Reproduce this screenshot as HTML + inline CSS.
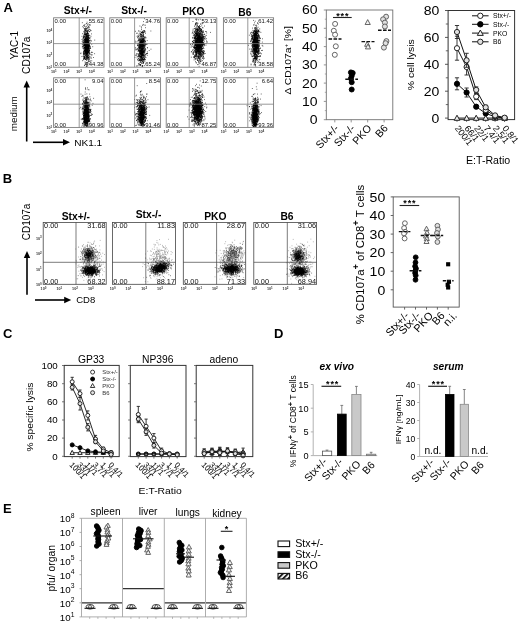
<!DOCTYPE html>
<html lang="en"><head><meta charset="utf-8"><title>Figure</title>
<style>
html,body{margin:0;padding:0;background:#fff;}
svg{display:block;font-family:'Liberation Sans', sans-serif;}
</style></head><body>
<svg width="520" height="623" viewBox="0 0 520 623" fill="#000">
<rect width="520" height="623" fill="#fff"/>
<text font-size="13" x="3.4" y="12.4" font-weight="bold">A</text>
<text font-size="10.3" x="77.8" y="13.8" text-anchor="middle" font-weight="bold">Stx+/-</text>
<text font-size="10.3" x="134.0" y="13.8" text-anchor="middle" font-weight="bold">Stx-/-</text>
<text font-size="10.3" x="193.4" y="15.0" text-anchor="middle" font-weight="bold">PKO</text>
<text font-size="10.3" x="244.8" y="15.7" text-anchor="middle" font-weight="bold">B6</text>
<path d="M85.8 49.6h0.75M85.8 43.0h0.75M84.7 43.8h0.75M88.0 48.9h0.75M87.9 47.5h0.75M86.8 47.0h0.75M83.5 52.3h0.75M87.0 49.5h0.75M83.5 31.5h0.75M84.8 41.8h0.75M86.7 45.1h0.75M87.0 40.4h0.75M86.7 48.7h0.75M85.1 59.2h0.75M87.1 55.1h0.75M85.2 39.6h0.75M85.6 44.6h0.75M87.2 47.5h0.75M85.5 37.8h0.75M85.4 55.3h0.75M84.9 47.5h0.75M86.9 33.6h0.75M86.3 55.9h0.75M83.0 42.9h0.75M86.0 39.0h0.75M87.0 45.0h0.75M83.9 52.1h0.75M87.3 53.1h0.75M88.5 48.4h0.75M86.4 35.1h0.75M87.2 40.6h0.75M85.5 35.4h0.75M84.7 41.3h0.75M88.3 29.2h0.75M83.9 47.4h0.75M88.5 50.1h0.75M83.2 25.4h0.75M86.8 39.6h0.75M84.4 53.3h0.75M88.0 46.8h0.75M86.6 49.0h0.75M88.8 50.5h0.75M87.0 49.9h0.75M83.7 55.8h0.75M87.7 49.7h0.75M83.0 40.4h0.75M87.5 31.0h0.75M85.9 53.7h0.75M84.1 58.4h0.75M87.1 44.3h0.75M86.7 50.7h0.75M86.4 54.7h0.75M85.1 42.2h0.75M87.9 45.7h0.75M84.8 53.1h0.75M88.5 41.9h0.75M84.0 44.4h0.75M86.0 43.1h0.75M88.4 37.3h0.75M88.2 35.4h0.75M84.9 50.6h0.75M88.0 52.4h0.75M86.8 46.6h0.75M86.4 50.1h0.75M85.9 47.7h0.75M87.1 45.5h0.75M87.4 50.0h0.75M89.4 48.1h0.75M85.5 42.5h0.75M86.2 52.9h0.75M85.7 48.6h0.75M89.1 25.0h0.75M84.4 47.5h0.75M86.8 47.4h0.75M85.5 50.7h0.75M86.7 41.3h0.75M90.1 48.3h0.75M85.3 44.7h0.75M85.8 45.0h0.75M81.8 41.6h0.75M87.8 36.2h0.75M86.1 53.1h0.75M87.6 57.4h0.75M83.5 42.7h0.75M85.7 50.5h0.75M87.9 24.0h0.75M87.9 33.9h0.75M87.3 33.6h0.75M86.5 55.1h0.75M86.0 47.0h0.75M87.5 46.6h0.75M86.1 57.8h0.75M87.9 43.1h0.75M90.6 36.3h0.75M87.7 43.4h0.75M86.4 51.1h0.75M86.6 50.6h0.75M83.8 33.4h0.75M87.2 37.8h0.75M84.6 33.7h0.75M88.2 51.5h0.75M88.6 38.0h0.75M86.2 36.4h0.75M87.4 58.2h0.75M84.8 58.0h0.75M87.8 44.1h0.75M83.0 56.8h0.75M86.0 40.7h0.75M86.8 48.8h0.75M88.6 37.3h0.75M88.0 57.4h0.75M88.5 44.1h0.75M85.0 53.6h0.75M86.4 46.5h0.75M88.5 43.4h0.75M82.5 42.4h0.75M83.2 52.1h0.75M86.7 40.6h0.75M86.2 52.2h0.75M86.3 56.1h0.75M86.1 53.8h0.75M88.6 58.4h0.75M85.1 52.5h0.75M83.2 36.8h0.75M83.1 54.1h0.75M84.2 45.4h0.75M85.9 45.3h0.75M85.3 47.4h0.75M89.1 45.9h0.75M87.0 53.5h0.75M85.9 35.4h0.75M85.3 54.1h0.75M83.6 40.7h0.75M87.8 51.8h0.75M86.2 51.9h0.75M86.5 36.1h0.75M83.7 40.4h0.75M87.7 41.0h0.75M84.8 39.3h0.75M83.7 44.6h0.75M84.3 48.4h0.75M82.4 48.1h0.75M85.2 30.0h0.75M87.4 43.3h0.75M82.6 38.5h0.75M86.7 41.8h0.75M87.4 51.5h0.75M87.3 48.1h0.75M88.3 50.8h0.75M86.9 28.8h0.75M87.6 56.0h0.75M85.7 41.7h0.75M89.3 31.4h0.75M87.0 64.9h0.75M84.7 51.0h0.75M89.2 44.5h0.75M87.1 52.7h0.75M84.8 44.8h0.75M86.7 52.1h0.75M86.1 43.9h0.75M84.6 42.6h0.75M87.6 46.3h0.75M84.8 38.8h0.75M90.5 54.6h0.75M87.2 24.8h0.75M87.2 49.3h0.75M88.9 48.9h0.75M86.1 49.7h0.75M83.1 53.8h0.75M86.7 39.9h0.75M88.3 60.0h0.75M84.0 40.2h0.75M86.7 47.0h0.75M85.6 37.7h0.75M89.6 53.8h0.75M84.3 34.7h0.75M88.9 53.4h0.75M89.1 52.0h0.75M84.8 47.6h0.75M82.7 39.5h0.75M86.1 49.7h0.75M85.0 44.5h0.75M86.9 48.5h0.75M87.2 47.2h0.75M85.7 51.8h0.75M86.3 38.9h0.75M85.2 45.5h0.75M86.0 46.8h0.75M86.2 46.9h0.75M86.0 35.4h0.75M86.9 53.9h0.75M86.9 44.0h0.75M86.9 37.8h0.75M83.2 46.0h0.75M84.7 51.4h0.75M84.5 24.5h0.75M84.5 58.1h0.75M85.6 34.5h0.75M85.0 49.7h0.75M87.0 46.9h0.75M88.6 51.2h0.75M86.2 50.3h0.75M88.8 53.3h0.75M87.8 36.8h0.75M86.0 51.3h0.75M85.7 54.1h0.75M87.2 52.8h0.75M85.9 65.9h0.75M88.2 43.8h0.75M86.3 66.3h0.75M85.7 52.5h0.75M87.8 45.6h0.75M84.3 47.0h0.75M86.8 54.5h0.75M87.5 45.7h0.75M87.6 49.8h0.75M86.5 45.9h0.75M85.8 51.0h0.75M84.5 40.5h0.75M86.2 33.8h0.75M85.5 29.4h0.75M85.1 50.0h0.75M87.1 45.1h0.75M85.8 34.2h0.75M89.1 49.6h0.75M87.9 38.4h0.75M85.9 30.9h0.75M87.4 53.0h0.75M83.2 45.1h0.75M87.2 31.4h0.75M83.3 37.0h0.75M85.2 34.3h0.75M86.3 47.5h0.75M87.2 51.1h0.75M88.6 54.8h0.75M84.1 41.5h0.75M84.5 36.9h0.75M86.1 45.5h0.75M87.0 32.8h0.75M84.2 45.3h0.75M85.9 43.0h0.75M86.1 39.4h0.75M87.3 48.3h0.75M86.1 40.1h0.75M85.9 23.7h0.75M84.6 45.8h0.75M83.8 47.1h0.75M86.4 34.5h0.75M85.8 43.0h0.75M86.9 50.4h0.75M86.1 38.7h0.75M86.0 45.0h0.75M87.4 47.9h0.75M85.0 34.7h0.75M85.6 39.6h0.75M84.4 44.6h0.75M85.4 46.3h0.75M87.0 42.2h0.75M89.9 42.9h0.75M88.0 46.5h0.75M88.0 26.5h0.75M85.0 47.5h0.75M87.2 64.2h0.75M86.7 55.7h0.75M87.4 53.1h0.75M87.0 44.3h0.75M87.0 36.9h0.75M88.1 37.4h0.75M86.6 62.5h0.75M85.8 45.7h0.75M88.1 45.7h0.75M84.9 47.6h0.75M87.1 51.2h0.75M85.0 59.5h0.75M88.9 45.6h0.75M86.6 42.1h0.75M88.5 39.9h0.75M87.3 41.7h0.75M85.1 51.2h0.75M88.3 45.4h0.75M85.1 52.0h0.75M86.1 48.0h0.75M88.6 54.6h0.75M85.4 63.8h0.75M86.2 51.8h0.75M85.2 45.1h0.75M83.4 59.8h0.75M88.4 35.8h0.75M83.8 32.5h0.75M88.1 41.8h0.75M86.1 43.0h0.75M86.0 36.8h0.75M86.2 34.0h0.75M86.1 48.0h0.75M86.9 43.6h0.75M84.8 46.8h0.75M85.4 58.0h0.75M87.4 44.6h0.75M85.4 39.9h0.75M84.7 42.7h0.75M86.7 49.6h0.75M87.1 62.3h0.75M85.1 45.6h0.75M90.7 30.6h0.75M85.4 46.9h0.75M86.4 48.8h0.75M85.8 48.4h0.75M86.3 51.7h0.75M83.2 38.4h0.75M86.2 37.2h0.75M84.5 50.5h0.75M85.2 50.6h0.75M87.4 48.0h0.75M87.0 44.7h0.75M83.9 45.3h0.75M86.9 41.3h0.75M86.0 51.5h0.75M84.8 50.6h0.75M89.2 41.1h0.75M86.4 44.3h0.75M88.7 48.0h0.75M87.6 40.0h0.75M86.2 45.4h0.75M83.4 57.0h0.75M87.6 31.5h0.75M87.4 44.5h0.75M86.9 48.4h0.75M83.8 43.8h0.75M88.6 40.9h0.75M84.6 34.6h0.75M84.2 48.2h0.75M88.9 48.9h0.75M86.6 63.4h0.75M85.4 40.1h0.75M87.0 49.9h0.75M84.6 36.1h0.75M86.7 47.5h0.75M84.1 43.9h0.75M85.3 49.2h0.75M86.0 44.8h0.75M85.6 53.9h0.75M88.4 42.6h0.75M87.6 39.4h0.75M86.3 51.5h0.75M88.6 42.4h0.75M86.1 47.1h0.75M83.8 45.6h0.75M85.1 48.5h0.75M84.4 29.7h0.75M86.3 47.6h0.75M85.3 52.6h0.75M85.8 40.7h0.75M87.0 33.0h0.75M85.1 45.3h0.75M87.6 44.2h0.75M86.7 40.3h0.75M86.7 58.8h0.75M85.1 64.4h0.75M85.2 45.6h0.75M86.5 53.7h0.75M84.2 28.7h0.75M87.2 51.9h0.75M86.5 47.5h0.75M87.7 48.5h0.75M88.9 35.6h0.75M87.5 42.5h0.75M87.7 62.7h0.75M86.2 43.5h0.75M85.4 38.8h0.75M85.2 50.6h0.75M86.3 46.0h0.75M85.9 52.8h0.75M87.0 44.4h0.75M87.3 44.3h0.75M84.4 57.1h0.75M86.9 37.8h0.75M87.9 48.3h0.75M83.7 58.4h0.75M86.7 52.6h0.75M86.5 44.3h0.75M83.7 53.3h0.75M86.2 43.2h0.75M86.8 46.1h0.75M87.3 42.5h0.75M86.1 28.4h0.75M85.5 50.9h0.75M88.3 42.6h0.75M86.0 58.2h0.75M85.7 51.4h0.75M88.9 45.8h0.75M88.2 39.8h0.75M86.5 44.9h0.75M86.4 54.5h0.75M90.0 40.2h0.75M85.3 49.5h0.75M84.5 49.5h0.75M87.1 43.3h0.75M87.0 33.1h0.75M87.4 33.1h0.75M85.1 41.1h0.75M85.6 52.4h0.75M86.3 42.3h0.75M87.1 58.2h0.75M86.2 48.4h0.75M88.2 47.6h0.75M84.1 65.4h0.75M89.7 29.6h0.75M86.1 48.8h0.75M87.7 50.9h0.75M85.8 37.1h0.75M86.4 53.8h0.75M84.5 37.3h0.75M86.2 30.0h0.75M85.8 42.0h0.75M86.9 39.9h0.75M84.8 42.3h0.75M86.1 40.2h0.75M86.2 51.5h0.75M88.1 59.1h0.75M84.9 42.1h0.75M82.2 60.7h0.75M85.0 45.2h0.75M87.0 34.6h0.75M86.9 45.3h0.75M83.3 47.8h0.75M88.1 30.6h0.75M87.5 47.2h0.75M87.0 49.0h0.75M88.3 43.7h0.75M87.6 42.2h0.75M87.4 39.0h0.75M86.0 59.3h0.75M86.9 44.2h0.75M84.4 39.2h0.75M86.5 53.0h0.75M86.9 49.7h0.75M86.1 56.3h0.75M85.6 41.1h0.75M87.6 46.0h0.75M85.8 40.9h0.75M85.8 50.5h0.75M86.8 35.8h0.75M86.9 46.9h0.75M84.6 51.7h0.75M85.8 42.8h0.75M87.5 56.1h0.75M85.1 49.0h0.75M84.8 64.0h0.75M85.4 55.1h0.75M85.2 52.0h0.75M89.8 25.2h0.75M85.5 49.5h0.75M86.1 40.2h0.75M89.6 46.1h0.75M83.6 52.3h0.75M83.4 54.7h0.75M85.3 46.7h0.75M88.2 46.4h0.75M84.0 31.9h0.75M88.1 51.4h0.75M84.9 52.4h0.75M87.0 50.7h0.75M82.6 43.1h0.75M87.6 51.4h0.75M87.6 25.8h0.75M86.5 49.4h0.75M90.3 37.9h0.75M85.7 45.8h0.75M87.6 42.0h0.75M88.0 39.2h0.75M86.6 41.3h0.75M86.5 40.0h0.75M83.6 54.2h0.75M86.7 41.0h0.75M86.5 53.4h0.75M84.6 44.6h0.75M87.1 49.7h0.75M85.7 28.6h0.75M88.2 48.1h0.75M86.2 43.3h0.75M86.6 42.1h0.75M84.6 39.6h0.75M85.2 40.6h0.75M84.3 50.6h0.75M84.1 50.8h0.75M84.6 48.3h0.75M88.4 47.1h0.75M85.0 45.9h0.75M86.4 31.6h0.75M85.2 46.8h0.75M85.4 46.1h0.75M87.4 51.6h0.75M87.6 50.2h0.75M85.7 45.4h0.75M85.8 43.0h0.75M85.9 31.7h0.75M85.7 45.3h0.75M84.6 45.3h0.75M87.0 44.2h0.75M89.5 24.6h0.75M85.9 30.9h0.75M82.2 46.5h0.75M87.0 43.1h0.75M87.1 27.6h0.75M87.6 48.5h0.75M86.2 40.8h0.75M87.2 41.6h0.75M86.6 41.4h0.75M82.6 45.2h0.75M86.5 51.5h0.75M84.8 45.2h0.75M87.2 46.7h0.75M88.2 61.4h0.75M84.7 30.1h0.75M87.6 57.7h0.75M87.7 52.0h0.75M85.2 39.8h0.75M87.6 38.2h0.75M83.3 37.5h0.75M90.2 60.9h0.75M85.1 39.7h0.75M86.6 39.5h0.75M88.3 44.9h0.75M84.5 56.0h0.75M85.3 47.3h0.75M86.2 43.0h0.75M86.7 40.0h0.75M83.2 27.8h0.75M84.2 39.4h0.75M86.2 45.9h0.75M87.1 46.5h0.75M84.9 39.8h0.75M82.8 44.1h0.75M87.0 49.7h0.75M86.0 44.1h0.75M87.7 45.6h0.75M87.4 50.2h0.75M86.5 56.0h0.75M85.3 42.6h0.75M84.9 39.1h0.75M88.7 59.6h0.75M86.2 50.0h0.75M88.1 52.0h0.75M88.1 35.4h0.75M85.2 49.1h0.75M88.5 46.3h0.75M84.8 42.7h0.75M85.1 38.6h0.75M88.6 40.5h0.75M86.2 62.8h0.75M88.1 48.2h0.75M85.2 48.8h0.75M88.8 50.5h0.75M88.2 46.3h0.75M87.0 43.9h0.75M86.9 55.9h0.75M83.9 45.0h0.75M86.6 40.9h0.75M85.7 51.8h0.75M89.4 50.5h0.75M86.7 33.1h0.75M89.3 46.1h0.75M86.1 36.6h0.75M86.1 36.7h0.75M86.3 49.2h0.75M86.2 47.7h0.75M84.8 56.9h0.75M85.2 31.0h0.75M85.9 39.4h0.75M84.6 42.7h0.75M86.7 36.0h0.75M86.0 56.9h0.75M87.3 44.3h0.75M86.4 44.5h0.75M86.1 51.4h0.75M86.1 26.3h0.75M86.2 38.4h0.75M87.2 40.6h0.75M86.4 62.9h0.75M84.5 36.5h0.75M83.9 26.3h0.75M83.2 48.4h0.75M85.2 30.6h0.75M83.8 50.4h0.75M85.0 42.6h0.75M86.7 56.4h0.75M89.3 53.8h0.75M86.4 47.0h0.75M89.1 56.9h0.75M85.7 49.2h0.75M86.7 45.9h0.75M85.4 34.9h0.75M85.3 33.1h0.75M88.2 49.8h0.75M84.3 56.7h0.75M87.6 30.2h0.75M89.1 52.0h0.75M89.5 35.7h0.75M87.0 48.9h0.75M86.5 46.9h0.75M87.9 33.5h0.75M84.2 34.3h0.75M85.3 40.7h0.75M86.8 47.6h0.75M86.3 40.1h0.75M85.5 53.1h0.75M87.4 46.3h0.75M85.7 57.9h0.75M85.2 50.7h0.75M88.0 43.4h0.75M87.5 36.6h0.75M87.8 47.1h0.75M83.7 50.9h0.75M84.8 55.8h0.75M85.1 44.2h0.75M86.7 42.8h0.75M86.6 41.1h0.75M87.3 45.5h0.75M86.5 23.5h0.75M88.1 45.8h0.75M83.3 46.3h0.75M86.9 54.1h0.75M84.5 57.9h0.75M85.9 64.7h0.75M86.0 50.9h0.75M85.6 36.6h0.75M88.0 52.8h0.75M88.7 52.4h0.75M85.3 32.2h0.75M85.2 40.1h0.75M84.9 50.2h0.75M86.7 43.3h0.75M86.5 44.3h0.75M86.5 51.5h0.75M87.7 40.0h0.75M83.8 56.9h0.75M86.4 54.3h0.75M83.6 42.9h0.75M86.2 34.0h0.75M85.4 51.3h0.75M87.9 58.3h0.75M84.8 34.3h0.75M87.0 53.0h0.75M86.5 35.1h0.75M87.5 51.8h0.75M87.1 41.6h0.75M86.7 51.8h0.75M85.3 30.8h0.75M86.7 49.3h0.75M86.2 52.6h0.75M85.3 44.8h0.75M85.7 50.1h0.75M88.8 43.5h0.75M89.5 57.7h0.75M87.5 50.2h0.75M89.0 44.1h0.75M86.0 37.0h0.75M87.0 56.3h0.75M87.1 48.9h0.75M85.9 46.9h0.75M83.9 53.9h0.75M85.5 36.7h0.75M85.0 38.9h0.75M87.6 54.0h0.75M84.0 52.9h0.75M87.6 40.9h0.75M83.8 39.5h0.75M85.2 48.2h0.75M85.6 29.3h0.75M86.6 33.2h0.75M87.6 35.8h0.75M85.1 38.7h0.75M85.3 55.9h0.75M87.6 50.3h0.75M86.7 33.1h0.75M85.4 41.1h0.75M84.6 49.6h0.75M85.0 39.8h0.75M84.5 29.0h0.75M87.2 56.1h0.75M86.5 37.7h0.75M81.9 46.9h0.75M88.1 47.9h0.75M87.7 57.3h0.75M88.0 42.0h0.75M87.9 51.7h0.75M83.7 42.3h0.75M83.9 44.6h0.75M87.1 37.0h0.75M82.9 55.9h0.75M86.8 57.3h0.75M84.1 54.0h0.75M89.5 61.6h0.75M85.9 47.7h0.75M86.0 53.5h0.75M87.9 46.2h0.75M84.0 51.4h0.75M85.4 50.5h0.75M86.6 58.5h0.75M88.0 41.9h0.75M86.8 59.6h0.75M85.3 49.0h0.75M88.1 55.6h0.75M87.0 34.9h0.75M84.2 47.5h0.75M86.8 65.9h0.75M84.8 54.6h0.75M87.4 32.1h0.75M84.9 46.8h0.75M85.4 44.3h0.75M87.0 39.0h0.75M86.9 40.4h0.75M85.3 49.8h0.75M85.3 47.8h0.75M88.8 45.7h0.75M86.0 51.4h0.75M85.6 54.2h0.75M84.1 50.4h0.75M85.4 39.1h0.75M89.0 38.7h0.75M89.0 50.8h0.75M88.5 37.7h0.75M88.1 57.2h0.75M86.0 44.5h0.75M90.1 46.9h0.75M85.5 40.5h0.75M86.9 48.1h0.75M86.5 59.3h0.75M85.7 49.3h0.75M88.5 37.5h0.75M87.9 60.2h0.75M84.0 36.7h0.75M84.5 30.7h0.75M86.9 30.7h0.75M87.0 57.1h0.75M83.6 43.0h0.75M83.1 51.7h0.75M85.0 43.4h0.75M86.3 49.9h0.75M85.6 45.6h0.75M85.3 46.4h0.75M84.3 46.0h0.75M83.1 41.6h0.75M89.3 46.1h0.75M84.2 47.6h0.75M84.6 32.3h0.75M85.0 51.4h0.75M86.8 44.7h0.75M84.7 36.9h0.75M88.4 47.5h0.75M84.7 28.6h0.75M84.0 65.3h0.75M84.4 44.9h0.75M86.5 44.2h0.75M85.8 34.5h0.75M84.5 59.0h0.75M85.0 52.3h0.75M83.5 43.3h0.75M86.6 53.8h0.75M84.4 50.3h0.75M86.8 39.6h0.75M87.0 38.3h0.75M84.9 45.3h0.75M81.9 44.6h0.75M84.6 33.8h0.75M85.5 51.6h0.75M85.6 55.6h0.75M84.3 35.0h0.75M88.7 48.7h0.75M87.7 38.9h0.75M87.5 47.6h0.75M87.2 45.7h0.75M88.1 40.3h0.75M84.7 33.7h0.75M88.1 39.6h0.75M84.5 38.0h0.75M85.5 35.3h0.75M85.7 40.5h0.75M85.3 37.8h0.75M86.3 41.8h0.75M86.4 47.5h0.75M86.7 28.0h0.75M85.3 39.1h0.75M87.4 32.9h0.75M85.1 43.1h0.75M85.7 53.4h0.75M85.5 53.2h0.75M83.9 31.0h0.75M88.2 49.0h0.75M87.0 46.5h0.75M87.0 35.8h0.75M87.7 41.2h0.75M87.8 46.2h0.75M83.0 35.2h0.75M88.0 44.4h0.75M85.6 47.4h0.75M85.5 41.1h0.75M86.4 46.7h0.75M88.6 45.9h0.75M89.2 59.9h0.75M91.0 58.1h0.75M86.8 48.4h0.75M86.1 39.3h0.75M86.3 40.3h0.75M90.8 52.6h0.75M85.3 26.9h0.75M86.4 42.6h0.75M83.7 35.1h0.75M80.6 53.0h0.75M86.4 45.4h0.75M90.3 48.4h0.75M86.9 43.1h0.75M84.9 62.7h0.75M89.1 65.0h0.75M85.6 47.3h0.75M84.2 57.2h0.75M82.9 52.9h0.75M89.3 61.8h0.75M84.1 58.4h0.75M84.6 39.1h0.75M83.1 59.1h0.75M90.8 40.8h0.75M84.5 43.4h0.75M93.0 57.5h0.75M85.1 28.2h0.75M84.8 59.5h0.75M91.4 44.2h0.75M84.7 41.6h0.75M81.6 56.5h0.75M83.7 58.2h0.75M82.1 33.7h0.75M87.2 39.0h0.75M88.5 47.1h0.75M83.4 53.5h0.75M88.7 26.9h0.75M91.2 52.2h0.75M88.5 27.5h0.75M84.6 43.3h0.75M89.3 31.7h0.75M84.2 25.7h0.75M85.9 50.6h0.75M82.1 40.8h0.75M87.8 63.6h0.75M88.2 43.8h0.75M83.4 37.2h0.75M84.8 48.5h0.75M86.4 64.5h0.75M87.2 35.7h0.75M90.5 57.0h0.75M86.8 39.4h0.75M81.6 36.3h0.75M88.9 38.6h0.75M83.1 49.1h0.75M87.1 53.4h0.75M88.2 61.8h0.75M84.3 57.3h0.75M83.9 54.3h0.75M87.0 49.6h0.75M89.0 46.8h0.75M89.4 56.2h0.75M86.9 41.0h0.75M84.5 41.5h0.75M86.0 46.7h0.75M94.3 53.7h0.75M88.5 38.0h0.75M84.7 43.6h0.75M87.0 36.1h0.75M90.7 41.1h0.75M89.3 22.5h0.75M86.5 49.9h0.75M87.0 53.3h0.75M87.2 48.7h0.75M81.6 39.5h0.75M80.4 53.6h0.75M87.3 44.9h0.75M84.4 40.9h0.75M91.3 65.2h0.75M86.3 60.5h0.75M82.4 26.7h0.75M85.2 37.8h0.75M85.0 49.0h0.75M94.4 40.1h0.75M86.6 49.9h0.75M86.4 56.8h0.75M91.1 33.9h0.75M86.9 44.2h0.75M87.4 30.9h0.75M81.9 22.7h0.75M87.9 49.0h0.75M86.7 22.2h0.75M85.5 39.1h0.75M82.8 37.4h0.75M88.3 52.7h0.75M86.4 52.4h0.75M84.9 47.7h0.75M86.6 52.8h0.75M86.3 45.5h0.75M86.1 40.2h0.75M92.3 52.4h0.75M90.1 30.7h0.75M88.3 55.8h0.75M91.4 60.8h0.75M88.5 34.6h0.75M84.2 49.8h0.75M87.8 36.3h0.75M85.5 42.8h0.75M86.7 50.5h0.75M85.8 34.0h0.75M89.7 63.8h0.75M86.2 57.8h0.75M87.7 53.9h0.75M87.8 39.0h0.75M88.0 57.6h0.75M91.9 66.1h0.75M91.7 54.8h0.75M85.6 40.7h0.75M84.4 48.2h0.75M86.4 54.0h0.75M92.4 46.7h0.75M88.3 52.0h0.75M87.2 44.8h0.75M86.2 38.3h0.75M87.0 46.7h0.75M87.3 38.0h0.75M86.6 47.5h0.75M88.1 35.8h0.75M87.6 57.3h0.75M88.1 43.1h0.75M85.2 44.5h0.75M88.4 63.3h0.75M86.1 40.3h0.75M87.5 49.1h0.75M84.1 39.3h0.75M86.2 54.1h0.75M83.4 36.3h0.75M87.8 34.1h0.75M86.8 50.7h0.75M86.2 36.3h0.75M86.3 43.5h0.75M87.4 38.2h0.75M89.3 29.4h0.75M86.0 47.1h0.75M89.0 40.6h0.75M87.9 41.0h0.75M88.4 65.2h0.75M85.5 51.7h0.75M84.1 57.2h0.75M89.6 47.4h0.75M83.5 51.2h0.75M89.5 58.4h0.75M88.6 27.8h0.75M84.7 61.9h0.75M83.3 58.9h0.75M91.4 55.0h0.75M89.4 43.5h0.75M83.3 45.9h0.75M86.0 46.5h0.75M88.3 45.5h0.75M87.0 51.5h0.75M86.5 66.4h0.75" stroke="#000" stroke-width="0.75" opacity="1" fill="none"/>
<rect x="53.6" y="17.8" width="50.4" height="49.4" fill="none" stroke="#777" stroke-width="0.85"/>
<line x1="79.2" y1="17.8" x2="79.2" y2="67.2" stroke="#777" stroke-width="0.75"/>
<line x1="53.6" y1="43.6" x2="104.0" y2="43.6" stroke="#777" stroke-width="0.75"/>
<rect x="88.3" y="18.4" width="14.8" height="4.7" fill="#fff" opacity="0.85"/>
<rect x="88.3" y="61.9" width="14.8" height="4.7" fill="#fff" opacity="0.85"/>
<text font-size="5.9" x="54.5" y="22.5" fill="#111">0.00</text>
<text font-size="5.9" x="103.5" y="22.5" text-anchor="end" fill="#111">55.62</text>
<text font-size="5.9" x="54.5" y="66.4" fill="#111">0.00</text>
<text font-size="5.9" x="103.5" y="66.4" text-anchor="end" fill="#111">44.38</text>
<text font-size="3.7" x="51.0" y="73.2" font-weight="bold" fill="#333">10<tspan dy="-1.3" font-size="3.0">1</tspan></text>
<text font-size="3.7" x="63.6" y="73.2" font-weight="bold" fill="#333">10<tspan dy="-1.3" font-size="3.0">2</tspan></text>
<text font-size="3.7" x="76.2" y="73.2" font-weight="bold" fill="#333">10<tspan dy="-1.3" font-size="3.0">3</tspan></text>
<text font-size="3.7" x="88.8" y="73.2" font-weight="bold" fill="#333">10<tspan dy="-1.3" font-size="3.0">4</tspan></text>
<path d="M142.2 49.2h0.75M141.0 43.2h0.75M143.8 49.8h0.75M139.5 43.7h0.75M141.2 44.7h0.75M143.4 38.6h0.75M142.3 49.7h0.75M139.3 48.9h0.75M141.2 52.8h0.75M140.6 51.1h0.75M138.4 39.3h0.75M142.8 57.4h0.75M141.4 43.4h0.75M143.3 30.7h0.75M140.0 54.2h0.75M142.6 39.7h0.75M138.0 60.8h0.75M141.7 40.9h0.75M141.5 56.2h0.75M136.7 57.9h0.75M142.7 30.8h0.75M142.8 33.4h0.75M143.5 51.9h0.75M145.5 43.3h0.75M141.4 57.4h0.75M140.2 42.5h0.75M140.7 47.9h0.75M139.5 52.6h0.75M142.4 49.1h0.75M144.5 45.7h0.75M143.8 43.9h0.75M142.8 32.1h0.75M141.8 47.0h0.75M140.5 43.3h0.75M140.8 42.4h0.75M137.5 43.4h0.75M140.4 44.0h0.75M139.5 47.3h0.75M142.8 46.4h0.75M140.5 60.0h0.75M143.2 56.3h0.75M143.5 45.7h0.75M141.2 58.0h0.75M140.4 47.5h0.75M142.1 51.7h0.75M140.9 56.9h0.75M141.1 54.7h0.75M143.3 54.1h0.75M142.7 38.6h0.75M139.0 43.2h0.75M142.3 61.3h0.75M139.2 51.1h0.75M139.9 42.3h0.75M140.9 54.4h0.75M141.8 58.5h0.75M139.6 56.1h0.75M143.1 49.1h0.75M142.3 43.7h0.75M139.4 45.1h0.75M140.5 62.5h0.75M141.8 51.2h0.75M142.7 41.9h0.75M143.0 51.7h0.75M138.7 53.6h0.75M142.4 52.3h0.75M144.3 45.0h0.75M142.3 54.9h0.75M139.8 58.7h0.75M138.8 37.4h0.75M142.3 39.2h0.75M141.2 34.5h0.75M141.5 38.9h0.75M142.0 35.5h0.75M142.2 46.2h0.75M141.5 47.9h0.75M141.6 37.3h0.75M136.8 48.8h0.75M139.7 44.6h0.75M142.2 31.6h0.75M140.0 43.3h0.75M139.5 51.3h0.75M141.1 41.5h0.75M139.6 55.4h0.75M140.2 53.5h0.75M142.2 32.4h0.75M139.4 48.5h0.75M142.0 55.1h0.75M142.8 57.3h0.75M140.7 46.7h0.75M142.8 44.9h0.75M143.3 35.0h0.75M142.6 47.0h0.75M137.9 56.8h0.75M142.0 48.7h0.75M139.5 44.5h0.75M144.1 41.5h0.75M135.2 41.2h0.75M139.2 47.4h0.75M140.7 40.7h0.75M139.9 57.4h0.75M138.8 65.1h0.75M140.4 39.2h0.75M142.8 53.3h0.75M139.5 54.9h0.75M138.1 40.6h0.75M143.4 46.3h0.75M139.1 52.9h0.75M143.1 48.3h0.75M138.1 45.6h0.75M142.2 55.0h0.75M144.7 46.4h0.75M140.5 48.2h0.75M143.6 40.5h0.75M143.7 25.1h0.75M142.8 42.8h0.75M142.2 54.4h0.75M139.3 47.8h0.75M141.8 53.5h0.75M139.7 40.1h0.75M141.1 46.6h0.75M138.7 56.4h0.75M140.4 60.7h0.75M142.9 48.7h0.75M142.7 39.0h0.75M140.8 43.6h0.75M139.1 48.6h0.75M141.1 60.7h0.75M135.4 42.8h0.75M139.7 44.6h0.75M142.2 51.9h0.75M141.5 44.5h0.75M142.3 51.6h0.75M138.1 46.3h0.75M138.9 38.5h0.75M141.7 49.0h0.75M141.6 41.1h0.75M141.0 40.7h0.75M142.1 54.4h0.75M144.6 59.3h0.75M140.0 44.6h0.75M139.7 51.1h0.75M145.0 54.5h0.75M137.4 37.8h0.75M139.1 52.9h0.75M141.4 51.0h0.75M144.6 41.5h0.75M139.9 65.2h0.75M142.0 41.9h0.75M137.7 35.5h0.75M137.0 49.1h0.75M141.5 56.9h0.75M141.1 42.6h0.75M140.1 64.7h0.75M138.2 50.0h0.75M141.4 53.7h0.75M140.7 52.7h0.75M142.9 47.2h0.75M140.6 46.9h0.75M139.7 46.7h0.75M140.9 50.3h0.75M143.8 59.6h0.75M140.6 53.6h0.75M141.9 55.0h0.75M141.4 50.8h0.75M140.6 41.8h0.75M143.0 59.5h0.75M142.6 52.2h0.75M141.9 44.7h0.75M138.2 54.1h0.75M141.8 43.8h0.75M139.7 59.4h0.75M138.2 63.5h0.75M140.1 48.3h0.75M140.5 49.8h0.75M141.0 42.1h0.75M143.3 41.8h0.75M140.5 53.2h0.75M140.4 44.8h0.75M142.0 45.4h0.75M139.2 47.6h0.75M141.0 63.0h0.75M139.4 56.7h0.75M140.0 45.5h0.75M140.8 50.8h0.75M143.0 63.4h0.75M140.3 59.8h0.75M143.2 55.4h0.75M140.0 56.2h0.75M141.2 51.5h0.75M140.9 54.1h0.75M143.4 58.1h0.75M141.0 57.0h0.75M144.0 40.5h0.75M144.1 37.1h0.75M142.4 53.5h0.75M144.1 50.9h0.75M140.5 41.7h0.75M139.1 55.0h0.75M141.0 42.4h0.75M142.4 42.0h0.75M140.6 44.6h0.75M144.4 60.9h0.75M141.1 35.1h0.75M141.9 49.1h0.75M142.0 53.3h0.75M140.8 56.4h0.75M142.9 50.3h0.75M140.7 44.4h0.75M142.6 39.2h0.75M141.1 42.1h0.75M138.9 53.6h0.75M141.4 48.8h0.75M143.0 35.8h0.75M141.3 51.0h0.75M142.9 39.3h0.75M142.7 50.4h0.75M143.8 58.2h0.75M141.4 44.9h0.75M140.8 40.5h0.75M141.3 32.5h0.75M141.2 52.1h0.75M143.2 45.5h0.75M143.9 43.0h0.75M141.2 32.5h0.75M140.0 41.8h0.75M144.0 52.9h0.75M139.5 52.9h0.75M142.2 46.6h0.75M141.4 46.0h0.75M140.4 33.8h0.75M141.2 59.2h0.75M143.9 46.2h0.75M140.1 46.7h0.75M143.0 51.4h0.75M140.4 51.5h0.75M141.0 52.8h0.75M140.7 36.3h0.75M141.5 54.8h0.75M139.5 47.6h0.75M142.9 45.4h0.75M140.3 65.3h0.75M142.9 57.0h0.75M139.7 62.0h0.75M138.5 44.2h0.75M142.7 59.5h0.75M139.8 43.0h0.75M141.7 32.5h0.75M142.5 53.1h0.75M140.6 52.9h0.75M142.8 51.1h0.75M142.3 61.0h0.75M140.6 49.8h0.75M140.5 57.0h0.75M140.7 52.4h0.75M141.6 49.0h0.75M144.4 47.8h0.75M143.9 55.3h0.75M143.7 47.1h0.75M143.0 54.7h0.75M140.3 50.7h0.75M141.2 48.2h0.75M143.7 42.6h0.75M138.5 34.2h0.75M140.6 43.2h0.75M141.4 53.1h0.75M144.5 51.0h0.75M142.2 42.5h0.75M142.4 59.6h0.75M143.7 32.5h0.75M142.9 61.5h0.75M142.8 36.3h0.75M140.9 53.3h0.75M142.1 41.9h0.75M139.9 56.4h0.75M139.1 60.2h0.75M141.4 51.0h0.75M139.1 43.6h0.75M142.6 36.5h0.75M145.0 37.0h0.75M139.3 48.9h0.75M142.2 54.5h0.75M140.8 46.8h0.75M141.0 43.8h0.75M136.9 56.4h0.75M141.8 49.8h0.75M140.3 50.6h0.75M141.4 47.9h0.75M143.3 34.4h0.75M141.8 39.8h0.75M140.9 60.7h0.75M139.5 47.7h0.75M140.4 56.3h0.75M139.7 34.8h0.75M142.3 45.6h0.75M140.8 57.3h0.75M139.9 45.5h0.75M141.7 51.9h0.75M140.5 56.9h0.75M145.3 45.2h0.75M144.6 31.3h0.75M143.8 45.7h0.75M141.6 45.7h0.75M140.3 38.1h0.75M140.7 59.1h0.75M143.4 45.7h0.75M140.5 42.8h0.75M139.3 63.2h0.75M142.5 49.5h0.75M140.6 40.2h0.75M143.7 54.9h0.75M139.8 56.6h0.75M139.5 53.7h0.75M139.7 45.1h0.75M142.3 52.0h0.75M143.1 41.7h0.75M144.1 59.5h0.75M141.4 52.3h0.75M140.1 47.3h0.75M139.1 49.2h0.75M141.7 59.5h0.75M143.0 55.1h0.75M140.8 46.7h0.75M140.8 50.3h0.75M138.1 54.8h0.75M138.7 44.3h0.75M141.4 44.3h0.75M144.3 47.7h0.75M144.1 58.1h0.75M140.5 51.8h0.75M143.6 45.8h0.75M141.6 43.9h0.75M141.5 45.6h0.75M141.5 56.7h0.75M143.8 49.6h0.75M141.7 55.5h0.75M140.9 39.9h0.75M143.3 40.9h0.75M143.0 40.6h0.75M144.6 40.0h0.75M142.9 60.7h0.75M139.7 60.6h0.75M140.0 34.1h0.75M142.6 54.2h0.75M141.0 27.9h0.75M141.3 46.0h0.75M140.7 46.1h0.75M138.3 43.9h0.75M144.5 61.1h0.75M140.8 42.7h0.75M142.1 57.2h0.75M142.6 39.0h0.75M141.7 49.6h0.75M143.9 58.3h0.75M142.3 58.4h0.75M140.7 61.1h0.75M140.7 51.7h0.75M143.0 41.0h0.75M140.2 34.2h0.75M141.7 48.1h0.75M140.8 52.6h0.75M137.7 48.3h0.75M141.6 46.3h0.75M142.8 62.8h0.75M140.6 40.8h0.75M140.4 49.3h0.75M142.4 41.5h0.75M143.1 40.1h0.75M142.8 52.0h0.75M142.2 66.1h0.75M140.9 47.1h0.75M142.2 55.5h0.75M139.1 50.7h0.75M140.1 53.6h0.75M143.8 48.9h0.75M141.2 50.0h0.75M136.3 54.8h0.75M142.4 49.8h0.75M140.7 42.5h0.75M141.1 58.4h0.75M141.2 59.5h0.75M137.0 44.7h0.75M141.9 48.4h0.75M138.5 43.1h0.75M143.6 38.0h0.75M139.7 39.5h0.75M140.4 53.7h0.75M142.4 31.9h0.75M143.9 43.7h0.75M140.4 62.1h0.75M141.3 38.4h0.75M140.3 42.6h0.75M139.7 45.8h0.75M142.9 51.4h0.75M139.7 49.4h0.75M141.5 54.7h0.75M140.8 52.2h0.75M145.0 49.3h0.75M139.5 51.2h0.75M140.0 45.5h0.75M141.7 51.2h0.75M140.9 55.4h0.75M141.1 37.9h0.75M142.9 45.5h0.75M143.5 43.2h0.75M142.4 51.1h0.75M136.7 36.3h0.75M139.5 60.0h0.75M138.1 56.0h0.75M143.3 52.5h0.75M142.6 44.5h0.75M141.4 50.3h0.75M142.1 54.3h0.75M141.0 42.8h0.75M140.4 51.9h0.75M138.5 38.3h0.75M140.7 44.0h0.75M140.9 26.8h0.75M140.8 46.5h0.75M142.7 32.3h0.75M140.9 52.4h0.75M142.2 58.3h0.75M143.2 39.9h0.75M142.5 45.8h0.75M140.0 61.0h0.75M140.3 41.5h0.75M140.7 41.5h0.75M143.1 51.6h0.75M143.8 51.9h0.75M140.3 57.1h0.75M140.3 44.7h0.75M141.1 48.8h0.75M143.5 43.5h0.75M142.0 48.3h0.75M139.2 39.5h0.75M141.0 51.8h0.75M142.0 52.4h0.75M141.5 44.8h0.75M142.1 40.3h0.75M139.1 45.8h0.75M138.9 44.3h0.75M140.1 44.0h0.75M141.3 41.9h0.75M140.7 34.5h0.75M141.7 41.3h0.75M142.1 25.3h0.75M140.0 50.5h0.75M137.2 45.5h0.75M141.6 49.3h0.75M138.8 50.4h0.75M141.7 40.5h0.75M142.7 48.1h0.75M141.4 44.8h0.75M142.4 49.3h0.75M143.4 52.2h0.75M140.3 46.7h0.75M143.0 45.5h0.75M142.1 52.8h0.75M141.1 29.4h0.75M141.6 50.3h0.75M141.6 42.3h0.75M143.5 47.4h0.75M140.3 42.6h0.75M142.0 39.5h0.75M139.7 64.9h0.75M143.7 57.2h0.75M143.8 53.4h0.75M138.5 58.3h0.75M143.6 52.5h0.75M138.0 58.7h0.75M143.8 44.5h0.75M141.6 54.9h0.75M141.3 57.5h0.75M141.5 54.2h0.75M141.5 36.3h0.75M141.9 59.3h0.75M143.4 62.6h0.75M142.4 43.6h0.75M141.4 32.7h0.75M141.1 56.0h0.75M137.6 50.1h0.75M142.8 59.4h0.75M139.8 43.1h0.75M138.1 40.1h0.75M142.3 65.6h0.75M139.4 59.9h0.75M142.1 44.4h0.75M145.2 27.7h0.75M141.3 50.3h0.75M145.1 63.3h0.75M145.4 49.6h0.75M143.1 59.8h0.75M142.3 51.5h0.75M141.1 45.1h0.75M139.3 64.6h0.75M140.6 31.3h0.75M141.9 48.2h0.75M141.7 63.5h0.75M141.2 46.3h0.75M140.1 48.3h0.75M140.6 50.2h0.75M146.9 51.8h0.75M139.9 64.5h0.75M142.9 55.2h0.75M142.7 55.3h0.75M142.6 60.2h0.75M143.2 59.7h0.75M140.5 48.5h0.75M140.1 56.4h0.75M142.9 44.6h0.75M143.6 39.3h0.75M141.2 53.8h0.75M141.3 51.7h0.75M143.5 51.2h0.75M139.5 54.4h0.75M141.2 49.4h0.75M140.4 37.1h0.75M139.2 45.6h0.75M139.5 26.0h0.75M143.4 38.9h0.75M140.1 52.9h0.75M137.2 59.6h0.75M140.1 54.0h0.75M140.6 51.0h0.75M141.6 48.5h0.75M138.2 36.3h0.75M141.3 60.2h0.75M140.4 52.9h0.75M141.7 52.5h0.75M143.1 36.1h0.75M141.9 47.0h0.75M140.9 41.4h0.75M140.0 40.0h0.75M144.4 48.6h0.75M142.7 40.4h0.75M136.5 33.4h0.75M141.6 60.4h0.75M141.3 40.2h0.75M141.0 40.2h0.75M139.0 46.6h0.75M140.7 41.8h0.75M139.8 40.8h0.75M141.8 60.0h0.75M138.6 50.8h0.75M139.4 47.2h0.75M141.6 53.1h0.75M143.4 43.9h0.75M139.2 46.9h0.75M141.9 42.7h0.75M143.0 62.4h0.75M138.9 51.5h0.75M143.2 32.6h0.75M141.8 46.6h0.75M138.9 59.4h0.75M141.8 44.5h0.75M142.2 53.8h0.75M142.7 53.3h0.75M142.1 38.8h0.75M140.7 49.6h0.75M136.5 66.2h0.75M140.7 39.8h0.75M138.2 50.6h0.75M141.5 43.7h0.75M140.7 41.1h0.75M140.1 47.7h0.75M140.3 54.1h0.75M141.1 49.6h0.75M142.1 59.0h0.75M142.5 50.4h0.75M141.1 41.8h0.75M140.8 54.2h0.75M141.8 45.3h0.75M139.1 35.8h0.75M142.0 57.0h0.75M142.1 37.1h0.75M141.0 50.3h0.75M139.8 51.4h0.75M141.0 41.6h0.75M139.2 55.2h0.75M142.0 41.1h0.75M139.6 55.9h0.75M142.4 46.0h0.75M144.2 46.1h0.75M139.5 57.5h0.75M141.1 51.4h0.75M141.5 40.2h0.75M139.3 46.9h0.75M143.9 40.2h0.75M143.8 50.3h0.75M139.5 50.7h0.75M142.4 41.1h0.75M137.7 51.5h0.75M139.5 52.1h0.75M138.1 47.3h0.75M140.0 36.3h0.75M141.0 49.9h0.75M140.4 38.7h0.75M141.8 34.0h0.75M142.3 52.6h0.75M144.3 55.8h0.75M142.0 50.7h0.75M141.7 33.8h0.75M145.9 53.6h0.75M140.8 35.7h0.75M145.9 53.7h0.75M138.1 55.2h0.75M147.1 47.8h0.75M142.8 43.6h0.75M139.8 59.5h0.75M150.6 49.2h0.75M141.2 56.5h0.75M140.7 55.8h0.75M144.0 37.1h0.75M138.5 47.2h0.75M144.0 51.0h0.75M145.2 33.3h0.75M143.0 41.4h0.75M141.9 51.4h0.75M138.8 45.6h0.75M138.2 50.8h0.75M139.1 42.7h0.75M142.2 41.0h0.75M144.9 41.2h0.75M144.1 51.0h0.75M138.6 45.7h0.75M139.2 44.1h0.75M140.4 64.7h0.75M142.9 34.1h0.75M134.9 55.2h0.75M135.8 55.7h0.75M144.6 52.2h0.75M141.0 45.3h0.75M142.4 44.8h0.75M140.0 44.1h0.75M145.0 41.4h0.75M142.7 35.7h0.75M139.5 33.4h0.75M141.0 55.3h0.75M142.5 42.8h0.75M143.4 44.3h0.75M142.7 50.9h0.75M143.2 21.6h0.75M137.8 56.2h0.75M140.9 42.1h0.75M145.9 53.9h0.75M147.1 53.4h0.75M141.0 55.7h0.75M139.3 43.2h0.75M140.0 45.6h0.75M143.9 42.9h0.75M142.5 42.7h0.75M144.2 18.7h0.75M141.0 49.8h0.75M138.5 58.8h0.75M142.2 61.6h0.75M144.4 54.8h0.75M141.2 36.4h0.75M141.0 43.1h0.75M142.3 43.1h0.75M150.5 31.0h0.75M145.0 43.0h0.75M140.9 57.8h0.75M141.6 35.1h0.75M142.8 45.9h0.75M135.6 50.1h0.75M138.5 40.1h0.75M143.0 51.2h0.75M142.8 41.5h0.75M142.3 46.7h0.75M135.2 31.3h0.75M141.1 45.1h0.75M140.0 58.4h0.75M141.7 66.1h0.75M143.9 65.5h0.75M141.3 52.0h0.75M140.3 46.2h0.75M136.6 41.8h0.75M138.8 41.1h0.75M145.1 50.8h0.75M145.1 57.1h0.75M144.3 58.7h0.75M139.8 56.5h0.75M140.7 42.4h0.75M144.0 39.0h0.75M142.4 51.9h0.75M142.7 44.2h0.75M137.9 48.3h0.75M144.1 56.3h0.75M143.5 59.7h0.75M138.7 47.6h0.75M142.6 58.6h0.75M142.1 53.5h0.75M135.3 47.7h0.75M148.8 50.5h0.75M136.3 49.4h0.75M137.5 40.8h0.75M142.2 66.2h0.75M142.9 55.1h0.75M144.5 50.1h0.75M139.1 47.0h0.75M142.6 45.1h0.75M139.7 44.2h0.75M137.3 37.1h0.75M141.3 44.2h0.75M141.7 62.9h0.75M142.5 47.7h0.75M138.2 36.6h0.75M142.7 38.8h0.75M142.8 36.6h0.75M142.0 47.2h0.75M144.5 43.8h0.75M140.5 50.6h0.75M141.8 65.9h0.75M140.9 42.3h0.75M140.7 53.0h0.75M142.3 55.3h0.75M146.9 47.7h0.75M138.1 49.6h0.75M142.8 24.4h0.75M141.6 32.4h0.75M142.9 62.6h0.75M144.6 32.1h0.75M145.6 57.6h0.75M140.6 53.3h0.75M146.0 44.5h0.75M141.6 42.1h0.75M144.9 25.2h0.75M145.7 37.8h0.75M144.3 30.8h0.75M138.9 41.7h0.75M144.0 30.8h0.75M143.3 41.3h0.75M145.2 44.7h0.75M143.0 46.2h0.75M146.8 44.2h0.75M141.8 55.3h0.75M139.5 50.1h0.75M135.1 49.1h0.75M139.7 32.1h0.75M137.5 60.1h0.75M142.8 32.0h0.75M146.8 40.6h0.75M140.5 50.6h0.75M138.3 30.9h0.75M139.4 60.5h0.75M144.3 31.3h0.75M145.1 48.4h0.75M143.0 48.5h0.75M142.8 37.4h0.75M139.0 40.6h0.75M140.5 54.6h0.75M138.1 64.9h0.75M139.8 41.8h0.75M143.6 52.6h0.75M140.6 36.7h0.75M138.7 31.1h0.75M144.9 59.5h0.75M147.0 53.3h0.75M142.6 56.0h0.75M144.3 45.3h0.75M136.7 33.1h0.75M138.8 56.0h0.75M145.0 44.4h0.75M143.5 47.5h0.75M142.5 42.3h0.75M141.5 48.0h0.75M136.4 53.6h0.75M141.6 58.3h0.75M144.7 56.3h0.75M143.9 37.9h0.75M136.7 65.7h0.75M145.1 37.9h0.75M145.3 55.1h0.75M134.5 57.5h0.75M138.7 60.4h0.75M139.6 40.1h0.75M137.1 45.7h0.75M144.5 40.9h0.75M146.9 55.3h0.75M140.0 35.2h0.75M136.9 53.9h0.75" stroke="#000" stroke-width="0.75" opacity="1" fill="none"/>
<rect x="109.8" y="17.8" width="50.8" height="49.4" fill="none" stroke="#777" stroke-width="0.85"/>
<line x1="134.6" y1="17.8" x2="134.6" y2="67.2" stroke="#777" stroke-width="0.75"/>
<line x1="109.8" y1="43.6" x2="160.6" y2="43.6" stroke="#777" stroke-width="0.75"/>
<rect x="144.9" y="18.4" width="14.8" height="4.7" fill="#fff" opacity="0.85"/>
<rect x="144.9" y="61.9" width="14.8" height="4.7" fill="#fff" opacity="0.85"/>
<text font-size="5.9" x="110.7" y="22.5" fill="#111">0.00</text>
<text font-size="5.9" x="160.1" y="22.5" text-anchor="end" fill="#111">34.76</text>
<text font-size="5.9" x="110.7" y="66.4" fill="#111">0.00</text>
<text font-size="5.9" x="160.1" y="66.4" text-anchor="end" fill="#111">65.24</text>
<text font-size="3.7" x="107.2" y="73.2" font-weight="bold" fill="#333">10<tspan dy="-1.3" font-size="3.0">1</tspan></text>
<text font-size="3.7" x="119.9" y="73.2" font-weight="bold" fill="#333">10<tspan dy="-1.3" font-size="3.0">2</tspan></text>
<text font-size="3.7" x="132.6" y="73.2" font-weight="bold" fill="#333">10<tspan dy="-1.3" font-size="3.0">3</tspan></text>
<text font-size="3.7" x="145.3" y="73.2" font-weight="bold" fill="#333">10<tspan dy="-1.3" font-size="3.0">4</tspan></text>
<path d="M201.3 34.6h0.75M198.2 40.7h0.75M197.6 46.7h0.75M203.2 37.9h0.75M200.2 51.2h0.75M197.5 41.7h0.75M195.0 51.1h0.75M196.9 37.8h0.75M198.4 36.2h0.75M195.7 40.5h0.75M201.8 41.2h0.75M199.5 31.5h0.75M193.5 56.8h0.75M197.2 30.9h0.75M197.9 47.5h0.75M194.0 36.0h0.75M198.8 35.7h0.75M200.1 50.2h0.75M199.3 39.5h0.75M198.1 37.9h0.75M197.9 45.3h0.75M197.5 50.3h0.75M204.5 38.6h0.75M199.0 49.2h0.75M199.8 41.0h0.75M197.0 50.6h0.75M199.7 46.7h0.75M196.3 47.7h0.75M200.1 41.4h0.75M199.8 59.6h0.75M193.7 47.5h0.75M195.4 32.3h0.75M197.6 47.0h0.75M198.3 33.8h0.75M194.7 38.5h0.75M198.2 36.4h0.75M194.6 56.4h0.75M196.2 41.6h0.75M196.9 38.3h0.75M198.3 40.5h0.75M199.7 33.6h0.75M194.6 57.9h0.75M198.0 48.7h0.75M201.1 47.1h0.75M198.3 30.8h0.75M194.3 50.4h0.75M199.8 47.2h0.75M194.2 26.3h0.75M195.6 33.6h0.75M198.6 34.9h0.75M202.0 38.0h0.75M196.8 49.5h0.75M199.0 35.8h0.75M200.2 57.7h0.75M195.2 40.9h0.75M195.6 27.7h0.75M199.7 48.2h0.75M200.6 46.1h0.75M193.3 42.6h0.75M196.6 33.7h0.75M195.5 48.7h0.75M197.5 58.1h0.75M199.3 28.0h0.75M200.4 52.5h0.75M198.3 33.4h0.75M202.5 32.6h0.75M198.0 28.0h0.75M195.2 29.6h0.75M200.8 52.0h0.75M197.2 32.2h0.75M198.1 45.7h0.75M194.5 33.8h0.75M198.0 48.3h0.75M198.4 46.3h0.75M195.2 23.4h0.75M199.0 35.6h0.75M197.9 39.9h0.75M199.4 36.8h0.75M201.7 43.0h0.75M199.5 47.7h0.75M200.7 46.0h0.75M193.9 37.9h0.75M202.7 46.5h0.75M199.6 46.5h0.75M196.6 37.5h0.75M196.6 51.9h0.75M199.1 56.7h0.75M199.4 57.6h0.75M199.3 33.5h0.75M202.5 45.4h0.75M201.1 44.5h0.75M197.4 44.1h0.75M195.5 33.4h0.75M196.0 38.7h0.75M194.9 42.0h0.75M198.9 58.7h0.75M202.7 42.4h0.75M200.4 41.1h0.75M199.2 42.5h0.75M196.9 43.4h0.75M194.6 46.3h0.75M197.5 34.3h0.75M197.3 47.2h0.75M196.5 46.5h0.75M199.6 55.1h0.75M195.5 41.9h0.75M199.5 54.6h0.75M198.8 48.7h0.75M194.6 38.2h0.75M202.3 40.6h0.75M203.5 37.1h0.75M197.5 30.2h0.75M199.8 44.9h0.75M203.2 44.1h0.75M197.6 31.7h0.75M198.0 50.3h0.75M200.0 52.5h0.75M200.3 42.4h0.75M199.7 44.2h0.75M194.9 56.3h0.75M199.1 34.5h0.75M199.2 45.1h0.75M200.7 54.2h0.75M190.7 47.2h0.75M202.0 35.3h0.75M193.6 45.0h0.75M199.0 45.6h0.75M195.5 39.1h0.75M198.7 48.7h0.75M203.6 45.1h0.75M196.7 24.1h0.75M200.9 41.8h0.75M197.9 35.0h0.75M200.0 28.6h0.75M198.5 43.8h0.75M198.9 53.1h0.75M198.0 43.5h0.75M200.3 30.5h0.75M197.5 43.3h0.75M200.6 36.4h0.75M200.2 45.9h0.75M194.5 31.1h0.75M194.6 43.9h0.75M198.7 48.5h0.75M200.2 38.4h0.75M200.9 49.3h0.75M199.4 46.6h0.75M195.0 45.7h0.75M195.6 33.3h0.75M197.3 43.9h0.75M198.1 40.2h0.75M195.7 44.3h0.75M196.4 31.6h0.75M198.4 54.4h0.75M197.2 34.4h0.75M201.6 56.4h0.75M197.5 41.1h0.75M198.7 66.3h0.75M198.5 50.7h0.75M199.3 28.3h0.75M195.5 33.0h0.75M199.3 43.6h0.75M202.7 40.6h0.75M199.0 43.4h0.75M198.5 61.3h0.75M198.9 54.5h0.75M201.4 38.0h0.75M199.9 39.8h0.75M198.5 44.1h0.75M198.3 39.1h0.75M202.1 40.7h0.75M200.0 56.2h0.75M199.8 51.0h0.75M201.7 51.5h0.75M202.5 31.4h0.75M203.1 43.0h0.75M193.8 37.7h0.75M194.7 42.6h0.75M194.5 34.8h0.75M198.9 44.1h0.75M196.2 40.9h0.75M198.0 43.4h0.75M198.2 41.0h0.75M200.4 30.0h0.75M197.0 43.9h0.75M197.2 38.4h0.75M197.1 44.5h0.75M201.3 41.3h0.75M197.5 45.6h0.75M197.6 27.3h0.75M198.9 39.8h0.75M196.8 47.8h0.75M198.3 38.3h0.75M192.8 29.0h0.75M198.2 41.9h0.75M199.3 44.6h0.75M197.0 32.7h0.75M195.5 41.7h0.75M195.3 48.8h0.75M194.9 28.5h0.75M197.7 28.6h0.75M202.3 34.9h0.75M198.1 40.8h0.75M196.2 28.7h0.75M193.5 49.7h0.75M200.8 60.1h0.75M194.5 47.3h0.75M198.2 49.6h0.75M196.9 48.6h0.75M200.4 47.7h0.75M201.8 41.4h0.75M202.1 37.2h0.75M202.4 20.8h0.75M198.2 36.4h0.75M198.2 51.0h0.75M200.0 43.6h0.75M202.5 31.0h0.75M196.2 54.9h0.75M199.0 26.2h0.75M199.1 33.3h0.75M201.9 52.0h0.75M196.8 53.1h0.75M196.1 50.2h0.75M199.6 41.8h0.75M194.6 40.6h0.75M192.5 38.3h0.75M193.6 52.5h0.75M195.8 23.3h0.75M199.7 45.8h0.75M196.9 59.7h0.75M200.1 43.3h0.75M196.6 19.2h0.75M199.4 50.5h0.75M196.7 31.5h0.75M198.1 29.4h0.75M198.2 49.0h0.75M202.0 44.9h0.75M198.7 48.8h0.75M201.7 40.2h0.75M195.1 36.5h0.75M195.1 35.7h0.75M197.9 45.5h0.75M198.6 43.4h0.75M197.3 46.2h0.75M200.4 48.9h0.75M201.9 40.5h0.75M197.6 56.4h0.75M198.7 46.1h0.75M197.4 50.6h0.75M197.2 34.7h0.75M198.0 39.3h0.75M200.3 39.8h0.75M198.5 41.1h0.75M199.1 37.8h0.75M201.0 31.4h0.75M197.2 37.1h0.75M199.8 43.1h0.75M199.4 40.2h0.75M196.4 33.8h0.75M197.4 38.5h0.75M198.9 45.6h0.75M200.6 41.9h0.75M196.3 34.3h0.75M198.4 45.7h0.75M203.1 44.3h0.75M202.6 57.8h0.75M195.6 52.5h0.75M201.0 53.6h0.75M198.2 50.4h0.75M197.0 42.2h0.75M198.2 57.1h0.75M197.7 50.4h0.75M198.4 37.1h0.75M198.8 48.1h0.75M196.4 47.9h0.75M196.4 35.8h0.75M198.8 40.9h0.75M195.7 29.8h0.75M198.3 44.7h0.75M197.1 44.3h0.75M194.4 45.9h0.75M199.2 45.0h0.75M196.7 43.4h0.75M198.5 51.4h0.75M198.9 44.8h0.75M196.4 49.7h0.75M201.1 38.9h0.75M199.8 45.3h0.75M198.1 32.5h0.75M202.6 27.9h0.75M199.0 39.8h0.75M201.1 39.4h0.75M198.3 47.7h0.75M199.3 38.6h0.75M199.9 45.9h0.75M200.7 38.7h0.75M198.1 39.7h0.75M196.1 44.8h0.75M199.2 54.1h0.75M197.4 45.9h0.75M201.1 41.9h0.75M198.4 43.9h0.75M196.5 34.9h0.75M201.0 44.2h0.75M198.0 32.9h0.75M198.5 52.2h0.75M195.3 35.7h0.75M201.0 54.2h0.75M202.1 38.4h0.75M199.7 36.8h0.75M199.5 39.9h0.75M198.7 53.5h0.75M199.0 40.9h0.75M198.3 44.9h0.75M196.9 44.4h0.75M199.7 55.2h0.75M193.1 33.3h0.75M195.1 49.8h0.75M204.3 44.3h0.75M198.5 51.9h0.75M192.1 41.4h0.75M190.5 44.0h0.75M196.9 38.9h0.75M199.0 38.2h0.75M201.0 42.8h0.75M199.1 63.0h0.75M197.1 50.2h0.75M196.1 52.7h0.75M200.6 43.9h0.75M200.7 55.6h0.75M201.6 42.8h0.75M198.1 51.6h0.75M194.6 38.0h0.75M199.4 47.3h0.75M202.8 56.8h0.75M199.0 46.3h0.75M194.9 41.3h0.75M198.8 41.0h0.75M198.3 47.6h0.75M195.8 38.3h0.75M193.8 51.9h0.75M195.6 29.3h0.75M200.1 41.1h0.75M200.6 39.9h0.75M203.5 48.5h0.75M198.6 43.7h0.75M197.7 49.2h0.75M203.1 39.5h0.75M195.5 47.5h0.75M200.8 31.0h0.75M196.5 34.9h0.75M199.6 46.8h0.75M196.4 33.9h0.75M199.9 26.6h0.75M199.8 41.6h0.75M202.9 50.7h0.75M196.8 40.6h0.75M197.5 37.1h0.75M198.4 50.4h0.75M194.5 41.0h0.75M201.9 48.7h0.75M196.2 36.4h0.75M196.1 30.1h0.75M201.0 43.3h0.75M196.5 31.5h0.75M197.3 38.8h0.75M202.4 39.2h0.75M198.5 51.2h0.75M199.8 41.4h0.75M192.8 53.8h0.75M199.7 39.4h0.75M198.0 35.3h0.75M196.0 31.1h0.75M199.4 46.9h0.75M198.6 48.9h0.75M199.5 43.8h0.75M196.0 47.4h0.75M201.1 47.8h0.75M201.3 39.1h0.75M195.8 52.6h0.75M196.8 44.7h0.75M197.7 43.0h0.75M197.5 38.6h0.75M193.8 57.8h0.75M198.7 27.7h0.75M196.0 34.0h0.75M196.4 22.8h0.75M199.6 55.7h0.75M197.6 48.6h0.75M199.7 33.0h0.75M201.2 29.6h0.75M196.8 40.0h0.75M201.3 43.7h0.75M197.9 36.5h0.75M198.4 43.1h0.75M200.0 53.7h0.75M200.0 42.9h0.75M197.8 55.3h0.75M198.7 42.7h0.75M202.6 55.1h0.75M199.6 41.9h0.75M196.6 51.2h0.75M197.1 50.3h0.75M196.3 43.6h0.75M199.2 43.9h0.75M198.8 45.8h0.75M195.5 34.1h0.75M197.8 56.9h0.75M197.9 35.5h0.75M196.6 43.1h0.75M201.1 38.4h0.75M199.6 44.3h0.75M197.3 35.4h0.75M197.8 37.1h0.75M199.5 29.0h0.75M201.0 48.7h0.75M199.6 54.5h0.75M199.7 29.4h0.75M198.3 46.3h0.75M196.5 34.0h0.75M199.3 46.8h0.75M197.2 40.9h0.75M197.0 38.4h0.75M198.1 51.2h0.75M194.3 40.1h0.75M202.1 45.3h0.75M198.6 49.3h0.75M195.8 33.4h0.75M194.2 31.4h0.75M198.8 49.4h0.75M197.2 37.5h0.75M199.2 47.6h0.75M198.8 27.9h0.75M196.9 23.1h0.75M198.8 36.2h0.75M196.6 54.5h0.75M201.4 46.6h0.75M198.9 44.1h0.75M196.8 42.4h0.75M202.9 36.0h0.75M196.6 44.1h0.75M200.4 49.3h0.75M195.8 41.8h0.75M197.6 33.2h0.75M198.4 39.1h0.75M200.4 46.2h0.75M196.3 43.4h0.75M197.3 37.9h0.75M197.0 51.1h0.75M197.2 29.5h0.75M196.3 49.1h0.75M203.4 34.6h0.75M197.3 40.2h0.75M194.8 45.9h0.75M198.1 45.0h0.75M203.6 40.7h0.75M200.1 49.3h0.75M196.7 38.2h0.75M202.0 48.4h0.75M198.5 34.3h0.75M200.3 46.9h0.75M203.5 54.3h0.75M200.2 44.9h0.75M198.4 38.5h0.75M199.0 44.7h0.75M199.8 51.3h0.75M199.0 38.6h0.75M200.2 54.9h0.75M196.2 46.1h0.75M199.5 47.0h0.75M199.4 42.1h0.75M198.0 55.9h0.75M202.4 31.9h0.75M192.0 46.2h0.75M196.6 38.8h0.75M194.3 45.6h0.75M198.1 38.6h0.75M200.4 61.7h0.75M201.8 51.9h0.75M197.2 47.9h0.75M198.1 51.8h0.75M199.6 42.5h0.75M199.5 37.2h0.75M200.1 54.5h0.75M197.3 47.1h0.75M194.2 50.1h0.75M200.3 34.9h0.75M202.4 43.7h0.75M194.0 32.2h0.75M200.3 40.7h0.75M200.9 30.8h0.75M198.0 50.4h0.75M196.6 48.1h0.75M197.3 45.5h0.75M199.0 60.2h0.75M195.2 48.9h0.75M201.4 34.1h0.75M198.4 60.8h0.75M200.8 19.7h0.75M197.6 29.5h0.75M198.9 37.2h0.75M196.8 36.3h0.75M198.9 39.2h0.75M196.0 41.0h0.75M199.2 36.1h0.75M200.9 29.9h0.75M199.2 39.8h0.75M202.0 37.8h0.75M196.6 32.4h0.75M203.0 47.6h0.75M195.6 40.2h0.75M195.9 54.6h0.75M199.2 27.0h0.75M198.7 49.9h0.75M198.2 46.5h0.75M197.9 44.4h0.75M198.7 37.3h0.75M199.0 44.1h0.75M198.1 37.5h0.75M195.7 44.7h0.75M200.2 24.0h0.75M196.9 53.3h0.75M200.4 37.3h0.75M201.5 35.1h0.75M196.3 57.9h0.75M197.1 41.1h0.75M194.2 34.9h0.75M195.3 41.7h0.75M193.7 51.1h0.75M197.3 38.1h0.75M196.7 48.6h0.75M201.9 39.6h0.75M202.1 55.3h0.75M201.5 45.1h0.75M194.6 48.0h0.75M197.2 44.3h0.75M193.6 40.6h0.75M198.8 35.5h0.75M198.9 55.8h0.75M198.8 37.5h0.75M204.0 26.0h0.75M196.0 46.0h0.75M196.8 24.9h0.75M198.8 49.3h0.75M196.3 54.2h0.75M199.4 52.1h0.75M194.5 42.8h0.75M202.1 58.5h0.75M201.4 42.8h0.75M198.6 37.9h0.75M200.9 37.4h0.75M198.5 26.7h0.75M194.5 56.7h0.75M198.3 44.5h0.75M192.9 42.5h0.75M203.2 31.1h0.75M192.4 41.5h0.75M196.9 41.2h0.75M195.1 32.2h0.75M195.2 47.8h0.75M198.1 49.2h0.75M195.6 47.4h0.75M197.1 43.5h0.75M200.5 43.1h0.75M197.3 29.8h0.75M198.4 48.9h0.75M196.7 42.3h0.75M193.9 32.4h0.75M199.2 52.9h0.75M197.4 29.7h0.75M197.3 30.6h0.75M197.5 57.9h0.75M198.9 41.6h0.75M200.7 39.8h0.75M199.0 44.4h0.75M199.3 31.3h0.75M199.9 49.7h0.75M192.6 21.5h0.75M196.0 54.5h0.75M198.3 48.1h0.75M199.6 49.8h0.75M196.6 38.2h0.75M199.1 47.6h0.75M199.6 45.5h0.75M197.0 51.5h0.75M199.4 51.2h0.75M192.0 50.7h0.75M192.2 44.5h0.75M196.6 43.7h0.75M197.0 40.4h0.75M198.7 45.5h0.75M196.2 22.9h0.75M196.3 47.1h0.75M196.1 46.2h0.75M197.3 35.4h0.75M201.1 55.9h0.75M197.9 42.4h0.75M200.6 32.3h0.75M196.0 51.7h0.75M200.4 38.9h0.75M196.3 45.6h0.75M194.7 38.9h0.75M197.6 23.3h0.75M199.7 48.8h0.75M200.8 31.4h0.75M195.0 36.4h0.75M195.0 59.1h0.75M195.8 40.3h0.75M198.7 46.4h0.75M201.8 34.2h0.75M200.4 44.0h0.75M195.3 44.0h0.75M194.7 55.7h0.75M196.4 50.8h0.75M201.4 37.9h0.75M196.0 43.8h0.75M195.6 49.9h0.75M198.6 36.7h0.75M196.5 48.6h0.75M194.6 56.2h0.75M196.3 41.2h0.75M195.9 55.7h0.75M200.2 53.1h0.75M199.8 43.5h0.75M202.4 48.1h0.75M199.3 47.4h0.75M200.0 45.0h0.75M197.8 30.1h0.75M203.3 32.4h0.75M192.8 37.1h0.75M203.0 52.5h0.75M196.7 44.9h0.75M198.1 27.0h0.75M197.4 45.1h0.75M201.1 33.2h0.75M192.6 30.2h0.75M199.0 43.4h0.75M198.6 44.0h0.75M197.3 31.9h0.75M199.3 45.9h0.75M199.6 52.8h0.75M195.1 24.1h0.75M193.7 59.9h0.75M195.9 46.0h0.75M198.2 48.6h0.75M206.2 38.7h0.75M197.8 38.0h0.75M198.8 47.0h0.75M195.8 53.3h0.75M201.1 46.4h0.75M197.9 40.9h0.75M194.1 48.0h0.75M195.8 38.8h0.75M200.7 35.4h0.75M196.9 49.7h0.75M202.8 37.3h0.75M201.0 37.6h0.75M199.2 46.7h0.75M195.4 51.0h0.75M202.7 43.2h0.75M198.9 33.4h0.75M202.7 43.3h0.75M195.0 48.9h0.75M194.5 37.3h0.75M192.9 53.8h0.75M203.7 37.7h0.75M196.6 38.2h0.75M196.8 47.2h0.75M201.8 34.7h0.75M199.3 28.4h0.75M202.0 42.1h0.75M196.4 55.0h0.75M197.9 53.8h0.75M200.9 56.1h0.75M196.2 43.3h0.75M199.1 41.2h0.75M202.0 37.1h0.75M200.7 53.7h0.75M193.3 35.0h0.75M195.9 38.4h0.75M199.2 41.4h0.75M198.4 39.1h0.75M198.0 46.7h0.75M200.1 36.5h0.75M197.9 36.7h0.75M197.8 31.3h0.75M200.6 48.2h0.75M197.9 37.3h0.75M197.1 37.5h0.75M194.3 55.9h0.75M206.4 33.0h0.75M195.3 47.4h0.75M199.7 30.2h0.75M193.4 47.1h0.75M193.2 54.2h0.75M197.0 43.5h0.75M198.2 38.3h0.75M197.8 40.4h0.75M201.3 42.1h0.75M198.1 38.6h0.75M196.6 36.9h0.75M198.2 57.5h0.75M201.0 44.7h0.75M202.4 50.9h0.75M198.7 41.5h0.75M195.5 44.8h0.75M197.4 30.1h0.75M195.0 58.3h0.75M198.7 46.8h0.75M198.7 39.1h0.75M199.4 51.5h0.75M197.4 46.9h0.75M200.8 38.9h0.75M198.6 36.9h0.75M199.7 39.8h0.75M201.1 36.7h0.75M202.4 40.3h0.75M196.1 35.6h0.75M199.9 36.0h0.75M202.7 53.1h0.75M199.5 31.4h0.75M198.1 37.0h0.75M193.7 46.2h0.75M203.7 38.5h0.75M200.2 53.1h0.75M195.8 40.1h0.75M198.9 46.6h0.75M195.3 44.5h0.75M197.9 50.4h0.75M194.2 38.3h0.75M196.9 40.3h0.75M200.0 37.8h0.75M205.0 37.1h0.75M200.3 51.0h0.75M200.6 41.2h0.75M196.1 40.8h0.75M199.9 43.8h0.75M199.7 47.4h0.75M196.0 35.3h0.75M201.8 38.9h0.75M194.2 57.7h0.75M196.1 35.3h0.75M200.6 33.7h0.75M196.0 51.2h0.75M196.2 62.9h0.75M198.4 64.3h0.75M198.5 43.2h0.75M196.6 41.0h0.75M196.9 42.6h0.75M200.1 32.6h0.75M195.9 26.1h0.75M202.0 42.2h0.75M198.2 42.3h0.75M200.7 45.4h0.75M200.3 41.5h0.75M197.9 42.4h0.75M193.5 51.5h0.75M194.3 34.8h0.75M199.9 43.2h0.75M200.2 56.4h0.75M202.9 53.9h0.75M197.6 59.2h0.75M196.0 42.1h0.75M200.7 41.1h0.75M197.9 40.0h0.75M201.6 23.1h0.75M201.4 51.3h0.75M198.0 47.3h0.75M195.8 51.7h0.75M205.9 35.4h0.75M201.7 42.3h0.75M197.4 38.9h0.75M197.7 32.8h0.75M194.8 56.1h0.75M198.2 47.2h0.75M199.0 46.6h0.75M194.4 35.2h0.75M199.8 50.8h0.75M195.3 38.2h0.75M195.5 48.0h0.75M199.1 43.1h0.75M196.6 45.5h0.75M198.3 36.9h0.75M199.0 37.5h0.75M200.6 47.8h0.75M196.5 47.5h0.75M198.4 37.2h0.75M195.9 29.5h0.75M195.4 45.6h0.75M201.2 37.8h0.75M198.6 45.6h0.75M200.2 46.3h0.75M201.3 48.9h0.75M196.3 46.0h0.75M192.3 41.4h0.75M198.3 47.4h0.75M197.4 49.5h0.75M201.5 36.1h0.75M196.8 44.9h0.75M199.4 44.0h0.75M200.3 33.3h0.75M200.1 52.1h0.75M201.0 46.2h0.75M197.6 46.0h0.75M198.0 30.1h0.75M196.7 42.5h0.75M196.9 35.3h0.75M197.6 39.8h0.75M198.4 42.4h0.75M198.6 50.7h0.75M198.5 46.1h0.75M195.1 19.2h0.75M197.2 48.2h0.75M197.4 37.8h0.75M195.1 49.9h0.75M196.9 44.8h0.75M201.0 47.1h0.75M203.8 41.7h0.75M200.6 48.3h0.75M196.6 43.2h0.75M196.8 34.6h0.75M198.9 36.6h0.75M202.4 36.9h0.75M196.8 43.5h0.75M196.9 43.2h0.75M196.7 31.4h0.75M192.2 32.5h0.75M202.0 46.4h0.75M198.6 39.1h0.75M197.8 45.2h0.75M194.7 36.4h0.75M196.0 52.9h0.75M195.6 52.2h0.75M197.0 64.6h0.75M198.0 43.1h0.75M201.6 49.8h0.75M200.5 34.2h0.75M201.0 56.2h0.75M197.9 38.9h0.75M195.5 50.9h0.75M198.9 42.9h0.75M195.1 55.8h0.75M200.4 42.6h0.75M201.9 35.2h0.75M200.4 34.8h0.75M201.7 40.6h0.75M201.3 39.5h0.75M199.2 51.9h0.75M195.9 43.6h0.75M196.1 49.6h0.75M196.7 39.8h0.75M197.7 52.1h0.75M195.6 42.6h0.75M197.4 38.4h0.75M196.2 41.5h0.75M198.7 30.4h0.75M198.8 33.3h0.75M198.2 61.0h0.75M195.8 42.3h0.75M197.6 50.7h0.75M197.0 28.5h0.75M194.2 44.2h0.75M198.8 51.3h0.75M196.9 48.1h0.75M195.5 53.2h0.75M198.0 37.4h0.75M198.6 56.7h0.75M196.1 32.9h0.75M195.7 33.6h0.75M198.1 45.6h0.75M197.8 44.4h0.75M201.2 40.5h0.75M195.1 24.5h0.75M198.8 37.4h0.75M197.6 46.1h0.75M199.4 30.3h0.75M195.8 43.4h0.75M197.8 52.0h0.75M196.9 26.3h0.75M201.1 29.7h0.75M195.8 45.9h0.75M195.6 62.7h0.75M198.8 47.1h0.75M197.1 60.5h0.75M199.5 37.1h0.75M201.3 29.3h0.75M196.7 45.1h0.75M198.5 35.1h0.75M202.2 54.6h0.75M195.9 45.8h0.75M196.6 39.3h0.75M200.7 43.8h0.75M197.9 43.6h0.75M195.3 52.6h0.75M196.3 53.3h0.75M197.1 39.2h0.75M201.9 44.3h0.75M196.6 38.5h0.75M199.7 57.8h0.75M199.7 39.7h0.75M195.4 37.4h0.75M197.9 44.8h0.75M196.6 53.0h0.75M195.8 37.1h0.75M199.4 46.6h0.75M197.2 50.5h0.75M194.7 55.9h0.75M203.7 58.4h0.75M198.5 58.5h0.75M198.3 53.4h0.75M197.7 44.4h0.75M199.5 28.8h0.75M197.7 56.5h0.75M190.9 45.9h0.75M200.5 45.4h0.75M198.7 53.9h0.75M199.0 27.7h0.75M195.8 40.4h0.75M198.6 39.2h0.75M197.9 56.1h0.75M190.9 52.0h0.75M200.5 47.6h0.75M198.2 43.3h0.75M199.1 44.7h0.75M196.4 49.0h0.75M196.1 42.5h0.75M197.3 33.6h0.75M199.7 42.2h0.75M195.3 42.2h0.75M194.8 54.3h0.75M199.5 58.7h0.75M196.8 48.4h0.75M195.8 36.0h0.75M198.0 46.1h0.75M200.5 40.7h0.75M201.0 50.5h0.75M196.0 41.4h0.75M195.9 56.4h0.75M196.8 49.9h0.75M200.5 40.8h0.75M197.0 45.5h0.75M196.3 32.7h0.75M195.8 45.5h0.75M198.7 56.8h0.75M193.6 46.8h0.75M195.3 52.0h0.75M199.9 43.8h0.75M201.9 39.8h0.75M196.9 34.4h0.75M196.6 43.7h0.75M199.9 53.0h0.75M197.5 37.0h0.75M197.4 39.4h0.75M197.0 39.6h0.75M196.0 42.4h0.75M196.9 41.5h0.75M194.8 44.0h0.75M199.6 47.9h0.75M196.8 33.7h0.75M195.0 33.5h0.75M196.6 40.3h0.75M193.8 48.1h0.75M194.4 37.4h0.75M196.4 49.4h0.75M202.8 40.0h0.75M197.5 39.7h0.75M197.7 41.5h0.75M204.3 34.2h0.75M197.9 36.5h0.75M199.1 38.7h0.75M199.6 34.2h0.75M203.4 44.5h0.75M193.8 48.3h0.75M197.0 33.7h0.75M199.3 38.7h0.75M200.0 38.5h0.75M200.4 44.0h0.75M199.1 44.0h0.75M197.3 39.9h0.75M199.3 48.4h0.75M197.2 60.5h0.75M202.4 33.7h0.75M200.9 42.2h0.75M198.8 36.6h0.75M202.3 36.3h0.75M198.0 37.1h0.75M203.0 52.7h0.75M194.9 39.3h0.75M199.1 39.4h0.75M197.3 34.3h0.75M198.8 34.2h0.75M200.3 61.7h0.75M197.4 55.8h0.75M199.1 37.5h0.75M197.3 35.2h0.75M198.5 48.3h0.75M200.5 40.6h0.75M195.3 42.2h0.75M202.3 45.0h0.75M198.0 26.5h0.75M197.1 47.1h0.75M195.9 53.4h0.75M196.8 36.0h0.75M196.8 42.1h0.75M200.7 38.4h0.75M193.8 42.2h0.75M199.5 54.9h0.75M195.4 54.5h0.75M199.9 46.4h0.75M196.3 35.9h0.75M195.8 50.1h0.75M198.7 51.2h0.75M202.7 43.0h0.75M198.1 57.9h0.75M195.0 39.3h0.75M197.3 39.9h0.75M198.6 36.2h0.75M201.1 32.1h0.75M196.2 29.6h0.75M194.8 47.4h0.75M199.7 41.3h0.75M200.3 47.7h0.75M196.8 42.5h0.75M199.1 58.6h0.75M197.1 45.7h0.75M199.5 52.4h0.75M199.2 51.2h0.75M195.6 40.8h0.75M193.4 42.4h0.75M203.9 44.7h0.75M198.4 44.9h0.75M198.6 32.5h0.75M196.5 41.5h0.75M198.6 36.1h0.75M197.9 37.1h0.75M195.0 37.7h0.75M196.2 49.4h0.75M201.5 47.4h0.75M197.7 38.5h0.75M194.3 38.7h0.75M202.0 51.9h0.75M198.8 40.9h0.75M198.2 46.2h0.75M198.2 46.2h0.75M196.3 43.2h0.75M197.3 51.3h0.75M195.2 53.0h0.75M198.0 38.9h0.75M198.3 43.8h0.75M197.6 46.2h0.75M196.8 29.6h0.75M199.9 42.7h0.75M202.3 45.9h0.75M193.3 52.5h0.75M196.5 47.1h0.75M203.7 51.4h0.75M195.5 42.1h0.75M194.3 48.1h0.75M199.6 34.9h0.75M199.3 50.2h0.75M200.2 37.6h0.75M196.5 34.1h0.75M195.0 45.3h0.75M198.3 53.0h0.75M198.9 40.3h0.75M194.7 54.9h0.75M198.6 42.6h0.75M195.7 34.7h0.75M199.8 35.3h0.75M199.6 47.8h0.75M197.3 30.2h0.75M199.2 53.8h0.75M196.2 33.0h0.75M200.9 44.0h0.75M196.7 52.4h0.75M197.5 46.4h0.75M197.2 37.0h0.75M198.7 36.2h0.75M193.8 38.7h0.75M201.2 51.4h0.75M203.5 50.6h0.75M202.2 44.8h0.75M197.1 46.5h0.75M195.9 48.6h0.75M197.1 44.9h0.75M196.1 41.8h0.75M200.6 41.2h0.75M196.5 45.1h0.75M200.4 41.4h0.75M195.3 30.8h0.75M194.9 51.1h0.75M198.0 46.6h0.75M200.8 45.1h0.75M199.4 39.0h0.75M194.3 47.8h0.75M198.0 47.3h0.75M195.6 41.8h0.75M203.1 36.4h0.75M198.4 53.0h0.75M197.6 43.9h0.75M191.0 51.5h0.75M196.9 56.7h0.75M198.2 39.8h0.75M200.0 41.2h0.75M196.7 59.3h0.75M202.0 44.7h0.75M201.4 52.0h0.75M200.6 44.1h0.75M198.8 47.8h0.75M200.5 47.2h0.75M196.6 42.9h0.75M200.1 33.7h0.75M198.5 51.3h0.75M199.1 40.7h0.75M198.4 38.7h0.75M202.0 39.8h0.75M192.6 31.4h0.75M199.6 45.8h0.75M196.8 30.4h0.75M198.0 35.2h0.75M196.2 43.6h0.75M195.8 46.8h0.75M195.9 39.0h0.75M197.7 58.4h0.75M204.1 53.2h0.75M195.9 43.7h0.75M201.7 51.8h0.75M192.8 43.1h0.75M195.9 51.2h0.75M200.7 38.3h0.75M206.1 40.9h0.75M207.1 42.0h0.75M198.2 62.7h0.75M196.6 38.9h0.75M203.7 43.3h0.75M200.2 31.0h0.75M204.8 53.5h0.75M199.8 50.8h0.75M196.7 38.9h0.75M193.0 47.4h0.75M202.9 52.3h0.75M201.7 50.8h0.75M195.3 30.6h0.75M200.8 45.3h0.75M202.0 40.9h0.75M195.4 48.1h0.75M196.5 27.2h0.75M196.4 34.9h0.75M194.6 38.2h0.75M204.6 39.5h0.75M202.5 43.0h0.75M199.9 36.9h0.75M198.2 26.9h0.75M204.8 36.0h0.75M200.6 37.8h0.75M199.5 31.9h0.75M197.2 52.8h0.75M200.6 24.2h0.75M201.5 30.6h0.75M199.5 48.9h0.75M196.2 40.5h0.75M197.6 47.7h0.75M201.7 57.3h0.75M199.7 63.6h0.75M195.2 61.4h0.75M197.6 51.3h0.75M198.1 44.5h0.75M195.3 47.5h0.75M205.6 45.2h0.75M198.4 43.7h0.75M201.0 41.6h0.75M198.5 45.8h0.75M203.1 53.2h0.75M194.8 37.4h0.75M198.6 52.1h0.75M201.9 41.6h0.75M206.0 42.0h0.75M203.5 57.9h0.75M204.1 45.7h0.75M200.5 28.4h0.75M192.2 37.6h0.75M201.0 54.3h0.75M198.1 54.0h0.75M200.5 58.9h0.75M192.9 35.4h0.75M195.1 33.3h0.75M204.3 34.4h0.75M195.6 39.7h0.75M201.6 39.1h0.75M201.1 49.2h0.75M196.2 20.1h0.75M195.3 31.2h0.75M204.3 36.5h0.75M194.7 47.4h0.75M198.7 34.3h0.75M202.4 52.8h0.75M199.5 36.1h0.75M195.4 23.2h0.75M199.9 47.6h0.75M195.3 43.9h0.75M210.1 32.4h0.75M192.5 49.7h0.75M197.0 38.7h0.75M200.7 42.4h0.75M202.0 48.8h0.75M202.6 44.8h0.75M190.9 57.2h0.75M192.5 54.1h0.75M199.4 29.8h0.75M198.7 52.4h0.75M194.9 44.1h0.75M195.9 33.6h0.75M196.3 56.4h0.75M200.9 43.3h0.75M198.2 44.9h0.75M199.5 45.5h0.75M192.4 52.8h0.75M201.0 31.6h0.75M198.0 42.7h0.75M196.4 49.0h0.75M197.5 40.8h0.75M195.1 40.8h0.75M194.8 44.0h0.75M203.2 53.7h0.75M200.0 30.0h0.75M202.1 52.9h0.75M205.8 21.2h0.75M198.6 40.3h0.75M202.3 32.8h0.75M202.0 23.7h0.75M198.6 57.3h0.75M196.3 49.6h0.75M198.9 29.0h0.75M196.3 54.9h0.75M202.7 37.6h0.75M202.5 36.5h0.75M199.4 43.4h0.75M194.1 46.8h0.75M195.6 35.1h0.75M195.5 33.8h0.75M196.1 19.1h0.75M201.7 44.3h0.75M199.4 40.9h0.75M198.7 41.0h0.75M194.6 28.4h0.75M198.8 53.8h0.75M199.3 59.7h0.75M193.7 40.9h0.75M196.3 55.9h0.75M204.5 38.3h0.75M201.1 41.1h0.75M195.0 42.5h0.75M194.8 59.1h0.75M200.6 55.5h0.75M199.8 19.2h0.75M201.3 44.5h0.75M190.1 44.6h0.75M202.1 60.7h0.75M194.9 51.5h0.75M199.7 41.8h0.75M197.5 48.9h0.75M200.5 50.2h0.75M197.1 30.3h0.75M203.2 56.6h0.75M196.5 43.2h0.75M201.4 25.9h0.75M199.5 36.5h0.75M205.7 43.6h0.75M199.3 39.3h0.75M199.1 25.5h0.75M194.0 28.7h0.75M201.7 42.6h0.75M202.6 23.1h0.75M196.4 58.2h0.75M195.7 24.8h0.75M195.9 40.1h0.75M198.5 56.6h0.75M203.2 59.1h0.75M200.6 38.5h0.75M196.7 28.7h0.75M203.0 56.1h0.75M198.8 34.6h0.75M200.9 48.4h0.75M199.0 31.8h0.75M199.3 37.8h0.75M201.1 49.5h0.75M200.1 39.2h0.75M203.9 51.3h0.75M203.0 52.0h0.75M200.8 47.5h0.75M194.7 25.2h0.75M195.2 49.7h0.75M201.7 45.4h0.75M198.8 62.0h0.75M197.1 25.6h0.75M193.0 40.3h0.75M201.0 50.9h0.75M197.7 51.7h0.75M198.3 36.2h0.75M197.2 51.1h0.75M201.9 32.2h0.75M195.0 44.7h0.75M206.0 31.7h0.75M194.1 47.7h0.75M200.3 37.4h0.75M198.4 48.4h0.75M192.3 43.3h0.75M200.6 52.8h0.75M202.6 42.8h0.75M193.4 57.0h0.75M201.2 37.1h0.75M202.2 54.0h0.75M198.0 19.8h0.75M196.8 35.9h0.75M195.5 42.7h0.75M194.7 47.4h0.75M205.2 31.5h0.75M202.2 38.2h0.75M200.4 42.2h0.75M203.0 36.4h0.75M201.1 35.7h0.75M199.3 43.4h0.75M202.3 27.6h0.75M193.7 57.5h0.75M199.9 60.6h0.75M194.9 45.6h0.75M200.6 61.3h0.75M198.3 39.0h0.75M201.0 42.5h0.75M195.9 51.2h0.75M191.8 33.3h0.75M203.3 38.5h0.75M197.4 47.2h0.75M202.5 48.8h0.75M195.1 37.8h0.75M202.2 42.3h0.75M196.3 52.3h0.75M202.5 65.4h0.75M194.7 36.4h0.75M196.1 47.1h0.75" stroke="#000" stroke-width="0.75" opacity="1" fill="none"/>
<rect x="166.2" y="17.8" width="50.6" height="49.4" fill="none" stroke="#777" stroke-width="0.85"/>
<line x1="189.2" y1="17.8" x2="189.2" y2="67.2" stroke="#777" stroke-width="0.75"/>
<line x1="166.2" y1="43.6" x2="216.8" y2="43.6" stroke="#777" stroke-width="0.75"/>
<rect x="201.1" y="18.4" width="14.8" height="4.7" fill="#fff" opacity="0.85"/>
<rect x="201.1" y="61.9" width="14.8" height="4.7" fill="#fff" opacity="0.85"/>
<text font-size="5.9" x="167.1" y="22.5" fill="#111">0.00</text>
<text font-size="5.9" x="216.3" y="22.5" text-anchor="end" fill="#111">53.13</text>
<text font-size="5.9" x="167.1" y="66.4" fill="#111">0.00</text>
<text font-size="5.9" x="216.3" y="66.4" text-anchor="end" fill="#111">46.87</text>
<text font-size="3.7" x="163.6" y="73.2" font-weight="bold" fill="#333">10<tspan dy="-1.3" font-size="3.0">1</tspan></text>
<text font-size="3.7" x="176.2" y="73.2" font-weight="bold" fill="#333">10<tspan dy="-1.3" font-size="3.0">2</tspan></text>
<text font-size="3.7" x="188.9" y="73.2" font-weight="bold" fill="#333">10<tspan dy="-1.3" font-size="3.0">3</tspan></text>
<text font-size="3.7" x="201.6" y="73.2" font-weight="bold" fill="#333">10<tspan dy="-1.3" font-size="3.0">4</tspan></text>
<path d="M254.5 52.6h0.75M250.6 51.4h0.75M254.2 41.9h0.75M256.3 45.6h0.75M253.5 55.5h0.75M256.3 40.2h0.75M255.7 35.5h0.75M253.1 41.7h0.75M255.9 44.8h0.75M253.9 33.4h0.75M252.4 56.3h0.75M255.9 37.9h0.75M257.4 48.1h0.75M254.6 39.3h0.75M257.3 46.5h0.75M258.2 46.8h0.75M254.3 39.4h0.75M254.1 45.9h0.75M255.7 48.7h0.75M256.1 35.9h0.75M254.9 36.8h0.75M256.1 33.9h0.75M254.3 37.4h0.75M254.2 42.0h0.75M258.0 42.0h0.75M252.8 41.7h0.75M256.6 48.2h0.75M255.7 59.3h0.75M257.2 44.7h0.75M257.4 33.7h0.75M255.0 37.4h0.75M255.6 56.4h0.75M254.4 56.2h0.75M253.5 54.9h0.75M252.3 37.5h0.75M257.0 43.3h0.75M255.6 43.9h0.75M255.6 42.6h0.75M253.6 41.8h0.75M255.5 37.1h0.75M256.1 57.5h0.75M252.4 39.8h0.75M254.8 44.1h0.75M255.5 38.4h0.75M255.2 44.0h0.75M255.1 55.8h0.75M255.5 32.7h0.75M252.6 48.5h0.75M254.7 39.3h0.75M252.9 41.6h0.75M255.1 38.7h0.75M254.7 50.8h0.75M256.7 48.2h0.75M255.0 33.6h0.75M256.7 55.5h0.75M257.5 52.9h0.75M255.8 46.9h0.75M255.3 53.6h0.75M254.8 60.5h0.75M256.7 41.5h0.75M255.3 31.7h0.75M254.0 41.7h0.75M259.6 37.8h0.75M256.9 44.6h0.75M254.8 48.8h0.75M251.8 51.3h0.75M258.7 46.3h0.75M255.2 45.2h0.75M256.5 40.2h0.75M255.5 47.9h0.75M254.7 47.0h0.75M255.9 49.5h0.75M253.6 39.9h0.75M254.6 53.2h0.75M255.7 31.3h0.75M253.1 58.9h0.75M255.9 34.1h0.75M253.7 45.1h0.75M257.8 56.4h0.75M254.7 41.7h0.75M258.7 36.5h0.75M258.0 46.6h0.75M255.5 53.9h0.75M256.1 37.6h0.75M252.6 44.1h0.75M256.2 54.5h0.75M250.7 54.3h0.75M256.4 55.7h0.75M256.7 45.6h0.75M256.1 47.1h0.75M254.2 43.1h0.75M255.5 40.5h0.75M252.7 32.9h0.75M256.2 48.0h0.75M255.5 35.0h0.75M256.8 41.0h0.75M251.7 56.0h0.75M252.7 61.3h0.75M256.2 40.6h0.75M251.2 38.6h0.75M257.9 54.5h0.75M255.8 30.8h0.75M254.6 41.8h0.75M256.1 43.0h0.75M255.9 31.5h0.75M254.2 55.1h0.75M252.8 51.1h0.75M259.3 49.0h0.75M252.9 53.6h0.75M252.1 46.6h0.75M254.6 53.5h0.75M257.4 45.5h0.75M258.4 51.6h0.75M254.5 36.4h0.75M259.6 40.9h0.75M256.0 43.1h0.75M254.5 31.6h0.75M255.0 43.1h0.75M257.0 40.0h0.75M252.6 35.7h0.75M255.2 45.9h0.75M256.6 41.1h0.75M256.2 45.1h0.75M258.3 43.6h0.75M255.6 48.4h0.75M257.4 36.9h0.75M254.5 41.9h0.75M251.6 54.0h0.75M257.2 44.2h0.75M261.2 53.8h0.75M258.8 56.1h0.75M256.9 33.1h0.75M258.0 47.2h0.75M253.2 44.4h0.75M256.6 51.6h0.75M255.6 40.0h0.75M256.6 38.1h0.75M255.2 49.9h0.75M252.8 46.9h0.75M251.9 36.9h0.75M253.1 43.3h0.75M256.6 43.6h0.75M256.9 44.7h0.75M254.9 47.8h0.75M254.9 45.0h0.75M257.1 39.6h0.75M257.3 35.5h0.75M254.9 30.6h0.75M254.4 56.3h0.75M255.9 53.8h0.75M252.7 36.2h0.75M256.1 50.4h0.75M256.8 31.1h0.75M256.2 43.4h0.75M255.5 47.7h0.75M254.8 30.9h0.75M253.4 32.8h0.75M253.0 43.0h0.75M257.6 38.5h0.75M254.0 35.1h0.75M252.3 44.5h0.75M254.5 42.1h0.75M253.6 47.8h0.75M253.2 48.2h0.75M254.1 50.1h0.75M253.7 47.4h0.75M256.1 43.4h0.75M258.2 45.4h0.75M253.7 49.3h0.75M253.9 39.8h0.75M255.3 45.4h0.75M258.3 30.5h0.75M254.8 52.7h0.75M255.0 46.5h0.75M258.0 34.5h0.75M255.4 50.1h0.75M254.3 30.5h0.75M253.6 45.5h0.75M255.6 58.2h0.75M257.6 32.0h0.75M257.1 51.1h0.75M258.1 42.8h0.75M254.3 45.1h0.75M258.0 48.8h0.75M258.3 50.1h0.75M254.3 36.2h0.75M258.5 32.3h0.75M254.7 41.5h0.75M253.7 39.6h0.75M255.3 62.4h0.75M255.2 40.0h0.75M255.5 51.3h0.75M253.9 40.9h0.75M252.2 49.4h0.75M256.5 55.6h0.75M253.2 60.8h0.75M256.8 41.9h0.75M254.6 41.6h0.75M253.2 50.0h0.75M254.2 38.4h0.75M256.2 44.9h0.75M254.3 42.2h0.75M254.4 54.4h0.75M257.1 38.4h0.75M255.2 54.6h0.75M254.8 57.8h0.75M256.1 49.2h0.75M251.7 50.6h0.75M255.9 48.5h0.75M256.1 48.1h0.75M254.4 51.0h0.75M255.4 35.9h0.75M253.5 45.3h0.75M255.9 26.9h0.75M251.7 52.1h0.75M255.3 66.1h0.75M252.6 42.1h0.75M254.2 48.3h0.75M257.8 56.5h0.75M253.5 53.6h0.75M253.2 46.4h0.75M255.6 48.8h0.75M253.9 54.4h0.75M255.2 43.9h0.75M254.8 35.7h0.75M256.6 46.6h0.75M256.1 58.5h0.75M253.8 41.8h0.75M255.3 50.6h0.75M255.0 51.2h0.75M256.1 30.4h0.75M254.1 28.2h0.75M254.8 40.8h0.75M256.3 45.3h0.75M255.2 53.8h0.75M256.3 34.4h0.75M254.1 46.5h0.75M258.3 42.5h0.75M255.0 46.1h0.75M256.7 43.3h0.75M255.8 40.7h0.75M254.3 37.8h0.75M256.5 39.7h0.75M256.3 47.2h0.75M257.0 23.2h0.75M253.6 34.5h0.75M255.0 50.3h0.75M259.8 56.0h0.75M257.7 47.0h0.75M254.6 48.2h0.75M251.5 51.2h0.75M255.3 48.8h0.75M253.5 35.5h0.75M254.2 43.7h0.75M255.9 41.2h0.75M255.9 49.3h0.75M253.3 43.2h0.75M252.6 39.7h0.75M256.9 38.4h0.75M258.6 47.9h0.75M256.9 44.8h0.75M256.8 52.5h0.75M255.5 39.9h0.75M254.3 59.0h0.75M255.0 40.4h0.75M254.1 30.9h0.75M254.4 46.5h0.75M254.4 38.1h0.75M256.0 47.6h0.75M254.5 46.4h0.75M253.6 50.7h0.75M253.6 41.4h0.75M255.5 40.7h0.75M253.3 60.3h0.75M258.0 30.4h0.75M255.5 34.1h0.75M255.8 33.9h0.75M256.3 48.1h0.75M258.3 53.4h0.75M254.5 51.4h0.75M254.5 43.1h0.75M254.4 30.3h0.75M256.4 28.2h0.75M254.9 48.1h0.75M255.5 31.7h0.75M254.2 49.3h0.75M257.2 56.4h0.75M252.1 47.6h0.75M254.5 50.0h0.75M252.3 42.9h0.75M256.5 39.0h0.75M254.7 36.4h0.75M257.3 33.7h0.75M253.7 41.4h0.75M254.7 60.5h0.75M255.8 37.5h0.75M256.3 46.7h0.75M255.8 43.5h0.75M256.1 34.9h0.75M253.2 40.7h0.75M253.4 49.5h0.75M258.7 53.6h0.75M256.1 46.6h0.75M254.1 33.9h0.75M256.3 32.5h0.75M255.8 42.9h0.75M256.6 44.4h0.75M255.5 39.5h0.75M252.3 41.3h0.75M256.5 52.1h0.75M257.7 36.2h0.75M253.7 49.5h0.75M254.5 64.0h0.75M255.9 32.2h0.75M254.3 56.2h0.75M252.1 45.2h0.75M252.9 56.5h0.75M254.5 36.0h0.75M252.3 38.4h0.75M250.8 40.3h0.75M259.1 44.8h0.75M254.8 35.0h0.75M255.9 40.3h0.75M253.8 54.8h0.75M256.1 37.1h0.75M257.9 43.6h0.75M256.2 45.2h0.75M257.4 48.8h0.75M254.7 49.6h0.75M254.6 45.0h0.75M258.2 35.7h0.75M253.5 40.9h0.75M254.4 54.1h0.75M252.5 61.9h0.75M258.1 40.5h0.75M255.6 41.2h0.75M256.5 49.2h0.75M256.6 50.0h0.75M258.7 42.7h0.75M256.5 42.5h0.75M255.4 45.7h0.75M255.2 46.7h0.75M253.8 42.8h0.75M254.2 34.9h0.75M254.1 40.1h0.75M255.0 31.8h0.75M254.8 35.2h0.75M253.9 45.5h0.75M257.3 46.2h0.75M254.4 40.6h0.75M257.7 31.3h0.75M257.3 32.3h0.75M254.2 44.4h0.75M254.9 57.0h0.75M256.2 43.6h0.75M257.0 44.3h0.75M253.9 52.8h0.75M257.9 54.0h0.75M253.2 58.9h0.75M254.6 50.0h0.75M257.4 62.6h0.75M252.5 36.0h0.75M257.4 47.9h0.75M254.8 21.2h0.75M256.1 42.5h0.75M250.7 64.9h0.75M250.9 39.6h0.75M255.3 45.8h0.75M256.6 41.9h0.75M253.7 41.2h0.75M251.6 35.3h0.75M258.8 38.6h0.75M255.2 58.8h0.75M257.2 45.0h0.75M256.6 41.9h0.75M253.7 51.8h0.75M255.5 56.5h0.75M254.8 41.1h0.75M255.9 42.5h0.75M254.8 37.0h0.75M255.7 46.5h0.75M258.5 43.8h0.75M252.2 47.6h0.75M259.3 40.6h0.75M253.9 42.7h0.75M250.3 41.4h0.75M255.0 32.2h0.75M256.3 37.2h0.75M252.0 38.4h0.75M256.4 59.0h0.75M257.5 45.5h0.75M254.4 42.0h0.75M257.0 39.9h0.75M256.0 51.6h0.75M253.7 39.4h0.75M256.1 44.1h0.75M255.1 39.9h0.75M255.2 58.5h0.75M257.7 31.4h0.75M255.4 44.7h0.75M255.4 33.2h0.75M255.1 45.2h0.75M254.1 46.5h0.75M251.0 32.2h0.75M255.5 47.1h0.75M255.0 40.4h0.75M255.6 52.5h0.75M256.9 43.4h0.75M254.5 52.3h0.75M256.3 50.9h0.75M254.8 37.3h0.75M255.6 39.1h0.75M257.3 50.7h0.75M251.4 49.2h0.75M257.7 52.1h0.75M254.5 37.3h0.75M257.0 51.9h0.75M255.4 35.0h0.75M252.6 46.1h0.75M253.8 38.7h0.75M256.1 52.2h0.75M251.7 38.8h0.75M257.6 43.7h0.75M254.7 49.0h0.75M253.3 34.4h0.75M255.3 56.2h0.75M257.1 44.0h0.75M257.1 40.8h0.75M253.2 30.9h0.75M255.8 51.1h0.75M256.0 43.7h0.75M254.6 52.5h0.75M255.2 32.7h0.75M257.7 38.9h0.75M256.0 44.0h0.75M257.2 45.9h0.75M257.5 45.7h0.75M254.5 40.0h0.75M256.5 37.5h0.75M256.9 42.1h0.75M253.7 37.2h0.75M255.0 57.9h0.75M256.7 44.2h0.75M253.7 58.9h0.75M254.8 44.0h0.75M254.6 54.5h0.75M255.6 40.4h0.75M255.6 36.2h0.75M253.4 42.7h0.75M250.2 53.2h0.75M258.8 35.3h0.75M255.0 31.6h0.75M255.6 45.7h0.75M256.6 33.5h0.75M254.2 38.9h0.75M254.9 61.9h0.75M254.9 43.7h0.75M254.4 50.2h0.75M259.8 53.1h0.75M258.0 35.6h0.75M257.2 44.2h0.75M257.5 52.3h0.75M256.5 30.9h0.75M255.5 40.1h0.75M256.1 44.3h0.75M257.2 31.4h0.75M254.0 43.4h0.75M255.9 40.8h0.75M255.2 44.4h0.75M257.2 43.1h0.75M255.7 29.7h0.75M250.7 32.5h0.75M255.9 25.9h0.75M256.0 43.2h0.75M255.3 38.3h0.75M254.6 50.5h0.75M255.9 43.8h0.75M254.4 45.7h0.75M257.4 43.8h0.75M254.7 34.7h0.75M255.5 36.8h0.75M252.8 50.8h0.75M254.2 28.0h0.75M254.0 58.5h0.75M255.1 33.6h0.75M253.3 49.6h0.75M256.0 45.7h0.75M255.0 47.8h0.75M258.0 47.8h0.75M255.0 33.0h0.75M256.1 56.3h0.75M256.4 34.1h0.75M255.6 54.2h0.75M254.2 47.9h0.75M257.4 56.9h0.75M252.5 30.3h0.75M256.0 49.5h0.75M254.7 43.8h0.75M254.6 53.4h0.75M251.4 46.0h0.75M253.0 38.7h0.75M252.6 36.8h0.75M255.3 44.2h0.75M258.5 42.3h0.75M255.9 46.8h0.75M255.8 55.5h0.75M255.5 45.2h0.75M255.1 44.0h0.75M255.2 51.8h0.75M255.3 44.5h0.75M255.2 50.0h0.75M254.5 51.4h0.75M254.3 49.5h0.75M258.7 45.8h0.75M255.1 34.7h0.75M256.6 44.1h0.75M256.9 38.8h0.75M256.2 58.2h0.75M256.0 41.4h0.75M253.0 43.9h0.75M256.5 48.7h0.75M253.3 35.9h0.75M253.6 36.0h0.75M254.8 46.1h0.75M258.7 45.5h0.75M257.9 31.0h0.75M258.0 50.3h0.75M256.1 50.5h0.75M256.4 59.1h0.75M256.7 30.3h0.75M252.2 56.7h0.75M255.2 54.4h0.75M254.7 38.8h0.75M254.7 46.5h0.75M255.6 39.1h0.75M256.3 48.9h0.75M253.7 35.2h0.75M251.8 41.6h0.75M255.3 38.5h0.75M254.2 42.9h0.75M255.4 48.5h0.75M256.8 47.5h0.75M257.3 36.4h0.75M256.4 46.9h0.75M253.4 38.7h0.75M256.1 44.6h0.75M253.1 39.6h0.75M258.0 50.7h0.75M255.4 54.7h0.75M253.7 42.6h0.75M257.0 41.3h0.75M253.3 48.6h0.75M258.1 24.0h0.75M255.6 34.1h0.75M254.8 32.8h0.75M259.9 38.6h0.75M255.4 38.4h0.75M253.5 40.4h0.75M255.7 57.9h0.75M255.8 56.4h0.75M253.4 44.6h0.75M254.5 31.6h0.75M261.9 42.1h0.75M255.7 38.0h0.75M254.3 35.8h0.75M257.1 40.8h0.75M255.0 45.4h0.75M253.1 45.8h0.75M255.0 47.5h0.75M254.6 44.3h0.75M256.2 51.6h0.75M254.1 51.7h0.75M253.5 42.5h0.75M255.5 45.1h0.75M250.9 36.3h0.75M255.0 51.3h0.75M254.0 55.9h0.75M252.1 44.6h0.75M256.3 44.1h0.75M255.8 51.4h0.75M253.9 48.7h0.75M257.2 42.2h0.75M251.2 34.6h0.75M253.8 35.6h0.75M256.1 37.6h0.75M259.7 48.5h0.75M253.0 41.7h0.75M258.0 49.4h0.75M253.5 52.2h0.75M254.5 61.5h0.75M254.3 48.7h0.75M256.3 40.5h0.75M255.0 53.2h0.75M256.2 43.5h0.75M256.1 57.8h0.75M257.0 47.8h0.75M255.9 31.6h0.75M255.5 40.2h0.75M256.6 39.2h0.75M256.1 35.7h0.75M256.9 38.2h0.75M255.2 48.6h0.75M254.7 44.1h0.75M257.2 58.0h0.75M252.1 36.9h0.75M256.5 51.4h0.75M254.5 44.7h0.75M255.0 62.0h0.75M254.9 34.6h0.75M252.5 33.9h0.75M257.6 40.9h0.75M258.8 49.0h0.75M256.0 49.1h0.75M256.7 51.3h0.75M253.6 39.6h0.75M254.3 44.8h0.75M254.9 34.3h0.75M254.1 58.1h0.75M259.1 37.2h0.75M256.0 43.7h0.75M253.8 49.6h0.75M255.2 57.2h0.75M256.1 41.5h0.75M250.6 43.2h0.75M256.8 38.4h0.75M256.9 49.4h0.75M252.2 42.5h0.75M255.9 50.0h0.75M255.6 43.9h0.75M254.7 41.7h0.75M255.3 35.6h0.75M256.4 41.4h0.75M256.2 40.0h0.75M256.0 45.0h0.75M256.9 47.7h0.75M257.0 42.7h0.75M255.2 41.9h0.75M253.1 43.0h0.75M257.2 50.1h0.75M253.8 46.4h0.75M256.6 33.3h0.75M255.9 46.6h0.75M256.6 46.0h0.75M252.2 28.1h0.75M258.8 40.9h0.75M257.6 54.0h0.75M255.5 35.0h0.75M257.7 43.7h0.75M256.2 47.8h0.75M257.0 52.0h0.75M252.8 32.9h0.75M255.6 44.1h0.75M256.7 42.9h0.75M255.0 60.0h0.75M257.7 53.1h0.75M257.1 37.8h0.75M255.1 43.5h0.75M253.4 37.1h0.75M255.6 34.4h0.75M256.3 47.7h0.75M254.9 41.3h0.75M256.4 47.8h0.75M256.0 34.4h0.75M252.4 60.1h0.75M254.1 41.1h0.75M252.1 37.7h0.75M254.0 50.3h0.75M250.6 33.0h0.75M254.6 40.1h0.75M253.9 40.5h0.75M252.5 46.1h0.75M257.4 45.2h0.75M254.3 53.9h0.75M256.2 35.9h0.75M254.3 39.2h0.75M255.2 53.5h0.75M254.0 42.8h0.75M255.5 34.6h0.75M254.5 48.8h0.75M257.3 29.3h0.75M256.6 41.7h0.75M257.6 48.9h0.75M258.8 46.4h0.75M254.6 37.5h0.75M252.8 48.4h0.75M256.2 50.4h0.75M255.9 32.2h0.75M254.6 42.1h0.75M255.6 50.0h0.75M257.8 46.2h0.75M251.6 36.0h0.75M251.5 38.0h0.75M253.2 45.9h0.75M254.9 52.8h0.75M257.2 40.4h0.75M257.0 44.1h0.75M256.1 54.6h0.75M253.3 43.5h0.75M258.0 38.0h0.75M255.7 45.0h0.75M254.6 33.7h0.75M254.1 36.3h0.75M257.2 46.0h0.75M256.5 34.7h0.75M256.2 45.1h0.75M257.2 38.3h0.75M256.7 54.8h0.75M258.5 36.7h0.75M253.3 32.5h0.75M257.0 48.7h0.75M255.9 37.2h0.75M257.5 56.6h0.75M255.2 43.1h0.75M257.4 48.0h0.75M257.7 40.8h0.75M255.9 41.4h0.75M254.3 41.7h0.75M254.8 48.0h0.75M254.8 44.6h0.75M253.9 34.4h0.75M257.8 36.3h0.75M258.5 51.4h0.75M251.2 39.0h0.75M254.6 44.2h0.75M255.0 39.3h0.75M257.5 43.0h0.75M257.0 38.6h0.75M254.1 54.5h0.75M254.8 35.4h0.75M255.0 52.2h0.75M255.0 38.4h0.75M256.4 51.7h0.75M254.9 41.5h0.75M254.7 65.2h0.75M255.0 57.7h0.75M255.0 47.2h0.75M251.7 45.4h0.75M255.4 41.5h0.75M254.6 33.3h0.75M252.7 45.3h0.75M254.2 43.3h0.75M255.0 40.0h0.75M254.0 58.5h0.75M253.3 40.0h0.75M254.8 35.0h0.75M253.6 50.8h0.75M257.0 45.0h0.75M261.1 50.5h0.75M257.5 37.6h0.75M257.2 57.2h0.75M254.6 58.1h0.75M253.9 35.1h0.75M255.2 37.7h0.75M256.4 35.4h0.75M255.5 28.7h0.75M255.2 52.2h0.75M254.8 46.4h0.75M257.2 35.4h0.75M253.0 44.6h0.75M255.8 41.9h0.75M253.6 53.5h0.75M253.2 42.0h0.75M255.2 49.7h0.75M254.5 37.6h0.75M258.9 37.4h0.75M256.7 42.8h0.75M254.5 43.7h0.75M254.9 46.4h0.75M250.8 43.8h0.75M255.4 36.4h0.75M254.6 62.3h0.75M258.6 49.0h0.75M255.7 41.6h0.75M257.8 40.5h0.75M253.8 49.4h0.75M253.6 37.8h0.75M257.9 31.5h0.75M255.2 44.9h0.75M255.8 32.6h0.75M254.9 41.4h0.75M258.7 51.9h0.75M254.0 50.8h0.75M256.5 43.1h0.75M254.9 41.9h0.75M252.6 39.1h0.75M257.0 55.3h0.75M258.6 41.1h0.75M256.4 25.2h0.75M254.8 34.1h0.75M256.8 31.1h0.75M253.5 35.4h0.75M256.0 50.5h0.75M253.7 58.1h0.75M255.6 37.5h0.75M255.9 43.9h0.75M256.8 46.7h0.75M259.2 53.1h0.75M254.2 50.2h0.75M256.7 36.2h0.75M254.0 37.7h0.75M250.9 49.0h0.75M254.9 53.6h0.75M254.3 44.6h0.75M256.6 51.6h0.75M255.9 35.9h0.75M259.2 50.8h0.75M257.7 56.6h0.75M257.8 47.2h0.75M256.1 48.9h0.75M252.6 50.4h0.75M253.6 47.3h0.75M253.5 49.6h0.75M254.4 63.4h0.75M255.7 48.0h0.75M253.7 41.8h0.75M255.2 41.8h0.75M254.5 37.2h0.75M256.7 41.0h0.75M253.9 46.9h0.75M253.9 42.6h0.75M254.4 36.8h0.75M254.9 37.6h0.75M253.1 46.8h0.75M254.8 32.6h0.75M254.6 45.5h0.75M256.1 46.9h0.75M255.8 48.7h0.75M254.4 37.8h0.75M256.4 40.8h0.75M255.3 49.1h0.75M257.0 53.5h0.75M254.1 41.1h0.75M256.3 32.8h0.75M253.1 48.7h0.75M254.2 36.8h0.75M256.7 48.1h0.75M256.9 41.4h0.75M254.8 41.4h0.75M255.8 28.2h0.75M254.1 49.5h0.75M253.9 43.5h0.75M255.5 48.1h0.75M254.5 35.2h0.75M259.7 38.4h0.75M258.3 30.3h0.75M255.5 42.5h0.75M258.7 59.9h0.75M257.0 36.1h0.75M253.9 38.2h0.75M254.4 46.0h0.75M253.2 41.4h0.75M259.4 59.4h0.75M250.2 33.8h0.75M254.3 57.9h0.75M254.4 64.4h0.75M256.3 59.4h0.75M253.0 40.7h0.75M258.1 50.1h0.75M250.2 41.1h0.75M255.8 50.7h0.75M253.6 62.6h0.75M255.7 59.5h0.75M256.4 44.9h0.75M254.4 31.5h0.75M257.7 52.1h0.75M257.9 40.0h0.75M252.6 40.0h0.75M254.5 43.9h0.75M258.0 34.3h0.75M254.0 51.4h0.75M256.8 35.0h0.75M252.5 35.6h0.75M255.5 46.7h0.75M255.1 37.5h0.75M254.8 43.2h0.75M257.0 44.9h0.75M253.1 31.5h0.75M259.4 43.1h0.75M254.8 43.8h0.75M258.4 40.7h0.75M255.8 41.5h0.75M256.9 33.2h0.75M255.9 55.0h0.75M258.6 50.6h0.75M256.1 60.8h0.75M257.3 58.9h0.75M252.0 32.3h0.75M257.5 41.2h0.75M254.1 33.9h0.75M259.4 31.3h0.75M255.6 29.2h0.75M262.0 38.8h0.75M252.6 61.4h0.75M253.0 25.0h0.75M256.3 32.5h0.75M251.4 56.0h0.75M253.3 32.7h0.75M255.8 42.0h0.75M258.4 45.0h0.75M259.7 56.1h0.75M260.2 56.0h0.75M255.5 49.8h0.75M255.4 27.5h0.75M252.1 51.9h0.75M248.9 35.2h0.75M251.8 43.3h0.75M252.5 46.7h0.75M254.8 39.0h0.75M253.0 20.4h0.75M255.5 30.3h0.75M254.5 48.0h0.75M258.2 51.5h0.75M259.4 28.9h0.75M257.2 60.7h0.75M256.4 32.2h0.75M256.4 38.5h0.75M253.6 55.4h0.75M254.9 32.1h0.75M253.5 64.9h0.75M253.0 51.2h0.75M255.8 56.5h0.75M254.6 34.0h0.75M253.6 33.1h0.75M262.5 46.1h0.75M254.5 57.4h0.75M257.1 42.1h0.75M257.0 46.9h0.75M258.4 61.6h0.75M254.5 43.7h0.75M254.8 57.0h0.75M256.4 52.4h0.75M257.8 37.3h0.75M255.7 58.8h0.75M257.9 52.7h0.75M254.6 40.2h0.75M253.0 41.2h0.75M255.2 28.8h0.75M258.5 35.9h0.75M256.0 50.4h0.75M253.8 24.8h0.75M258.0 48.4h0.75M254.7 56.1h0.75M257.8 33.9h0.75M255.1 25.3h0.75M254.6 59.0h0.75M253.1 52.8h0.75M251.2 40.9h0.75M257.9 62.3h0.75M256.6 52.1h0.75M250.7 64.1h0.75M262.1 50.4h0.75M255.5 46.8h0.75M255.4 37.5h0.75M255.3 42.7h0.75M257.2 51.3h0.75M258.0 50.3h0.75M252.7 58.8h0.75M248.0 45.3h0.75M256.3 38.4h0.75M260.5 32.4h0.75M252.2 38.7h0.75M256.5 52.5h0.75M255.6 51.1h0.75M253.4 37.6h0.75M255.7 29.7h0.75M255.9 39.8h0.75M257.2 33.3h0.75M253.9 38.0h0.75M254.3 33.4h0.75M254.6 29.7h0.75M256.8 51.2h0.75M255.3 42.0h0.75M252.9 33.8h0.75M254.8 34.4h0.75M252.1 45.8h0.75M255.3 39.7h0.75M253.1 43.5h0.75M253.5 39.5h0.75M255.9 51.7h0.75M257.4 37.6h0.75M258.6 31.7h0.75M254.9 57.9h0.75M261.8 45.4h0.75M254.4 40.1h0.75M252.0 42.5h0.75M254.2 36.0h0.75M258.6 35.8h0.75M259.9 53.0h0.75M257.1 37.8h0.75M254.0 22.8h0.75M256.1 41.2h0.75M256.4 36.9h0.75M256.7 28.1h0.75M249.4 49.1h0.75M258.8 40.3h0.75M254.9 27.7h0.75M252.6 51.6h0.75M253.4 43.6h0.75M254.9 65.2h0.75M257.8 30.0h0.75M254.0 31.8h0.75M251.6 36.8h0.75M258.3 44.5h0.75M257.2 42.6h0.75M254.2 44.9h0.75M255.1 64.5h0.75M260.2 48.0h0.75M257.0 22.9h0.75M253.2 52.7h0.75M258.6 39.8h0.75M254.7 39.2h0.75M257.5 44.3h0.75M259.4 56.6h0.75M254.5 37.5h0.75M254.7 34.7h0.75M254.2 43.3h0.75M257.7 27.2h0.75M251.6 35.8h0.75M254.5 48.9h0.75M253.2 60.1h0.75" stroke="#000" stroke-width="0.75" opacity="1" fill="none"/>
<rect x="223.4" y="17.8" width="50.2" height="49.4" fill="none" stroke="#777" stroke-width="0.85"/>
<line x1="247.8" y1="17.8" x2="247.8" y2="67.2" stroke="#777" stroke-width="0.75"/>
<line x1="223.4" y1="43.6" x2="273.6" y2="43.6" stroke="#777" stroke-width="0.75"/>
<rect x="257.9" y="18.4" width="14.8" height="4.7" fill="#fff" opacity="0.85"/>
<rect x="257.9" y="61.9" width="14.8" height="4.7" fill="#fff" opacity="0.85"/>
<text font-size="5.9" x="224.3" y="22.5" fill="#111">0.00</text>
<text font-size="5.9" x="273.1" y="22.5" text-anchor="end" fill="#111">61.42</text>
<text font-size="5.9" x="224.3" y="66.4" fill="#111">0.00</text>
<text font-size="5.9" x="273.1" y="66.4" text-anchor="end" fill="#111">38.58</text>
<text font-size="3.7" x="220.8" y="73.2" font-weight="bold" fill="#333">10<tspan dy="-1.3" font-size="3.0">1</tspan></text>
<text font-size="3.7" x="233.4" y="73.2" font-weight="bold" fill="#333">10<tspan dy="-1.3" font-size="3.0">2</tspan></text>
<text font-size="3.7" x="245.9" y="73.2" font-weight="bold" fill="#333">10<tspan dy="-1.3" font-size="3.0">3</tspan></text>
<text font-size="3.7" x="258.4" y="73.2" font-weight="bold" fill="#333">10<tspan dy="-1.3" font-size="3.0">4</tspan></text>
<text font-size="3.7" x="46.4" y="68.8" font-weight="bold" fill="#333">10<tspan dy="-1.3" font-size="3.0">1</tspan></text>
<text font-size="3.7" x="46.4" y="56.5" font-weight="bold" fill="#333">10<tspan dy="-1.3" font-size="3.0">2</tspan></text>
<text font-size="3.7" x="46.4" y="44.1" font-weight="bold" fill="#333">10<tspan dy="-1.3" font-size="3.0">3</tspan></text>
<text font-size="3.7" x="46.4" y="31.8" font-weight="bold" fill="#333">10<tspan dy="-1.3" font-size="3.0">4</tspan></text>
<path d="M85.2 113.0h0.75M86.1 122.4h0.75M86.5 114.7h0.75M85.2 115.7h0.75M86.6 112.1h0.75M86.0 102.0h0.75M85.2 122.5h0.75M88.2 114.0h0.75M85.4 121.3h0.75M85.1 123.8h0.75M87.8 107.3h0.75M85.7 106.3h0.75M86.4 111.8h0.75M83.7 107.4h0.75M86.4 104.2h0.75M87.7 117.6h0.75M85.7 124.0h0.75M84.6 119.2h0.75M83.9 112.3h0.75M87.0 110.9h0.75M85.8 118.9h0.75M88.4 123.3h0.75M86.7 112.7h0.75M83.8 126.2h0.75M88.9 99.9h0.75M87.4 114.2h0.75M87.1 116.7h0.75M85.7 114.5h0.75M86.0 122.4h0.75M85.6 110.8h0.75M87.0 118.9h0.75M86.7 116.4h0.75M88.3 122.1h0.75M86.3 113.1h0.75M87.0 101.8h0.75M85.2 109.7h0.75M86.3 111.9h0.75M89.8 119.5h0.75M86.0 112.3h0.75M87.9 120.1h0.75M87.4 122.7h0.75M85.5 110.0h0.75M84.9 115.2h0.75M87.6 107.4h0.75M85.2 105.4h0.75M89.1 119.9h0.75M86.4 106.2h0.75M84.4 110.1h0.75M86.1 105.9h0.75M85.7 122.8h0.75M86.0 115.2h0.75M82.8 112.7h0.75M85.8 109.8h0.75M83.9 114.0h0.75M84.4 110.8h0.75M83.6 113.9h0.75M87.4 108.8h0.75M86.5 104.2h0.75M86.9 118.2h0.75M85.4 120.5h0.75M84.7 114.8h0.75M88.6 114.3h0.75M84.3 122.4h0.75M86.8 112.6h0.75M83.2 101.7h0.75M83.7 124.6h0.75M86.5 108.7h0.75M87.8 124.5h0.75M84.7 117.8h0.75M83.5 117.0h0.75M88.8 104.9h0.75M86.1 110.2h0.75M85.9 115.1h0.75M86.4 120.6h0.75M86.8 121.6h0.75M87.6 122.0h0.75M85.0 117.3h0.75M85.4 108.8h0.75M89.0 116.5h0.75M86.1 100.1h0.75M85.7 119.8h0.75M85.7 110.8h0.75M88.3 112.4h0.75M85.5 113.8h0.75M85.7 121.7h0.75M86.9 114.0h0.75M85.5 113.0h0.75M88.6 112.4h0.75M87.0 103.7h0.75M86.5 119.2h0.75M88.0 116.7h0.75M86.9 116.7h0.75M86.3 108.9h0.75M86.9 113.7h0.75M87.0 119.8h0.75M86.2 111.5h0.75M86.5 106.0h0.75M86.4 108.5h0.75M86.7 115.3h0.75M85.7 106.3h0.75M86.1 109.9h0.75M85.8 119.2h0.75M87.5 105.7h0.75M87.4 123.8h0.75M87.7 116.4h0.75M85.9 126.4h0.75M85.5 104.1h0.75M86.2 116.5h0.75M84.4 106.2h0.75M89.0 115.3h0.75M87.2 110.5h0.75M83.7 113.3h0.75M88.1 109.9h0.75M83.3 113.3h0.75M85.6 114.6h0.75M84.4 112.4h0.75M85.2 120.5h0.75M86.2 120.5h0.75M85.9 99.9h0.75M83.0 118.2h0.75M87.4 120.5h0.75M85.9 102.3h0.75M85.3 117.3h0.75M88.1 112.2h0.75M85.2 109.2h0.75M87.6 120.4h0.75M83.2 122.8h0.75M84.6 104.5h0.75M83.6 109.5h0.75M84.1 109.9h0.75M86.3 117.3h0.75M85.3 103.7h0.75M85.4 109.9h0.75M83.3 115.5h0.75M83.8 102.6h0.75M88.3 120.9h0.75M88.2 115.3h0.75M85.4 113.9h0.75M83.9 119.6h0.75M86.4 112.4h0.75M83.2 113.7h0.75M88.5 124.4h0.75M87.4 112.1h0.75M86.2 118.3h0.75M86.3 121.7h0.75M85.0 98.6h0.75M82.3 108.3h0.75M83.9 119.0h0.75M87.7 114.5h0.75M86.8 115.0h0.75M86.3 111.3h0.75M85.4 122.6h0.75M85.6 114.2h0.75M87.8 121.2h0.75M85.4 116.2h0.75M84.5 115.4h0.75M86.5 114.5h0.75M86.3 117.0h0.75M82.1 108.9h0.75M86.1 111.1h0.75M84.5 112.9h0.75M88.5 112.9h0.75M85.0 111.2h0.75M84.2 117.8h0.75M84.5 120.7h0.75M87.4 118.4h0.75M87.6 113.9h0.75M83.3 114.1h0.75M87.0 103.9h0.75M84.1 122.0h0.75M86.7 123.7h0.75M87.0 115.0h0.75M86.7 120.3h0.75M86.0 113.1h0.75M86.5 112.3h0.75M89.7 109.3h0.75M83.7 105.7h0.75M87.6 111.7h0.75M86.3 113.0h0.75M86.4 104.6h0.75M86.2 110.6h0.75M87.7 118.8h0.75M84.1 107.9h0.75M86.9 122.7h0.75M87.2 113.5h0.75M87.7 98.4h0.75M85.2 107.8h0.75M84.4 118.4h0.75M86.4 116.4h0.75M85.8 118.7h0.75M87.2 110.6h0.75M87.5 108.1h0.75M88.7 105.6h0.75M85.6 107.1h0.75M86.1 123.5h0.75M88.2 117.1h0.75M85.1 120.7h0.75M81.6 109.3h0.75M87.5 114.2h0.75M89.9 109.9h0.75M84.0 113.0h0.75M86.9 126.2h0.75M83.3 115.6h0.75M88.0 109.9h0.75M85.3 106.2h0.75M87.2 120.2h0.75M86.9 116.2h0.75M87.6 113.7h0.75M87.1 120.1h0.75M88.0 118.0h0.75M86.2 119.4h0.75M83.6 102.4h0.75M88.5 115.4h0.75M84.4 110.5h0.75M85.8 115.0h0.75M84.8 121.3h0.75M84.3 125.9h0.75M87.1 102.9h0.75M84.1 114.9h0.75M86.4 111.6h0.75M86.0 115.6h0.75M84.2 114.9h0.75M89.6 110.1h0.75M84.4 119.1h0.75M88.1 121.7h0.75M85.0 114.0h0.75M86.3 113.1h0.75M86.6 122.0h0.75M86.9 114.4h0.75M87.2 115.1h0.75M87.9 120.8h0.75M89.3 102.1h0.75M86.2 112.4h0.75M84.9 115.0h0.75M86.9 118.1h0.75M85.8 105.4h0.75M86.9 118.7h0.75M89.3 120.9h0.75M86.0 106.6h0.75M90.3 109.8h0.75M86.3 119.7h0.75M86.8 123.7h0.75M84.4 109.7h0.75M86.3 106.0h0.75M85.1 124.1h0.75M86.5 113.8h0.75M85.1 114.8h0.75M86.0 107.1h0.75M87.3 105.7h0.75M88.0 112.2h0.75M82.4 103.8h0.75M86.5 108.5h0.75M88.9 124.1h0.75M89.3 120.7h0.75M88.2 110.3h0.75M88.1 111.5h0.75M85.9 105.1h0.75M86.1 117.3h0.75M85.9 106.8h0.75M87.5 120.8h0.75M85.9 119.9h0.75M87.6 107.7h0.75M86.0 101.6h0.75M84.4 117.5h0.75M84.6 117.2h0.75M86.6 100.2h0.75M85.3 125.0h0.75M86.0 115.4h0.75M84.9 103.4h0.75M85.7 108.5h0.75M86.2 101.0h0.75M88.2 126.4h0.75M84.8 116.7h0.75M84.6 120.5h0.75M84.7 113.5h0.75M88.1 118.1h0.75M85.5 103.9h0.75M83.5 122.9h0.75M86.8 114.9h0.75M88.0 115.5h0.75M84.9 113.8h0.75M85.9 114.4h0.75M90.0 118.5h0.75M86.5 112.8h0.75M84.9 107.6h0.75M83.0 111.3h0.75M83.6 101.6h0.75M84.5 100.4h0.75M88.2 123.2h0.75M87.1 96.9h0.75M86.1 107.5h0.75M83.2 112.7h0.75M87.9 117.6h0.75M83.7 109.9h0.75M84.8 122.5h0.75M85.9 107.7h0.75M84.6 100.7h0.75M84.7 120.8h0.75M83.0 115.8h0.75M85.8 120.2h0.75M84.2 120.9h0.75M83.4 114.3h0.75M85.7 115.4h0.75M84.4 120.5h0.75M89.8 125.0h0.75M84.5 110.5h0.75M87.2 115.4h0.75M84.8 123.2h0.75M86.8 121.7h0.75M85.7 123.5h0.75M85.3 106.7h0.75M86.0 104.7h0.75M88.0 119.6h0.75M83.3 115.7h0.75M87.4 112.0h0.75M86.7 110.4h0.75M85.9 113.9h0.75M86.8 107.7h0.75M84.2 116.8h0.75M85.2 118.1h0.75M85.2 105.3h0.75M87.2 116.4h0.75M87.2 112.1h0.75M85.4 123.4h0.75M86.8 114.1h0.75M86.2 118.7h0.75M84.8 116.4h0.75M84.5 101.5h0.75M86.3 115.2h0.75M87.1 118.4h0.75M87.1 120.0h0.75M84.3 123.0h0.75M90.3 110.5h0.75M84.0 119.3h0.75M87.5 121.6h0.75M88.5 104.8h0.75M86.6 117.8h0.75M88.0 108.2h0.75M86.0 111.9h0.75M85.7 113.5h0.75M85.8 102.1h0.75M85.9 115.0h0.75M85.4 89.6h0.75M84.9 109.9h0.75M84.6 125.8h0.75M87.5 113.2h0.75M84.4 117.8h0.75M85.0 124.9h0.75M87.8 113.6h0.75M87.0 108.9h0.75M83.5 120.4h0.75M88.6 112.4h0.75M85.2 101.9h0.75M89.5 106.1h0.75M84.4 113.1h0.75M88.0 114.9h0.75M86.0 114.6h0.75M87.4 114.2h0.75M86.3 114.0h0.75M84.2 123.9h0.75M84.9 105.2h0.75M85.3 114.7h0.75M87.3 104.2h0.75M84.0 115.8h0.75M86.6 106.8h0.75M84.2 115.7h0.75M85.8 103.1h0.75M84.6 124.9h0.75M84.3 121.9h0.75M83.5 124.9h0.75M88.6 110.0h0.75M84.9 118.9h0.75M84.0 118.4h0.75M88.0 116.4h0.75M86.5 113.4h0.75M87.6 108.7h0.75M88.6 114.3h0.75M85.5 103.0h0.75M85.3 116.2h0.75M88.0 103.2h0.75M85.8 109.7h0.75M84.1 114.5h0.75M84.8 120.6h0.75M81.7 119.7h0.75M82.9 100.8h0.75M86.8 112.1h0.75M86.2 107.7h0.75M84.3 109.3h0.75M85.9 108.6h0.75M85.3 108.5h0.75M86.4 106.5h0.75M82.7 96.0h0.75M86.0 115.2h0.75M87.5 109.3h0.75M84.2 104.0h0.75M87.2 110.1h0.75M87.6 113.9h0.75M85.6 101.4h0.75M84.9 120.0h0.75M85.0 119.3h0.75M83.4 121.6h0.75M90.5 122.3h0.75M86.5 105.8h0.75M85.2 109.9h0.75M86.3 100.3h0.75M84.6 120.1h0.75M86.2 119.7h0.75M87.4 106.5h0.75M83.8 117.8h0.75M86.1 115.1h0.75M84.7 121.7h0.75M86.8 122.5h0.75M85.4 119.4h0.75M85.9 107.9h0.75M85.9 102.9h0.75M85.7 115.8h0.75M87.1 107.1h0.75M83.9 109.4h0.75M82.7 109.9h0.75M90.2 115.5h0.75M84.8 109.7h0.75M88.8 106.3h0.75M85.8 113.9h0.75M84.8 109.4h0.75M83.3 108.6h0.75M88.1 124.4h0.75M85.5 119.4h0.75M86.7 115.3h0.75M85.8 123.0h0.75M86.9 112.9h0.75M85.6 121.1h0.75M85.0 109.5h0.75M85.6 111.0h0.75M88.0 117.0h0.75M85.9 110.8h0.75M88.3 117.6h0.75M89.3 120.9h0.75M85.7 110.6h0.75M85.5 115.8h0.75M87.3 117.9h0.75M88.5 103.8h0.75M86.0 104.5h0.75M84.3 110.3h0.75M85.0 107.7h0.75M83.6 122.5h0.75M85.5 121.3h0.75M84.2 98.2h0.75M85.0 120.7h0.75M85.1 117.3h0.75M84.3 124.3h0.75M86.7 121.9h0.75M85.6 123.5h0.75M86.1 111.1h0.75M85.0 114.9h0.75M84.5 106.1h0.75M86.2 119.5h0.75M85.5 120.4h0.75M88.5 105.6h0.75M86.4 107.7h0.75M85.0 115.7h0.75M82.2 118.7h0.75M87.3 118.3h0.75M85.4 122.2h0.75M88.3 117.9h0.75M83.1 113.4h0.75M85.5 103.1h0.75M85.9 119.8h0.75M85.6 113.2h0.75M88.4 110.2h0.75M84.5 114.8h0.75M87.8 118.7h0.75M86.1 111.0h0.75M88.0 120.7h0.75M83.2 116.8h0.75M82.1 125.0h0.75M87.0 110.1h0.75M83.9 112.4h0.75M83.2 118.5h0.75M85.2 102.1h0.75M86.0 122.8h0.75M84.0 112.0h0.75M88.9 115.8h0.75M85.1 115.8h0.75M87.2 107.4h0.75M85.8 103.0h0.75M83.5 103.7h0.75M87.4 116.7h0.75M87.2 123.0h0.75M86.1 116.1h0.75M86.6 117.8h0.75M84.3 112.6h0.75M85.8 114.7h0.75M84.8 113.6h0.75M86.5 115.8h0.75M86.9 120.3h0.75M86.9 121.3h0.75M87.3 124.3h0.75M87.0 110.1h0.75M89.7 122.4h0.75M88.0 119.6h0.75M86.1 106.5h0.75M86.7 112.0h0.75M85.4 99.5h0.75M88.5 106.3h0.75M84.2 117.8h0.75M86.9 108.9h0.75M86.0 116.3h0.75M86.3 118.2h0.75M87.2 111.9h0.75M85.4 107.5h0.75M87.2 118.6h0.75M82.2 123.5h0.75M85.9 116.7h0.75M86.5 112.9h0.75M86.5 105.4h0.75M81.9 123.1h0.75M82.4 108.5h0.75M87.4 111.6h0.75M85.1 104.0h0.75M85.8 113.2h0.75M85.0 103.5h0.75M86.2 117.4h0.75M87.8 118.1h0.75M88.4 122.9h0.75M81.5 126.2h0.75M85.8 107.1h0.75M86.7 121.2h0.75M83.5 105.8h0.75M87.1 110.6h0.75M88.3 116.0h0.75M85.1 105.2h0.75M87.0 102.4h0.75M83.9 105.3h0.75M88.7 126.5h0.75M85.6 111.8h0.75M87.1 123.2h0.75M85.7 122.4h0.75M82.2 114.1h0.75M85.7 105.5h0.75M89.1 109.7h0.75M86.0 105.7h0.75M87.1 115.8h0.75M85.5 111.7h0.75M85.1 109.4h0.75M83.7 123.0h0.75M87.4 104.7h0.75M84.1 117.4h0.75M89.6 113.1h0.75M85.5 112.7h0.75M86.4 113.3h0.75M87.7 121.4h0.75M86.9 125.6h0.75M85.6 110.6h0.75M90.8 100.9h0.75M83.5 97.9h0.75M86.6 107.0h0.75M87.7 99.8h0.75M85.8 111.7h0.75M84.3 122.3h0.75M85.4 117.7h0.75M85.2 115.5h0.75M85.3 115.0h0.75M85.8 109.7h0.75M86.7 113.2h0.75M84.4 107.1h0.75M86.7 123.8h0.75M83.9 111.6h0.75M86.7 121.8h0.75M87.1 106.2h0.75M86.1 120.8h0.75M86.4 112.9h0.75M84.1 115.7h0.75M85.9 114.7h0.75M88.4 122.8h0.75M84.7 116.1h0.75M85.5 115.2h0.75M88.6 120.9h0.75M86.1 109.9h0.75M85.7 117.0h0.75M85.2 122.2h0.75M86.0 106.2h0.75M89.3 94.1h0.75M85.6 113.6h0.75M87.6 122.3h0.75M88.3 125.5h0.75M86.5 115.3h0.75M87.6 114.3h0.75M84.0 111.3h0.75M87.1 118.8h0.75M84.2 122.9h0.75M86.5 103.9h0.75M86.8 121.6h0.75M86.9 112.3h0.75M84.7 122.4h0.75M86.4 114.5h0.75M85.4 107.2h0.75M83.0 112.1h0.75M87.8 119.9h0.75M84.9 125.2h0.75M85.6 107.4h0.75M87.6 124.2h0.75M85.4 105.9h0.75M85.9 97.4h0.75M86.1 125.2h0.75M86.4 109.3h0.75M87.1 111.0h0.75M88.0 112.0h0.75M89.3 112.0h0.75M86.3 107.9h0.75M83.9 116.9h0.75M86.6 107.7h0.75M86.9 111.6h0.75M85.1 114.0h0.75M86.6 119.6h0.75M88.0 117.2h0.75M84.8 109.7h0.75M86.6 106.1h0.75M85.7 111.8h0.75M85.8 115.8h0.75M87.7 126.0h0.75M87.4 121.6h0.75M84.3 121.8h0.75M88.1 105.0h0.75M90.1 110.5h0.75M86.1 108.9h0.75M85.1 122.0h0.75M86.4 111.9h0.75M87.8 107.9h0.75M84.6 110.6h0.75M84.8 119.3h0.75M85.6 107.1h0.75M85.3 100.6h0.75M86.3 115.2h0.75M87.0 112.8h0.75M86.6 107.9h0.75M86.0 115.6h0.75M84.0 118.6h0.75M86.2 114.9h0.75M86.0 109.1h0.75M84.6 118.6h0.75M85.7 109.0h0.75M84.8 121.0h0.75M86.1 121.9h0.75M86.0 106.2h0.75M87.4 116.7h0.75M84.9 112.3h0.75M84.4 120.3h0.75M85.3 117.8h0.75M86.4 112.7h0.75M86.6 112.8h0.75M84.1 111.6h0.75M84.1 119.8h0.75M87.0 110.4h0.75M87.0 116.2h0.75M87.6 108.0h0.75M86.0 107.5h0.75M84.9 124.1h0.75M82.8 108.1h0.75M86.8 119.9h0.75M84.7 100.3h0.75M83.2 117.1h0.75M87.8 120.9h0.75M84.8 124.0h0.75M85.7 118.8h0.75M85.7 125.6h0.75M85.2 99.5h0.75M85.5 115.8h0.75M86.4 109.5h0.75M85.6 106.6h0.75M85.6 115.1h0.75M86.4 126.0h0.75M82.8 118.1h0.75M86.7 106.4h0.75M86.1 114.4h0.75M84.4 119.5h0.75M89.1 119.2h0.75M87.2 122.0h0.75M85.8 121.3h0.75M84.7 115.7h0.75M87.1 123.6h0.75M85.5 112.5h0.75M86.7 113.9h0.75M86.2 120.1h0.75M84.8 120.6h0.75M86.6 112.7h0.75M84.0 110.1h0.75M85.9 121.1h0.75M82.9 119.5h0.75M86.3 106.6h0.75M87.4 117.3h0.75M86.7 107.7h0.75M84.2 120.8h0.75M88.2 117.0h0.75M85.7 111.4h0.75M83.3 121.4h0.75M85.8 123.1h0.75M84.9 121.8h0.75M84.9 118.6h0.75M88.2 109.6h0.75M87.4 114.4h0.75M84.5 115.9h0.75M87.0 109.5h0.75M85.6 110.5h0.75M84.8 113.0h0.75M87.3 111.0h0.75M88.0 111.9h0.75M84.9 121.9h0.75M88.2 110.0h0.75M86.9 106.4h0.75M85.4 111.9h0.75M87.1 105.8h0.75M85.2 109.7h0.75M86.2 106.0h0.75M86.3 104.1h0.75M87.3 105.4h0.75M83.0 126.1h0.75M88.0 108.7h0.75M84.3 117.8h0.75M89.2 118.7h0.75M87.0 106.3h0.75M83.2 117.2h0.75M87.6 115.4h0.75M86.0 124.1h0.75M84.7 122.1h0.75M87.3 110.2h0.75M86.2 115.3h0.75M86.9 107.7h0.75M85.6 115.1h0.75M86.0 114.6h0.75M86.4 113.2h0.75M85.2 121.6h0.75M85.0 112.3h0.75M84.6 106.6h0.75M86.7 114.2h0.75M85.8 117.6h0.75M85.7 119.2h0.75M88.9 116.9h0.75M85.6 125.9h0.75M87.1 103.0h0.75M88.1 116.0h0.75M87.3 106.5h0.75M84.7 110.0h0.75M86.9 106.7h0.75M84.9 121.1h0.75M85.0 115.3h0.75M84.6 102.8h0.75M85.9 113.7h0.75M83.7 121.2h0.75M87.3 120.6h0.75M85.2 106.6h0.75M85.9 115.6h0.75M85.7 110.5h0.75M84.4 109.4h0.75M85.9 111.1h0.75M88.6 112.6h0.75M86.7 111.3h0.75M85.7 107.8h0.75M85.2 104.2h0.75M82.7 123.7h0.75M84.3 117.5h0.75M85.8 110.6h0.75M87.1 110.7h0.75M86.7 112.0h0.75M87.5 121.1h0.75M86.1 122.0h0.75M86.8 125.2h0.75M85.8 103.9h0.75M86.3 116.1h0.75M85.4 113.1h0.75M85.6 105.9h0.75M88.7 109.2h0.75M84.3 103.6h0.75M84.7 114.2h0.75M88.3 118.6h0.75M84.9 106.0h0.75M84.2 113.9h0.75M87.4 111.2h0.75M86.2 99.6h0.75M87.7 113.8h0.75M87.0 121.3h0.75M84.4 114.9h0.75M86.3 109.3h0.75M87.1 113.6h0.75M86.3 125.7h0.75M85.8 121.6h0.75M84.8 115.5h0.75M87.7 99.6h0.75M86.8 112.6h0.75M87.7 115.7h0.75M85.9 105.7h0.75M90.6 109.4h0.75M85.5 109.5h0.75M85.5 116.0h0.75M83.9 121.7h0.75M85.6 118.6h0.75M82.7 110.9h0.75M85.5 111.8h0.75M85.0 116.6h0.75M86.6 107.8h0.75M82.9 119.5h0.75M85.4 120.4h0.75M88.4 108.9h0.75M82.6 106.4h0.75M84.3 122.1h0.75M81.9 118.9h0.75M82.3 104.4h0.75M82.6 103.1h0.75M85.1 113.6h0.75M84.7 116.7h0.75M90.6 111.5h0.75M83.3 108.2h0.75M85.9 106.4h0.75M89.1 121.3h0.75M91.3 115.1h0.75M79.4 108.7h0.75M87.9 102.1h0.75M84.7 118.9h0.75M86.6 99.0h0.75M84.7 79.8h0.75M86.2 98.0h0.75M86.1 98.3h0.75M83.8 104.9h0.75M93.3 98.3h0.75M83.2 104.7h0.75M88.9 117.8h0.75M87.9 106.8h0.75M86.5 102.4h0.75M85.7 102.1h0.75M82.5 100.2h0.75M91.1 113.9h0.75M84.3 108.9h0.75M85.0 121.9h0.75M86.1 103.7h0.75M87.9 113.1h0.75M84.4 102.4h0.75M86.5 93.9h0.75M83.9 119.9h0.75M88.4 120.9h0.75M85.1 104.1h0.75M85.5 105.3h0.75M89.4 107.8h0.75M89.6 103.0h0.75M87.1 125.8h0.75M84.3 103.6h0.75M84.7 94.2h0.75M85.4 103.7h0.75M91.8 105.3h0.75M80.8 119.2h0.75M88.6 109.6h0.75M86.9 117.0h0.75M84.8 110.4h0.75M86.5 126.2h0.75M89.8 111.6h0.75M82.8 118.6h0.75M86.0 121.4h0.75M86.3 111.7h0.75M87.8 102.8h0.75M84.0 119.1h0.75M87.9 118.0h0.75M89.6 96.8h0.75M88.6 89.8h0.75M86.3 113.3h0.75M88.8 120.6h0.75M83.8 107.3h0.75M85.8 103.2h0.75M84.1 103.5h0.75M89.1 123.3h0.75M88.1 126.4h0.75M86.4 99.3h0.75M84.5 112.0h0.75M88.8 121.9h0.75M83.9 119.3h0.75M84.8 115.8h0.75M88.5 124.5h0.75M84.8 112.4h0.75M87.3 105.9h0.75M86.4 115.8h0.75M82.0 103.7h0.75M92.0 114.4h0.75M84.8 92.0h0.75M83.7 115.1h0.75M87.9 114.3h0.75M87.7 104.1h0.75M90.2 99.0h0.75M87.5 107.4h0.75M81.8 118.8h0.75M85.5 116.9h0.75M89.4 111.6h0.75M84.5 107.9h0.75M86.0 124.1h0.75M88.3 125.5h0.75M88.1 102.5h0.75M88.5 119.5h0.75M85.9 114.5h0.75M85.4 97.6h0.75M85.9 117.5h0.75M85.3 88.0h0.75M84.1 120.7h0.75M86.7 121.0h0.75M84.3 105.9h0.75M83.6 102.3h0.75M87.5 111.4h0.75M84.9 112.9h0.75M82.9 106.2h0.75M82.4 95.3h0.75M82.7 99.2h0.75M90.2 123.5h0.75M89.3 104.3h0.75M87.7 98.8h0.75M84.8 112.4h0.75M82.1 111.9h0.75M87.7 89.6h0.75M80.0 107.3h0.75M85.8 111.4h0.75M83.3 115.6h0.75M86.5 102.8h0.75M90.3 112.5h0.75M84.9 107.8h0.75M81.8 107.7h0.75M87.6 112.0h0.75M83.0 101.6h0.75M81.5 96.4h0.75M86.4 112.9h0.75M83.8 107.8h0.75M84.1 116.1h0.75M87.8 104.5h0.75M85.0 97.9h0.75M86.1 118.5h0.75M87.6 124.5h0.75M85.3 101.1h0.75M88.8 119.1h0.75M84.5 120.8h0.75M86.1 109.6h0.75M90.8 115.2h0.75M87.0 106.8h0.75M86.7 120.4h0.75M87.3 102.5h0.75M87.3 108.8h0.75M86.9 108.1h0.75M80.6 94.1h0.75M85.2 88.2h0.75M87.9 105.4h0.75M87.0 87.9h0.75M86.8 119.7h0.75M86.6 97.1h0.75M88.6 104.7h0.75M84.7 111.9h0.75M87.3 97.7h0.75M86.2 110.5h0.75M89.8 122.7h0.75M92.6 103.4h0.75M83.9 113.5h0.75M90.2 100.0h0.75M85.3 102.6h0.75M87.5 114.0h0.75M86.1 116.5h0.75M84.2 106.3h0.75M86.1 110.6h0.75M89.5 110.7h0.75M89.5 112.4h0.75" stroke="#000" stroke-width="0.75" opacity="1" fill="none"/>
<rect x="53.6" y="77.8" width="50.4" height="49.6" fill="none" stroke="#777" stroke-width="0.85"/>
<line x1="79.2" y1="77.8" x2="79.2" y2="127.4" stroke="#777" stroke-width="0.75"/>
<line x1="53.6" y1="104.2" x2="104.0" y2="104.2" stroke="#777" stroke-width="0.75"/>
<rect x="91.6" y="78.4" width="11.5" height="4.7" fill="#fff" opacity="0.85"/>
<rect x="88.3" y="122.1" width="14.8" height="4.7" fill="#fff" opacity="0.85"/>
<text font-size="5.9" x="54.5" y="82.5" fill="#111">0.00</text>
<text font-size="5.9" x="103.5" y="82.5" text-anchor="end" fill="#111">9.04</text>
<text font-size="5.9" x="54.5" y="126.6" fill="#111">0.00</text>
<text font-size="5.9" x="103.5" y="126.6" text-anchor="end" fill="#111">90.96</text>
<text font-size="3.7" x="51.0" y="133.4" font-weight="bold" fill="#333">10<tspan dy="-1.3" font-size="3.0">1</tspan></text>
<text font-size="3.7" x="63.6" y="133.4" font-weight="bold" fill="#333">10<tspan dy="-1.3" font-size="3.0">2</tspan></text>
<text font-size="3.7" x="76.2" y="133.4" font-weight="bold" fill="#333">10<tspan dy="-1.3" font-size="3.0">3</tspan></text>
<text font-size="3.7" x="88.8" y="133.4" font-weight="bold" fill="#333">10<tspan dy="-1.3" font-size="3.0">4</tspan></text>
<path d="M143.7 115.8h0.75M139.9 108.6h0.75M145.0 112.3h0.75M146.2 106.8h0.75M140.0 121.0h0.75M138.7 120.8h0.75M142.3 118.9h0.75M139.3 117.2h0.75M143.3 114.1h0.75M143.5 114.7h0.75M142.2 112.3h0.75M139.0 113.4h0.75M142.5 109.2h0.75M137.9 103.7h0.75M144.0 112.9h0.75M140.1 123.1h0.75M141.2 104.0h0.75M140.8 108.4h0.75M141.2 108.1h0.75M141.7 117.7h0.75M140.5 113.1h0.75M141.3 120.3h0.75M140.2 119.7h0.75M143.9 113.1h0.75M139.8 112.3h0.75M138.3 110.7h0.75M139.3 113.3h0.75M140.9 118.1h0.75M141.8 117.4h0.75M141.5 116.5h0.75M139.5 119.1h0.75M144.0 122.3h0.75M139.1 117.4h0.75M138.5 119.8h0.75M141.2 111.3h0.75M140.2 112.8h0.75M141.6 107.8h0.75M141.7 116.3h0.75M142.6 114.2h0.75M143.5 116.8h0.75M139.0 118.8h0.75M142.6 95.9h0.75M141.3 117.2h0.75M141.6 115.2h0.75M141.3 124.2h0.75M142.3 112.5h0.75M140.0 110.8h0.75M142.2 115.5h0.75M142.1 124.0h0.75M143.7 117.4h0.75M141.7 114.1h0.75M141.1 121.5h0.75M139.2 107.2h0.75M140.7 107.8h0.75M140.2 122.9h0.75M137.4 118.5h0.75M139.1 112.8h0.75M140.5 107.6h0.75M138.8 115.0h0.75M136.0 99.7h0.75M140.8 122.2h0.75M145.0 112.5h0.75M140.1 112.5h0.75M142.5 121.0h0.75M139.8 117.8h0.75M141.5 122.5h0.75M140.8 113.0h0.75M140.0 105.2h0.75M142.1 119.5h0.75M143.7 116.4h0.75M140.7 108.1h0.75M139.4 109.4h0.75M142.2 115.1h0.75M137.3 113.8h0.75M141.0 107.2h0.75M141.5 118.2h0.75M139.6 105.0h0.75M141.0 116.3h0.75M141.1 125.3h0.75M141.9 107.5h0.75M143.0 110.0h0.75M142.9 115.2h0.75M143.9 107.5h0.75M142.9 117.5h0.75M139.9 119.4h0.75M145.8 117.0h0.75M140.1 113.4h0.75M144.0 116.3h0.75M144.4 109.9h0.75M144.0 103.5h0.75M141.3 112.4h0.75M140.7 123.1h0.75M140.5 117.0h0.75M145.1 120.3h0.75M140.8 109.4h0.75M137.8 117.2h0.75M143.3 122.3h0.75M143.0 98.3h0.75M139.9 120.1h0.75M140.8 120.4h0.75M146.4 109.2h0.75M145.7 113.9h0.75M138.8 115.2h0.75M143.3 110.4h0.75M144.6 108.4h0.75M141.2 121.0h0.75M141.2 110.6h0.75M141.6 119.1h0.75M144.9 124.0h0.75M145.1 114.3h0.75M138.5 114.2h0.75M140.8 107.5h0.75M140.6 114.0h0.75M141.7 120.9h0.75M139.9 122.5h0.75M141.7 119.6h0.75M143.9 105.8h0.75M144.6 109.5h0.75M142.3 122.1h0.75M143.3 103.5h0.75M141.9 122.5h0.75M141.4 113.9h0.75M141.7 126.0h0.75M140.6 107.9h0.75M139.5 110.8h0.75M141.1 116.9h0.75M141.4 102.5h0.75M138.6 119.3h0.75M143.0 105.0h0.75M143.4 97.5h0.75M146.0 118.6h0.75M138.5 118.1h0.75M141.5 111.3h0.75M140.9 112.9h0.75M141.4 108.2h0.75M140.5 118.4h0.75M142.6 105.2h0.75M140.7 125.5h0.75M143.0 126.1h0.75M139.0 107.2h0.75M137.5 100.9h0.75M140.9 107.1h0.75M139.5 109.6h0.75M141.2 120.3h0.75M142.7 102.2h0.75M144.4 112.2h0.75M139.7 114.3h0.75M140.8 104.8h0.75M144.6 110.4h0.75M140.5 118.3h0.75M144.8 117.9h0.75M139.9 117.6h0.75M143.7 117.2h0.75M142.8 111.1h0.75M141.5 102.7h0.75M140.2 106.5h0.75M141.6 125.0h0.75M137.3 105.2h0.75M139.8 113.9h0.75M143.8 109.0h0.75M140.1 123.0h0.75M142.3 118.2h0.75M143.2 109.3h0.75M142.0 109.9h0.75M140.2 115.4h0.75M142.4 105.6h0.75M140.1 118.8h0.75M141.9 119.2h0.75M141.0 108.9h0.75M143.1 118.7h0.75M136.2 120.6h0.75M140.1 119.2h0.75M144.6 112.5h0.75M139.7 116.3h0.75M141.8 118.5h0.75M138.9 116.2h0.75M143.3 119.4h0.75M142.8 122.9h0.75M140.0 123.1h0.75M142.0 107.5h0.75M141.0 116.4h0.75M142.2 124.0h0.75M142.0 110.9h0.75M145.8 112.2h0.75M140.0 121.0h0.75M140.8 109.0h0.75M139.6 122.8h0.75M139.6 115.2h0.75M140.7 113.2h0.75M140.0 115.6h0.75M142.8 121.9h0.75M140.9 106.3h0.75M138.8 114.6h0.75M136.9 123.9h0.75M141.7 115.4h0.75M138.9 110.0h0.75M140.2 119.3h0.75M140.8 118.9h0.75M142.6 101.0h0.75M141.2 123.4h0.75M140.6 115.4h0.75M141.4 105.9h0.75M145.8 113.6h0.75M142.8 111.4h0.75M144.3 122.6h0.75M143.9 121.2h0.75M142.9 124.3h0.75M142.4 115.5h0.75M143.1 108.3h0.75M136.8 120.2h0.75M141.9 109.6h0.75M141.1 107.9h0.75M140.0 115.9h0.75M141.8 120.4h0.75M141.4 119.0h0.75M142.9 109.6h0.75M138.4 109.7h0.75M141.1 110.8h0.75M145.8 109.8h0.75M142.5 109.2h0.75M142.9 105.7h0.75M143.4 115.8h0.75M140.8 106.2h0.75M144.8 110.5h0.75M144.3 97.7h0.75M145.0 114.7h0.75M143.5 118.8h0.75M140.9 115.5h0.75M139.4 105.2h0.75M141.8 119.7h0.75M141.9 106.0h0.75M143.2 115.2h0.75M143.0 112.6h0.75M141.1 121.9h0.75M144.2 106.2h0.75M139.5 121.4h0.75M142.3 114.9h0.75M139.7 121.7h0.75M142.0 116.1h0.75M142.3 110.9h0.75M142.4 115.5h0.75M143.0 117.2h0.75M139.2 109.6h0.75M141.1 122.7h0.75M140.4 122.5h0.75M143.7 120.7h0.75M145.9 114.5h0.75M142.2 123.1h0.75M142.4 121.5h0.75M141.4 124.5h0.75M142.3 101.2h0.75M143.7 113.3h0.75M139.9 112.5h0.75M141.1 122.6h0.75M142.2 114.1h0.75M141.6 108.3h0.75M140.4 111.3h0.75M141.2 106.5h0.75M140.8 121.6h0.75M142.5 114.6h0.75M142.3 112.9h0.75M139.3 120.8h0.75M145.9 118.2h0.75M139.3 118.3h0.75M140.9 112.7h0.75M138.4 114.0h0.75M142.4 103.4h0.75M141.2 111.2h0.75M139.7 119.0h0.75M144.7 117.5h0.75M143.6 119.9h0.75M141.5 118.7h0.75M144.1 111.6h0.75M141.3 105.0h0.75M138.1 108.9h0.75M143.3 117.1h0.75M142.1 123.8h0.75M138.2 124.2h0.75M141.8 120.0h0.75M144.2 108.9h0.75M139.9 117.4h0.75M141.5 110.5h0.75M141.4 109.6h0.75M141.9 111.9h0.75M144.8 107.4h0.75M142.7 115.1h0.75M144.6 107.9h0.75M140.3 112.0h0.75M140.9 107.8h0.75M143.9 125.1h0.75M141.3 109.4h0.75M139.0 119.2h0.75M140.6 118.4h0.75M137.0 111.7h0.75M142.8 117.5h0.75M136.1 116.6h0.75M141.8 114.5h0.75M140.9 111.5h0.75M141.9 118.1h0.75M135.6 114.5h0.75M143.4 113.1h0.75M143.9 108.1h0.75M145.2 121.3h0.75M144.3 125.6h0.75M139.3 113.8h0.75M142.5 121.9h0.75M141.7 105.6h0.75M143.9 113.4h0.75M142.4 112.4h0.75M141.4 105.1h0.75M142.9 110.2h0.75M138.2 117.5h0.75M141.5 121.2h0.75M143.2 106.2h0.75M141.3 114.6h0.75M141.8 107.3h0.75M141.7 121.4h0.75M144.0 124.7h0.75M143.0 97.1h0.75M141.1 110.8h0.75M136.1 125.3h0.75M143.3 114.5h0.75M142.3 118.0h0.75M141.2 124.1h0.75M145.1 120.3h0.75M140.5 116.3h0.75M143.5 119.6h0.75M140.3 121.2h0.75M143.0 118.6h0.75M140.8 114.4h0.75M138.0 114.4h0.75M140.8 112.5h0.75M141.1 112.4h0.75M141.8 115.3h0.75M140.4 113.7h0.75M141.4 118.0h0.75M142.4 112.1h0.75M140.0 103.2h0.75M139.2 117.4h0.75M139.8 125.7h0.75M141.3 111.9h0.75M141.3 110.8h0.75M140.4 115.0h0.75M138.8 115.5h0.75M141.4 108.3h0.75M143.6 117.1h0.75M143.7 110.0h0.75M139.2 106.4h0.75M138.6 101.5h0.75M144.6 111.3h0.75M142.0 110.9h0.75M141.3 125.5h0.75M138.3 107.8h0.75M141.9 108.3h0.75M142.9 123.5h0.75M143.3 119.8h0.75M141.3 121.5h0.75M140.1 106.3h0.75M141.1 112.8h0.75M143.9 107.7h0.75M143.8 109.2h0.75M139.2 102.8h0.75M141.5 104.6h0.75M142.0 114.9h0.75M140.8 101.2h0.75M140.6 117.6h0.75M138.2 119.3h0.75M141.6 110.8h0.75M142.0 119.1h0.75M141.6 109.2h0.75M143.1 109.9h0.75M142.3 121.3h0.75M144.1 125.6h0.75M143.6 115.6h0.75M141.2 115.9h0.75M142.9 108.8h0.75M144.5 103.6h0.75M143.5 105.7h0.75M139.5 111.1h0.75M141.1 105.2h0.75M142.8 113.8h0.75M144.2 107.5h0.75M138.1 119.3h0.75M141.2 121.3h0.75M137.1 105.9h0.75M139.3 101.4h0.75M140.7 124.3h0.75M144.6 105.1h0.75M140.4 101.8h0.75M140.0 107.9h0.75M142.4 122.4h0.75M146.1 112.1h0.75M143.2 116.1h0.75M142.9 125.4h0.75M142.2 120.5h0.75M142.6 113.9h0.75M140.3 111.7h0.75M141.6 111.9h0.75M141.0 109.7h0.75M143.2 112.8h0.75M141.4 113.0h0.75M144.1 110.8h0.75M144.3 108.6h0.75M144.5 118.8h0.75M140.7 117.7h0.75M143.8 107.9h0.75M141.2 116.7h0.75M141.2 112.5h0.75M141.6 116.7h0.75M143.1 124.8h0.75M141.4 104.5h0.75M140.8 112.1h0.75M143.6 100.6h0.75M140.4 113.6h0.75M142.9 117.3h0.75M143.2 113.4h0.75M141.2 122.9h0.75M144.9 117.2h0.75M141.9 108.6h0.75M145.6 117.3h0.75M142.8 103.4h0.75M141.3 113.1h0.75M144.5 113.2h0.75M139.4 108.8h0.75M142.9 115.3h0.75M141.7 113.4h0.75M141.8 117.0h0.75M140.7 112.6h0.75M142.0 107.0h0.75M142.4 99.3h0.75M142.8 113.7h0.75M139.4 123.9h0.75M140.2 122.9h0.75M141.5 125.7h0.75M141.2 121.7h0.75M141.0 101.5h0.75M142.3 117.8h0.75M142.4 126.1h0.75M140.2 104.6h0.75M142.1 109.7h0.75M141.4 114.5h0.75M140.1 122.1h0.75M142.1 121.9h0.75M141.1 110.0h0.75M140.6 108.4h0.75M142.5 115.5h0.75M139.6 103.9h0.75M140.0 101.9h0.75M139.9 104.0h0.75M142.9 106.5h0.75M140.5 113.7h0.75M141.7 117.5h0.75M143.1 119.0h0.75M141.0 123.2h0.75M142.3 109.6h0.75M144.4 106.3h0.75M142.5 123.2h0.75M141.8 116.9h0.75M141.8 119.1h0.75M142.0 114.6h0.75M142.9 101.4h0.75M142.1 112.4h0.75M145.3 116.5h0.75M140.4 119.1h0.75M140.9 106.3h0.75M141.1 118.0h0.75M143.9 121.8h0.75M142.0 113.4h0.75M142.0 122.9h0.75M141.4 122.6h0.75M140.1 114.4h0.75M143.1 119.4h0.75M142.0 111.0h0.75M138.2 111.5h0.75M140.0 111.7h0.75M144.6 109.2h0.75M143.2 114.4h0.75M139.5 115.3h0.75M143.0 106.3h0.75M139.4 111.9h0.75M143.0 110.4h0.75M142.4 117.7h0.75M141.6 117.6h0.75M144.0 113.2h0.75M142.2 107.1h0.75M140.3 113.8h0.75M143.1 109.9h0.75M139.0 120.9h0.75M146.1 96.7h0.75M139.6 115.4h0.75M142.5 108.0h0.75M142.2 122.1h0.75M141.1 119.6h0.75M141.8 108.1h0.75M140.5 110.3h0.75M144.1 122.5h0.75M142.1 103.7h0.75M140.7 111.7h0.75M138.0 114.4h0.75M142.1 105.4h0.75M140.8 111.4h0.75M145.1 119.1h0.75M143.0 115.1h0.75M139.2 120.9h0.75M140.3 101.2h0.75M143.0 112.1h0.75M141.6 118.1h0.75M141.2 117.4h0.75M144.0 112.3h0.75M140.9 114.6h0.75M142.8 111.7h0.75M141.8 109.8h0.75M141.5 118.3h0.75M140.1 113.3h0.75M138.9 109.7h0.75M141.8 118.2h0.75M139.7 113.8h0.75M139.9 116.7h0.75M142.1 117.6h0.75M141.2 104.7h0.75M140.6 105.3h0.75M140.3 114.1h0.75M143.6 110.1h0.75M140.2 115.9h0.75M138.7 121.5h0.75M143.4 121.2h0.75M141.4 119.6h0.75M141.0 121.1h0.75M140.4 108.9h0.75M142.3 111.4h0.75M142.9 108.6h0.75M142.1 107.7h0.75M139.6 106.0h0.75M138.6 112.9h0.75M144.6 111.4h0.75M143.3 113.2h0.75M143.6 101.8h0.75M139.8 117.4h0.75M142.8 113.0h0.75M142.2 118.2h0.75M141.0 121.4h0.75M140.0 119.7h0.75M143.3 115.9h0.75M141.0 114.4h0.75M137.5 116.3h0.75M139.0 100.6h0.75M143.0 108.2h0.75M142.3 114.8h0.75M138.4 108.3h0.75M141.1 117.7h0.75M141.7 105.8h0.75M140.6 115.2h0.75M139.3 111.5h0.75M140.6 99.9h0.75M144.8 120.6h0.75M140.7 121.0h0.75M139.7 125.1h0.75M140.9 115.5h0.75M140.5 115.1h0.75M142.2 114.7h0.75M140.1 119.7h0.75M142.6 114.5h0.75M143.5 109.4h0.75M144.0 113.4h0.75M144.4 111.5h0.75M141.1 116.0h0.75M143.6 124.4h0.75M140.8 109.5h0.75M143.0 123.1h0.75M142.9 112.2h0.75M143.9 114.3h0.75M141.9 118.8h0.75M140.6 98.9h0.75M142.0 119.4h0.75M142.4 118.2h0.75M141.9 121.7h0.75M141.8 124.8h0.75M141.7 120.0h0.75M140.6 116.6h0.75M142.4 115.5h0.75M144.4 114.8h0.75M143.7 116.9h0.75M143.6 108.3h0.75M140.9 121.2h0.75M140.1 117.2h0.75M142.6 115.9h0.75M142.4 118.2h0.75M141.2 117.3h0.75M140.7 111.4h0.75M138.7 113.8h0.75M138.5 114.7h0.75M142.0 107.0h0.75M141.7 116.5h0.75M141.0 108.2h0.75M141.4 117.3h0.75M138.0 116.9h0.75M142.4 110.1h0.75M141.8 123.9h0.75M143.6 111.5h0.75M137.3 122.5h0.75M144.4 102.4h0.75M141.2 109.7h0.75M142.0 114.9h0.75M143.7 110.4h0.75M145.1 102.7h0.75M141.4 118.8h0.75M143.2 112.1h0.75M138.1 116.0h0.75M143.0 100.4h0.75M140.7 118.4h0.75M137.2 113.2h0.75M138.7 105.2h0.75M142.3 122.4h0.75M143.7 110.0h0.75M142.5 102.3h0.75M138.9 118.3h0.75M140.9 107.5h0.75M138.2 112.9h0.75M145.7 100.6h0.75M139.7 122.3h0.75M138.1 110.2h0.75M141.7 122.3h0.75M141.5 113.7h0.75M142.4 116.9h0.75M138.8 107.9h0.75M141.2 116.9h0.75M139.3 109.6h0.75M140.2 116.9h0.75M140.8 118.7h0.75M142.3 108.2h0.75M141.1 105.9h0.75M141.8 120.1h0.75M139.8 102.2h0.75M142.6 112.5h0.75M141.5 117.7h0.75M142.3 120.9h0.75M140.8 99.2h0.75M140.7 112.4h0.75M140.8 117.2h0.75M141.1 123.5h0.75M140.4 114.5h0.75M139.8 107.6h0.75M140.9 119.8h0.75M141.6 113.3h0.75M138.9 100.1h0.75M141.2 112.8h0.75M144.9 117.1h0.75M142.4 121.2h0.75M139.9 106.0h0.75M140.9 124.8h0.75M143.4 110.4h0.75M139.3 121.0h0.75M143.6 106.9h0.75M144.6 109.1h0.75M143.0 113.1h0.75M141.0 110.3h0.75M142.9 118.8h0.75M143.1 112.5h0.75M144.8 113.2h0.75M139.5 124.9h0.75M141.8 114.9h0.75M143.2 116.9h0.75M138.1 119.0h0.75M139.8 115.0h0.75M141.3 116.3h0.75M137.1 119.3h0.75M145.9 111.6h0.75M143.3 118.9h0.75M142.2 111.0h0.75M142.8 116.4h0.75M144.3 120.3h0.75M140.3 94.2h0.75M144.4 117.9h0.75M141.9 110.3h0.75M146.3 123.8h0.75M141.8 111.9h0.75M142.7 124.0h0.75M142.6 121.1h0.75M142.1 117.0h0.75M139.2 115.4h0.75M141.7 114.0h0.75M141.2 116.6h0.75M140.5 113.1h0.75M139.9 106.1h0.75M140.6 111.6h0.75M139.6 97.5h0.75M144.7 121.6h0.75M140.9 118.4h0.75M139.5 103.2h0.75M142.2 118.5h0.75M140.3 114.5h0.75M135.8 113.6h0.75M143.6 115.7h0.75M141.9 118.5h0.75M137.7 105.5h0.75M139.2 116.2h0.75M140.4 101.3h0.75M143.3 113.2h0.75M138.5 105.6h0.75M143.6 124.3h0.75M142.4 112.6h0.75M143.3 115.5h0.75M137.1 116.4h0.75M144.2 105.0h0.75M138.2 104.1h0.75M139.2 114.3h0.75M143.6 109.2h0.75M140.1 91.3h0.75M139.8 99.1h0.75M139.3 112.4h0.75M138.3 103.7h0.75M137.5 106.5h0.75M140.2 119.0h0.75M134.9 118.1h0.75M143.1 103.8h0.75M138.9 111.0h0.75M142.8 107.4h0.75M140.6 109.2h0.75M137.7 111.7h0.75M142.9 109.5h0.75M137.5 109.0h0.75M140.7 112.1h0.75M139.8 117.3h0.75M144.5 117.2h0.75M141.8 121.1h0.75M141.0 107.4h0.75M136.5 109.2h0.75M145.0 99.5h0.75M143.6 96.4h0.75M141.2 97.5h0.75M142.0 107.6h0.75M143.6 103.9h0.75M135.6 104.3h0.75M143.0 119.2h0.75M142.0 109.3h0.75M143.3 107.1h0.75M139.6 111.2h0.75M144.6 104.1h0.75M142.7 102.7h0.75M138.8 110.7h0.75M136.9 100.6h0.75M137.3 103.1h0.75M143.0 109.7h0.75M136.8 85.7h0.75M142.5 102.8h0.75M144.4 105.2h0.75M136.9 102.8h0.75M136.2 95.2h0.75M143.3 103.8h0.75M143.3 103.5h0.75M140.3 103.6h0.75M139.3 102.6h0.75M145.8 108.5h0.75M134.9 125.6h0.75M145.1 120.0h0.75M140.7 107.5h0.75M139.6 110.2h0.75M142.6 109.0h0.75M138.5 99.6h0.75M146.4 125.5h0.75M137.1 102.8h0.75M140.9 114.8h0.75M140.7 111.4h0.75M142.2 120.2h0.75M136.9 119.7h0.75M142.5 114.3h0.75M136.3 106.8h0.75M140.2 115.3h0.75M143.2 115.7h0.75M137.0 121.3h0.75M141.3 118.1h0.75M141.0 102.2h0.75M149.4 115.4h0.75M143.5 104.5h0.75M140.4 119.9h0.75M142.5 126.0h0.75M144.9 98.6h0.75M136.2 120.3h0.75M143.0 106.5h0.75M140.1 103.6h0.75M146.8 107.5h0.75M136.7 117.8h0.75M140.8 112.5h0.75M139.8 108.7h0.75M135.1 114.2h0.75M138.9 105.3h0.75M142.1 121.4h0.75M134.2 107.7h0.75M142.8 118.9h0.75M138.2 112.1h0.75M142.3 118.1h0.75M139.1 107.3h0.75M139.4 120.1h0.75M144.5 104.8h0.75M140.6 111.2h0.75M138.2 108.0h0.75M143.8 116.5h0.75M138.9 102.8h0.75M140.7 94.9h0.75M142.0 110.2h0.75M136.8 106.8h0.75M138.9 106.5h0.75M138.3 122.2h0.75M138.0 116.4h0.75M141.7 123.0h0.75M140.9 109.1h0.75M141.3 91.0h0.75M148.7 107.0h0.75M140.0 98.3h0.75M140.6 124.5h0.75M138.6 113.3h0.75M144.3 118.1h0.75M139.8 92.4h0.75M142.3 114.5h0.75M140.0 105.0h0.75M146.6 94.0h0.75M139.4 103.3h0.75M136.1 102.5h0.75M138.5 121.0h0.75M135.5 96.0h0.75M141.9 94.3h0.75M134.6 103.1h0.75M137.2 99.8h0.75M140.5 113.4h0.75M139.0 106.5h0.75M143.3 107.7h0.75M143.4 103.5h0.75M142.6 121.3h0.75M140.0 105.9h0.75M140.5 113.5h0.75M137.2 109.5h0.75M139.2 122.7h0.75M135.5 115.3h0.75M140.0 102.0h0.75M141.5 106.9h0.75M141.2 111.4h0.75M144.9 105.3h0.75M146.4 83.5h0.75M146.9 120.7h0.75M146.0 111.0h0.75M141.9 99.5h0.75M145.3 98.1h0.75M138.5 109.1h0.75M141.8 112.4h0.75M137.3 105.9h0.75M142.6 120.4h0.75M143.5 113.1h0.75M140.2 104.0h0.75M139.4 108.2h0.75M142.7 104.3h0.75M147.6 99.7h0.75M143.6 107.2h0.75M140.6 105.5h0.75M145.9 106.3h0.75M142.8 110.3h0.75M143.4 114.7h0.75M146.3 102.2h0.75M138.4 125.2h0.75M145.1 109.8h0.75M140.1 111.5h0.75M145.2 101.9h0.75M145.7 108.6h0.75M139.9 105.4h0.75M134.4 112.2h0.75M136.8 103.9h0.75M138.2 111.4h0.75M143.3 109.5h0.75M141.6 113.0h0.75M146.2 114.6h0.75M146.0 108.6h0.75M142.2 103.0h0.75M142.9 101.1h0.75M142.5 103.2h0.75M139.9 120.7h0.75M141.5 116.6h0.75M140.3 91.5h0.75M145.7 107.4h0.75M139.0 118.1h0.75M137.4 102.1h0.75M144.7 102.6h0.75M144.6 106.3h0.75M140.4 109.8h0.75M139.4 119.3h0.75M144.5 109.8h0.75M143.0 114.3h0.75M146.4 94.2h0.75M144.3 117.8h0.75M140.0 109.3h0.75M139.9 120.8h0.75M137.4 114.9h0.75M145.1 114.6h0.75M139.5 104.8h0.75M134.3 99.5h0.75M144.5 100.2h0.75M135.8 106.8h0.75M136.3 113.5h0.75M138.3 118.1h0.75M140.7 95.8h0.75M138.6 103.1h0.75M138.4 120.8h0.75" stroke="#000" stroke-width="0.75" opacity="1" fill="none"/>
<rect x="109.8" y="77.8" width="50.8" height="49.6" fill="none" stroke="#777" stroke-width="0.85"/>
<line x1="134.6" y1="77.8" x2="134.6" y2="127.4" stroke="#777" stroke-width="0.75"/>
<line x1="109.8" y1="104.2" x2="160.6" y2="104.2" stroke="#777" stroke-width="0.75"/>
<rect x="148.2" y="78.4" width="11.5" height="4.7" fill="#fff" opacity="0.85"/>
<rect x="144.9" y="122.1" width="14.8" height="4.7" fill="#fff" opacity="0.85"/>
<text font-size="5.9" x="110.7" y="82.5" fill="#111">0.00</text>
<text font-size="5.9" x="160.1" y="82.5" text-anchor="end" fill="#111">8.54</text>
<text font-size="5.9" x="110.7" y="126.6" fill="#111">0.00</text>
<text font-size="5.9" x="160.1" y="126.6" text-anchor="end" fill="#111">91.46</text>
<text font-size="3.7" x="107.2" y="133.4" font-weight="bold" fill="#333">10<tspan dy="-1.3" font-size="3.0">1</tspan></text>
<text font-size="3.7" x="119.9" y="133.4" font-weight="bold" fill="#333">10<tspan dy="-1.3" font-size="3.0">2</tspan></text>
<text font-size="3.7" x="132.6" y="133.4" font-weight="bold" fill="#333">10<tspan dy="-1.3" font-size="3.0">3</tspan></text>
<text font-size="3.7" x="145.3" y="133.4" font-weight="bold" fill="#333">10<tspan dy="-1.3" font-size="3.0">4</tspan></text>
<path d="M194.6 113.0h0.75M195.6 114.5h0.75M193.5 100.3h0.75M198.5 120.0h0.75M193.6 108.5h0.75M195.8 104.4h0.75M199.7 110.9h0.75M193.6 109.2h0.75M200.6 105.9h0.75M195.8 105.2h0.75M197.6 107.0h0.75M199.5 105.1h0.75M193.4 113.6h0.75M188.9 104.4h0.75M197.9 112.2h0.75M195.7 107.7h0.75M195.1 109.4h0.75M196.0 114.3h0.75M197.2 114.3h0.75M201.4 108.8h0.75M196.4 113.1h0.75M202.6 108.3h0.75M201.5 118.4h0.75M190.1 104.1h0.75M194.6 113.2h0.75M200.6 111.0h0.75M197.6 124.9h0.75M198.1 124.8h0.75M194.8 121.5h0.75M195.8 94.6h0.75M195.0 107.5h0.75M197.0 115.6h0.75M198.9 114.1h0.75M195.2 122.4h0.75M200.3 110.9h0.75M195.7 110.3h0.75M196.6 106.0h0.75M197.1 106.2h0.75M198.8 106.3h0.75M198.4 112.7h0.75M197.6 114.1h0.75M195.4 115.5h0.75M197.2 107.8h0.75M201.7 117.9h0.75M196.4 114.3h0.75M198.9 121.1h0.75M199.8 109.5h0.75M196.5 102.9h0.75M197.8 116.3h0.75M196.2 115.0h0.75M197.5 107.6h0.75M194.0 118.0h0.75M203.7 114.2h0.75M194.4 103.8h0.75M197.8 114.9h0.75M201.1 94.6h0.75M202.0 111.7h0.75M197.5 113.2h0.75M196.2 108.7h0.75M199.9 99.1h0.75M196.9 114.3h0.75M192.9 109.5h0.75M201.1 113.1h0.75M199.0 115.3h0.75M197.7 113.0h0.75M195.1 109.2h0.75M202.0 102.5h0.75M196.7 102.2h0.75M195.8 105.5h0.75M194.0 112.2h0.75M194.7 114.1h0.75M201.9 93.6h0.75M196.7 96.7h0.75M196.9 113.1h0.75M197.7 118.6h0.75M197.6 99.2h0.75M201.1 104.3h0.75M196.9 112.8h0.75M194.9 111.2h0.75M201.1 99.4h0.75M192.8 107.6h0.75M196.7 102.1h0.75M191.2 116.7h0.75M198.2 101.8h0.75M198.7 110.2h0.75M197.6 101.7h0.75M196.6 113.8h0.75M192.6 103.6h0.75M199.7 123.9h0.75M198.9 110.1h0.75M194.4 107.9h0.75M196.5 113.5h0.75M200.6 96.0h0.75M194.1 110.6h0.75M199.7 113.3h0.75M190.0 99.6h0.75M200.7 114.5h0.75M203.9 115.9h0.75M198.4 120.8h0.75M196.0 107.0h0.75M194.6 112.2h0.75M198.3 116.8h0.75M201.0 114.8h0.75M200.4 108.9h0.75M194.7 115.5h0.75M199.8 119.5h0.75M196.8 107.4h0.75M196.2 113.0h0.75M197.1 109.3h0.75M197.9 108.6h0.75M198.1 106.6h0.75M193.2 108.5h0.75M202.1 105.2h0.75M199.6 119.6h0.75M195.8 112.3h0.75M191.2 114.4h0.75M201.2 111.8h0.75M192.0 106.7h0.75M195.3 111.3h0.75M197.9 107.8h0.75M196.4 105.1h0.75M198.7 111.9h0.75M198.1 107.2h0.75M198.5 108.6h0.75M198.0 109.5h0.75M195.5 103.2h0.75M192.3 101.4h0.75M192.9 105.1h0.75M196.7 102.7h0.75M198.3 124.6h0.75M189.9 102.7h0.75M200.4 102.7h0.75M196.9 106.3h0.75M199.2 100.8h0.75M198.0 112.0h0.75M198.7 113.4h0.75M197.6 98.6h0.75M196.4 104.2h0.75M198.6 109.0h0.75M197.6 118.0h0.75M196.9 121.9h0.75M199.4 100.5h0.75M195.7 118.8h0.75M195.9 118.6h0.75M195.7 109.7h0.75M199.9 99.9h0.75M197.4 107.5h0.75M197.6 122.1h0.75M198.5 101.4h0.75M199.7 107.5h0.75M197.6 118.4h0.75M196.4 117.0h0.75M197.7 104.4h0.75M196.4 101.4h0.75M200.3 111.6h0.75M199.7 103.0h0.75M199.4 102.5h0.75M197.9 110.4h0.75M195.7 112.6h0.75M197.3 104.7h0.75M195.3 101.7h0.75M200.8 111.5h0.75M196.3 115.2h0.75M195.0 102.7h0.75M198.1 121.2h0.75M198.0 111.6h0.75M201.7 100.1h0.75M205.2 103.1h0.75M197.0 101.4h0.75M194.0 108.9h0.75M203.6 104.1h0.75M195.6 112.3h0.75M194.5 108.8h0.75M199.3 95.8h0.75M196.4 108.5h0.75M195.9 109.7h0.75M192.5 107.5h0.75M195.8 103.5h0.75M200.5 124.1h0.75M199.3 104.6h0.75M200.9 113.9h0.75M195.1 114.6h0.75M195.7 114.4h0.75M199.6 118.3h0.75M194.5 109.6h0.75M197.2 102.2h0.75M198.3 115.2h0.75M193.6 106.8h0.75M194.3 101.9h0.75M194.4 119.8h0.75M195.5 107.8h0.75M199.8 117.5h0.75M200.9 96.4h0.75M199.2 98.6h0.75M195.6 107.7h0.75M195.7 123.8h0.75M196.8 118.5h0.75M196.7 110.1h0.75M198.5 113.5h0.75M198.5 98.7h0.75M198.5 112.7h0.75M198.8 110.1h0.75M198.3 101.7h0.75M200.1 102.3h0.75M200.8 117.4h0.75M197.0 108.5h0.75M199.2 108.4h0.75M194.1 112.4h0.75M194.0 107.4h0.75M201.9 116.0h0.75M196.0 110.0h0.75M195.5 110.4h0.75M193.4 115.1h0.75M197.2 106.3h0.75M196.0 107.3h0.75M195.7 107.1h0.75M200.6 115.1h0.75M198.3 113.0h0.75M194.2 94.1h0.75M201.1 115.4h0.75M197.8 112.4h0.75M197.7 110.6h0.75M196.5 95.3h0.75M198.7 110.8h0.75M199.7 112.6h0.75M196.5 114.6h0.75M197.7 107.5h0.75M196.2 107.6h0.75M196.4 107.5h0.75M196.9 118.1h0.75M192.1 88.5h0.75M196.0 109.4h0.75M195.3 101.2h0.75M195.0 107.0h0.75M197.6 108.2h0.75M194.1 108.0h0.75M201.1 104.5h0.75M197.4 117.4h0.75M195.1 106.6h0.75M204.7 118.9h0.75M195.8 111.6h0.75M197.5 111.5h0.75M198.4 108.5h0.75M191.4 104.0h0.75M197.6 101.2h0.75M196.4 120.7h0.75M197.8 106.0h0.75M197.6 117.6h0.75M192.7 102.0h0.75M195.5 107.5h0.75M197.0 106.6h0.75M197.5 111.1h0.75M194.2 106.3h0.75M194.0 112.5h0.75M197.9 114.9h0.75M194.9 106.9h0.75M191.4 110.6h0.75M193.0 112.9h0.75M200.0 113.5h0.75M198.8 112.0h0.75M198.2 116.9h0.75M200.5 124.2h0.75M196.5 116.2h0.75M199.5 113.4h0.75M197.9 101.9h0.75M200.0 104.5h0.75M195.5 104.7h0.75M198.7 103.9h0.75M198.4 114.3h0.75M197.5 108.2h0.75M198.7 119.4h0.75M196.0 103.4h0.75M195.6 104.5h0.75M196.6 109.4h0.75M191.2 120.4h0.75M195.1 107.6h0.75M192.1 97.1h0.75M194.6 112.1h0.75M199.4 98.2h0.75M197.8 120.8h0.75M196.5 116.7h0.75M198.0 104.2h0.75M199.8 106.4h0.75M198.1 107.8h0.75M196.6 111.5h0.75M200.6 99.1h0.75M194.3 111.2h0.75M199.7 109.2h0.75M196.7 114.1h0.75M201.3 104.4h0.75M193.1 108.6h0.75M199.2 101.6h0.75M200.1 116.9h0.75M199.2 104.8h0.75M193.8 114.9h0.75M197.9 115.2h0.75M193.7 90.4h0.75M200.1 117.3h0.75M196.5 110.5h0.75M198.4 115.6h0.75M196.7 107.0h0.75M194.7 117.5h0.75M197.5 87.4h0.75M198.1 106.6h0.75M193.9 107.0h0.75M193.9 107.4h0.75M195.8 114.0h0.75M194.6 98.2h0.75M195.6 101.2h0.75M199.1 109.1h0.75M192.9 104.6h0.75M197.1 110.2h0.75M192.4 109.6h0.75M198.0 117.2h0.75M200.0 109.7h0.75M193.8 108.0h0.75M198.9 104.3h0.75M200.5 104.0h0.75M194.3 116.1h0.75M196.9 112.7h0.75M196.4 110.7h0.75M195.7 123.3h0.75M198.9 109.6h0.75M198.4 116.1h0.75M195.8 111.7h0.75M197.7 106.7h0.75M195.2 109.1h0.75M196.4 107.7h0.75M192.2 111.0h0.75M198.9 111.0h0.75M201.6 116.3h0.75M196.3 105.9h0.75M198.5 108.0h0.75M193.0 111.3h0.75M196.4 109.0h0.75M198.8 111.8h0.75M202.4 105.5h0.75M196.9 112.6h0.75M196.1 107.0h0.75M201.7 100.7h0.75M198.1 98.6h0.75M198.1 97.5h0.75M194.2 118.2h0.75M201.2 111.4h0.75M190.2 117.4h0.75M197.8 103.0h0.75M196.3 101.6h0.75M197.0 109.9h0.75M197.5 115.8h0.75M195.5 95.6h0.75M194.2 102.0h0.75M196.2 107.5h0.75M197.1 119.7h0.75M197.3 103.2h0.75M196.4 104.6h0.75M196.6 114.4h0.75M194.3 115.2h0.75M201.8 120.8h0.75M201.4 111.1h0.75M193.7 124.0h0.75M197.1 112.1h0.75M196.3 104.1h0.75M198.8 101.1h0.75M193.6 114.2h0.75M196.2 104.8h0.75M198.5 120.1h0.75M196.5 109.6h0.75M198.7 116.8h0.75M199.9 115.1h0.75M195.5 114.1h0.75M197.2 99.0h0.75M200.4 114.4h0.75M200.7 110.1h0.75M199.1 110.0h0.75M197.6 116.6h0.75M197.3 114.6h0.75M197.1 118.8h0.75M198.9 99.3h0.75M201.5 113.5h0.75M195.9 106.3h0.75M202.3 111.1h0.75M198.5 114.5h0.75M195.7 122.3h0.75M202.6 105.3h0.75M200.1 99.5h0.75M196.3 110.9h0.75M197.3 114.3h0.75M198.2 113.0h0.75M196.8 112.5h0.75M195.8 123.7h0.75M197.4 118.8h0.75M197.5 109.5h0.75M196.7 101.8h0.75M202.6 113.3h0.75M197.5 107.4h0.75M200.5 108.3h0.75M196.0 106.9h0.75M201.2 112.6h0.75M196.8 106.2h0.75M200.5 112.4h0.75M196.3 116.5h0.75M199.5 103.8h0.75M200.2 117.8h0.75M196.6 101.6h0.75M200.0 108.2h0.75M196.7 108.6h0.75M196.5 116.1h0.75M194.4 114.1h0.75M200.2 117.6h0.75M199.1 112.3h0.75M196.7 109.7h0.75M195.0 121.7h0.75M196.9 103.8h0.75M199.4 120.6h0.75M197.9 108.4h0.75M194.3 114.8h0.75M196.6 106.1h0.75M198.8 101.9h0.75M199.1 94.3h0.75M195.6 101.0h0.75M196.6 115.8h0.75M193.9 119.6h0.75M195.5 107.3h0.75M199.8 105.6h0.75M200.9 109.2h0.75M197.0 104.1h0.75M200.2 110.1h0.75M196.0 104.2h0.75M195.6 109.9h0.75M195.4 115.8h0.75M197.1 106.4h0.75M198.4 120.0h0.75M191.9 112.9h0.75M200.0 111.4h0.75M199.3 100.3h0.75M195.3 117.2h0.75M197.0 110.9h0.75M198.8 113.0h0.75M198.4 107.2h0.75M196.5 119.2h0.75M196.0 100.9h0.75M196.3 116.5h0.75M201.8 111.5h0.75M195.7 114.6h0.75M198.0 118.4h0.75M198.6 115.5h0.75M198.5 113.3h0.75M194.9 109.4h0.75M201.3 119.4h0.75M199.7 113.1h0.75M197.0 112.8h0.75M196.4 117.7h0.75M196.4 105.5h0.75M193.1 120.8h0.75M195.3 104.8h0.75M198.3 122.4h0.75M198.9 108.3h0.75M198.7 105.0h0.75M196.6 110.7h0.75M197.3 115.7h0.75M198.6 123.0h0.75M199.4 108.6h0.75M197.9 104.9h0.75M195.7 108.3h0.75M199.8 105.9h0.75M193.3 103.8h0.75M194.2 109.3h0.75M196.5 102.8h0.75M195.3 107.8h0.75M198.3 114.6h0.75M200.6 108.8h0.75M198.9 111.0h0.75M194.5 106.3h0.75M202.8 109.5h0.75M201.4 116.0h0.75M201.5 109.3h0.75M199.6 108.5h0.75M194.5 102.8h0.75M198.4 99.9h0.75M198.2 104.8h0.75M198.2 101.4h0.75M199.4 109.0h0.75M193.4 101.0h0.75M197.5 99.7h0.75M198.1 113.7h0.75M195.6 119.8h0.75M200.9 112.6h0.75M198.4 113.6h0.75M196.6 119.2h0.75M195.9 93.9h0.75M197.3 113.4h0.75M199.4 103.2h0.75M200.8 105.1h0.75M198.9 115.3h0.75M197.7 118.0h0.75M196.1 124.1h0.75M198.5 107.7h0.75M203.9 110.5h0.75M193.2 119.9h0.75M201.2 106.7h0.75M194.8 118.0h0.75M197.4 104.2h0.75M196.1 111.0h0.75M199.8 120.9h0.75M195.7 120.7h0.75M193.5 115.2h0.75M197.0 113.4h0.75M196.2 105.8h0.75M198.0 118.0h0.75M191.7 110.9h0.75M196.3 103.4h0.75M193.9 113.9h0.75M198.7 114.8h0.75M192.3 100.4h0.75M195.8 107.7h0.75M201.7 108.0h0.75M197.6 117.1h0.75M201.5 113.0h0.75M198.2 123.3h0.75M196.3 98.6h0.75M195.4 108.4h0.75M200.6 112.6h0.75M200.3 111.2h0.75M197.4 106.7h0.75M194.2 113.9h0.75M198.2 114.3h0.75M196.0 107.7h0.75M198.3 114.5h0.75M202.3 104.7h0.75M199.8 116.4h0.75M196.6 111.4h0.75M197.2 120.6h0.75M203.7 112.7h0.75M196.7 116.8h0.75M198.6 109.3h0.75M199.2 116.3h0.75M196.3 116.2h0.75M191.7 102.0h0.75M196.5 111.6h0.75M193.6 120.3h0.75M196.4 111.5h0.75M197.2 115.5h0.75M195.9 115.4h0.75M195.2 100.7h0.75M198.6 111.6h0.75M199.5 97.7h0.75M197.6 106.3h0.75M196.8 107.9h0.75M196.4 106.1h0.75M199.9 99.1h0.75M193.1 112.8h0.75M202.4 105.5h0.75M195.0 102.8h0.75M194.7 118.8h0.75M199.0 116.5h0.75M198.2 112.1h0.75M195.8 104.1h0.75M196.4 118.9h0.75M195.5 110.8h0.75M201.6 110.0h0.75M198.9 106.8h0.75M202.0 102.3h0.75M198.7 108.9h0.75M197.8 112.9h0.75M200.6 116.3h0.75M200.0 113.0h0.75M194.6 119.4h0.75M201.2 113.7h0.75M199.3 109.0h0.75M193.7 117.1h0.75M195.5 123.2h0.75M199.0 110.4h0.75M195.8 111.2h0.75M194.8 108.0h0.75M201.3 108.5h0.75M201.9 109.9h0.75M198.4 104.4h0.75M196.6 107.5h0.75M193.8 123.4h0.75M198.8 110.0h0.75M194.6 110.7h0.75M194.7 104.1h0.75M196.8 124.9h0.75M192.9 114.2h0.75M195.9 91.2h0.75M193.7 109.6h0.75M197.5 105.5h0.75M201.8 114.1h0.75M195.7 99.6h0.75M197.7 106.0h0.75M199.9 103.6h0.75M200.3 107.4h0.75M197.8 108.7h0.75M198.9 118.2h0.75M195.9 104.5h0.75M202.1 116.9h0.75M202.1 116.9h0.75M197.6 121.4h0.75M195.6 107.7h0.75M196.3 115.1h0.75M195.1 109.3h0.75M195.2 109.0h0.75M200.1 117.9h0.75M195.5 113.6h0.75M196.1 95.7h0.75M194.3 118.8h0.75M197.0 112.3h0.75M200.5 110.7h0.75M195.7 106.4h0.75M194.9 114.2h0.75M196.1 113.9h0.75M193.5 107.6h0.75M202.5 112.9h0.75M197.0 118.4h0.75M198.0 120.8h0.75M194.4 115.6h0.75M194.6 115.1h0.75M203.5 120.7h0.75M195.1 113.3h0.75M198.4 105.7h0.75M197.9 103.4h0.75M199.7 116.6h0.75M196.9 115.1h0.75M203.3 109.4h0.75M192.6 112.8h0.75M196.1 105.3h0.75M199.6 117.2h0.75M198.8 121.4h0.75M195.7 107.7h0.75M198.3 92.4h0.75M190.4 112.8h0.75M196.7 110.9h0.75M194.8 112.0h0.75M199.9 106.3h0.75M198.7 109.5h0.75M196.9 111.3h0.75M201.1 114.0h0.75M199.0 111.5h0.75M191.8 116.8h0.75M197.2 111.2h0.75M196.0 100.2h0.75M201.0 122.8h0.75M201.2 98.2h0.75M198.7 102.6h0.75M196.8 107.1h0.75M195.7 105.4h0.75M196.0 115.7h0.75M201.3 116.7h0.75M197.2 109.5h0.75M196.6 110.4h0.75M195.7 109.3h0.75M199.4 109.0h0.75M195.2 109.7h0.75M197.5 110.0h0.75M196.6 115.2h0.75M197.1 103.8h0.75M198.7 105.7h0.75M199.2 116.0h0.75M198.5 112.6h0.75M193.8 109.2h0.75M197.6 114.8h0.75M194.4 109.5h0.75M193.3 111.7h0.75M197.5 111.3h0.75M201.5 115.4h0.75M196.8 106.6h0.75M196.1 115.8h0.75M199.6 107.1h0.75M197.0 107.6h0.75M199.0 111.8h0.75M195.4 104.6h0.75M200.6 101.1h0.75M192.6 89.9h0.75M202.4 106.9h0.75M199.4 114.3h0.75M199.4 118.1h0.75M196.1 110.4h0.75M199.8 114.2h0.75M195.3 105.5h0.75M193.6 112.3h0.75M195.9 100.1h0.75M195.8 112.7h0.75M197.7 109.0h0.75M197.7 114.9h0.75M194.2 105.1h0.75M199.7 115.4h0.75M193.7 105.7h0.75M200.9 115.6h0.75M196.9 117.3h0.75M200.7 120.0h0.75M193.7 101.8h0.75M195.9 110.2h0.75M196.3 112.1h0.75M201.0 117.9h0.75M199.8 110.5h0.75M201.5 113.6h0.75M197.9 110.4h0.75M192.6 124.9h0.75M197.2 116.5h0.75M203.0 109.2h0.75M194.3 117.3h0.75M197.9 104.2h0.75M199.7 110.6h0.75M194.8 93.6h0.75M194.7 113.1h0.75M194.6 117.0h0.75M202.9 112.7h0.75M197.8 110.0h0.75M199.5 110.7h0.75M199.9 120.0h0.75M199.4 104.1h0.75M199.0 108.8h0.75M198.1 117.0h0.75M195.6 111.9h0.75M201.0 104.9h0.75M196.8 115.4h0.75M196.7 117.4h0.75M194.7 100.5h0.75M198.2 109.6h0.75M198.1 116.9h0.75M199.9 108.2h0.75M196.3 97.6h0.75M194.7 112.2h0.75M197.8 100.6h0.75M199.3 110.3h0.75M200.1 108.2h0.75M199.7 103.1h0.75M192.5 105.1h0.75M199.0 113.3h0.75M192.4 111.5h0.75M199.0 121.7h0.75M199.3 113.9h0.75M193.2 113.0h0.75M192.2 108.6h0.75M196.3 104.1h0.75M194.6 109.6h0.75M198.7 106.2h0.75M198.0 115.3h0.75M197.2 123.2h0.75M196.4 105.7h0.75M192.4 117.7h0.75M199.0 109.3h0.75M198.0 109.7h0.75M199.5 110.4h0.75M197.8 110.0h0.75M195.0 95.8h0.75M198.6 102.2h0.75M198.3 114.8h0.75M202.1 105.6h0.75M197.6 116.8h0.75M195.5 106.6h0.75M198.4 124.2h0.75M200.0 116.9h0.75M194.8 114.9h0.75M200.2 102.1h0.75M197.3 109.2h0.75M198.9 99.0h0.75M199.1 110.5h0.75M196.6 96.5h0.75M191.9 106.9h0.75M198.9 113.3h0.75M199.2 99.3h0.75M197.8 119.5h0.75M193.3 114.8h0.75M195.4 114.2h0.75M197.5 99.7h0.75M194.5 119.0h0.75M197.0 118.7h0.75M198.1 116.4h0.75M196.2 112.0h0.75M196.3 116.5h0.75M195.8 117.9h0.75M201.3 102.5h0.75M196.8 114.1h0.75M201.8 118.1h0.75M197.5 99.1h0.75M199.4 106.6h0.75M197.7 113.2h0.75M193.6 117.6h0.75M199.6 114.3h0.75M198.8 112.9h0.75M193.6 107.2h0.75M199.3 108.3h0.75M197.3 113.0h0.75M197.5 112.2h0.75M198.5 110.5h0.75M194.4 108.7h0.75M199.7 106.0h0.75M198.4 112.5h0.75M195.0 91.8h0.75M197.2 105.4h0.75M195.6 116.7h0.75M195.3 112.8h0.75M197.5 111.8h0.75M202.4 97.5h0.75M199.7 109.6h0.75M196.5 106.1h0.75M197.3 110.8h0.75M194.9 121.3h0.75M195.3 109.6h0.75M194.0 111.5h0.75M198.2 117.7h0.75M199.8 107.2h0.75M201.4 109.8h0.75M201.2 121.8h0.75M196.2 103.4h0.75M198.6 120.0h0.75M198.3 117.7h0.75M198.8 116.4h0.75M200.6 108.6h0.75M193.6 109.7h0.75M195.2 102.6h0.75M196.8 115.2h0.75M192.5 100.5h0.75M199.3 104.7h0.75M196.2 119.4h0.75M200.1 112.9h0.75M198.6 92.6h0.75M198.7 113.0h0.75M193.7 111.7h0.75M198.4 109.7h0.75M199.3 116.3h0.75M197.4 108.9h0.75M194.2 118.0h0.75M195.8 112.6h0.75M201.2 115.6h0.75M194.0 109.9h0.75M195.4 99.7h0.75M195.2 114.4h0.75M198.1 109.1h0.75M197.7 102.8h0.75M195.3 109.4h0.75M199.3 108.4h0.75M196.8 112.7h0.75M201.0 102.2h0.75M198.6 111.7h0.75M197.1 112.1h0.75M192.2 110.7h0.75M196.6 102.4h0.75M199.4 109.7h0.75M196.4 115.5h0.75M194.9 105.8h0.75M199.3 116.3h0.75M202.4 107.5h0.75M193.5 100.7h0.75M194.2 111.2h0.75M196.6 106.1h0.75M194.6 105.9h0.75M196.3 118.3h0.75M198.8 119.5h0.75M199.3 115.5h0.75M200.2 113.5h0.75M201.2 118.0h0.75M201.9 111.9h0.75M196.5 113.9h0.75M196.3 105.9h0.75M198.3 103.1h0.75M196.8 119.8h0.75M197.5 115.9h0.75M198.9 113.0h0.75M197.5 114.5h0.75M194.7 114.3h0.75M194.5 105.5h0.75M195.7 101.7h0.75M192.2 113.0h0.75M198.5 114.9h0.75M202.9 111.7h0.75M199.1 105.6h0.75M199.0 103.0h0.75M202.3 104.2h0.75M196.2 115.4h0.75M191.6 119.3h0.75M194.8 111.8h0.75M199.7 111.5h0.75M199.6 107.2h0.75M198.7 96.2h0.75M201.1 106.1h0.75M195.0 110.6h0.75M201.6 105.9h0.75M197.2 108.1h0.75M194.8 101.9h0.75M198.7 115.2h0.75M195.3 112.0h0.75M198.4 113.0h0.75M196.8 110.8h0.75M197.9 103.5h0.75M196.8 115.7h0.75M195.8 119.2h0.75M196.6 103.3h0.75M196.5 101.6h0.75M198.8 100.0h0.75M197.3 109.0h0.75M196.4 113.3h0.75M198.0 106.8h0.75M199.3 107.5h0.75M199.5 119.3h0.75M198.2 116.6h0.75M193.8 114.2h0.75M193.4 109.4h0.75M199.0 92.8h0.75M195.2 105.4h0.75M194.8 110.7h0.75M198.8 102.9h0.75M195.6 98.3h0.75M195.4 96.7h0.75M193.4 113.6h0.75M199.5 105.1h0.75M198.1 105.4h0.75M199.9 122.0h0.75M190.9 104.8h0.75M195.6 107.4h0.75M201.2 120.9h0.75M197.2 114.7h0.75M193.1 108.5h0.75M196.5 109.5h0.75M198.0 100.2h0.75M194.5 124.6h0.75M192.8 110.9h0.75M199.1 113.7h0.75M197.4 99.9h0.75M196.0 100.2h0.75M202.2 112.9h0.75M199.1 111.8h0.75M196.2 118.3h0.75M199.5 114.7h0.75M198.7 115.4h0.75M196.5 113.3h0.75M197.4 108.9h0.75M198.9 124.6h0.75M192.0 120.0h0.75M196.1 118.4h0.75M194.6 109.3h0.75M199.8 110.0h0.75M198.1 102.5h0.75M194.3 121.5h0.75M197.6 109.9h0.75M193.7 103.7h0.75M194.6 110.2h0.75M196.9 106.5h0.75M195.5 111.2h0.75M200.2 101.3h0.75M193.6 117.9h0.75M193.5 107.8h0.75M197.5 122.5h0.75M192.0 91.4h0.75M197.0 117.6h0.75M197.6 105.2h0.75M197.7 96.9h0.75M199.3 120.3h0.75M196.7 115.9h0.75M194.5 120.2h0.75M195.5 105.2h0.75M195.2 98.8h0.75M198.9 123.7h0.75M193.5 109.2h0.75M198.4 106.8h0.75M193.2 112.7h0.75M199.8 111.2h0.75M194.5 108.5h0.75M192.3 110.1h0.75M200.3 117.8h0.75M197.0 113.4h0.75M195.9 111.4h0.75M195.7 111.6h0.75M195.9 111.8h0.75M199.0 110.4h0.75M193.9 113.8h0.75M196.6 107.2h0.75M198.6 105.0h0.75M199.6 114.2h0.75M195.4 105.9h0.75M196.9 104.5h0.75M199.6 95.6h0.75M197.6 108.2h0.75M194.4 114.7h0.75M196.0 113.5h0.75M196.1 108.6h0.75M198.5 116.8h0.75M199.8 110.4h0.75M201.0 108.3h0.75M193.7 98.2h0.75M193.5 104.8h0.75M192.6 112.7h0.75M197.3 110.3h0.75M197.8 109.8h0.75M196.6 108.4h0.75M197.3 103.1h0.75M200.5 120.7h0.75M197.3 125.6h0.75M194.7 116.5h0.75M193.1 114.5h0.75M195.3 117.2h0.75M197.5 116.8h0.75M198.8 114.0h0.75M196.5 121.0h0.75M198.1 113.7h0.75M200.9 108.8h0.75M201.7 117.7h0.75M197.4 100.9h0.75M200.3 108.5h0.75M197.5 111.3h0.75M199.6 114.7h0.75M192.5 106.2h0.75M198.1 111.7h0.75M199.2 114.3h0.75M201.4 105.7h0.75M200.5 113.0h0.75M198.0 115.0h0.75M196.3 115.2h0.75M196.7 115.3h0.75M195.3 118.3h0.75M193.3 106.2h0.75M197.1 112.1h0.75M195.2 107.9h0.75M197.9 117.5h0.75M200.5 107.4h0.75M197.0 108.4h0.75M193.3 107.6h0.75M200.1 101.6h0.75M204.5 117.0h0.75M201.6 111.7h0.75M191.3 113.4h0.75M201.3 106.7h0.75M200.5 115.5h0.75M199.2 115.5h0.75M198.7 114.8h0.75M200.3 113.3h0.75M198.8 113.4h0.75M197.6 104.8h0.75M192.6 103.8h0.75M194.0 100.7h0.75M199.0 108.3h0.75M199.2 107.4h0.75M198.2 109.2h0.75M197.9 124.3h0.75M201.3 119.0h0.75M198.0 122.3h0.75M199.3 116.4h0.75M194.2 106.5h0.75M197.7 109.1h0.75M195.9 97.3h0.75M195.3 109.8h0.75M198.0 103.4h0.75M196.9 122.5h0.75M197.6 97.5h0.75M196.7 110.5h0.75M200.5 111.8h0.75M200.7 112.7h0.75M200.2 119.5h0.75M201.1 111.8h0.75M194.1 111.8h0.75M198.4 105.9h0.75M199.3 109.5h0.75M199.2 111.8h0.75M194.8 117.5h0.75M202.4 116.7h0.75M197.9 99.1h0.75M198.1 110.3h0.75M195.2 97.8h0.75M198.4 117.0h0.75M199.0 125.7h0.75M192.4 112.9h0.75M197.2 120.0h0.75M197.1 104.1h0.75M197.1 113.4h0.75M195.4 105.3h0.75M197.9 116.4h0.75M196.6 113.8h0.75M195.9 108.3h0.75M197.7 117.0h0.75M201.3 109.7h0.75M198.4 123.6h0.75M199.4 108.1h0.75M198.3 101.1h0.75M191.9 105.5h0.75M195.4 101.6h0.75M199.8 107.5h0.75M197.5 111.0h0.75M196.7 102.7h0.75M202.2 97.3h0.75M197.1 115.2h0.75M196.7 109.9h0.75M198.0 112.1h0.75M196.4 117.7h0.75M198.5 120.6h0.75M197.5 97.3h0.75M193.0 107.1h0.75M198.4 99.7h0.75M195.8 118.9h0.75M198.1 105.8h0.75M197.0 111.3h0.75M196.2 108.5h0.75M195.6 112.0h0.75M201.3 120.2h0.75M194.1 126.0h0.75M196.9 101.2h0.75M193.5 111.5h0.75M197.8 106.3h0.75M195.2 109.1h0.75M197.9 115.0h0.75M199.2 85.0h0.75M195.2 108.9h0.75M198.6 113.8h0.75M192.0 120.7h0.75M193.1 104.7h0.75M195.6 102.3h0.75M194.5 113.9h0.75M200.0 109.7h0.75M192.8 100.9h0.75M197.1 110.2h0.75M195.3 104.1h0.75M206.5 107.1h0.75M196.2 84.3h0.75M194.6 121.3h0.75M200.2 95.8h0.75M200.0 108.1h0.75M194.5 113.7h0.75M195.1 103.8h0.75M197.3 108.5h0.75M195.7 109.2h0.75M197.3 108.3h0.75M198.6 100.8h0.75M192.5 105.9h0.75M201.6 109.6h0.75M198.1 99.9h0.75M193.3 95.3h0.75M194.1 103.2h0.75M191.9 105.5h0.75M191.8 112.5h0.75M197.2 90.6h0.75M195.3 108.7h0.75M198.6 113.6h0.75M196.0 105.2h0.75M196.4 111.5h0.75M194.8 105.1h0.75M197.8 103.4h0.75M193.5 118.8h0.75M199.0 98.3h0.75M204.1 99.6h0.75M194.2 103.2h0.75M199.1 120.1h0.75M202.0 111.6h0.75M197.5 112.6h0.75M194.5 100.2h0.75M199.1 108.4h0.75M198.1 97.4h0.75M198.1 93.6h0.75M200.5 106.7h0.75M195.0 102.3h0.75M194.8 118.9h0.75M187.2 116.8h0.75M197.3 108.9h0.75M193.9 94.7h0.75M198.1 102.5h0.75M199.0 116.1h0.75M196.9 111.4h0.75M197.9 108.7h0.75M195.5 108.7h0.75M198.8 107.3h0.75M195.7 93.4h0.75M193.6 120.7h0.75M200.8 109.2h0.75M198.3 105.2h0.75M199.6 115.2h0.75M196.4 109.4h0.75M200.6 92.3h0.75M194.0 101.4h0.75M193.2 102.6h0.75M194.3 103.0h0.75M198.9 95.9h0.75M197.6 119.1h0.75M197.9 95.5h0.75M195.2 117.1h0.75M196.4 100.9h0.75M200.0 100.1h0.75M193.4 112.1h0.75M197.3 100.7h0.75M198.9 116.6h0.75M201.0 107.5h0.75M198.9 111.1h0.75M192.1 121.6h0.75M195.0 101.5h0.75M194.4 97.9h0.75M201.1 106.6h0.75M195.3 90.0h0.75M197.9 106.1h0.75M193.7 105.7h0.75M190.9 112.4h0.75M193.0 111.1h0.75M197.6 87.4h0.75M193.4 100.7h0.75M200.0 112.0h0.75M199.5 121.7h0.75M196.3 102.0h0.75M190.8 97.3h0.75M199.2 99.0h0.75M194.2 115.2h0.75M188.7 119.2h0.75M201.7 90.4h0.75M198.9 106.5h0.75M200.4 103.5h0.75M196.9 119.3h0.75M195.2 110.4h0.75M199.5 105.6h0.75M200.3 111.3h0.75M200.1 91.2h0.75M193.7 109.2h0.75M201.3 119.5h0.75M197.3 99.8h0.75M193.5 89.0h0.75M195.5 111.8h0.75M197.0 93.2h0.75M196.9 107.0h0.75M194.7 119.8h0.75M198.8 116.5h0.75M197.6 97.8h0.75M201.0 116.6h0.75M195.3 94.6h0.75M200.1 101.5h0.75M193.3 105.8h0.75M199.2 99.8h0.75M197.4 115.6h0.75M199.9 92.5h0.75M199.8 122.7h0.75M200.5 105.8h0.75M198.6 92.3h0.75M195.3 101.9h0.75M204.4 106.6h0.75M193.9 121.9h0.75M201.5 91.7h0.75M196.6 91.3h0.75M200.9 86.0h0.75M203.7 97.0h0.75M193.7 125.8h0.75M199.1 109.8h0.75M200.2 97.6h0.75M200.3 104.1h0.75M199.1 108.7h0.75M202.1 94.9h0.75M192.5 112.5h0.75M205.4 111.5h0.75M196.7 112.7h0.75M193.1 107.4h0.75M191.5 107.7h0.75M199.8 122.0h0.75M195.5 115.0h0.75M201.9 97.1h0.75M196.3 89.8h0.75M194.3 110.6h0.75M190.3 103.9h0.75M199.8 119.6h0.75M188.7 110.1h0.75M195.2 85.7h0.75M193.8 112.0h0.75M197.2 113.0h0.75M196.2 112.6h0.75M193.9 97.7h0.75M196.7 90.7h0.75M201.5 104.3h0.75M193.9 98.8h0.75M193.9 107.7h0.75M196.0 114.4h0.75M193.3 105.9h0.75M192.1 102.4h0.75M201.9 105.5h0.75M200.3 106.0h0.75M193.5 98.6h0.75M193.4 109.7h0.75M203.0 114.3h0.75M193.9 107.6h0.75M194.8 117.2h0.75M192.6 113.6h0.75M193.1 102.4h0.75M197.9 107.9h0.75M197.1 106.0h0.75M194.3 105.6h0.75M197.0 98.1h0.75M199.2 108.2h0.75M194.7 118.4h0.75M195.3 89.3h0.75M201.6 103.2h0.75M202.3 110.5h0.75M194.2 116.8h0.75M198.8 115.0h0.75M197.4 120.8h0.75M200.5 103.5h0.75M192.1 106.2h0.75M197.5 97.6h0.75M196.6 120.3h0.75M195.6 116.8h0.75M194.0 97.7h0.75M200.5 105.0h0.75M198.0 116.0h0.75M202.9 95.3h0.75M199.3 108.7h0.75M197.8 123.0h0.75M196.4 101.2h0.75M199.0 88.1h0.75M198.5 98.4h0.75M198.4 99.8h0.75M199.0 104.3h0.75M194.8 111.5h0.75M199.8 91.9h0.75M192.8 104.2h0.75M195.9 118.7h0.75M202.7 110.9h0.75M201.0 103.6h0.75M192.5 109.3h0.75M191.2 121.5h0.75M198.1 117.2h0.75M195.0 91.8h0.75M196.6 111.0h0.75M196.5 101.9h0.75M197.5 104.8h0.75M202.0 94.6h0.75M189.6 105.7h0.75M198.2 92.5h0.75M197.1 110.6h0.75M198.4 109.3h0.75M194.7 93.3h0.75M200.5 103.4h0.75M192.5 120.8h0.75M199.8 80.9h0.75M206.1 107.9h0.75M191.7 115.3h0.75M198.4 118.0h0.75M197.3 91.3h0.75M196.7 102.6h0.75M198.2 104.9h0.75M199.2 95.4h0.75M195.4 101.8h0.75M198.7 90.9h0.75M191.0 116.0h0.75M197.6 115.6h0.75M197.4 108.9h0.75M198.5 110.8h0.75M193.1 105.3h0.75M203.5 119.6h0.75M194.3 97.9h0.75M196.6 116.3h0.75M200.4 101.2h0.75M189.1 106.1h0.75M191.5 117.5h0.75M202.3 112.7h0.75M199.3 111.7h0.75M203.6 116.5h0.75M202.2 96.0h0.75M195.4 106.5h0.75M189.6 103.9h0.75M197.2 105.9h0.75M205.9 104.7h0.75M196.6 105.4h0.75M196.1 93.6h0.75M201.1 106.8h0.75M198.5 106.9h0.75M194.5 91.9h0.75M196.2 111.4h0.75M196.8 113.3h0.75M194.5 103.9h0.75M197.7 105.6h0.75" stroke="#000" stroke-width="0.75" opacity="1" fill="none"/>
<rect x="166.2" y="77.8" width="50.6" height="49.6" fill="none" stroke="#777" stroke-width="0.85"/>
<line x1="189.2" y1="77.8" x2="189.2" y2="127.4" stroke="#777" stroke-width="0.75"/>
<line x1="166.2" y1="104.2" x2="216.8" y2="104.2" stroke="#777" stroke-width="0.75"/>
<rect x="201.1" y="78.4" width="14.8" height="4.7" fill="#fff" opacity="0.85"/>
<rect x="201.1" y="122.1" width="14.8" height="4.7" fill="#fff" opacity="0.85"/>
<text font-size="5.9" x="167.1" y="82.5" fill="#111">0.00</text>
<text font-size="5.9" x="216.3" y="82.5" text-anchor="end" fill="#111">12.75</text>
<text font-size="5.9" x="167.1" y="126.6" fill="#111">0.00</text>
<text font-size="5.9" x="216.3" y="126.6" text-anchor="end" fill="#111">87.25</text>
<text font-size="3.7" x="163.6" y="133.4" font-weight="bold" fill="#333">10<tspan dy="-1.3" font-size="3.0">1</tspan></text>
<text font-size="3.7" x="176.2" y="133.4" font-weight="bold" fill="#333">10<tspan dy="-1.3" font-size="3.0">2</tspan></text>
<text font-size="3.7" x="188.9" y="133.4" font-weight="bold" fill="#333">10<tspan dy="-1.3" font-size="3.0">3</tspan></text>
<text font-size="3.7" x="201.6" y="133.4" font-weight="bold" fill="#333">10<tspan dy="-1.3" font-size="3.0">4</tspan></text>
<path d="M255.1 124.5h0.75M254.2 116.4h0.75M253.8 118.9h0.75M255.2 110.9h0.75M253.3 108.0h0.75M254.4 116.5h0.75M254.1 114.8h0.75M255.0 116.9h0.75M257.8 117.9h0.75M255.8 112.4h0.75M254.0 120.4h0.75M253.9 111.4h0.75M252.5 117.4h0.75M254.7 118.9h0.75M253.5 107.7h0.75M256.5 115.7h0.75M256.0 108.3h0.75M252.8 99.7h0.75M255.3 121.7h0.75M252.0 108.7h0.75M254.0 110.6h0.75M254.5 110.5h0.75M252.6 115.3h0.75M255.0 110.7h0.75M254.9 107.4h0.75M254.3 113.4h0.75M254.1 115.0h0.75M252.9 107.1h0.75M253.5 120.1h0.75M253.3 109.6h0.75M257.8 113.9h0.75M254.2 110.0h0.75M257.1 118.8h0.75M255.2 125.5h0.75M253.0 104.9h0.75M256.5 118.2h0.75M254.0 120.5h0.75M252.9 117.8h0.75M256.3 121.1h0.75M254.2 113.0h0.75M254.1 119.8h0.75M254.2 114.6h0.75M256.4 114.8h0.75M255.2 114.7h0.75M254.8 101.6h0.75M253.4 117.8h0.75M253.8 111.6h0.75M253.6 109.5h0.75M252.0 118.4h0.75M254.7 110.2h0.75M254.2 121.7h0.75M256.4 117.8h0.75M256.6 121.9h0.75M254.1 120.5h0.75M255.0 120.3h0.75M252.9 117.8h0.75M254.0 113.2h0.75M254.8 115.2h0.75M257.4 115.2h0.75M255.2 122.2h0.75M257.1 109.5h0.75M255.3 107.2h0.75M255.6 124.4h0.75M254.0 113.7h0.75M256.6 118.3h0.75M256.0 112.6h0.75M254.3 113.2h0.75M257.2 106.1h0.75M254.0 125.3h0.75M254.7 108.6h0.75M255.2 114.1h0.75M254.6 118.7h0.75M256.0 106.1h0.75M255.1 125.0h0.75M252.7 114.9h0.75M253.0 119.7h0.75M253.5 113.4h0.75M254.2 118.4h0.75M252.8 106.7h0.75M255.1 124.1h0.75M254.0 118.1h0.75M255.2 116.2h0.75M254.8 112.0h0.75M254.4 123.1h0.75M255.5 123.6h0.75M253.7 116.3h0.75M253.8 107.1h0.75M256.2 113.7h0.75M255.2 106.5h0.75M254.4 114.7h0.75M254.2 121.9h0.75M255.5 116.3h0.75M255.1 112.7h0.75M253.7 113.7h0.75M253.2 114.4h0.75M254.6 122.6h0.75M254.0 116.3h0.75M254.8 111.6h0.75M254.7 104.3h0.75M256.5 111.8h0.75M254.8 104.0h0.75M255.7 107.4h0.75M256.9 108.9h0.75M253.7 119.7h0.75M256.8 102.9h0.75M252.2 125.8h0.75M255.5 105.9h0.75M254.1 119.9h0.75M254.2 125.1h0.75M253.7 116.6h0.75M256.6 124.9h0.75M255.2 119.2h0.75M254.3 115.1h0.75M253.9 118.0h0.75M256.1 109.1h0.75M253.0 115.8h0.75M257.9 116.9h0.75M255.0 115.2h0.75M252.2 111.0h0.75M257.1 102.1h0.75M257.5 107.9h0.75M257.1 114.6h0.75M255.7 112.0h0.75M254.1 116.8h0.75M250.0 119.1h0.75M254.3 108.6h0.75M254.4 119.6h0.75M253.6 117.8h0.75M252.7 116.1h0.75M253.0 120.4h0.75M253.2 119.4h0.75M251.7 116.6h0.75M256.5 110.2h0.75M254.9 110.0h0.75M255.5 120.3h0.75M256.5 124.0h0.75M256.8 110.8h0.75M255.0 118.9h0.75M255.1 107.1h0.75M254.9 98.8h0.75M257.6 114.3h0.75M258.3 108.8h0.75M255.6 120.6h0.75M252.6 113.4h0.75M255.5 119.7h0.75M255.4 98.7h0.75M251.1 117.8h0.75M257.2 105.6h0.75M255.4 121.4h0.75M253.3 105.3h0.75M255.2 112.6h0.75M254.6 114.2h0.75M254.6 117.5h0.75M254.0 115.3h0.75M253.9 109.9h0.75M255.3 110.2h0.75M255.6 115.3h0.75M256.4 119.3h0.75M251.7 115.3h0.75M255.8 116.2h0.75M254.8 122.4h0.75M255.8 106.8h0.75M254.9 121.9h0.75M255.0 107.3h0.75M256.0 119.4h0.75M256.5 116.6h0.75M255.0 121.0h0.75M253.1 126.5h0.75M255.4 116.9h0.75M255.9 120.6h0.75M251.4 121.5h0.75M254.6 110.4h0.75M256.2 121.5h0.75M255.4 111.5h0.75M254.9 109.3h0.75M258.7 111.2h0.75M256.1 126.0h0.75M253.5 112.0h0.75M251.3 113.9h0.75M252.8 116.5h0.75M254.4 115.5h0.75M254.8 112.4h0.75M255.0 115.0h0.75M253.7 113.4h0.75M253.9 107.1h0.75M254.7 103.5h0.75M255.6 115.3h0.75M255.0 122.9h0.75M256.2 112.6h0.75M255.3 123.1h0.75M254.5 117.9h0.75M255.4 108.8h0.75M255.2 113.0h0.75M254.4 118.3h0.75M255.8 109.7h0.75M254.4 114.2h0.75M253.3 117.9h0.75M254.5 110.9h0.75M256.2 114.9h0.75M253.0 114.9h0.75M254.5 117.4h0.75M258.2 119.0h0.75M257.0 114.4h0.75M255.5 118.7h0.75M254.6 117.0h0.75M254.1 119.9h0.75M253.4 126.5h0.75M249.1 106.5h0.75M254.6 117.8h0.75M255.0 105.0h0.75M255.4 109.8h0.75M255.1 112.8h0.75M254.4 105.7h0.75M252.8 111.9h0.75M253.1 117.0h0.75M252.6 116.9h0.75M255.6 110.7h0.75M253.3 113.2h0.75M256.0 124.4h0.75M258.1 116.0h0.75M255.7 116.7h0.75M254.7 108.6h0.75M254.2 122.7h0.75M256.9 111.6h0.75M254.8 118.4h0.75M254.5 103.8h0.75M255.3 109.2h0.75M254.3 111.4h0.75M257.1 102.9h0.75M252.4 112.2h0.75M253.8 120.5h0.75M257.2 110.8h0.75M255.7 114.1h0.75M251.7 123.0h0.75M257.5 110.2h0.75M255.7 112.1h0.75M254.6 112.5h0.75M254.6 115.8h0.75M253.8 117.2h0.75M252.8 120.7h0.75M253.3 103.5h0.75M256.1 113.3h0.75M254.0 121.4h0.75M255.4 106.3h0.75M254.0 111.2h0.75M254.3 126.3h0.75M258.9 126.5h0.75M255.5 119.0h0.75M255.0 101.2h0.75M254.0 115.3h0.75M253.7 114.2h0.75M253.5 108.2h0.75M256.6 102.9h0.75M256.4 108.1h0.75M254.4 102.5h0.75M255.8 109.0h0.75M258.6 109.5h0.75M255.2 119.7h0.75M253.3 110.1h0.75M253.1 119.1h0.75M255.2 122.0h0.75M252.6 109.5h0.75M254.6 112.6h0.75M255.3 122.7h0.75M255.0 110.3h0.75M254.7 110.8h0.75M254.5 115.0h0.75M252.8 117.0h0.75M255.9 119.9h0.75M253.0 116.2h0.75M256.2 112.5h0.75M255.9 112.2h0.75M254.8 111.7h0.75M252.5 110.1h0.75M255.0 113.6h0.75M254.8 111.7h0.75M256.1 114.3h0.75M255.4 112.4h0.75M256.8 114.8h0.75M255.4 105.4h0.75M253.8 117.6h0.75M252.8 106.0h0.75M254.6 105.3h0.75M256.4 118.3h0.75M254.3 123.3h0.75M253.7 107.8h0.75M256.2 115.6h0.75M254.4 122.1h0.75M254.6 119.6h0.75M255.1 122.9h0.75M255.6 112.4h0.75M257.1 113.2h0.75M257.4 107.3h0.75M254.9 101.1h0.75M255.6 124.1h0.75M254.2 118.5h0.75M254.4 124.8h0.75M255.3 117.8h0.75M256.5 105.7h0.75M255.8 116.3h0.75M256.8 115.7h0.75M255.7 115.1h0.75M253.3 112.2h0.75M254.5 106.9h0.75M254.7 112.4h0.75M257.6 113.9h0.75M255.0 116.1h0.75M255.9 105.1h0.75M252.1 125.7h0.75M253.5 109.7h0.75M256.6 117.4h0.75M253.6 120.3h0.75M253.1 126.0h0.75M254.3 117.6h0.75M253.3 114.9h0.75M258.1 102.3h0.75M254.0 117.3h0.75M254.5 118.4h0.75M256.6 108.2h0.75M253.8 124.0h0.75M257.8 98.3h0.75M255.6 121.9h0.75M253.8 109.9h0.75M253.1 114.2h0.75M253.0 120.1h0.75M253.7 118.8h0.75M252.4 121.2h0.75M255.8 121.6h0.75M256.3 115.8h0.75M257.3 113.2h0.75M255.0 126.1h0.75M254.1 115.5h0.75M255.2 116.7h0.75M254.4 122.0h0.75M258.1 113.0h0.75M252.5 112.5h0.75M252.7 107.3h0.75M253.2 122.3h0.75M255.0 120.1h0.75M254.6 122.1h0.75M254.2 123.9h0.75M256.2 116.9h0.75M252.5 108.4h0.75M255.2 108.8h0.75M254.5 114.5h0.75M256.9 111.1h0.75M255.0 112.5h0.75M253.6 118.3h0.75M256.3 106.3h0.75M255.0 118.8h0.75M253.2 112.9h0.75M255.3 114.9h0.75M256.9 109.8h0.75M254.4 118.9h0.75M254.7 113.9h0.75M254.6 118.1h0.75M255.9 108.7h0.75M253.4 108.2h0.75M255.5 103.6h0.75M258.6 112.0h0.75M254.8 118.7h0.75M254.5 113.9h0.75M258.0 102.8h0.75M255.2 110.7h0.75M254.3 115.1h0.75M252.0 119.5h0.75M255.1 119.1h0.75M253.9 120.3h0.75M254.1 120.5h0.75M256.9 119.5h0.75M252.6 116.0h0.75M255.1 107.3h0.75M252.5 124.0h0.75M253.3 118.1h0.75M254.3 114.6h0.75M254.1 115.6h0.75M257.3 109.9h0.75M255.6 118.6h0.75M253.8 108.5h0.75M253.4 119.2h0.75M255.1 122.1h0.75M255.4 116.3h0.75M254.8 117.0h0.75M254.9 119.8h0.75M253.5 122.4h0.75M257.3 114.9h0.75M255.7 108.0h0.75M255.0 106.3h0.75M256.3 115.8h0.75M256.5 122.7h0.75M253.7 120.7h0.75M254.6 119.0h0.75M253.8 119.6h0.75M255.7 124.8h0.75M254.6 115.9h0.75M255.6 114.5h0.75M258.0 101.4h0.75M252.2 112.3h0.75M255.9 115.7h0.75M255.5 105.8h0.75M255.7 119.0h0.75M257.3 120.8h0.75M253.9 110.8h0.75M253.1 112.4h0.75M254.7 123.5h0.75M257.3 116.0h0.75M255.7 114.5h0.75M252.8 118.9h0.75M253.7 105.2h0.75M253.5 125.0h0.75M253.0 124.2h0.75M252.7 115.1h0.75M255.6 113.0h0.75M253.3 115.6h0.75M257.4 119.7h0.75M255.1 119.2h0.75M256.6 124.0h0.75M254.4 109.9h0.75M253.3 115.9h0.75M254.4 115.6h0.75M253.7 124.6h0.75M253.5 110.5h0.75M253.0 108.6h0.75M252.3 110.3h0.75M254.4 120.0h0.75M252.1 118.3h0.75M254.6 115.5h0.75M251.5 118.6h0.75M255.8 122.8h0.75M254.4 123.4h0.75M254.9 109.7h0.75M255.6 121.8h0.75M255.2 115.3h0.75M254.4 119.8h0.75M252.0 117.5h0.75M252.8 112.2h0.75M255.1 123.4h0.75M254.8 109.7h0.75M259.0 117.6h0.75M250.6 114.9h0.75M253.7 111.7h0.75M255.0 107.0h0.75M256.1 116.1h0.75M254.2 116.8h0.75M253.0 116.8h0.75M255.4 123.1h0.75M257.9 111.6h0.75M255.4 110.5h0.75M255.0 122.9h0.75M255.8 113.7h0.75M257.6 121.2h0.75M256.7 116.1h0.75M256.9 114.6h0.75M256.2 115.8h0.75M254.8 105.7h0.75M256.3 119.2h0.75M253.8 116.0h0.75M255.7 119.6h0.75M251.6 125.0h0.75M256.6 116.4h0.75M255.1 117.4h0.75M254.2 125.2h0.75M253.8 112.2h0.75M254.4 105.5h0.75M256.4 108.0h0.75M257.2 121.6h0.75M257.9 111.8h0.75M254.3 112.7h0.75M256.0 109.9h0.75M254.3 100.8h0.75M254.9 116.9h0.75M257.9 110.2h0.75M256.3 119.2h0.75M256.2 108.5h0.75M249.4 112.5h0.75M256.3 116.6h0.75M253.7 112.9h0.75M257.2 104.9h0.75M250.9 117.3h0.75M255.3 125.2h0.75M256.0 115.3h0.75M253.9 103.8h0.75M255.6 111.6h0.75M254.2 117.6h0.75M251.6 115.0h0.75M254.6 122.8h0.75M253.3 105.4h0.75M256.2 113.3h0.75M252.7 122.4h0.75M255.6 104.5h0.75M255.0 106.8h0.75M253.5 124.5h0.75M257.2 120.0h0.75M252.4 120.9h0.75M253.5 112.3h0.75M254.0 122.5h0.75M255.6 119.3h0.75M254.1 112.2h0.75M256.5 111.6h0.75M254.4 119.2h0.75M254.5 121.9h0.75M255.7 119.7h0.75M258.5 112.0h0.75M258.1 107.2h0.75M253.6 99.4h0.75M253.8 110.4h0.75M255.9 123.7h0.75M258.5 112.1h0.75M256.5 114.3h0.75M251.9 88.5h0.75M254.3 102.9h0.75M256.2 109.5h0.75M255.8 111.2h0.75M255.6 109.3h0.75M255.4 106.6h0.75M253.6 116.4h0.75M256.1 107.5h0.75M253.4 104.9h0.75M257.6 117.4h0.75M255.3 112.7h0.75M257.9 119.3h0.75M254.7 123.5h0.75M255.7 113.7h0.75M254.2 115.6h0.75M257.0 106.2h0.75M252.2 120.0h0.75M256.5 125.1h0.75M255.7 105.7h0.75M256.1 116.6h0.75M253.2 105.0h0.75M252.4 116.0h0.75M252.8 117.9h0.75M254.6 119.8h0.75M256.2 109.5h0.75M254.2 120.4h0.75M253.8 122.2h0.75M255.8 121.4h0.75M253.9 120.7h0.75M254.5 117.0h0.75M255.8 111.8h0.75M254.7 99.8h0.75M253.7 119.6h0.75M253.1 101.6h0.75M252.5 113.6h0.75M255.9 119.0h0.75M252.6 118.2h0.75M252.9 122.7h0.75M255.4 111.3h0.75M254.1 115.0h0.75M253.9 123.2h0.75M255.3 111.8h0.75M255.5 106.4h0.75M255.1 113.3h0.75M253.9 115.1h0.75M255.2 105.8h0.75M256.1 111.6h0.75M255.4 126.5h0.75M253.1 126.5h0.75M253.5 122.4h0.75M253.9 123.8h0.75M256.2 117.7h0.75M253.5 122.4h0.75M255.4 108.3h0.75M255.7 114.4h0.75M254.6 109.0h0.75M255.1 121.2h0.75M253.5 120.8h0.75M252.0 116.2h0.75M255.2 109.2h0.75M255.1 106.8h0.75M257.7 118.1h0.75M256.5 109.3h0.75M251.3 114.9h0.75M256.9 114.4h0.75M256.6 118.2h0.75M255.3 122.5h0.75M253.9 112.8h0.75M256.5 118.5h0.75M254.0 108.3h0.75M257.1 94.1h0.75M256.2 114.5h0.75M252.8 118.2h0.75M255.3 98.8h0.75M253.4 120.5h0.75M254.1 115.1h0.75M254.7 125.0h0.75M255.3 114.5h0.75M253.8 122.2h0.75M253.7 118.2h0.75M255.5 120.4h0.75M256.0 117.4h0.75M257.8 120.7h0.75M253.7 109.5h0.75M253.7 124.3h0.75M253.1 125.9h0.75M255.5 111.6h0.75M253.3 114.8h0.75M256.0 115.0h0.75M255.9 116.6h0.75M256.9 112.3h0.75M254.6 108.0h0.75M254.3 108.9h0.75M252.5 114.0h0.75M255.8 100.6h0.75M252.9 106.2h0.75M255.4 119.2h0.75M255.3 114.3h0.75M253.6 116.7h0.75M253.5 114.0h0.75M255.4 113.8h0.75M256.6 101.1h0.75M252.4 122.1h0.75M254.0 112.4h0.75M254.0 115.1h0.75M254.6 117.9h0.75M251.6 114.7h0.75M253.5 116.9h0.75M253.3 115.9h0.75M255.2 115.2h0.75M255.2 119.8h0.75M253.2 115.2h0.75M256.4 121.7h0.75M256.3 110.0h0.75M253.8 122.0h0.75M254.8 117.4h0.75M254.3 121.5h0.75M255.1 108.9h0.75M255.4 113.2h0.75M254.4 119.2h0.75M255.0 111.7h0.75M253.0 112.5h0.75M254.6 107.6h0.75M253.8 115.9h0.75M253.0 113.3h0.75M255.2 116.6h0.75M252.3 115.7h0.75M253.3 122.7h0.75M254.7 126.0h0.75M255.4 107.8h0.75M256.2 112.3h0.75M254.6 116.1h0.75M252.9 123.2h0.75M255.0 108.7h0.75M252.7 118.5h0.75M256.6 118.2h0.75M255.3 112.7h0.75M256.5 119.1h0.75M253.6 111.4h0.75M251.6 123.1h0.75M259.3 114.7h0.75M255.5 120.5h0.75M253.3 110.0h0.75M257.2 121.5h0.75M255.9 114.8h0.75M254.7 116.5h0.75M255.4 111.5h0.75M254.0 109.2h0.75M253.4 124.4h0.75M253.8 110.5h0.75M256.4 114.4h0.75M254.7 120.2h0.75M256.5 117.1h0.75M257.1 111.1h0.75M254.0 120.0h0.75M255.8 104.1h0.75M254.3 120.1h0.75M252.4 116.9h0.75M253.5 105.0h0.75M254.5 115.1h0.75M254.2 111.4h0.75M256.1 108.7h0.75M253.9 106.3h0.75M256.6 105.9h0.75M257.4 109.5h0.75M254.7 126.3h0.75M253.2 124.2h0.75M252.8 112.5h0.75M255.6 117.8h0.75M255.3 117.6h0.75M257.2 105.0h0.75M253.8 121.3h0.75M252.6 111.0h0.75M258.5 124.4h0.75M255.6 116.1h0.75M254.6 109.8h0.75M253.5 109.1h0.75M252.9 116.5h0.75M255.4 109.4h0.75M255.0 106.9h0.75M255.4 113.5h0.75M254.7 116.9h0.75M256.8 117.0h0.75M253.8 116.6h0.75M255.4 119.1h0.75M256.4 110.2h0.75M253.0 119.7h0.75M253.1 118.6h0.75M258.9 123.8h0.75M252.6 110.2h0.75M255.4 113.7h0.75M255.9 117.2h0.75M255.3 119.3h0.75M252.4 123.1h0.75M252.7 109.8h0.75M251.2 115.6h0.75M255.4 113.1h0.75M253.0 101.3h0.75M255.7 108.0h0.75M254.2 117.2h0.75M254.7 118.3h0.75M257.3 120.3h0.75M253.3 115.3h0.75M254.5 110.0h0.75M255.8 113.1h0.75M255.2 119.8h0.75M258.0 111.6h0.75M257.2 117.6h0.75M253.7 116.7h0.75M253.9 112.9h0.75M252.2 113.7h0.75M251.8 122.1h0.75M255.6 113.0h0.75M254.9 116.4h0.75M254.4 117.6h0.75M254.5 118.6h0.75M253.6 116.1h0.75M257.4 110.3h0.75M253.6 121.9h0.75M255.3 116.7h0.75M255.1 113.0h0.75M254.0 119.0h0.75M255.1 119.9h0.75M254.9 124.9h0.75M256.3 110.7h0.75M257.2 112.0h0.75M256.4 110.7h0.75M255.4 116.7h0.75M257.0 101.6h0.75M251.9 122.2h0.75M256.0 112.4h0.75M255.0 104.2h0.75M254.2 111.4h0.75M256.2 117.4h0.75M254.6 123.3h0.75M253.8 120.7h0.75M254.5 118.8h0.75M254.4 125.0h0.75M256.0 110.3h0.75M254.1 124.6h0.75M257.1 107.8h0.75M255.1 119.9h0.75M258.4 120.2h0.75M254.5 121.9h0.75M254.9 110.1h0.75M254.7 114.3h0.75M254.5 116.3h0.75M255.4 110.7h0.75M255.8 105.5h0.75M255.8 119.0h0.75M255.5 106.0h0.75M254.1 117.2h0.75M255.5 120.7h0.75M252.5 116.0h0.75M256.5 108.2h0.75M253.0 112.8h0.75M254.4 114.1h0.75M256.7 117.7h0.75M251.9 121.0h0.75M255.0 121.5h0.75M254.8 125.0h0.75M255.0 112.7h0.75M253.0 122.0h0.75M254.6 104.4h0.75M256.1 124.4h0.75M251.6 119.6h0.75M256.7 111.0h0.75M255.5 120.8h0.75M252.6 125.4h0.75M255.6 121.4h0.75M253.5 121.4h0.75M254.7 113.9h0.75M254.9 118.2h0.75M252.5 115.9h0.75M255.4 105.3h0.75M255.8 115.9h0.75M253.2 108.7h0.75M252.9 121.7h0.75M253.5 117.2h0.75M254.1 121.8h0.75M256.8 122.0h0.75M255.8 123.0h0.75M257.4 110.3h0.75M255.2 111.7h0.75M254.9 114.5h0.75M255.0 120.7h0.75M252.8 98.9h0.75M255.2 122.9h0.75M254.2 125.7h0.75M258.3 116.4h0.75M254.5 119.4h0.75M256.0 106.2h0.75M255.6 102.5h0.75M253.2 117.5h0.75M255.3 108.2h0.75M254.9 124.5h0.75M252.3 119.7h0.75M256.8 107.2h0.75M256.6 119.0h0.75M254.3 116.2h0.75M254.8 116.2h0.75M254.5 111.2h0.75M254.5 125.3h0.75M253.6 107.6h0.75M255.8 117.6h0.75M255.5 109.7h0.75M254.2 122.7h0.75M257.3 117.7h0.75M255.4 98.7h0.75M253.8 124.6h0.75M257.7 110.6h0.75M250.9 119.4h0.75M252.8 113.3h0.75M253.9 113.6h0.75M253.3 120.3h0.75M255.3 107.4h0.75M255.7 117.4h0.75M253.2 116.9h0.75M255.3 111.3h0.75M255.0 113.0h0.75M251.6 106.9h0.75M253.8 112.6h0.75M254.1 116.8h0.75M254.5 104.9h0.75M254.7 114.7h0.75M253.5 121.0h0.75M255.4 114.0h0.75M253.5 118.0h0.75M253.6 110.4h0.75M254.0 122.3h0.75M254.4 115.0h0.75M254.3 120.0h0.75M254.5 121.5h0.75M254.6 121.6h0.75M254.3 111.2h0.75M255.4 114.7h0.75M254.1 125.6h0.75M254.0 110.9h0.75M254.3 125.6h0.75M252.7 123.8h0.75M255.6 113.5h0.75M254.1 104.9h0.75M249.9 102.9h0.75M251.5 96.4h0.75M253.9 117.6h0.75M252.6 108.7h0.75M253.0 109.9h0.75M255.9 123.6h0.75M256.4 115.5h0.75M258.4 118.8h0.75M256.1 117.4h0.75M257.0 102.0h0.75M252.7 112.8h0.75M250.5 109.3h0.75M254.1 115.0h0.75M256.6 124.5h0.75M249.1 114.0h0.75M255.8 125.8h0.75M253.4 115.9h0.75M254.5 102.8h0.75M255.5 121.2h0.75M254.0 112.8h0.75M257.6 110.1h0.75M254.1 114.8h0.75M256.0 115.8h0.75M258.0 116.2h0.75M251.9 96.3h0.75M255.0 107.7h0.75M255.6 117.0h0.75M258.0 99.6h0.75M256.8 113.7h0.75M256.9 122.4h0.75M249.4 120.8h0.75M256.1 104.4h0.75M254.6 122.1h0.75M251.2 120.4h0.75M252.8 106.0h0.75M257.4 109.2h0.75M255.9 86.8h0.75M260.8 94.0h0.75M250.8 116.8h0.75M256.1 104.1h0.75M249.4 117.2h0.75M255.4 103.1h0.75M255.2 106.3h0.75M252.3 118.7h0.75M254.9 112.3h0.75M251.8 105.1h0.75M254.2 106.1h0.75M255.7 112.2h0.75M254.3 110.3h0.75M255.9 121.7h0.75M252.2 121.1h0.75M257.1 119.5h0.75M253.5 113.9h0.75M260.1 99.1h0.75M256.9 109.4h0.75M259.0 113.2h0.75M257.0 105.9h0.75M251.7 106.8h0.75M254.2 99.8h0.75M256.4 100.0h0.75M255.0 109.6h0.75M249.4 113.4h0.75M251.0 112.2h0.75M249.1 106.7h0.75M256.9 114.6h0.75M256.7 110.0h0.75M254.6 118.0h0.75M251.8 101.8h0.75M252.1 114.3h0.75M253.1 118.9h0.75M255.7 111.6h0.75M257.1 109.4h0.75M254.6 114.9h0.75M256.8 104.0h0.75M253.7 104.6h0.75M256.3 115.8h0.75M255.3 99.2h0.75M252.8 97.9h0.75M251.5 104.7h0.75M255.6 116.7h0.75M250.4 118.0h0.75M257.0 97.3h0.75M256.1 114.1h0.75M255.7 104.8h0.75M258.4 112.8h0.75M253.4 94.3h0.75M254.2 98.5h0.75M254.7 121.4h0.75M257.6 119.0h0.75M253.8 100.4h0.75M254.4 113.0h0.75M254.5 108.9h0.75M255.2 97.8h0.75M257.5 100.4h0.75M255.1 103.3h0.75M258.2 106.4h0.75M252.6 108.2h0.75M257.0 99.8h0.75M251.6 106.7h0.75M256.7 83.2h0.75M254.4 120.9h0.75M254.5 93.7h0.75M253.8 117.8h0.75M252.1 108.9h0.75M253.2 115.6h0.75M261.0 112.6h0.75M254.1 107.7h0.75M256.1 119.3h0.75M255.4 115.2h0.75M255.3 100.0h0.75M256.8 120.4h0.75M252.9 94.6h0.75M253.4 113.6h0.75M258.4 114.0h0.75M246.7 105.7h0.75M255.0 114.2h0.75M251.1 108.3h0.75M255.2 118.6h0.75M253.1 107.6h0.75M253.7 116.6h0.75M259.9 113.6h0.75M255.3 102.8h0.75M254.6 125.7h0.75M256.9 106.9h0.75M255.5 102.9h0.75M256.4 110.3h0.75M256.8 124.1h0.75M253.4 119.7h0.75M256.0 106.6h0.75M255.6 124.0h0.75M255.3 121.4h0.75M255.7 124.2h0.75M254.5 108.5h0.75M256.5 89.3h0.75M258.9 106.9h0.75M253.0 115.7h0.75M258.7 104.8h0.75M257.0 106.8h0.75M257.6 116.4h0.75M258.5 110.9h0.75M257.0 99.2h0.75M252.4 116.8h0.75M255.1 120.4h0.75M260.7 105.6h0.75M251.9 101.3h0.75M253.3 123.2h0.75M255.8 108.8h0.75M256.6 110.1h0.75M255.5 111.6h0.75M251.5 119.8h0.75M255.1 105.8h0.75M255.3 104.6h0.75M254.8 108.0h0.75M255.7 102.6h0.75M254.6 107.7h0.75M252.4 111.0h0.75M256.7 118.9h0.75M255.7 110.6h0.75M257.3 108.9h0.75" stroke="#000" stroke-width="0.75" opacity="1" fill="none"/>
<rect x="223.4" y="77.8" width="50.2" height="49.6" fill="none" stroke="#777" stroke-width="0.85"/>
<line x1="247.8" y1="77.8" x2="247.8" y2="127.4" stroke="#777" stroke-width="0.75"/>
<line x1="223.4" y1="104.2" x2="273.6" y2="104.2" stroke="#777" stroke-width="0.75"/>
<rect x="261.2" y="78.4" width="11.5" height="4.7" fill="#fff" opacity="0.85"/>
<rect x="257.9" y="122.1" width="14.8" height="4.7" fill="#fff" opacity="0.85"/>
<text font-size="5.9" x="224.3" y="82.5" fill="#111">0.00</text>
<text font-size="5.9" x="273.1" y="82.5" text-anchor="end" fill="#111">6.64</text>
<text font-size="5.9" x="224.3" y="126.6" fill="#111">0.00</text>
<text font-size="5.9" x="273.1" y="126.6" text-anchor="end" fill="#111">93.36</text>
<text font-size="3.7" x="220.8" y="133.4" font-weight="bold" fill="#333">10<tspan dy="-1.3" font-size="3.0">1</tspan></text>
<text font-size="3.7" x="233.4" y="133.4" font-weight="bold" fill="#333">10<tspan dy="-1.3" font-size="3.0">2</tspan></text>
<text font-size="3.7" x="245.9" y="133.4" font-weight="bold" fill="#333">10<tspan dy="-1.3" font-size="3.0">3</tspan></text>
<text font-size="3.7" x="258.4" y="133.4" font-weight="bold" fill="#333">10<tspan dy="-1.3" font-size="3.0">4</tspan></text>
<text font-size="3.7" x="46.4" y="129.0" font-weight="bold" fill="#333">10<tspan dy="-1.3" font-size="3.0">1</tspan></text>
<text font-size="3.7" x="46.4" y="116.6" font-weight="bold" fill="#333">10<tspan dy="-1.3" font-size="3.0">2</tspan></text>
<text font-size="3.7" x="46.4" y="104.2" font-weight="bold" fill="#333">10<tspan dy="-1.3" font-size="3.0">3</tspan></text>
<text font-size="3.7" x="46.4" y="91.8" font-weight="bold" fill="#333">10<tspan dy="-1.3" font-size="3.0">4</tspan></text>
<text font-size="10" transform="translate(17.8 59.6) rotate(-90)">YAC-1</text>
<text font-size="10.2" transform="translate(30.4 73.9) rotate(-90)">CD107a</text>
<text font-size="9.9" transform="translate(17.4 131.3) rotate(-90)">medium</text>
<line x1="26.7" y1="141.5" x2="26.7" y2="85.6" stroke="#000" stroke-width="1.6"/>
<path d="M26.7 80.6L29.9 87.6H23.5Z" fill="#000"/>
<line x1="33.0" y1="142.3" x2="65.0" y2="142.3" stroke="#000" stroke-width="1.6"/>
<path d="M70.0 142.3L63.0 139.1V145.5Z" fill="#000"/>
<text font-size="9.8" transform="translate(74.2 145.8) scale(1.03 1)">NK1.1</text>
<rect x="326.3" y="10.0" width="66.5" height="109.7" fill="none" stroke="#707070" stroke-width="0.9"/>
<line x1="323.8" y1="119.7" x2="326.3" y2="119.7" stroke="#888" stroke-width="0.9"/>
<text font-size="12.2" transform="translate(317.6 124.1) scale(1.15 1)" text-anchor="end">0</text>
<line x1="323.8" y1="101.4" x2="326.3" y2="101.4" stroke="#888" stroke-width="0.9"/>
<text font-size="12.2" transform="translate(317.6 105.8) scale(1.15 1)" text-anchor="end">10</text>
<line x1="323.8" y1="83.1" x2="326.3" y2="83.1" stroke="#888" stroke-width="0.9"/>
<text font-size="12.2" transform="translate(317.6 87.5) scale(1.15 1)" text-anchor="end">20</text>
<line x1="323.8" y1="64.9" x2="326.3" y2="64.9" stroke="#888" stroke-width="0.9"/>
<text font-size="12.2" transform="translate(317.6 69.3) scale(1.15 1)" text-anchor="end">30</text>
<line x1="323.8" y1="46.6" x2="326.3" y2="46.6" stroke="#888" stroke-width="0.9"/>
<text font-size="12.2" transform="translate(317.6 51.0) scale(1.15 1)" text-anchor="end">40</text>
<line x1="323.8" y1="28.3" x2="326.3" y2="28.3" stroke="#888" stroke-width="0.9"/>
<text font-size="12.2" transform="translate(317.6 32.7) scale(1.15 1)" text-anchor="end">50</text>
<line x1="323.8" y1="10.0" x2="326.3" y2="10.0" stroke="#888" stroke-width="0.9"/>
<text font-size="12.2" transform="translate(317.6 14.4) scale(1.15 1)" text-anchor="end">60</text>
<line x1="324.8" y1="110.6" x2="326.3" y2="110.6" stroke="#888" stroke-width="0.7"/>
<line x1="324.8" y1="92.3" x2="326.3" y2="92.3" stroke="#888" stroke-width="0.7"/>
<line x1="324.8" y1="74.0" x2="326.3" y2="74.0" stroke="#888" stroke-width="0.7"/>
<line x1="324.8" y1="55.7" x2="326.3" y2="55.7" stroke="#888" stroke-width="0.7"/>
<line x1="324.8" y1="37.4" x2="326.3" y2="37.4" stroke="#888" stroke-width="0.7"/>
<line x1="324.8" y1="19.2" x2="326.3" y2="19.2" stroke="#888" stroke-width="0.7"/>
<line x1="334.8" y1="119.7" x2="334.8" y2="122.4" stroke="#888" stroke-width="0.9"/>
<text font-size="10.6" transform="translate(339.3 128.8) rotate(-47)" text-anchor="end">Stx+/-</text>
<line x1="351.2" y1="119.7" x2="351.2" y2="122.4" stroke="#888" stroke-width="0.9"/>
<text font-size="10.6" transform="translate(355.7 128.8) rotate(-47)" text-anchor="end">Stx-/-</text>
<line x1="367.7" y1="119.7" x2="367.7" y2="122.4" stroke="#888" stroke-width="0.9"/>
<text font-size="10.6" transform="translate(372.2 128.8) rotate(-47)" text-anchor="end">PKO</text>
<line x1="384.1" y1="119.7" x2="384.1" y2="122.4" stroke="#888" stroke-width="0.9"/>
<text font-size="10.6" transform="translate(388.6 128.8) rotate(-47)" text-anchor="end">B6</text>
<text font-size="9.9" transform="translate(291.2 94.4) rotate(-90) scale(1.04 1)">Δ CD107a<tspan dy="-3" font-size="6">+</tspan><tspan dy="3"> [%]</tspan></text>
<line x1="333.0" y1="17.5" x2="351.7" y2="17.5" stroke="#222" stroke-width="1.1"/>
<text font-size="9" x="342.8" y="18.6" text-anchor="middle" font-weight="bold" letter-spacing="0.9">***</text>
<circle cx="335.1" cy="23.9" r="2.5" fill="#fff" stroke="#555" stroke-width="0.9"/>
<circle cx="333.8" cy="30.8" r="2.5" fill="#fff" stroke="#555" stroke-width="0.9"/>
<circle cx="335.1" cy="34.7" r="2.5" fill="#fff" stroke="#555" stroke-width="0.9"/>
<circle cx="335.8" cy="46.3" r="2.5" fill="#fff" stroke="#555" stroke-width="0.9"/>
<circle cx="334.8" cy="54.8" r="2.5" fill="#fff" stroke="#555" stroke-width="0.9"/>
<line x1="328.5" y1="39.0" x2="341.5" y2="39.0" stroke="#111" stroke-width="1.4" stroke-dasharray="3.6 1.4"/>
<circle cx="350.9" cy="72.4" r="2.5" fill="#000" stroke="#000" stroke-width="0.9"/>
<circle cx="352.7" cy="73.0" r="2.5" fill="#000" stroke="#000" stroke-width="0.9"/>
<circle cx="351.7" cy="75.8" r="2.5" fill="#000" stroke="#000" stroke-width="0.9"/>
<circle cx="350.9" cy="78.4" r="2.5" fill="#000" stroke="#000" stroke-width="0.9"/>
<circle cx="351.7" cy="82.2" r="2.5" fill="#000" stroke="#000" stroke-width="0.9"/>
<circle cx="351.7" cy="89.5" r="2.5" fill="#000" stroke="#000" stroke-width="0.9"/>
<line x1="345.3" y1="79.3" x2="358.0" y2="79.3" stroke="#111" stroke-width="1.4" stroke-dasharray="3.6 1.4"/>
<path d="M367.7 19.6L370.3 24.5H365.1Z" fill="#f4f4f4" stroke="#555" stroke-width="0.9"/>
<path d="M367.2 41.4L369.8 46.3H364.6Z" fill="#f4f4f4" stroke="#555" stroke-width="0.9"/>
<path d="M368.0 44.0L370.6 48.9H365.4Z" fill="#f4f4f4" stroke="#555" stroke-width="0.9"/>
<line x1="361.5" y1="41.6" x2="374.5" y2="41.6" stroke="#111" stroke-width="1.4" stroke-dasharray="3.6 1.4"/>
<circle cx="386.1" cy="16.7" r="2.5" fill="#e0e0e0" stroke="#555" stroke-width="0.9"/>
<circle cx="383.1" cy="19.3" r="2.5" fill="#e0e0e0" stroke="#555" stroke-width="0.9"/>
<circle cx="384.9" cy="22.6" r="2.5" fill="#e0e0e0" stroke="#555" stroke-width="0.9"/>
<circle cx="384.9" cy="26.5" r="2.5" fill="#e0e0e0" stroke="#555" stroke-width="0.9"/>
<circle cx="386.4" cy="41.1" r="2.5" fill="#e0e0e0" stroke="#555" stroke-width="0.9"/>
<circle cx="385.6" cy="43.2" r="2.5" fill="#e0e0e0" stroke="#555" stroke-width="0.9"/>
<circle cx="383.9" cy="47.6" r="2.5" fill="#e0e0e0" stroke="#555" stroke-width="0.9"/>
<line x1="378.0" y1="30.3" x2="391.0" y2="30.3" stroke="#111" stroke-width="1.4" stroke-dasharray="3.6 1.4"/>
<rect x="448.1" y="10.5" width="66.5" height="109.1" fill="none" stroke="#333" stroke-width="1.0"/>
<line x1="445.0" y1="118.1" x2="448.1" y2="118.1" stroke="#444" stroke-width="0.9"/>
<text font-size="12.2" transform="translate(439.4 122.5) scale(1.15 1)" text-anchor="end">0</text>
<line x1="445.0" y1="91.2" x2="448.1" y2="91.2" stroke="#444" stroke-width="0.9"/>
<text font-size="12.2" transform="translate(439.4 95.6) scale(1.15 1)" text-anchor="end">20</text>
<line x1="445.0" y1="64.3" x2="448.1" y2="64.3" stroke="#444" stroke-width="0.9"/>
<text font-size="12.2" transform="translate(439.4 68.7) scale(1.15 1)" text-anchor="end">40</text>
<line x1="445.0" y1="37.4" x2="448.1" y2="37.4" stroke="#444" stroke-width="0.9"/>
<text font-size="12.2" transform="translate(439.4 41.8) scale(1.15 1)" text-anchor="end">60</text>
<line x1="445.0" y1="10.5" x2="448.1" y2="10.5" stroke="#444" stroke-width="0.9"/>
<text font-size="12.2" transform="translate(439.4 14.9) scale(1.15 1)" text-anchor="end">80</text>
<line x1="445.8" y1="104.6" x2="448.1" y2="104.6" stroke="#444" stroke-width="0.8"/>
<line x1="445.8" y1="77.8" x2="448.1" y2="77.8" stroke="#444" stroke-width="0.8"/>
<line x1="445.8" y1="50.8" x2="448.1" y2="50.8" stroke="#444" stroke-width="0.8"/>
<line x1="445.8" y1="24.0" x2="448.1" y2="24.0" stroke="#444" stroke-width="0.8"/>
<line x1="457.0" y1="119.6" x2="457.0" y2="122.0" stroke="#777" stroke-width="0.9"/>
<text font-size="9" transform="translate(454.5 128.5) rotate(52)">200/1</text>
<line x1="466.6" y1="119.6" x2="466.6" y2="122.0" stroke="#777" stroke-width="0.9"/>
<text font-size="9" transform="translate(464.1 128.5) rotate(52)">66/1</text>
<line x1="476.2" y1="119.6" x2="476.2" y2="122.0" stroke="#777" stroke-width="0.9"/>
<text font-size="9" transform="translate(473.7 128.5) rotate(52)">22/1</text>
<line x1="485.7" y1="119.6" x2="485.7" y2="122.0" stroke="#777" stroke-width="0.9"/>
<text font-size="9" transform="translate(483.2 128.5) rotate(52)">7.4/1</text>
<line x1="495.1" y1="119.6" x2="495.1" y2="122.0" stroke="#777" stroke-width="0.9"/>
<text font-size="9" transform="translate(492.6 128.5) rotate(52)">2.5/1</text>
<line x1="504.6" y1="119.6" x2="504.6" y2="122.0" stroke="#777" stroke-width="0.9"/>
<text font-size="9" transform="translate(502.1 128.5) rotate(52)">0.8/1</text>
<polyline points="457.0,118.1 466.6,118.1 476.2,118.1 485.7,118.1 495.1,118.1 504.6,118.1" fill="none" stroke="#111" stroke-width="1.0"/>
<path d="M457.0 115.2L459.8 120.3H454.2Z" fill="#f4f4f4" stroke="#222" stroke-width="1.0"/>
<path d="M466.6 115.2L469.4 120.3H463.9Z" fill="#f4f4f4" stroke="#222" stroke-width="1.0"/>
<path d="M476.2 115.2L478.9 120.3H473.4Z" fill="#f4f4f4" stroke="#222" stroke-width="1.0"/>
<path d="M485.7 115.2L488.4 120.3H482.9Z" fill="#f4f4f4" stroke="#222" stroke-width="1.0"/>
<path d="M495.1 115.2L497.9 120.3H492.4Z" fill="#f4f4f4" stroke="#222" stroke-width="1.0"/>
<path d="M504.6 115.2L507.4 120.3H501.9Z" fill="#f4f4f4" stroke="#222" stroke-width="1.0"/>
<polyline points="457.0,83.8 466.6,92.5 476.2,106.7 485.7,113.4 495.1,116.8 504.6,118.1" fill="none" stroke="#111" stroke-width="1.0"/>
<line x1="457.0" y1="77.8" x2="457.0" y2="89.8" stroke="#222" stroke-width="0.9"/>
<line x1="454.9" y1="77.8" x2="459.1" y2="77.8" stroke="#222" stroke-width="0.9"/>
<line x1="454.9" y1="89.8" x2="459.1" y2="89.8" stroke="#222" stroke-width="0.9"/>
<line x1="466.6" y1="88.0" x2="466.6" y2="97.0" stroke="#222" stroke-width="0.9"/>
<line x1="464.5" y1="88.0" x2="468.7" y2="88.0" stroke="#222" stroke-width="0.9"/>
<line x1="464.5" y1="97.0" x2="468.7" y2="97.0" stroke="#222" stroke-width="0.9"/>
<line x1="476.2" y1="105.2" x2="476.2" y2="108.2" stroke="#222" stroke-width="0.9"/>
<line x1="474.1" y1="105.2" x2="478.3" y2="105.2" stroke="#222" stroke-width="0.9"/>
<line x1="474.1" y1="108.2" x2="478.3" y2="108.2" stroke="#222" stroke-width="0.9"/>
<line x1="485.7" y1="112.4" x2="485.7" y2="114.4" stroke="#222" stroke-width="0.9"/>
<line x1="483.6" y1="112.4" x2="487.8" y2="112.4" stroke="#222" stroke-width="0.9"/>
<line x1="483.6" y1="114.4" x2="487.8" y2="114.4" stroke="#222" stroke-width="0.9"/>
<circle cx="457.0" cy="83.8" r="2.6" fill="#000" stroke="#000" stroke-width="1.0"/>
<circle cx="466.6" cy="92.5" r="2.6" fill="#000" stroke="#000" stroke-width="1.0"/>
<circle cx="476.2" cy="106.7" r="2.6" fill="#000" stroke="#000" stroke-width="1.0"/>
<circle cx="485.7" cy="113.4" r="2.6" fill="#000" stroke="#000" stroke-width="1.0"/>
<circle cx="495.1" cy="116.8" r="2.6" fill="#000" stroke="#000" stroke-width="1.0"/>
<circle cx="504.6" cy="118.1" r="2.6" fill="#000" stroke="#000" stroke-width="1.0"/>
<polyline points="457.0,48.2 466.6,67.0 476.2,96.6 485.7,110.0 495.1,116.1 504.6,118.1" fill="none" stroke="#111" stroke-width="1.0"/>
<line x1="457.0" y1="36.2" x2="457.0" y2="60.2" stroke="#222" stroke-width="0.9"/>
<line x1="454.9" y1="36.2" x2="459.1" y2="36.2" stroke="#222" stroke-width="0.9"/>
<line x1="454.9" y1="60.2" x2="459.1" y2="60.2" stroke="#222" stroke-width="0.9"/>
<line x1="466.6" y1="59.0" x2="466.6" y2="75.0" stroke="#222" stroke-width="0.9"/>
<line x1="464.5" y1="59.0" x2="468.7" y2="59.0" stroke="#222" stroke-width="0.9"/>
<line x1="464.5" y1="75.0" x2="468.7" y2="75.0" stroke="#222" stroke-width="0.9"/>
<line x1="476.2" y1="93.6" x2="476.2" y2="99.6" stroke="#222" stroke-width="0.9"/>
<line x1="474.1" y1="93.6" x2="478.3" y2="93.6" stroke="#222" stroke-width="0.9"/>
<line x1="474.1" y1="99.6" x2="478.3" y2="99.6" stroke="#222" stroke-width="0.9"/>
<line x1="485.7" y1="108.5" x2="485.7" y2="111.5" stroke="#222" stroke-width="0.9"/>
<line x1="483.6" y1="108.5" x2="487.8" y2="108.5" stroke="#222" stroke-width="0.9"/>
<line x1="483.6" y1="111.5" x2="487.8" y2="111.5" stroke="#222" stroke-width="0.9"/>
<circle cx="457.0" cy="48.2" r="2.6" fill="#fff" stroke="#222" stroke-width="1.0"/>
<circle cx="466.6" cy="67.0" r="2.6" fill="#fff" stroke="#222" stroke-width="1.0"/>
<circle cx="476.2" cy="96.6" r="2.6" fill="#fff" stroke="#222" stroke-width="1.0"/>
<circle cx="485.7" cy="110.0" r="2.6" fill="#fff" stroke="#222" stroke-width="1.0"/>
<circle cx="495.1" cy="116.1" r="2.6" fill="#fff" stroke="#222" stroke-width="1.0"/>
<circle cx="504.6" cy="118.1" r="2.6" fill="#fff" stroke="#222" stroke-width="1.0"/>
<polyline points="457.0,32.0 466.6,60.3 476.2,89.9 485.7,107.3 495.1,115.4 504.6,117.7" fill="none" stroke="#111" stroke-width="1.0"/>
<line x1="457.0" y1="25.5" x2="457.0" y2="38.5" stroke="#222" stroke-width="0.9"/>
<line x1="454.9" y1="25.5" x2="459.1" y2="25.5" stroke="#222" stroke-width="0.9"/>
<line x1="454.9" y1="38.5" x2="459.1" y2="38.5" stroke="#222" stroke-width="0.9"/>
<line x1="466.6" y1="53.3" x2="466.6" y2="67.3" stroke="#222" stroke-width="0.9"/>
<line x1="464.5" y1="53.3" x2="468.7" y2="53.3" stroke="#222" stroke-width="0.9"/>
<line x1="464.5" y1="67.3" x2="468.7" y2="67.3" stroke="#222" stroke-width="0.9"/>
<line x1="476.2" y1="86.9" x2="476.2" y2="92.9" stroke="#222" stroke-width="0.9"/>
<line x1="474.1" y1="86.9" x2="478.3" y2="86.9" stroke="#222" stroke-width="0.9"/>
<line x1="474.1" y1="92.9" x2="478.3" y2="92.9" stroke="#222" stroke-width="0.9"/>
<line x1="485.7" y1="105.3" x2="485.7" y2="109.3" stroke="#222" stroke-width="0.9"/>
<line x1="483.6" y1="105.3" x2="487.8" y2="105.3" stroke="#222" stroke-width="0.9"/>
<line x1="483.6" y1="109.3" x2="487.8" y2="109.3" stroke="#222" stroke-width="0.9"/>
<circle cx="457.0" cy="32.0" r="2.6" fill="#e0e0e0" stroke="#222" stroke-width="1.0"/>
<circle cx="466.6" cy="60.3" r="2.6" fill="#e0e0e0" stroke="#222" stroke-width="1.0"/>
<circle cx="476.2" cy="89.9" r="2.6" fill="#e0e0e0" stroke="#222" stroke-width="1.0"/>
<circle cx="485.7" cy="107.3" r="2.6" fill="#e0e0e0" stroke="#222" stroke-width="1.0"/>
<circle cx="495.1" cy="115.4" r="2.6" fill="#e0e0e0" stroke="#222" stroke-width="1.0"/>
<circle cx="504.6" cy="117.7" r="2.6" fill="#e0e0e0" stroke="#222" stroke-width="1.0"/>
<text font-size="9.8" transform="translate(414.2 90.3) rotate(-90) scale(1.07 1)">% cell lysis</text>
<text font-size="10.6" x="466.0" y="163.5">E:T-Ratio</text>
<line x1="472.0" y1="15.8" x2="488.6" y2="15.8" stroke="#111" stroke-width="1.0"/>
<circle cx="480.3" cy="15.8" r="2.7" fill="#fff" stroke="#222" stroke-width="1.0"/>
<text font-size="6.8" x="493.0" y="18.2">Stx+/-</text>
<line x1="472.0" y1="24.3" x2="488.6" y2="24.3" stroke="#111" stroke-width="1.0"/>
<circle cx="480.3" cy="24.3" r="2.7" fill="#000" stroke="#000" stroke-width="1.0"/>
<text font-size="6.8" x="493.0" y="26.7">Stx-/-</text>
<line x1="472.0" y1="33.1" x2="488.6" y2="33.1" stroke="#111" stroke-width="1.0"/>
<path d="M480.3 30.0L483.3 35.4H477.3Z" fill="#f4f4f4" stroke="#222" stroke-width="1.0"/>
<text font-size="6.8" x="493.0" y="35.5">PKO</text>
<line x1="472.0" y1="41.8" x2="488.6" y2="41.8" stroke="#111" stroke-width="1.0"/>
<circle cx="480.3" cy="41.8" r="2.7" fill="#e0e0e0" stroke="#222" stroke-width="1.0"/>
<text font-size="6.8" x="493.0" y="44.2">B6</text>
<text font-size="13" x="2.7" y="182.8" font-weight="bold">B</text>
<text font-size="10.3" x="75.8" y="219.8" text-anchor="middle" font-weight="bold">Stx+/-</text>
<text font-size="10.3" x="148.5" y="218.2" text-anchor="middle" font-weight="bold">Stx-/-</text>
<text font-size="10.3" x="215.4" y="219.8" text-anchor="middle" font-weight="bold">PKO</text>
<text font-size="10.3" x="287.0" y="219.8" text-anchor="middle" font-weight="bold">B6</text>
<path d="M95.5 264.7h0.75M101.7 268.9h0.75M95.7 266.3h0.75M89.3 253.2h0.75M94.0 262.8h0.75M86.1 265.4h0.75M92.0 256.7h0.75M98.7 258.1h0.75M90.8 270.8h0.75M86.9 259.5h0.75M92.7 259.4h0.75M87.0 252.8h0.75M91.4 258.9h0.75M94.9 270.4h0.75M89.9 268.4h0.75M85.8 275.2h0.75M86.7 261.0h0.75M87.8 258.0h0.75M94.8 262.1h0.75M84.7 268.4h0.75M90.2 266.8h0.75M91.3 258.3h0.75M79.3 259.6h0.75M84.7 272.0h0.75M88.7 274.2h0.75M103.7 271.6h0.75M104.2 254.5h0.75M87.0 253.6h0.75M82.0 251.6h0.75M95.3 255.6h0.75M88.1 266.8h0.75M87.6 274.8h0.75M97.1 268.0h0.75M100.0 266.5h0.75M91.1 271.1h0.75M96.3 251.1h0.75M96.6 270.5h0.75M76.6 278.8h0.75M91.0 273.7h0.75M83.0 263.9h0.75M85.9 255.3h0.75M91.7 250.3h0.75M89.9 267.8h0.75M85.6 253.3h0.75M93.4 269.7h0.75M95.5 257.8h0.75M87.6 273.4h0.75M95.3 264.9h0.75M91.4 260.9h0.75M93.7 267.9h0.75M90.3 264.4h0.75M81.8 261.1h0.75M99.5 264.0h0.75M81.9 258.4h0.75M90.6 274.0h0.75M102.8 261.9h0.75M89.1 263.3h0.75M83.5 273.0h0.75M82.9 268.2h0.75M87.3 253.8h0.75M92.0 275.8h0.75M82.8 264.0h0.75M85.9 271.0h0.75M81.3 251.8h0.75M87.8 251.7h0.75M95.9 250.1h0.75M90.4 258.2h0.75M95.9 257.9h0.75M88.9 276.0h0.75M93.9 272.5h0.75M98.5 266.3h0.75M91.9 248.6h0.75M79.8 258.9h0.75M91.7 271.3h0.75M85.5 259.6h0.75M102.4 253.2h0.75M88.9 261.4h0.75M85.9 274.4h0.75M80.6 259.9h0.75M80.1 256.5h0.75M99.3 245.9h0.75M80.1 262.3h0.75M92.2 256.3h0.75M92.6 260.6h0.75M87.7 263.0h0.75M97.3 252.6h0.75M95.1 264.5h0.75M88.8 256.3h0.75M92.0 268.8h0.75M84.4 268.3h0.75M90.2 269.0h0.75M91.6 260.6h0.75M91.3 267.5h0.75M81.4 262.3h0.75M75.6 263.9h0.75M87.2 262.4h0.75M95.9 269.8h0.75M98.5 269.9h0.75M88.8 255.8h0.75M87.9 265.7h0.75M85.1 263.5h0.75M91.3 257.9h0.75M83.9 262.5h0.75M92.6 254.2h0.75M90.8 263.1h0.75M84.7 265.6h0.75M81.9 269.6h0.75M85.8 270.6h0.75M90.6 262.7h0.75M82.1 268.4h0.75M83.5 280.4h0.75M92.6 263.9h0.75M90.2 267.8h0.75M92.7 265.5h0.75M95.2 261.0h0.75M99.6 249.9h0.75M80.2 267.0h0.75M89.9 249.9h0.75M82.9 256.4h0.75M97.6 267.5h0.75M80.2 251.3h0.75M90.8 252.2h0.75M86.4 257.5h0.75M90.3 267.0h0.75M85.8 258.0h0.75M91.6 275.5h0.75M92.5 259.3h0.75M95.6 261.1h0.75M81.9 267.6h0.75M99.8 253.1h0.75M94.6 252.2h0.75M89.5 261.3h0.75M87.9 261.3h0.75M94.1 258.1h0.75M88.7 259.7h0.75M91.6 257.0h0.75M94.7 264.7h0.75M86.5 251.8h0.75M88.4 270.5h0.75M93.8 262.3h0.75M102.1 274.9h0.75M93.1 273.6h0.75M88.5 259.3h0.75M91.4 246.8h0.75M90.2 258.1h0.75M98.1 266.8h0.75M99.3 258.5h0.75M98.8 263.4h0.75M93.2 265.5h0.75M82.5 269.6h0.75M87.3 267.4h0.75M89.7 254.2h0.75M88.2 264.6h0.75M88.3 276.1h0.75M97.2 263.0h0.75M87.9 274.0h0.75M90.3 271.7h0.75M81.9 245.9h0.75M94.6 269.7h0.75M89.1 260.8h0.75M92.8 266.5h0.75M89.6 262.3h0.75M91.4 271.0h0.75M94.3 241.0h0.75M92.2 259.7h0.75M96.5 268.1h0.75M86.9 261.5h0.75M76.2 261.1h0.75M83.5 263.2h0.75M85.8 272.3h0.75M97.7 259.2h0.75M84.8 272.8h0.75M82.0 259.3h0.75M87.8 264.2h0.75M90.4 254.7h0.75M95.3 265.3h0.75M92.0 275.1h0.75M101.2 264.3h0.75M87.6 259.9h0.75M89.4 253.4h0.75M85.9 258.0h0.75M93.2 268.2h0.75M75.4 249.0h0.75M86.4 253.4h0.75M89.9 247.8h0.75M88.7 263.8h0.75M92.4 258.6h0.75M92.5 268.3h0.75M88.0 253.5h0.75M87.0 264.5h0.75M91.7 248.3h0.75M81.1 248.9h0.75M100.8 265.6h0.75M91.1 252.4h0.75M77.4 278.7h0.75M93.7 241.9h0.75M99.6 265.3h0.75M89.8 264.2h0.75M95.4 245.8h0.75M91.7 251.6h0.75M87.6 260.4h0.75M87.5 256.0h0.75M91.1 258.8h0.75M91.6 268.3h0.75M84.9 260.5h0.75M84.9 268.8h0.75M94.4 270.5h0.75M96.4 263.1h0.75M84.1 255.9h0.75M97.2 263.2h0.75M94.8 257.4h0.75M88.7 277.8h0.75M95.9 249.1h0.75M85.9 263.3h0.75M96.3 270.0h0.75M95.1 272.1h0.75M94.2 269.1h0.75M84.8 252.2h0.75M87.0 272.5h0.75M98.1 253.3h0.75M88.4 262.7h0.75M93.5 264.8h0.75M98.9 264.3h0.75M88.7 260.1h0.75M96.5 260.0h0.75M93.2 258.7h0.75M83.1 244.6h0.75M88.3 255.6h0.75M94.9 259.0h0.75M84.5 268.1h0.75M87.5 279.2h0.75M87.3 262.7h0.75M85.4 274.6h0.75M91.7 260.2h0.75M89.5 245.1h0.75M97.5 262.2h0.75M97.0 255.2h0.75M98.6 256.7h0.75M90.2 278.6h0.75M87.0 262.3h0.75M89.1 263.0h0.75M90.9 260.9h0.75M92.6 258.5h0.75M97.9 267.7h0.75M83.2 257.8h0.75M88.1 269.9h0.75M78.5 271.2h0.75M78.3 257.0h0.75M84.9 259.3h0.75M94.7 269.7h0.75M89.4 260.4h0.75M84.2 271.7h0.75M80.7 256.7h0.75M94.1 277.1h0.75M88.2 265.7h0.75M86.3 263.9h0.75M77.4 267.4h0.75M86.8 265.6h0.75M89.2 254.2h0.75M80.8 254.0h0.75M89.7 268.0h0.75M96.7 270.0h0.75M102.3 270.3h0.75M100.7 268.6h0.75M91.9 248.0h0.75M95.8 261.0h0.75M87.7 251.2h0.75M97.5 262.0h0.75M87.5 255.7h0.75M89.5 265.7h0.75M93.6 263.0h0.75M91.3 262.6h0.75M87.5 271.5h0.75M89.2 257.4h0.75M100.3 254.4h0.75M87.3 263.1h0.75M89.0 261.4h0.75M95.7 270.3h0.75M82.0 277.4h0.75M83.0 253.7h0.75M94.1 253.9h0.75M82.9 268.9h0.75M93.0 265.2h0.75M98.4 270.6h0.75M87.3 258.3h0.75M92.5 258.7h0.75M91.6 269.3h0.75M91.6 250.6h0.75M99.8 261.6h0.75M92.1 248.7h0.75M89.8 251.6h0.75M99.5 258.2h0.75M81.8 261.1h0.75M84.5 262.6h0.75M84.4 248.1h0.75M88.9 259.7h0.75M85.2 267.7h0.75M95.0 261.3h0.75M89.5 265.1h0.75M95.5 263.6h0.75M83.3 267.3h0.75M104.2 267.3h0.75M91.9 257.5h0.75M80.9 266.3h0.75M93.4 265.8h0.75M90.9 272.6h0.75M89.4 246.8h0.75M89.2 263.5h0.75M94.6 266.7h0.75M94.2 265.9h0.75M91.8 252.6h0.75M88.1 270.4h0.75M99.8 240.4h0.75M89.1 258.6h0.75M95.1 246.1h0.75M86.6 263.6h0.75M85.2 248.0h0.75M101.1 260.1h0.75M90.4 267.1h0.75M101.3 256.3h0.75M89.1 259.3h0.75M95.7 269.7h0.75M99.4 258.5h0.75M82.8 256.9h0.75M78.6 264.9h0.75M77.7 265.6h0.75M83.7 265.6h0.75M98.8 261.1h0.75M89.2 262.4h0.75M86.2 264.9h0.75M88.5 263.4h0.75M85.1 266.4h0.75M92.0 255.1h0.75M89.5 250.7h0.75M81.5 253.0h0.75M92.4 258.9h0.75M89.7 264.3h0.75M88.3 260.6h0.75M86.6 279.7h0.75M85.1 267.0h0.75M88.5 276.8h0.75M83.1 261.3h0.75M92.3 258.1h0.75M102.7 264.2h0.75M92.4 248.4h0.75M92.4 252.3h0.75M93.3 265.1h0.75M89.2 257.5h0.75M85.1 256.9h0.75M99.2 255.5h0.75M88.1 265.4h0.75M81.8 258.7h0.75M96.7 264.1h0.75M93.3 267.9h0.75M89.7 242.8h0.75M94.5 266.7h0.75M75.7 260.3h0.75M98.4 252.6h0.75M95.6 273.9h0.75M89.2 259.8h0.75" stroke="#888" stroke-width="0.75" opacity="1" fill="none"/>
<path d="M90.9 247.9h0.75M84.7 252.1h0.75M92.4 254.0h0.75M90.2 250.5h0.75M83.7 266.8h0.75M94.1 262.4h0.75M88.7 252.3h0.75M89.5 254.1h0.75M87.1 244.8h0.75M89.4 245.9h0.75M87.0 248.7h0.75M95.3 249.7h0.75M87.4 256.6h0.75M87.6 256.1h0.75M91.8 252.4h0.75M90.4 254.5h0.75M84.3 256.3h0.75M85.1 259.4h0.75M88.7 255.8h0.75M92.0 251.6h0.75M86.1 261.0h0.75M91.1 256.9h0.75M82.1 255.1h0.75M85.6 252.5h0.75M83.3 248.2h0.75M87.3 256.6h0.75M87.0 254.3h0.75M89.0 260.7h0.75M86.8 255.6h0.75M97.9 254.9h0.75M91.5 250.1h0.75M85.2 253.2h0.75M99.0 252.4h0.75M93.4 252.9h0.75M84.5 247.2h0.75M89.3 259.4h0.75M86.1 253.3h0.75M85.0 252.0h0.75M92.2 252.7h0.75M85.2 257.6h0.75M89.6 254.8h0.75M95.7 256.3h0.75M92.6 249.8h0.75M88.5 260.3h0.75M91.3 258.8h0.75M83.8 253.8h0.75M94.4 261.1h0.75M78.3 247.1h0.75M93.4 258.3h0.75M93.3 243.3h0.75M89.1 258.3h0.75M92.9 250.9h0.75M92.4 258.3h0.75M87.0 261.6h0.75M93.1 258.7h0.75M87.2 256.2h0.75M88.7 262.0h0.75M97.1 251.4h0.75M95.6 256.8h0.75M86.4 252.0h0.75M94.0 256.3h0.75M86.5 254.2h0.75M87.4 254.4h0.75M95.0 252.1h0.75M87.7 242.3h0.75M90.5 258.9h0.75M95.9 252.4h0.75M87.8 253.3h0.75M84.5 255.0h0.75M86.1 254.0h0.75M89.3 258.1h0.75M89.0 265.0h0.75M89.9 257.2h0.75M90.6 254.6h0.75M92.1 255.6h0.75M84.1 252.8h0.75M93.9 248.2h0.75M94.9 255.5h0.75M89.7 260.2h0.75M89.6 253.0h0.75M81.2 252.4h0.75M84.7 257.9h0.75M89.1 251.0h0.75M92.9 258.7h0.75M96.5 256.1h0.75M84.5 255.4h0.75M91.4 258.7h0.75M84.2 256.9h0.75M91.1 256.6h0.75M83.1 253.0h0.75M88.4 254.0h0.75M92.0 253.3h0.75M82.4 246.1h0.75M90.5 251.6h0.75M88.7 259.6h0.75M87.0 254.8h0.75M83.8 249.9h0.75M90.8 259.8h0.75M86.5 254.1h0.75M89.9 253.1h0.75M89.1 253.3h0.75M90.9 252.8h0.75M87.1 249.2h0.75M86.1 248.7h0.75M88.3 259.1h0.75M84.3 251.3h0.75M86.1 256.8h0.75M87.7 253.6h0.75M85.5 253.8h0.75M87.6 251.5h0.75M93.7 256.9h0.75M88.2 256.2h0.75M96.8 257.5h0.75M86.9 254.8h0.75M92.8 256.8h0.75M87.8 255.3h0.75M84.9 253.5h0.75M87.4 253.9h0.75M93.5 255.0h0.75M92.9 254.9h0.75M83.6 259.9h0.75M86.9 254.4h0.75M92.7 260.7h0.75M89.4 260.1h0.75M87.1 257.5h0.75M85.6 258.9h0.75M86.8 257.6h0.75M84.6 260.8h0.75M94.5 253.8h0.75M89.0 250.9h0.75M88.1 248.9h0.75M91.3 254.6h0.75M92.9 254.9h0.75M88.0 251.4h0.75M91.0 254.3h0.75M84.6 248.7h0.75M92.1 254.4h0.75M88.6 252.6h0.75M87.0 254.8h0.75M89.5 249.9h0.75M97.4 258.6h0.75M82.1 255.1h0.75M92.7 252.2h0.75M84.0 257.1h0.75M86.6 254.8h0.75M94.6 254.9h0.75M93.5 251.6h0.75M82.4 253.2h0.75M87.5 257.6h0.75M90.4 246.7h0.75M84.9 253.0h0.75M86.3 252.2h0.75M87.7 255.5h0.75M83.6 251.0h0.75M85.6 259.8h0.75M88.2 248.7h0.75M90.5 258.7h0.75M83.2 249.8h0.75M90.4 255.0h0.75M90.9 261.4h0.75M91.1 258.9h0.75M87.1 260.6h0.75M86.4 256.2h0.75M81.8 253.2h0.75M91.5 251.0h0.75M87.2 245.9h0.75M87.6 249.4h0.75M89.0 252.9h0.75M86.4 253.5h0.75M87.4 254.8h0.75M87.9 259.5h0.75M92.5 244.5h0.75M93.5 253.9h0.75M90.0 251.1h0.75M90.9 257.2h0.75M86.8 250.2h0.75M90.6 256.6h0.75M85.7 246.0h0.75M84.9 256.4h0.75M93.2 250.8h0.75M86.8 250.4h0.75M90.0 251.6h0.75M94.7 257.2h0.75M88.1 253.1h0.75M92.3 253.2h0.75M87.5 255.2h0.75M92.5 260.6h0.75M87.6 249.8h0.75M85.7 254.1h0.75M91.0 244.1h0.75M91.1 256.4h0.75M89.5 248.7h0.75M89.2 252.7h0.75M85.6 257.2h0.75M93.2 255.5h0.75M90.8 258.8h0.75M89.0 253.1h0.75M94.0 252.2h0.75M87.8 256.1h0.75M87.4 250.9h0.75M92.6 254.7h0.75M86.5 252.4h0.75M90.9 258.1h0.75M89.6 259.5h0.75M88.8 261.2h0.75M92.0 250.1h0.75M88.6 256.1h0.75M88.8 250.8h0.75M90.5 254.5h0.75M83.8 249.6h0.75M87.6 258.5h0.75M88.8 255.5h0.75M92.1 253.9h0.75M88.9 254.5h0.75M92.0 252.1h0.75M90.2 251.8h0.75M89.2 259.2h0.75M86.2 256.7h0.75M89.2 255.7h0.75M90.7 255.1h0.75M90.6 262.1h0.75M86.6 250.4h0.75M91.5 256.3h0.75M95.7 252.2h0.75M91.4 252.5h0.75M87.3 252.3h0.75M86.2 250.9h0.75M87.8 254.1h0.75M89.1 258.0h0.75M85.9 254.4h0.75M86.0 258.1h0.75M85.8 253.3h0.75M86.3 259.1h0.75M84.9 250.1h0.75M87.6 253.3h0.75M85.8 259.3h0.75M87.1 246.3h0.75M88.3 249.4h0.75M86.7 252.8h0.75M85.9 253.1h0.75M87.6 257.3h0.75M97.4 252.0h0.75M87.4 259.3h0.75M94.6 257.9h0.75M88.1 262.6h0.75M89.2 259.6h0.75M87.1 249.8h0.75M93.4 251.2h0.75M85.4 255.3h0.75M85.8 257.5h0.75M89.2 253.9h0.75M87.1 260.6h0.75M93.5 259.3h0.75M84.6 261.4h0.75M89.3 261.7h0.75M90.7 252.0h0.75M83.4 252.1h0.75M92.9 252.9h0.75M94.4 249.6h0.75M91.1 254.3h0.75M84.3 256.3h0.75M87.6 253.6h0.75M82.0 250.7h0.75M86.7 254.2h0.75M86.2 263.0h0.75M87.6 255.6h0.75M87.8 259.9h0.75M90.8 258.8h0.75M83.8 255.4h0.75M88.4 257.3h0.75M86.7 255.3h0.75M85.6 253.3h0.75M90.1 252.7h0.75M86.1 254.2h0.75M90.0 256.4h0.75M85.0 253.0h0.75M85.0 250.7h0.75M96.8 259.7h0.75M91.2 253.6h0.75M91.7 261.0h0.75M93.0 257.7h0.75M85.6 264.4h0.75M91.4 258.3h0.75M90.1 256.3h0.75M87.5 247.9h0.75M94.8 265.3h0.75M90.5 257.5h0.75M88.8 257.9h0.75M88.4 254.4h0.75M91.0 247.9h0.75M93.5 253.2h0.75M90.7 257.2h0.75M94.2 261.6h0.75M84.5 250.9h0.75M89.4 248.2h0.75M90.9 254.3h0.75M86.2 258.2h0.75M85.7 251.8h0.75M88.8 258.3h0.75M88.2 253.4h0.75M89.5 253.3h0.75M82.6 258.5h0.75M90.4 259.2h0.75M89.2 256.7h0.75M83.2 249.3h0.75M82.4 259.5h0.75M86.5 260.2h0.75M90.2 253.0h0.75M88.5 251.6h0.75M87.3 256.2h0.75M91.0 252.8h0.75M83.5 259.4h0.75M85.1 257.7h0.75M83.7 251.1h0.75M82.1 257.4h0.75M90.2 267.3h0.75M95.0 255.3h0.75M81.9 253.9h0.75M89.6 256.3h0.75M89.3 250.7h0.75M87.7 262.4h0.75M86.9 253.2h0.75M84.7 252.3h0.75M92.7 256.3h0.75M87.0 253.3h0.75M91.4 252.5h0.75M86.0 253.5h0.75M80.1 259.4h0.75M86.0 257.8h0.75M88.7 258.9h0.75M98.4 272.2h0.75M91.8 268.4h0.75M92.8 266.6h0.75M86.6 274.3h0.75M91.5 267.3h0.75M87.2 270.1h0.75M91.7 271.1h0.75M94.1 262.4h0.75M93.6 265.4h0.75M88.1 270.9h0.75M95.2 268.8h0.75M83.9 268.3h0.75M91.4 277.1h0.75M84.4 269.1h0.75M86.9 273.6h0.75M92.9 270.1h0.75M91.6 274.9h0.75M88.9 267.4h0.75M90.3 267.2h0.75M91.3 272.9h0.75M88.5 273.1h0.75M95.9 275.6h0.75M88.5 272.1h0.75M94.0 272.8h0.75M94.7 271.9h0.75M93.5 273.1h0.75M92.5 272.1h0.75M91.6 270.4h0.75M81.7 270.4h0.75M90.4 269.0h0.75M88.1 274.0h0.75M89.0 264.4h0.75M87.8 270.2h0.75M96.0 271.4h0.75M92.7 269.1h0.75M87.6 266.2h0.75M93.2 270.6h0.75M86.9 270.7h0.75M95.5 273.1h0.75M94.0 273.7h0.75M91.4 270.6h0.75M90.2 271.9h0.75M82.3 271.3h0.75M90.4 268.2h0.75M87.6 273.7h0.75M88.4 270.3h0.75M97.2 267.9h0.75M90.1 269.4h0.75M87.8 270.1h0.75M92.8 269.8h0.75M94.7 272.6h0.75M85.2 270.7h0.75M89.4 267.0h0.75M81.9 273.3h0.75M91.6 273.9h0.75M97.6 272.7h0.75M92.0 274.1h0.75M89.6 269.5h0.75M94.8 272.3h0.75M87.8 269.4h0.75M84.3 276.3h0.75M88.5 269.2h0.75M87.5 269.2h0.75M90.8 270.7h0.75M93.9 263.8h0.75M90.9 275.1h0.75M90.5 269.0h0.75M99.5 269.2h0.75M93.5 271.2h0.75M89.6 267.8h0.75M91.0 271.1h0.75M98.7 266.4h0.75M83.0 272.1h0.75M83.3 262.8h0.75M88.7 273.7h0.75M81.7 266.5h0.75M97.2 268.2h0.75M86.1 270.1h0.75M97.7 270.0h0.75M93.9 270.1h0.75M85.2 271.3h0.75M81.8 273.3h0.75M82.7 270.9h0.75M80.2 270.3h0.75M92.1 268.5h0.75M99.3 270.5h0.75M92.3 266.6h0.75M87.9 271.2h0.75M93.7 272.2h0.75M83.7 266.5h0.75M85.0 273.6h0.75M82.0 267.2h0.75M90.8 270.4h0.75M89.9 268.3h0.75M91.8 270.2h0.75M89.3 271.1h0.75M89.1 270.0h0.75M95.4 272.5h0.75M90.6 270.9h0.75M96.5 266.9h0.75M81.2 270.6h0.75M82.2 267.6h0.75M91.2 271.1h0.75M88.6 268.5h0.75M83.4 268.6h0.75M86.4 270.4h0.75M94.5 269.7h0.75M84.9 271.7h0.75M95.8 271.4h0.75M88.1 269.5h0.75M88.7 267.7h0.75M94.4 269.7h0.75M99.1 273.8h0.75M87.9 277.5h0.75M88.0 268.4h0.75M81.9 270.5h0.75M92.0 269.5h0.75M89.6 271.8h0.75M86.5 270.4h0.75M88.9 274.6h0.75M93.3 270.3h0.75M85.4 270.1h0.75M86.5 269.6h0.75M91.8 272.7h0.75M94.8 269.0h0.75M91.0 270.4h0.75M94.1 276.5h0.75M94.9 273.0h0.75M91.3 271.9h0.75M81.0 271.4h0.75M89.5 270.4h0.75M93.5 279.0h0.75M91.4 267.3h0.75M88.4 272.8h0.75M93.4 271.1h0.75M92.7 268.4h0.75M97.1 265.0h0.75M88.6 268.5h0.75M88.1 271.1h0.75M90.7 273.2h0.75M99.0 271.9h0.75M85.9 270.6h0.75M86.6 268.4h0.75M88.3 273.1h0.75M86.5 271.4h0.75M86.7 272.9h0.75M95.5 266.7h0.75M93.6 268.2h0.75M91.7 270.3h0.75M94.1 267.2h0.75M99.0 271.5h0.75M87.2 274.0h0.75M96.5 272.0h0.75M87.9 268.4h0.75M86.1 274.9h0.75M90.5 270.5h0.75M88.5 273.9h0.75M88.6 272.9h0.75M82.0 268.5h0.75M91.7 268.0h0.75M99.0 265.0h0.75M92.0 272.0h0.75M92.3 270.4h0.75M89.7 280.1h0.75M91.4 268.9h0.75M77.8 275.6h0.75M90.1 275.4h0.75M90.1 273.5h0.75M96.5 269.1h0.75M79.6 273.8h0.75M99.1 266.5h0.75M87.9 270.4h0.75M89.0 272.2h0.75M89.7 272.2h0.75M86.5 266.3h0.75M98.6 271.3h0.75M92.0 267.5h0.75M92.3 270.5h0.75M92.4 270.9h0.75M95.0 274.4h0.75M88.6 269.6h0.75M93.6 266.7h0.75M86.9 269.6h0.75M80.6 275.8h0.75M89.0 270.0h0.75M84.8 272.1h0.75M88.1 267.4h0.75M91.8 274.7h0.75M83.4 270.5h0.75M100.2 270.1h0.75M86.9 274.9h0.75M91.3 273.1h0.75M97.8 272.3h0.75M91.7 275.8h0.75M83.3 267.5h0.75M89.2 268.9h0.75M89.4 265.5h0.75M82.8 272.5h0.75M89.3 271.7h0.75M88.4 270.5h0.75M83.2 275.4h0.75M95.0 267.0h0.75M88.1 271.6h0.75M88.3 270.5h0.75M91.2 265.6h0.75M93.6 271.9h0.75M85.7 270.1h0.75M89.8 269.9h0.75M90.4 266.5h0.75M90.5 271.7h0.75M92.0 271.8h0.75M87.6 271.0h0.75M94.6 270.8h0.75M91.2 270.8h0.75M92.6 267.1h0.75M89.9 272.9h0.75M86.1 272.1h0.75M88.1 269.5h0.75M85.1 268.1h0.75M95.6 266.7h0.75M90.9 266.9h0.75M99.5 272.5h0.75M86.6 267.5h0.75M88.9 271.5h0.75M97.8 274.5h0.75M85.7 271.2h0.75M94.5 268.7h0.75M88.0 273.1h0.75M83.9 270.7h0.75M89.9 269.8h0.75M90.3 266.2h0.75M94.0 269.4h0.75M99.2 276.0h0.75M88.1 275.9h0.75M96.7 268.4h0.75M89.0 273.9h0.75M86.9 269.7h0.75M78.7 266.8h0.75M84.8 268.7h0.75M86.9 271.3h0.75M91.4 269.6h0.75M83.9 271.3h0.75M93.0 270.5h0.75M96.5 269.4h0.75M94.1 271.3h0.75M96.3 275.0h0.75M84.9 265.7h0.75M94.9 271.5h0.75M91.8 269.4h0.75M86.8 273.9h0.75M92.4 269.1h0.75M90.4 271.4h0.75M84.2 268.9h0.75M92.5 271.0h0.75M83.9 271.4h0.75M99.3 272.3h0.75M84.2 269.4h0.75M87.4 268.5h0.75M86.4 269.0h0.75M89.8 267.2h0.75" stroke="#3a3a3a" stroke-width="0.75" opacity="1" fill="none"/>
<path d="M87.6 261.0h0.75M89.9 253.9h0.75M89.4 249.0h0.75M86.3 249.1h0.75M88.1 260.2h0.75M89.5 250.7h0.75M85.4 255.5h0.75M90.1 254.0h0.75M91.9 255.1h0.75M93.1 256.7h0.75M93.2 247.5h0.75M90.4 256.5h0.75M92.0 256.1h0.75M89.6 255.3h0.75M89.2 256.0h0.75M92.2 250.3h0.75M87.8 250.7h0.75M87.4 255.2h0.75M89.1 255.5h0.75M90.3 255.6h0.75M88.0 254.2h0.75M86.4 253.3h0.75M88.5 255.5h0.75M85.3 257.4h0.75M88.6 250.4h0.75M88.4 256.0h0.75M88.9 253.4h0.75M86.8 255.1h0.75M89.1 255.3h0.75M87.9 257.7h0.75M84.8 254.5h0.75M85.2 249.4h0.75M89.1 256.7h0.75M88.1 255.7h0.75M88.3 257.5h0.75M87.4 255.9h0.75M89.4 250.4h0.75M91.2 253.0h0.75M86.2 252.8h0.75M90.5 253.4h0.75M90.4 252.0h0.75M89.2 250.0h0.75M88.1 257.9h0.75M87.5 255.0h0.75M84.8 258.8h0.75M88.2 255.7h0.75M87.8 251.8h0.75M87.9 253.6h0.75M86.4 254.1h0.75M86.6 253.2h0.75M82.5 251.9h0.75M89.3 255.1h0.75M88.1 255.6h0.75M92.4 255.4h0.75M88.9 254.3h0.75M89.4 256.2h0.75M83.9 260.0h0.75M90.7 255.7h0.75M87.3 254.2h0.75M87.0 258.0h0.75M87.2 250.3h0.75M88.2 252.3h0.75M89.1 254.9h0.75M86.8 250.5h0.75M87.9 251.1h0.75M88.2 254.9h0.75M87.8 254.9h0.75M87.8 258.8h0.75M84.8 251.7h0.75M91.1 251.3h0.75M90.0 253.9h0.75M88.6 250.8h0.75M87.7 254.1h0.75M84.0 254.5h0.75M87.7 248.7h0.75M88.9 253.6h0.75M85.4 257.4h0.75M88.3 251.5h0.75M86.7 255.2h0.75M87.4 256.3h0.75M85.9 255.1h0.75M89.6 255.8h0.75M86.8 252.0h0.75M86.1 254.7h0.75M84.1 261.7h0.75M88.0 257.6h0.75M87.9 257.9h0.75M88.0 257.1h0.75M90.7 255.2h0.75M85.9 255.5h0.75M88.9 253.7h0.75M88.1 256.2h0.75M84.1 255.9h0.75M92.0 252.7h0.75M91.2 253.3h0.75M87.9 253.6h0.75M88.5 252.5h0.75M87.3 253.9h0.75M86.6 254.3h0.75M90.7 252.3h0.75M89.0 252.5h0.75M86.1 254.4h0.75M88.0 257.0h0.75M90.0 254.7h0.75M87.2 257.9h0.75M85.8 252.5h0.75M90.1 255.5h0.75M89.9 253.9h0.75M90.1 257.4h0.75M84.5 255.8h0.75M90.6 251.8h0.75M86.5 255.4h0.75M89.9 254.4h0.75M85.1 255.0h0.75M88.3 253.5h0.75M90.7 249.0h0.75M88.8 252.9h0.75M89.8 253.6h0.75M92.2 254.9h0.75M87.4 250.3h0.75M88.9 270.6h0.75M94.2 271.3h0.75M90.2 269.0h0.75M90.3 268.9h0.75M85.6 271.5h0.75M88.4 268.2h0.75M93.0 272.9h0.75M91.0 267.6h0.75M87.2 268.8h0.75M90.4 277.0h0.75M92.3 270.4h0.75M87.2 268.1h0.75M87.6 271.0h0.75M89.0 271.6h0.75M91.2 268.5h0.75M92.1 270.7h0.75M94.3 270.4h0.75M88.6 270.4h0.75M93.2 271.6h0.75M93.1 272.6h0.75M90.6 275.0h0.75M89.4 270.2h0.75M92.9 268.5h0.75M90.6 272.5h0.75M87.1 267.1h0.75M85.6 272.7h0.75M96.9 269.0h0.75M85.9 268.3h0.75M94.2 272.1h0.75M91.7 269.3h0.75M91.6 269.3h0.75M91.4 269.2h0.75M86.1 269.8h0.75M90.9 271.2h0.75M88.1 272.3h0.75M85.1 267.0h0.75M91.5 270.3h0.75M89.6 269.8h0.75M91.3 271.1h0.75M93.7 268.9h0.75M86.1 270.4h0.75M89.0 270.1h0.75M83.5 271.3h0.75M94.6 271.3h0.75M93.3 271.7h0.75M90.5 271.4h0.75M92.9 271.5h0.75M91.7 270.5h0.75M87.6 271.3h0.75M88.6 271.7h0.75M83.3 273.9h0.75M93.6 273.5h0.75M90.9 268.7h0.75M88.6 268.5h0.75M91.0 270.7h0.75M90.3 267.2h0.75M85.5 266.5h0.75M93.9 271.6h0.75M90.0 270.0h0.75M84.6 269.9h0.75M88.6 269.1h0.75M92.7 266.9h0.75M90.3 272.1h0.75M92.2 267.8h0.75M81.7 273.2h0.75M94.0 270.3h0.75M89.1 271.3h0.75M93.0 270.9h0.75M88.8 271.0h0.75M91.0 274.5h0.75M89.9 268.9h0.75M95.5 273.4h0.75M94.2 268.9h0.75M88.1 268.1h0.75M89.5 273.1h0.75M92.6 270.7h0.75M90.6 271.5h0.75M89.5 268.7h0.75M87.9 273.7h0.75M87.1 268.5h0.75M91.6 270.0h0.75M88.9 270.9h0.75M89.5 267.6h0.75M92.7 271.0h0.75M95.0 272.2h0.75M88.2 269.8h0.75M87.8 266.5h0.75M92.1 269.4h0.75M92.8 271.0h0.75M89.6 273.7h0.75M87.2 273.9h0.75M88.8 274.7h0.75M93.4 269.7h0.75M95.2 271.4h0.75M91.0 269.9h0.75M89.8 269.9h0.75M89.0 272.1h0.75M92.4 273.0h0.75M93.5 270.5h0.75M92.2 270.2h0.75M91.7 271.8h0.75M91.1 269.2h0.75M86.5 273.8h0.75M87.7 269.5h0.75M91.1 269.9h0.75M91.3 273.2h0.75M85.4 270.8h0.75M91.8 268.0h0.75M92.2 273.4h0.75M90.1 271.5h0.75M89.1 272.5h0.75M88.5 270.7h0.75M88.0 269.3h0.75M93.4 270.6h0.75M92.7 267.7h0.75M86.5 269.0h0.75M95.6 272.8h0.75M96.6 269.8h0.75M91.8 271.3h0.75M89.3 271.8h0.75M89.9 271.6h0.75M84.8 268.7h0.75M87.1 273.8h0.75M92.6 268.9h0.75M91.5 269.6h0.75M86.7 268.9h0.75M98.8 270.8h0.75M89.8 273.0h0.75M90.9 268.6h0.75M96.4 274.8h0.75M92.4 269.1h0.75M89.9 270.9h0.75M86.8 275.6h0.75M90.1 269.6h0.75M89.2 270.1h0.75M82.6 270.9h0.75M93.5 271.1h0.75M91.3 270.5h0.75M84.9 271.8h0.75M92.1 268.7h0.75M86.7 269.6h0.75M86.1 266.0h0.75M88.8 269.6h0.75M90.4 272.9h0.75M87.4 267.8h0.75M89.7 271.9h0.75M94.3 272.4h0.75M90.4 270.8h0.75M84.9 272.0h0.75M92.3 270.5h0.75M89.1 271.4h0.75M91.3 271.6h0.75M91.3 267.8h0.75M88.4 267.6h0.75M92.4 275.5h0.75M87.7 270.4h0.75M90.8 269.3h0.75M95.0 271.0h0.75M96.4 274.9h0.75M91.5 269.3h0.75M93.9 270.2h0.75M87.6 270.3h0.75M93.4 269.2h0.75M89.4 272.3h0.75M89.2 272.3h0.75M93.6 269.7h0.75M86.5 268.5h0.75M93.8 271.7h0.75M90.3 269.9h0.75M93.2 269.8h0.75M98.1 271.3h0.75M85.3 272.6h0.75M90.8 270.6h0.75M89.5 272.9h0.75M88.6 273.6h0.75M87.8 272.3h0.75M85.6 272.4h0.75M87.1 270.2h0.75M92.2 269.2h0.75M91.6 270.7h0.75M93.9 272.3h0.75M90.7 270.3h0.75M87.4 273.3h0.75M89.3 268.3h0.75M87.6 267.2h0.75M87.4 269.8h0.75M90.7 272.4h0.75M92.4 267.3h0.75M88.6 271.8h0.75M91.0 270.6h0.75M87.7 272.0h0.75M89.7 270.2h0.75M89.6 270.2h0.75M90.9 272.7h0.75M90.2 269.5h0.75M89.6 270.4h0.75M91.4 272.1h0.75M94.8 272.3h0.75M85.0 269.1h0.75M86.3 271.2h0.75M96.9 271.5h0.75M88.3 273.2h0.75M91.8 269.1h0.75M87.1 273.4h0.75M92.2 266.8h0.75M87.8 271.7h0.75M86.0 270.6h0.75M87.4 267.5h0.75M88.4 269.6h0.75M90.8 267.5h0.75M90.7 270.0h0.75M85.2 272.9h0.75M88.6 271.4h0.75M94.6 271.4h0.75M92.7 271.0h0.75M88.2 271.0h0.75M85.3 271.5h0.75M92.4 271.4h0.75M87.9 268.4h0.75M87.7 270.1h0.75M85.7 274.2h0.75M87.5 270.9h0.75M88.5 270.9h0.75M83.6 268.7h0.75M89.8 270.6h0.75M91.1 269.6h0.75M92.4 271.0h0.75M89.8 270.7h0.75M93.1 270.6h0.75M94.5 270.9h0.75M90.6 270.6h0.75M90.8 271.5h0.75M88.1 272.1h0.75M97.5 271.6h0.75M90.3 269.2h0.75M87.7 269.1h0.75M90.7 269.4h0.75M94.7 269.9h0.75M87.3 269.0h0.75M89.6 270.4h0.75M92.7 269.3h0.75M90.9 272.4h0.75M89.1 267.4h0.75M90.6 272.5h0.75M91.1 270.7h0.75M84.2 273.6h0.75M89.4 268.4h0.75M88.9 270.9h0.75M90.0 269.0h0.75M97.0 272.9h0.75M92.9 271.8h0.75M88.7 268.5h0.75M86.1 272.6h0.75M90.1 273.7h0.75M83.2 273.1h0.75M91.3 269.6h0.75M92.5 269.4h0.75M89.1 271.6h0.75M90.4 271.2h0.75M90.5 272.5h0.75M87.4 266.9h0.75M87.2 266.2h0.75M95.7 269.4h0.75M89.8 271.3h0.75M87.6 269.7h0.75M90.7 270.7h0.75M92.3 270.2h0.75M87.9 267.9h0.75M84.9 271.1h0.75M90.8 269.9h0.75M93.5 265.6h0.75M91.8 268.4h0.75M88.9 270.2h0.75M87.7 270.1h0.75M90.7 275.1h0.75M89.9 272.0h0.75M92.3 268.9h0.75M91.3 269.9h0.75M92.6 269.6h0.75M93.1 269.0h0.75M88.5 272.2h0.75M92.9 272.2h0.75M95.8 272.5h0.75M89.9 272.4h0.75M87.4 272.1h0.75M91.1 270.4h0.75M87.7 272.6h0.75M83.9 270.3h0.75M85.7 270.0h0.75M88.6 269.1h0.75M88.1 271.2h0.75M95.8 273.9h0.75M89.3 269.9h0.75M91.7 269.1h0.75M85.5 272.4h0.75M88.7 273.5h0.75M90.9 267.9h0.75M90.8 271.5h0.75M90.1 268.1h0.75M85.4 274.1h0.75M81.5 268.9h0.75M92.3 274.0h0.75M91.8 270.6h0.75M91.0 272.7h0.75M88.3 273.0h0.75M90.6 271.0h0.75M91.2 271.2h0.75M87.1 273.5h0.75M88.4 270.1h0.75M82.9 267.6h0.75M91.6 270.5h0.75M89.6 269.9h0.75M91.7 269.4h0.75M85.5 267.6h0.75M87.5 271.2h0.75M94.2 271.7h0.75M87.9 268.2h0.75M92.4 271.6h0.75M89.7 271.8h0.75M91.7 271.6h0.75M93.9 267.8h0.75M88.0 269.6h0.75M86.9 274.3h0.75M91.0 271.4h0.75M92.3 270.2h0.75M92.4 270.3h0.75M92.1 271.7h0.75M93.8 267.8h0.75M87.2 269.2h0.75M87.4 271.3h0.75M92.8 270.0h0.75M93.1 272.3h0.75M88.1 271.9h0.75M94.2 269.7h0.75M83.4 271.7h0.75M90.8 271.8h0.75M91.4 270.5h0.75M89.9 269.1h0.75M95.7 273.5h0.75M89.5 269.1h0.75M91.2 273.6h0.75M90.0 269.1h0.75M92.7 271.1h0.75M87.5 270.2h0.75M90.4 268.6h0.75M90.8 273.0h0.75M93.1 273.0h0.75M92.2 270.5h0.75M91.8 272.9h0.75M90.1 271.6h0.75M88.1 270.7h0.75M88.5 268.7h0.75M91.1 274.8h0.75M84.9 269.8h0.75M90.5 269.3h0.75M90.4 272.2h0.75M85.1 270.5h0.75M91.7 271.7h0.75M95.4 271.0h0.75M93.6 269.6h0.75M87.3 269.7h0.75M88.7 272.3h0.75M92.2 270.7h0.75M87.3 270.9h0.75M88.7 270.0h0.75M84.8 273.6h0.75M91.7 276.2h0.75M97.9 270.8h0.75M96.5 269.9h0.75M98.2 270.6h0.75M84.5 270.7h0.75M92.3 273.9h0.75M92.9 274.0h0.75M90.5 267.8h0.75M90.4 269.0h0.75M92.5 266.7h0.75M87.1 268.5h0.75M90.3 272.6h0.75M89.1 268.2h0.75M88.5 270.4h0.75M93.4 270.9h0.75M94.1 265.4h0.75M95.3 274.8h0.75M88.4 275.8h0.75M85.4 272.4h0.75M86.1 269.5h0.75M91.5 271.1h0.75M90.9 270.3h0.75M84.5 267.6h0.75M87.4 268.8h0.75M88.6 267.5h0.75M89.6 271.6h0.75M88.5 273.2h0.75M90.6 272.4h0.75M87.3 271.1h0.75M85.7 267.1h0.75M84.8 269.9h0.75M90.7 274.7h0.75M90.9 270.0h0.75M93.1 270.9h0.75M90.0 270.9h0.75M92.9 273.7h0.75M85.7 270.9h0.75M88.6 270.7h0.75M97.0 270.3h0.75M82.6 272.3h0.75M88.6 268.9h0.75M96.6 274.5h0.75M93.0 271.2h0.75M87.8 273.4h0.75M89.2 271.1h0.75M89.4 271.0h0.75M84.0 268.4h0.75M86.1 266.6h0.75M86.5 269.7h0.75M89.4 270.5h0.75M88.7 272.7h0.75M83.8 269.7h0.75M89.3 269.0h0.75M94.1 270.5h0.75M93.3 271.7h0.75M89.2 272.5h0.75M85.6 268.4h0.75M88.8 266.1h0.75M88.7 270.3h0.75M84.7 268.7h0.75M86.1 275.2h0.75M93.7 271.8h0.75M90.6 273.2h0.75M90.3 273.0h0.75M92.6 274.7h0.75M93.2 269.6h0.75M91.8 272.8h0.75M92.0 274.8h0.75M90.8 269.9h0.75M92.6 272.9h0.75M89.9 271.7h0.75M90.4 271.2h0.75M91.1 269.9h0.75M92.2 271.4h0.75M95.2 271.2h0.75M90.3 268.4h0.75M96.8 270.2h0.75M88.5 270.2h0.75M90.0 270.5h0.75M95.1 269.8h0.75M89.3 269.8h0.75M91.8 267.6h0.75M93.0 270.0h0.75M85.7 273.5h0.75M86.0 272.0h0.75M90.0 269.4h0.75M85.0 269.3h0.75M92.3 270.5h0.75M88.3 272.5h0.75M90.1 270.8h0.75M87.4 268.1h0.75M88.6 271.2h0.75M88.7 271.2h0.75M89.2 270.2h0.75M89.8 271.3h0.75M83.3 270.6h0.75M89.4 269.8h0.75M92.9 272.8h0.75M93.4 272.0h0.75M91.3 270.9h0.75M92.2 269.4h0.75M89.6 271.3h0.75M89.5 268.3h0.75M89.7 269.9h0.75M88.0 271.8h0.75M93.2 270.8h0.75M86.5 270.3h0.75M89.4 268.7h0.75M88.1 270.9h0.75M88.2 271.5h0.75M86.0 271.9h0.75M87.9 270.9h0.75M90.0 269.7h0.75M93.1 267.3h0.75M90.6 271.8h0.75M89.2 270.5h0.75M86.5 270.5h0.75M90.5 269.5h0.75M90.0 269.9h0.75M86.9 270.5h0.75M87.6 272.3h0.75M87.6 273.2h0.75M89.9 270.6h0.75M87.7 271.4h0.75M86.9 267.7h0.75M91.2 266.7h0.75M93.4 269.6h0.75M94.7 271.1h0.75M94.9 267.9h0.75M88.6 271.1h0.75M88.3 270.7h0.75M89.5 271.9h0.75M94.2 266.6h0.75M91.8 268.5h0.75M94.9 267.8h0.75M87.4 271.6h0.75M89.4 271.9h0.75M91.1 269.2h0.75M85.0 272.8h0.75M89.3 270.4h0.75M89.0 270.1h0.75M87.7 270.7h0.75M90.7 268.3h0.75M85.2 271.6h0.75M92.6 269.6h0.75M89.4 269.7h0.75M91.2 270.5h0.75M88.3 269.2h0.75M91.3 271.3h0.75M88.6 271.3h0.75M80.6 269.8h0.75M90.5 266.8h0.75M88.2 271.0h0.75M93.8 271.3h0.75M86.2 272.3h0.75M89.1 272.1h0.75M85.7 267.5h0.75M85.1 271.7h0.75M93.5 271.1h0.75M90.5 270.4h0.75M90.5 268.7h0.75M93.7 272.1h0.75M92.9 270.4h0.75M92.5 272.4h0.75M97.6 272.6h0.75M87.7 269.1h0.75M92.6 271.5h0.75M91.6 270.7h0.75M87.5 270.9h0.75M85.5 271.1h0.75M96.9 272.0h0.75M87.3 269.0h0.75M97.3 271.8h0.75M88.4 271.7h0.75M89.0 268.6h0.75M90.4 271.5h0.75M93.9 268.3h0.75M94.4 270.2h0.75M83.9 272.4h0.75M93.0 271.6h0.75M92.5 268.9h0.75M91.5 267.6h0.75M88.0 275.3h0.75M95.0 271.3h0.75M91.5 270.8h0.75M91.9 271.0h0.75M87.1 269.9h0.75M84.1 269.0h0.75M89.5 271.3h0.75M96.8 267.6h0.75M96.4 269.8h0.75M88.7 270.5h0.75M96.7 268.6h0.75M88.8 271.6h0.75M92.9 271.3h0.75M90.3 272.4h0.75M87.0 273.5h0.75M88.5 271.3h0.75M87.1 269.5h0.75M93.0 271.7h0.75M89.4 272.1h0.75M99.8 266.1h0.75M83.7 271.0h0.75M84.7 272.5h0.75M87.4 270.6h0.75M87.4 274.4h0.75M94.7 267.5h0.75M92.0 270.0h0.75M94.5 271.2h0.75M87.7 269.8h0.75M90.1 273.8h0.75M90.3 269.6h0.75M88.8 272.2h0.75M89.0 273.9h0.75M92.7 270.9h0.75M90.3 270.0h0.75M82.7 272.8h0.75M94.6 270.2h0.75M90.8 268.1h0.75M89.4 271.0h0.75M89.7 270.7h0.75M93.0 271.9h0.75M92.4 269.5h0.75M88.4 270.6h0.75M85.1 267.9h0.75M91.0 270.6h0.75M90.2 272.8h0.75M83.4 271.4h0.75M89.3 268.2h0.75M92.0 273.2h0.75M85.4 270.7h0.75M93.0 270.7h0.75M88.6 272.4h0.75M84.7 270.5h0.75M88.0 270.5h0.75M86.1 271.0h0.75M93.8 271.5h0.75M86.0 269.7h0.75M87.7 267.9h0.75M92.2 271.6h0.75M89.4 273.4h0.75M92.2 269.5h0.75M90.1 270.4h0.75M90.0 273.1h0.75M93.9 268.8h0.75M96.0 267.7h0.75M89.2 275.1h0.75M92.1 272.8h0.75M90.4 271.6h0.75M88.0 273.4h0.75M89.4 269.7h0.75M85.4 274.7h0.75M85.4 268.7h0.75M91.5 270.7h0.75" stroke="#000" stroke-width="0.75" opacity="1" fill="none"/>
<rect x="43.2" y="222.5" width="63.0" height="61.8" fill="none" stroke="#444" stroke-width="0.8"/>
<line x1="76.0" y1="222.5" x2="76.0" y2="284.3" stroke="#444" stroke-width="0.7000000000000001"/>
<line x1="43.2" y1="262.3" x2="106.2" y2="262.3" stroke="#444" stroke-width="0.7000000000000001"/>
<rect x="86.9" y="223.1" width="18.4" height="5.2" fill="#fff" opacity="0.85"/>
<rect x="86.9" y="278.5" width="18.4" height="5.2" fill="#fff" opacity="0.85"/>
<text font-size="6.5" transform="translate(44.1 227.6) scale(1.13 1)" fill="#111">0.00</text>
<text font-size="6.5" transform="translate(105.7 227.6) scale(1.13 1)" text-anchor="end" fill="#111">31.68</text>
<text font-size="6.5" transform="translate(44.1 283.5) scale(1.13 1)" fill="#111">0.00</text>
<text font-size="6.5" transform="translate(105.7 283.5) scale(1.13 1)" text-anchor="end" fill="#111">68.32</text>
<text font-size="3.7" x="40.6" y="290.3" font-weight="bold" fill="#333">10<tspan dy="-1.3" font-size="3.0">0</tspan></text>
<text font-size="3.7" x="56.4" y="290.3" font-weight="bold" fill="#333">10<tspan dy="-1.3" font-size="3.0">1</tspan></text>
<text font-size="3.7" x="72.1" y="290.3" font-weight="bold" fill="#333">10<tspan dy="-1.3" font-size="3.0">2</tspan></text>
<text font-size="3.7" x="87.9" y="290.3" font-weight="bold" fill="#333">10<tspan dy="-1.3" font-size="3.0">3</tspan></text>
<path d="M151.1 273.1h0.75M158.4 261.0h0.75M154.0 260.3h0.75M160.2 264.0h0.75M155.3 257.8h0.75M162.1 272.0h0.75M156.1 265.9h0.75M162.6 262.8h0.75M153.4 262.8h0.75M159.0 252.1h0.75M158.8 260.9h0.75M154.6 275.3h0.75M160.2 253.9h0.75M165.1 256.9h0.75M153.0 253.2h0.75M164.4 250.0h0.75M160.3 264.2h0.75M155.4 267.9h0.75M164.2 258.9h0.75M158.5 266.4h0.75M158.9 271.4h0.75M162.7 260.6h0.75M159.8 257.6h0.75M162.2 254.3h0.75M158.3 251.2h0.75M171.7 259.6h0.75M158.8 264.7h0.75M149.4 275.3h0.75M149.5 268.7h0.75M156.4 267.7h0.75M162.1 262.1h0.75M164.1 257.0h0.75M159.9 258.2h0.75M154.8 253.6h0.75M160.6 274.1h0.75M153.9 258.5h0.75M154.7 265.3h0.75M147.5 265.6h0.75M154.5 254.3h0.75M159.9 262.3h0.75M160.1 270.3h0.75M150.8 272.2h0.75M161.5 279.6h0.75M166.1 263.0h0.75M147.8 266.2h0.75M167.0 265.2h0.75M158.1 251.4h0.75M158.8 249.3h0.75M154.2 259.1h0.75M160.8 255.4h0.75M158.2 261.0h0.75M160.0 265.5h0.75M161.2 258.0h0.75M159.4 255.8h0.75M151.8 258.4h0.75M158.4 244.9h0.75M162.8 262.7h0.75M149.9 255.3h0.75M153.6 244.3h0.75M148.9 267.2h0.75M147.5 281.8h0.75M166.3 271.3h0.75M161.3 269.6h0.75M165.9 251.2h0.75M167.3 252.2h0.75M156.6 240.6h0.75M156.7 247.8h0.75M171.1 260.4h0.75M163.5 255.7h0.75M163.7 263.9h0.75M156.4 266.0h0.75M156.2 251.4h0.75M147.3 251.2h0.75M161.8 275.8h0.75M155.9 256.9h0.75M165.8 257.7h0.75M160.4 260.6h0.75M145.0 254.0h0.75M160.3 261.3h0.75M157.0 250.7h0.75M159.3 258.5h0.75M153.0 260.8h0.75M159.9 277.9h0.75M164.7 251.9h0.75M162.9 247.1h0.75M145.4 258.5h0.75M169.3 263.9h0.75M154.6 265.4h0.75M146.9 262.8h0.75M153.1 252.5h0.75M156.3 255.2h0.75M160.3 250.3h0.75M160.7 264.0h0.75M163.1 264.9h0.75M162.4 268.4h0.75M165.6 267.6h0.75M165.1 248.4h0.75M157.1 273.3h0.75M155.1 268.0h0.75M164.5 270.2h0.75M155.1 264.0h0.75M157.8 266.5h0.75M147.8 263.5h0.75M165.1 259.0h0.75M164.2 270.9h0.75M159.4 257.4h0.75M155.4 252.2h0.75M156.1 260.2h0.75M163.9 253.9h0.75M154.6 261.7h0.75M157.3 271.7h0.75M158.7 272.5h0.75M159.0 239.6h0.75M157.5 252.3h0.75M158.6 253.5h0.75M163.7 257.2h0.75M156.5 278.6h0.75M156.7 257.7h0.75M156.6 267.6h0.75M159.9 260.9h0.75M165.1 254.2h0.75M162.7 266.6h0.75M160.3 256.5h0.75M157.8 270.3h0.75M143.3 277.7h0.75M153.3 270.2h0.75M161.5 263.6h0.75M161.5 256.2h0.75M167.7 258.8h0.75M163.2 258.0h0.75M156.7 270.4h0.75M153.1 262.3h0.75M153.9 249.4h0.75M164.1 259.6h0.75M148.2 263.5h0.75M171.7 265.8h0.75M157.3 264.3h0.75M157.0 263.4h0.75M157.9 262.8h0.75M156.0 268.8h0.75M151.9 249.0h0.75M149.1 258.2h0.75M159.2 265.5h0.75M163.0 247.2h0.75M149.8 268.7h0.75M168.6 263.2h0.75M157.8 269.7h0.75M167.8 266.5h0.75M159.7 258.2h0.75M155.5 258.4h0.75M151.8 265.9h0.75M164.4 257.0h0.75M162.9 265.3h0.75M157.9 260.8h0.75M167.0 252.5h0.75M154.7 258.8h0.75M154.3 266.9h0.75M162.0 257.8h0.75M162.2 245.4h0.75M159.2 280.2h0.75M164.0 251.1h0.75M163.5 254.3h0.75M162.0 265.7h0.75M150.6 278.4h0.75M150.8 259.7h0.75M162.5 264.9h0.75M159.8 258.1h0.75M163.1 262.8h0.75M156.8 270.8h0.75M167.4 253.7h0.75M156.4 253.2h0.75M151.9 264.5h0.75M164.0 247.8h0.75M157.3 264.2h0.75M155.3 269.2h0.75M162.0 259.7h0.75M165.2 262.1h0.75M164.8 264.3h0.75M157.2 273.9h0.75M154.8 265.3h0.75M156.8 254.9h0.75M151.4 272.8h0.75M166.2 267.9h0.75M147.6 269.7h0.75M159.3 265.9h0.75M160.2 265.6h0.75M161.3 269.3h0.75M159.5 256.5h0.75M146.3 267.2h0.75M146.8 259.9h0.75M158.5 260.2h0.75M154.4 276.7h0.75M150.7 273.3h0.75M157.0 260.6h0.75M159.0 264.9h0.75M148.9 268.1h0.75M157.7 261.2h0.75M158.8 260.1h0.75M164.8 252.2h0.75M154.4 266.5h0.75M157.5 269.0h0.75M142.7 263.8h0.75M159.1 275.5h0.75M164.3 251.9h0.75M164.6 252.6h0.75M160.4 257.6h0.75M150.9 270.0h0.75M161.8 257.6h0.75M153.9 256.2h0.75M157.8 270.4h0.75M156.1 261.4h0.75M156.4 251.8h0.75M156.5 256.6h0.75M165.3 260.6h0.75M165.8 258.4h0.75M159.5 272.2h0.75M161.2 261.0h0.75M161.3 263.1h0.75M165.0 254.3h0.75M156.0 254.7h0.75M165.4 264.4h0.75M156.9 266.2h0.75M169.3 264.4h0.75M158.2 253.6h0.75M161.8 281.3h0.75M165.2 256.8h0.75M150.0 271.5h0.75M153.9 259.3h0.75M170.7 254.3h0.75M157.3 282.9h0.75M168.1 239.3h0.75M163.0 257.8h0.75M159.6 255.9h0.75M160.3 265.9h0.75M156.9 268.1h0.75M162.8 250.5h0.75M168.7 259.5h0.75M163.5 271.3h0.75M158.5 280.7h0.75M153.7 254.0h0.75M156.7 276.6h0.75M167.6 265.2h0.75M153.3 259.6h0.75M157.5 262.3h0.75M152.3 263.3h0.75M156.0 265.5h0.75M153.3 258.3h0.75M159.4 266.3h0.75M159.1 262.4h0.75M157.8 256.4h0.75M156.2 254.8h0.75M161.6 263.4h0.75M157.7 254.4h0.75M156.4 260.4h0.75M164.3 256.7h0.75M159.8 255.4h0.75M162.2 257.8h0.75M153.9 247.0h0.75M156.7 258.7h0.75M165.0 249.0h0.75M155.2 252.1h0.75M162.9 261.9h0.75M156.5 266.5h0.75M159.4 256.9h0.75M158.3 265.9h0.75M163.7 273.6h0.75M160.1 261.1h0.75M159.1 254.3h0.75M157.6 265.8h0.75M156.4 259.3h0.75M151.5 267.9h0.75M164.4 259.3h0.75M159.5 262.3h0.75M158.8 259.2h0.75M164.0 277.4h0.75M164.2 261.8h0.75M156.5 251.8h0.75M164.2 257.8h0.75M161.7 256.0h0.75M144.9 281.6h0.75M151.8 267.8h0.75M165.0 246.0h0.75M159.5 259.9h0.75M150.0 277.4h0.75M155.8 266.0h0.75M158.7 276.0h0.75M153.5 259.4h0.75M160.1 266.3h0.75M158.5 270.1h0.75M164.9 262.5h0.75M151.0 255.7h0.75M149.6 259.8h0.75M163.5 272.5h0.75M159.7 267.7h0.75M156.4 259.4h0.75M162.6 246.7h0.75M157.5 254.4h0.75M160.0 265.3h0.75M159.7 271.6h0.75M159.1 270.9h0.75M159.9 244.4h0.75M158.4 254.0h0.75M156.5 242.6h0.75M157.2 258.7h0.75M152.4 261.0h0.75M163.0 260.3h0.75M162.3 252.9h0.75M168.0 251.0h0.75M151.8 264.6h0.75M161.8 270.4h0.75M162.6 267.5h0.75M150.1 265.0h0.75M155.2 244.8h0.75M166.7 249.2h0.75M162.1 266.7h0.75M156.8 253.6h0.75M165.8 258.9h0.75M159.4 261.8h0.75M160.4 265.4h0.75M159.5 268.6h0.75M158.3 250.4h0.75M154.2 266.7h0.75M153.6 264.2h0.75M162.7 254.6h0.75M158.4 251.1h0.75M151.7 266.9h0.75M159.7 251.9h0.75M156.2 256.2h0.75M156.7 256.5h0.75M155.8 279.6h0.75M155.8 251.3h0.75M156.3 271.4h0.75M157.4 266.6h0.75M156.7 258.3h0.75M166.5 260.8h0.75M155.4 267.5h0.75M150.9 251.4h0.75M156.9 258.1h0.75M159.0 251.0h0.75M160.9 258.7h0.75M157.1 264.0h0.75M156.6 269.8h0.75M153.7 264.8h0.75M157.6 243.1h0.75M153.1 258.6h0.75M160.9 250.0h0.75M155.3 258.0h0.75M150.6 259.0h0.75M163.7 266.9h0.75M152.8 256.5h0.75M154.5 245.1h0.75M170.7 251.5h0.75M160.1 256.5h0.75M156.8 249.3h0.75M152.6 261.3h0.75M154.6 267.4h0.75M155.4 264.9h0.75M161.2 250.6h0.75M165.0 257.4h0.75M171.8 252.6h0.75M164.0 265.0h0.75M150.1 250.9h0.75M150.4 269.8h0.75M158.4 268.4h0.75M152.4 268.7h0.75M158.2 265.7h0.75M161.8 260.8h0.75M165.9 247.7h0.75M156.3 269.7h0.75M152.7 268.4h0.75M158.6 263.2h0.75M145.3 257.8h0.75M162.1 250.4h0.75M162.7 265.3h0.75M142.3 266.6h0.75M152.2 254.3h0.75M149.6 265.9h0.75M165.2 278.9h0.75M166.3 254.9h0.75M149.4 272.0h0.75" stroke="#888" stroke-width="0.75" opacity="1" fill="none"/>
<path d="M165.2 267.9h0.75M156.9 269.0h0.75M164.5 265.0h0.75M156.1 272.8h0.75M164.0 268.9h0.75M156.8 268.2h0.75M161.7 268.7h0.75M164.2 263.4h0.75M164.3 263.6h0.75M154.5 267.8h0.75M156.8 272.0h0.75M166.0 273.0h0.75M156.0 269.4h0.75M166.6 260.8h0.75M163.9 272.8h0.75M164.8 264.3h0.75M159.1 268.6h0.75M156.0 265.7h0.75M165.7 263.7h0.75M165.2 263.2h0.75M155.4 261.9h0.75M146.3 277.3h0.75M156.2 267.7h0.75M164.1 262.3h0.75M159.6 271.5h0.75M163.9 271.5h0.75M158.9 263.4h0.75M159.7 269.6h0.75M154.1 268.4h0.75M159.5 274.9h0.75M156.1 266.4h0.75M158.6 266.3h0.75M159.9 266.3h0.75M153.1 267.5h0.75M149.4 276.0h0.75M166.9 265.7h0.75M160.7 269.9h0.75M161.3 264.8h0.75M155.0 271.8h0.75M158.2 269.7h0.75M157.5 271.3h0.75M158.8 269.0h0.75M162.7 260.9h0.75M164.5 270.9h0.75M157.1 263.6h0.75M161.7 264.7h0.75M154.4 274.3h0.75M159.0 264.8h0.75M152.8 271.0h0.75M161.4 268.8h0.75M153.6 267.4h0.75M159.5 266.8h0.75M160.0 266.8h0.75M159.4 268.6h0.75M163.0 271.2h0.75M159.4 261.7h0.75M167.2 261.3h0.75M160.9 271.4h0.75M162.9 271.3h0.75M159.7 274.9h0.75M162.4 262.1h0.75M163.5 266.0h0.75M165.3 264.3h0.75M164.1 262.8h0.75M158.2 268.0h0.75M165.7 263.9h0.75M161.4 271.0h0.75M150.1 275.4h0.75M159.1 268.8h0.75M169.9 265.1h0.75M163.5 271.0h0.75M167.4 269.8h0.75M156.4 270.0h0.75M152.0 266.1h0.75M158.0 267.4h0.75M156.7 266.4h0.75M168.6 261.5h0.75M162.4 263.3h0.75M161.3 264.9h0.75M150.7 264.0h0.75M165.8 270.3h0.75M158.1 267.8h0.75M161.4 262.6h0.75M163.0 276.5h0.75M157.3 263.4h0.75M156.6 268.8h0.75M158.0 273.9h0.75M162.9 265.3h0.75M160.9 266.2h0.75M155.5 273.9h0.75M158.7 266.4h0.75M167.1 265.1h0.75M164.9 258.3h0.75M163.3 263.5h0.75M157.6 271.4h0.75M168.9 258.3h0.75M166.7 265.2h0.75M157.1 271.9h0.75M158.9 266.4h0.75M158.4 267.6h0.75M156.9 272.1h0.75M168.4 262.8h0.75M156.1 268.5h0.75M155.6 269.4h0.75M160.4 267.8h0.75M155.7 270.0h0.75M152.9 268.5h0.75M158.8 268.3h0.75M164.0 266.2h0.75M154.3 270.7h0.75M158.9 270.6h0.75M168.3 270.5h0.75M159.5 264.9h0.75M160.8 267.1h0.75M155.7 264.2h0.75M165.7 263.3h0.75M165.0 269.9h0.75M154.7 270.6h0.75M159.2 263.5h0.75M156.3 269.3h0.75M164.6 264.4h0.75M158.5 271.6h0.75M157.5 266.4h0.75M151.6 271.4h0.75M155.9 265.9h0.75M157.2 266.2h0.75M163.6 262.9h0.75M164.1 267.9h0.75M157.6 275.6h0.75M154.6 265.8h0.75M144.5 264.6h0.75M155.8 268.7h0.75M163.7 266.6h0.75M155.5 266.0h0.75M168.1 264.3h0.75M168.7 265.3h0.75M157.6 267.3h0.75M162.2 269.8h0.75M157.6 270.1h0.75M152.8 264.5h0.75M151.2 268.7h0.75M156.1 271.1h0.75M157.7 267.1h0.75M158.0 263.7h0.75M153.0 275.8h0.75M162.6 262.6h0.75M153.1 270.8h0.75M148.0 263.7h0.75M157.1 266.8h0.75M163.6 263.5h0.75M152.8 271.1h0.75M154.5 269.8h0.75M149.6 269.4h0.75M169.1 260.9h0.75M159.2 267.7h0.75M160.2 267.3h0.75M163.4 264.8h0.75M154.6 269.9h0.75M160.7 261.9h0.75M163.4 265.7h0.75M164.6 266.6h0.75M153.0 268.5h0.75M163.1 270.3h0.75M158.6 270.2h0.75M166.5 267.1h0.75M167.1 268.1h0.75M154.6 265.3h0.75M155.2 274.5h0.75M165.7 263.5h0.75M159.4 274.6h0.75M155.3 269.1h0.75M157.7 271.2h0.75M149.7 271.6h0.75M160.5 271.4h0.75M161.8 268.6h0.75M154.6 270.2h0.75M156.9 274.4h0.75M161.3 267.7h0.75M160.4 268.0h0.75M157.5 270.6h0.75M159.5 265.2h0.75M164.2 269.2h0.75M165.5 265.2h0.75M164.5 271.5h0.75M163.0 268.4h0.75M159.4 263.1h0.75M154.3 269.2h0.75M165.1 268.3h0.75M156.8 269.4h0.75M159.0 265.9h0.75M159.4 270.8h0.75M153.7 268.3h0.75M159.4 264.9h0.75M154.8 270.7h0.75M170.8 265.3h0.75M156.9 273.8h0.75M160.4 261.8h0.75M156.7 262.6h0.75M158.0 273.1h0.75M170.2 275.7h0.75M164.8 265.6h0.75M156.3 267.7h0.75M154.0 266.6h0.75M161.5 268.0h0.75M160.6 267.3h0.75M151.9 271.8h0.75M159.7 270.6h0.75M160.5 264.7h0.75M164.6 269.2h0.75M158.3 270.7h0.75M162.0 265.9h0.75M160.8 265.3h0.75M166.6 264.8h0.75M164.6 272.4h0.75M160.0 270.1h0.75M167.3 260.1h0.75M170.8 267.1h0.75M153.3 270.2h0.75M170.8 265.5h0.75M166.8 269.5h0.75M156.3 270.1h0.75M168.7 263.2h0.75M160.2 266.2h0.75M156.9 268.2h0.75M148.6 269.0h0.75M150.8 267.4h0.75M156.7 272.1h0.75M154.0 272.3h0.75M157.5 266.2h0.75M150.9 270.9h0.75M159.2 270.7h0.75M156.4 262.4h0.75M162.5 271.6h0.75M159.8 268.4h0.75M162.2 268.2h0.75M173.1 264.2h0.75M162.3 270.2h0.75M162.4 262.0h0.75M161.7 266.5h0.75M154.5 272.4h0.75M156.2 270.3h0.75M156.0 270.9h0.75M166.6 263.6h0.75M155.6 272.1h0.75M155.0 272.6h0.75M161.7 264.7h0.75M156.8 273.0h0.75M164.1 267.4h0.75M160.8 271.2h0.75M156.5 270.0h0.75M162.1 271.7h0.75M157.8 268.0h0.75M161.1 267.1h0.75M158.4 270.2h0.75M157.1 267.9h0.75M161.0 268.1h0.75M157.8 268.3h0.75M153.4 267.4h0.75M156.0 265.6h0.75M167.5 272.7h0.75M158.4 268.1h0.75M159.0 267.2h0.75M156.7 271.7h0.75M162.4 263.3h0.75M160.8 265.2h0.75M162.9 264.9h0.75M161.2 265.4h0.75M158.7 269.5h0.75M163.2 262.8h0.75M156.8 266.3h0.75M150.9 271.2h0.75M158.5 267.5h0.75M155.4 274.8h0.75M155.1 261.1h0.75M157.8 269.5h0.75M154.1 269.1h0.75M147.7 270.4h0.75M159.9 265.1h0.75M153.9 266.3h0.75M156.9 272.1h0.75M160.2 266.0h0.75M157.1 271.2h0.75M156.1 266.2h0.75M163.6 267.0h0.75M166.4 265.6h0.75M158.0 269.8h0.75M160.6 268.0h0.75M154.7 267.3h0.75M155.7 267.6h0.75M166.3 263.5h0.75M162.0 268.8h0.75M151.6 273.4h0.75M160.8 268.9h0.75M160.6 270.9h0.75M161.6 265.5h0.75M156.4 266.2h0.75M155.6 266.5h0.75M160.8 270.8h0.75M158.6 271.6h0.75M165.4 268.7h0.75M151.1 262.2h0.75M165.2 268.2h0.75M152.3 267.7h0.75M160.8 267.7h0.75M152.9 269.7h0.75M152.0 269.3h0.75M162.8 268.1h0.75M156.6 270.8h0.75M169.6 264.6h0.75M160.3 263.4h0.75M163.7 262.0h0.75M158.5 271.2h0.75M162.7 257.0h0.75M155.4 261.6h0.75M158.1 263.9h0.75M171.2 268.8h0.75M154.5 268.4h0.75M159.9 271.0h0.75M166.8 268.3h0.75M153.0 259.9h0.75M151.6 266.5h0.75M163.6 262.8h0.75M166.3 268.8h0.75M160.0 270.6h0.75M155.9 272.3h0.75M160.1 266.1h0.75M155.5 262.6h0.75M157.9 270.2h0.75M157.5 267.2h0.75M168.5 274.7h0.75" stroke="#3a3a3a" stroke-width="0.75" opacity="1" fill="none"/>
<path d="M155.9 270.4h0.75M160.4 269.1h0.75M159.3 268.4h0.75M157.4 270.9h0.75M159.0 270.9h0.75M162.8 265.9h0.75M155.5 271.3h0.75M161.0 267.1h0.75M163.3 263.2h0.75M161.6 267.0h0.75M162.2 266.4h0.75M157.8 270.0h0.75M160.9 265.0h0.75M161.4 269.2h0.75M153.7 267.8h0.75M155.5 267.3h0.75M157.1 272.7h0.75M155.9 267.2h0.75M158.6 271.1h0.75M158.1 270.5h0.75M163.2 266.5h0.75M161.0 269.9h0.75M160.4 271.3h0.75M160.9 271.1h0.75M156.0 269.6h0.75M151.0 267.6h0.75M157.5 267.9h0.75M158.7 269.5h0.75M154.3 266.1h0.75M162.2 268.2h0.75M162.9 269.1h0.75M160.7 266.9h0.75M161.3 265.9h0.75M154.8 268.8h0.75M167.5 264.2h0.75M164.3 266.6h0.75M165.7 265.7h0.75M155.3 268.0h0.75M158.8 269.5h0.75M156.9 269.3h0.75M168.0 266.1h0.75M161.9 272.9h0.75M156.8 268.9h0.75M158.3 269.1h0.75M156.7 268.4h0.75M162.1 267.6h0.75M152.6 272.3h0.75M160.9 271.8h0.75M156.5 269.7h0.75M156.3 270.7h0.75M157.5 271.4h0.75M159.9 263.7h0.75M155.4 270.6h0.75M162.2 269.6h0.75M161.3 266.8h0.75M160.0 268.2h0.75M159.6 270.3h0.75M156.2 268.5h0.75M164.2 266.8h0.75M161.5 266.6h0.75M159.7 270.8h0.75M165.2 266.8h0.75M157.2 271.8h0.75M152.7 269.6h0.75M162.1 272.3h0.75M163.3 267.0h0.75M159.3 268.2h0.75M156.1 268.3h0.75M160.6 264.5h0.75M156.6 263.0h0.75M162.9 267.6h0.75M153.6 266.7h0.75M157.0 272.2h0.75M161.2 265.5h0.75M157.7 265.4h0.75M156.1 265.6h0.75M165.9 268.0h0.75M164.1 268.0h0.75M156.8 270.9h0.75M161.2 266.3h0.75M153.6 269.7h0.75M155.1 268.8h0.75M152.2 266.4h0.75M162.9 268.4h0.75M160.0 267.6h0.75M160.2 266.1h0.75M162.3 270.7h0.75M157.3 265.6h0.75M159.5 264.7h0.75M166.6 266.2h0.75M161.0 268.2h0.75M157.7 267.2h0.75M155.6 273.2h0.75M159.8 270.3h0.75M164.9 266.2h0.75M157.6 267.9h0.75M160.8 265.9h0.75M162.9 266.8h0.75M156.7 270.3h0.75M164.6 265.1h0.75M158.8 268.0h0.75M161.4 269.3h0.75M159.0 266.4h0.75M157.3 270.6h0.75M166.2 266.9h0.75M156.5 274.1h0.75M163.6 265.7h0.75M154.9 267.5h0.75M170.2 268.0h0.75M155.9 267.5h0.75M158.1 265.9h0.75M161.6 265.4h0.75M158.6 269.6h0.75M158.6 270.4h0.75M157.6 271.1h0.75M157.1 267.6h0.75M154.2 270.2h0.75M162.0 267.6h0.75M164.7 268.2h0.75M160.7 264.5h0.75M158.8 269.1h0.75M155.2 272.3h0.75M160.7 271.0h0.75M155.0 273.0h0.75M164.5 267.2h0.75M158.2 271.9h0.75M155.9 268.7h0.75M163.6 267.0h0.75M156.5 266.6h0.75M157.7 271.3h0.75M169.4 263.6h0.75M155.1 270.6h0.75M158.9 267.5h0.75M158.9 271.1h0.75M162.3 265.9h0.75M161.3 265.2h0.75M163.6 263.0h0.75M157.9 270.5h0.75M165.7 267.7h0.75M152.3 269.6h0.75M162.9 268.7h0.75M160.9 266.7h0.75M152.5 269.0h0.75M160.1 266.7h0.75M156.4 269.8h0.75M158.3 268.9h0.75M163.4 265.7h0.75M163.1 264.9h0.75M162.7 268.2h0.75M161.3 269.2h0.75M160.3 264.4h0.75M165.6 267.1h0.75M160.2 268.1h0.75M160.9 267.4h0.75M154.6 267.0h0.75M166.0 267.8h0.75M155.6 272.5h0.75M160.5 265.6h0.75M156.7 267.6h0.75M163.7 268.7h0.75M158.6 267.9h0.75M156.9 269.1h0.75M155.7 271.0h0.75M159.1 270.2h0.75M165.2 267.4h0.75M162.7 261.0h0.75M156.1 269.6h0.75M156.3 271.2h0.75M158.3 268.1h0.75M151.8 271.6h0.75M157.7 271.4h0.75M161.4 267.6h0.75M162.7 266.8h0.75M156.5 268.9h0.75M158.7 270.7h0.75M157.0 266.6h0.75M164.4 268.8h0.75M158.2 268.8h0.75M153.6 273.2h0.75M157.5 264.2h0.75M159.0 269.4h0.75M161.9 268.1h0.75M160.4 267.6h0.75M159.2 267.8h0.75M168.6 266.0h0.75M160.0 263.8h0.75M159.4 269.4h0.75M162.1 264.3h0.75M159.3 271.6h0.75M158.8 268.0h0.75M161.7 267.4h0.75M157.6 267.3h0.75M153.2 270.2h0.75M161.6 268.9h0.75M156.8 269.8h0.75M155.7 265.8h0.75M161.8 264.9h0.75M154.4 268.8h0.75M158.3 271.7h0.75M163.3 271.6h0.75M160.2 264.6h0.75M154.8 270.0h0.75M154.5 270.4h0.75M163.3 268.5h0.75M153.3 272.1h0.75M165.8 268.7h0.75M168.2 264.3h0.75M159.1 270.1h0.75M163.2 270.4h0.75M159.0 266.9h0.75M158.8 266.9h0.75M159.9 267.4h0.75M162.4 266.0h0.75M162.9 265.7h0.75M164.0 269.6h0.75M159.4 267.8h0.75M160.8 268.8h0.75M155.8 270.6h0.75M152.8 267.5h0.75M155.2 269.7h0.75M156.5 264.0h0.75M163.5 266.0h0.75M158.3 269.2h0.75M160.8 269.1h0.75M154.8 270.1h0.75M163.1 268.9h0.75M164.9 263.8h0.75M164.0 264.0h0.75M155.4 269.7h0.75M168.1 268.5h0.75M159.1 268.5h0.75M163.6 264.6h0.75M158.3 267.3h0.75M163.9 268.2h0.75M160.7 270.5h0.75M158.6 266.5h0.75M162.9 263.5h0.75M160.6 267.9h0.75M153.7 270.1h0.75M156.4 271.9h0.75M162.4 269.4h0.75M163.2 267.3h0.75M163.6 268.4h0.75M161.6 269.9h0.75M166.8 262.8h0.75M157.9 265.5h0.75M155.0 270.8h0.75M156.0 268.7h0.75M157.5 270.8h0.75M165.5 266.9h0.75M157.1 267.6h0.75M158.9 265.0h0.75M155.1 269.7h0.75M160.5 268.3h0.75M160.8 266.3h0.75M159.2 266.2h0.75M160.4 263.8h0.75M161.5 268.2h0.75M158.1 268.9h0.75M163.3 267.4h0.75M166.6 268.9h0.75M160.0 267.7h0.75M155.3 267.0h0.75M160.3 268.3h0.75M160.9 271.4h0.75M161.1 268.6h0.75M158.8 266.1h0.75M157.9 268.4h0.75M162.2 269.0h0.75M155.9 268.9h0.75M162.4 264.5h0.75M158.7 265.4h0.75M157.1 271.2h0.75M160.9 272.4h0.75M155.9 271.1h0.75M159.0 265.0h0.75M160.3 268.5h0.75M158.6 271.0h0.75M158.5 270.0h0.75M159.6 267.1h0.75M161.0 270.1h0.75M164.8 269.3h0.75M153.5 267.0h0.75M158.7 270.9h0.75M152.8 270.2h0.75M155.3 270.9h0.75M163.4 266.7h0.75M164.5 268.5h0.75M159.1 271.4h0.75M167.3 266.0h0.75M160.6 268.7h0.75M162.6 266.6h0.75M158.8 270.9h0.75M159.2 271.1h0.75M160.6 271.5h0.75M165.0 264.4h0.75M162.2 267.1h0.75M157.5 270.6h0.75M163.5 268.3h0.75M163.6 270.6h0.75M161.0 269.2h0.75M161.4 270.9h0.75M156.5 268.9h0.75M155.3 268.2h0.75M161.0 267.1h0.75M157.0 268.4h0.75M163.8 271.5h0.75M160.1 266.6h0.75M160.4 266.7h0.75M160.9 269.3h0.75M166.7 264.9h0.75M159.2 266.6h0.75M163.6 265.2h0.75M164.4 270.8h0.75M153.5 272.1h0.75M168.0 266.3h0.75M159.5 272.5h0.75M158.9 268.2h0.75M156.4 270.4h0.75M164.5 265.4h0.75M162.7 268.5h0.75M165.4 266.6h0.75M157.0 269.4h0.75M161.4 267.2h0.75M156.3 270.4h0.75M154.0 267.3h0.75M159.3 265.5h0.75M161.5 264.4h0.75M159.0 269.3h0.75M164.6 265.2h0.75M160.7 270.5h0.75M156.8 269.8h0.75M163.8 269.5h0.75M159.5 269.0h0.75M157.1 270.0h0.75M161.3 266.7h0.75M168.4 267.4h0.75M156.7 269.1h0.75M161.5 265.6h0.75M156.5 270.6h0.75M159.5 268.2h0.75M163.5 266.7h0.75M154.3 267.3h0.75M159.2 268.0h0.75M158.3 266.7h0.75M153.4 269.3h0.75M161.2 268.4h0.75M162.0 273.8h0.75M155.5 268.0h0.75M160.3 263.0h0.75M162.2 267.4h0.75M171.2 265.1h0.75M159.3 268.3h0.75M158.9 267.0h0.75M163.7 267.9h0.75M160.9 267.4h0.75M152.8 269.0h0.75M151.6 269.0h0.75M161.0 267.3h0.75M160.0 271.5h0.75M161.7 269.8h0.75M158.5 267.8h0.75M154.6 272.6h0.75M163.8 267.0h0.75M161.4 268.3h0.75M164.6 268.0h0.75M159.3 266.1h0.75M150.8 265.6h0.75M158.8 271.0h0.75M157.1 268.4h0.75M161.9 271.0h0.75M151.2 270.1h0.75M157.9 270.4h0.75M158.3 264.9h0.75M151.1 266.9h0.75M158.2 266.4h0.75M154.7 273.7h0.75M154.2 269.0h0.75M164.0 267.1h0.75M152.3 270.1h0.75M159.6 271.1h0.75M156.7 265.7h0.75M158.2 266.2h0.75M160.4 269.4h0.75M159.4 268.2h0.75M155.2 266.4h0.75M160.7 270.9h0.75M162.6 272.6h0.75M156.0 264.6h0.75M159.4 268.8h0.75M156.5 265.0h0.75M164.6 263.0h0.75M161.5 269.5h0.75M164.4 266.9h0.75M163.0 266.8h0.75M162.3 270.3h0.75M159.5 264.6h0.75M161.2 261.5h0.75M164.7 265.6h0.75M157.6 270.8h0.75M162.8 268.4h0.75M157.5 270.3h0.75M160.1 267.3h0.75M156.7 270.0h0.75M156.9 271.7h0.75M153.1 267.8h0.75M160.3 264.4h0.75M166.4 263.5h0.75M157.4 267.9h0.75M160.3 271.0h0.75M158.0 267.5h0.75M164.3 267.0h0.75M162.5 267.6h0.75M157.7 267.4h0.75M156.0 267.5h0.75M160.2 267.9h0.75M162.5 267.7h0.75M161.1 266.0h0.75M153.6 271.9h0.75M166.2 265.9h0.75M162.8 265.5h0.75M156.3 269.9h0.75M162.7 268.6h0.75M163.7 267.4h0.75M159.1 268.5h0.75M156.4 268.3h0.75M153.5 267.3h0.75M162.5 266.3h0.75M151.3 267.9h0.75M162.5 267.3h0.75M159.3 269.5h0.75M163.8 266.5h0.75M160.5 272.2h0.75M161.8 266.5h0.75M156.6 268.0h0.75M163.8 262.8h0.75M161.9 266.7h0.75M161.9 268.0h0.75M153.8 268.6h0.75M152.3 269.7h0.75M156.8 270.8h0.75M152.9 270.5h0.75M156.0 268.1h0.75M153.4 273.7h0.75M158.8 268.6h0.75M168.0 262.4h0.75M159.2 266.3h0.75M158.6 267.6h0.75M161.5 269.3h0.75M159.8 270.6h0.75M158.4 265.8h0.75M153.4 271.6h0.75M158.3 269.5h0.75M162.2 265.6h0.75M164.3 268.5h0.75M165.6 268.2h0.75M155.4 270.5h0.75M160.1 265.0h0.75M162.8 266.8h0.75M161.1 271.3h0.75M164.4 266.1h0.75M162.3 269.7h0.75M160.2 270.3h0.75M161.7 266.7h0.75M164.8 266.4h0.75M157.9 267.8h0.75M153.0 272.1h0.75M155.2 265.5h0.75M160.8 263.3h0.75M158.6 270.0h0.75M160.9 268.7h0.75M158.5 266.5h0.75M160.7 269.6h0.75M159.4 270.3h0.75M150.7 268.5h0.75M150.0 269.8h0.75M160.2 265.4h0.75M157.6 268.5h0.75M156.6 268.5h0.75M163.1 267.3h0.75" stroke="#000" stroke-width="0.75" opacity="1" fill="none"/>
<rect x="112.4" y="222.5" width="63.1" height="61.8" fill="none" stroke="#444" stroke-width="0.8"/>
<line x1="145.8" y1="222.5" x2="145.8" y2="284.3" stroke="#444" stroke-width="0.7000000000000001"/>
<line x1="112.4" y1="262.3" x2="175.5" y2="262.3" stroke="#444" stroke-width="0.7000000000000001"/>
<rect x="156.2" y="223.1" width="18.4" height="5.2" fill="#fff" opacity="0.85"/>
<rect x="156.2" y="278.5" width="18.4" height="5.2" fill="#fff" opacity="0.85"/>
<text font-size="6.5" transform="translate(113.3 227.6) scale(1.13 1)" fill="#111">0.00</text>
<text font-size="6.5" transform="translate(175.0 227.6) scale(1.13 1)" text-anchor="end" fill="#111">11.83</text>
<text font-size="6.5" transform="translate(113.3 283.5) scale(1.13 1)" fill="#111">0.00</text>
<text font-size="6.5" transform="translate(175.0 283.5) scale(1.13 1)" text-anchor="end" fill="#111">88.17</text>
<text font-size="3.7" x="109.8" y="290.3" font-weight="bold" fill="#333">10<tspan dy="-1.3" font-size="3.0">0</tspan></text>
<text font-size="3.7" x="125.6" y="290.3" font-weight="bold" fill="#333">10<tspan dy="-1.3" font-size="3.0">1</tspan></text>
<text font-size="3.7" x="141.3" y="290.3" font-weight="bold" fill="#333">10<tspan dy="-1.3" font-size="3.0">2</tspan></text>
<text font-size="3.7" x="157.1" y="290.3" font-weight="bold" fill="#333">10<tspan dy="-1.3" font-size="3.0">3</tspan></text>
<path d="M233.1 264.6h0.75M232.4 260.2h0.75M232.6 262.3h0.75M230.2 259.9h0.75M229.0 280.4h0.75M231.4 270.1h0.75M225.5 274.7h0.75M238.3 260.5h0.75M243.5 250.8h0.75M216.9 271.0h0.75M231.7 255.8h0.75M224.7 267.3h0.75M236.9 268.8h0.75M231.2 257.8h0.75M222.5 255.6h0.75M240.2 248.1h0.75M230.7 257.4h0.75M226.9 251.9h0.75M228.8 265.7h0.75M229.6 264.2h0.75M226.9 253.9h0.75M236.6 258.8h0.75M229.7 265.9h0.75M237.7 254.9h0.75M231.8 259.2h0.75M240.2 247.9h0.75M226.6 261.8h0.75M215.5 252.9h0.75M234.5 269.3h0.75M242.1 255.9h0.75M234.9 260.6h0.75M226.4 264.4h0.75M231.0 271.7h0.75M229.7 250.0h0.75M233.0 255.8h0.75M232.2 264.1h0.75M219.8 250.3h0.75M233.6 267.2h0.75M227.5 261.7h0.75M234.5 255.5h0.75M230.8 257.1h0.75M238.0 259.2h0.75M225.0 264.7h0.75M226.6 259.8h0.75M223.2 261.4h0.75M236.5 265.4h0.75M235.2 253.1h0.75M231.2 260.8h0.75M229.7 259.1h0.75M221.6 278.9h0.75M226.5 263.5h0.75M232.5 251.8h0.75M227.3 265.1h0.75M231.1 265.4h0.75M224.8 262.1h0.75M225.2 262.8h0.75M227.1 258.0h0.75M235.1 269.1h0.75M230.9 263.2h0.75M225.1 258.7h0.75M228.5 265.1h0.75M242.5 243.1h0.75M238.8 270.4h0.75M235.2 257.4h0.75M236.2 248.0h0.75M222.6 264.7h0.75M227.4 268.0h0.75M225.5 247.6h0.75M230.3 266.1h0.75M221.7 264.2h0.75M232.0 264.3h0.75M236.6 261.9h0.75M226.9 251.6h0.75M235.4 257.8h0.75M237.3 269.4h0.75M227.4 257.6h0.75M239.6 260.6h0.75M224.1 261.5h0.75M228.8 271.8h0.75M223.1 257.9h0.75M236.6 266.6h0.75M232.8 256.6h0.75M225.3 241.7h0.75M235.8 262.2h0.75M231.8 250.5h0.75M219.8 260.8h0.75M228.5 271.6h0.75M226.4 269.1h0.75M237.7 265.9h0.75M230.4 257.2h0.75M228.5 250.7h0.75M226.9 255.9h0.75M238.8 270.6h0.75M233.2 247.9h0.75M230.2 257.1h0.75M239.2 251.0h0.75M234.0 259.9h0.75M236.8 255.0h0.75M242.0 261.0h0.75M230.3 259.6h0.75M228.3 270.7h0.75M236.6 257.7h0.75M237.5 272.5h0.75M238.6 262.9h0.75M225.1 255.3h0.75M236.5 259.0h0.75M229.6 271.8h0.75M236.1 271.7h0.75M229.5 253.6h0.75M230.7 268.5h0.75M224.4 262.6h0.75M235.4 261.9h0.75M234.4 240.2h0.75M234.8 268.2h0.75M225.5 265.3h0.75M231.3 260.9h0.75M223.3 256.9h0.75M227.0 262.7h0.75M234.0 256.4h0.75M231.6 258.1h0.75M232.9 253.6h0.75M230.2 257.0h0.75M236.5 253.4h0.75M223.9 259.6h0.75M238.5 262.4h0.75M228.7 261.0h0.75M226.2 255.7h0.75M233.4 255.0h0.75M225.8 259.7h0.75M231.7 265.4h0.75M228.2 263.6h0.75M234.1 274.5h0.75M232.3 242.8h0.75M233.4 252.0h0.75M233.8 261.6h0.75M224.5 243.7h0.75M234.7 253.5h0.75M238.2 247.7h0.75M222.9 251.1h0.75M233.0 272.6h0.75M232.6 250.8h0.75M235.1 248.2h0.75M231.7 273.2h0.75M230.9 249.3h0.75M231.3 263.9h0.75M221.3 267.5h0.75M231.8 242.2h0.75M234.7 251.4h0.75M228.3 271.2h0.75M235.5 255.3h0.75M236.1 276.3h0.75M241.4 254.0h0.75M243.2 255.8h0.75M224.1 255.0h0.75M218.8 259.3h0.75M230.5 275.7h0.75M229.4 253.5h0.75M234.0 260.8h0.75M238.9 250.1h0.75M236.2 251.2h0.75M228.3 269.6h0.75M227.7 265.9h0.75M228.4 269.5h0.75M233.5 264.3h0.75M242.2 248.6h0.75M236.3 261.4h0.75M224.6 262.3h0.75M233.6 251.1h0.75M228.2 272.2h0.75M229.2 250.3h0.75M228.3 265.2h0.75M229.4 264.8h0.75M236.0 277.9h0.75M237.5 276.0h0.75M232.9 254.8h0.75M233.5 258.7h0.75M214.6 276.8h0.75M226.9 277.3h0.75M222.4 259.8h0.75M242.5 252.1h0.75M232.1 273.3h0.75M224.9 270.7h0.75M233.0 254.3h0.75M231.7 265.7h0.75M243.4 277.5h0.75M233.5 256.4h0.75M233.8 262.7h0.75M224.5 251.9h0.75M226.4 261.6h0.75M230.9 267.2h0.75M229.7 260.8h0.75M239.2 248.7h0.75M219.8 275.6h0.75M238.0 252.6h0.75M239.6 261.5h0.75M227.0 275.8h0.75M221.2 257.3h0.75M232.2 267.1h0.75M232.1 268.7h0.75M224.5 260.8h0.75M240.6 256.1h0.75M227.8 257.1h0.75M231.4 259.0h0.75M216.3 250.3h0.75M241.4 269.2h0.75M230.8 268.7h0.75M226.8 267.4h0.75M238.0 255.5h0.75M229.8 263.9h0.75M238.6 255.2h0.75M236.1 259.5h0.75M227.5 271.3h0.75M241.0 248.4h0.75M232.7 257.9h0.75M223.8 263.9h0.75M231.1 256.1h0.75M222.8 269.6h0.75M238.6 259.6h0.75M217.8 270.0h0.75M242.3 257.6h0.75M220.8 253.5h0.75M230.8 257.8h0.75M229.4 261.3h0.75M236.0 272.6h0.75M234.4 258.4h0.75M228.0 248.9h0.75M240.8 255.7h0.75M230.6 249.8h0.75M234.1 259.6h0.75M226.3 266.2h0.75M230.2 266.2h0.75M227.0 259.7h0.75M241.4 256.3h0.75M232.6 253.2h0.75M223.2 260.7h0.75M230.7 251.3h0.75M228.0 264.8h0.75M232.8 274.6h0.75M226.5 252.6h0.75M234.2 257.2h0.75M235.4 253.8h0.75M219.5 279.2h0.75M228.4 266.8h0.75M241.7 254.5h0.75M222.3 265.5h0.75M235.8 264.1h0.75M220.4 261.4h0.75M239.9 246.5h0.75M227.4 251.8h0.75M238.7 267.2h0.75M235.0 253.1h0.75M234.7 264.0h0.75M241.8 247.9h0.75M230.6 266.2h0.75M230.4 252.9h0.75M228.9 279.3h0.75M237.0 268.9h0.75M234.4 259.3h0.75M229.3 259.6h0.75M229.6 259.3h0.75M223.4 259.5h0.75M232.2 252.6h0.75M240.8 271.7h0.75M225.6 252.8h0.75M216.6 265.0h0.75M226.9 260.7h0.75M221.3 265.8h0.75M224.7 264.4h0.75M229.4 267.7h0.75M227.5 267.8h0.75M228.5 251.4h0.75M237.6 259.7h0.75M241.8 258.3h0.75M230.4 277.4h0.75M225.9 252.5h0.75M233.6 249.7h0.75M230.6 246.8h0.75M240.4 264.0h0.75M234.3 254.9h0.75M222.1 274.9h0.75M235.8 257.2h0.75M224.0 263.1h0.75M227.7 259.3h0.75M222.1 274.5h0.75M232.5 277.2h0.75M234.1 259.6h0.75M235.8 256.4h0.75M236.8 266.2h0.75M240.2 258.6h0.75M230.3 272.2h0.75M230.5 256.3h0.75M238.3 255.8h0.75M237.3 269.1h0.75M226.2 262.2h0.75M232.4 259.7h0.75M229.6 272.6h0.75M232.3 262.3h0.75M231.8 256.3h0.75M233.8 268.1h0.75M224.8 266.9h0.75M241.3 265.2h0.75M240.7 259.5h0.75M228.1 257.8h0.75M230.7 280.1h0.75M230.8 254.6h0.75M240.1 267.7h0.75M234.4 264.0h0.75M228.7 251.5h0.75M230.6 257.7h0.75M229.5 254.1h0.75M230.3 264.7h0.75M232.1 272.4h0.75M230.6 274.2h0.75M231.2 261.8h0.75M233.0 261.1h0.75M225.9 248.5h0.75M220.9 259.0h0.75M227.9 260.3h0.75M232.2 268.8h0.75M220.4 257.7h0.75M234.8 253.0h0.75M234.0 254.0h0.75M222.9 256.9h0.75M228.4 249.0h0.75M230.1 255.3h0.75M238.0 248.4h0.75M234.2 254.5h0.75M226.9 266.9h0.75M235.8 251.3h0.75M222.9 250.7h0.75M226.1 269.8h0.75M225.9 263.0h0.75M222.9 262.6h0.75M238.9 264.5h0.75M228.9 266.1h0.75M225.5 248.5h0.75M226.7 247.7h0.75M234.5 267.8h0.75M231.8 264.1h0.75M229.7 257.5h0.75M235.4 251.4h0.75M219.5 270.0h0.75M226.1 277.9h0.75M229.2 249.7h0.75M234.5 251.1h0.75M224.6 272.1h0.75M236.4 271.6h0.75M242.9 269.8h0.75M236.6 257.2h0.75M226.4 273.2h0.75M238.7 256.3h0.75M224.1 266.2h0.75M241.4 268.7h0.75M225.2 251.9h0.75M233.1 256.8h0.75M228.8 274.1h0.75M235.1 269.5h0.75M226.0 261.9h0.75M239.0 264.3h0.75M239.9 267.6h0.75M233.9 257.0h0.75M226.5 253.2h0.75M227.0 258.1h0.75M231.8 280.8h0.75M231.9 257.0h0.75M233.0 268.4h0.75M228.4 263.5h0.75M239.5 251.0h0.75M229.1 269.3h0.75M233.8 265.8h0.75M231.6 278.3h0.75M229.1 260.8h0.75M236.0 255.4h0.75M242.0 261.4h0.75M231.3 246.2h0.75M241.9 270.1h0.75M236.0 270.1h0.75M241.7 257.4h0.75M224.3 270.6h0.75M222.2 261.9h0.75M218.5 255.8h0.75M231.7 252.7h0.75M231.7 248.4h0.75M231.1 273.8h0.75M227.9 259.8h0.75M224.0 259.0h0.75M219.6 262.4h0.75M227.2 245.3h0.75M238.0 273.7h0.75M232.0 260.1h0.75M219.6 271.6h0.75M228.6 280.8h0.75M242.6 263.8h0.75M240.4 257.5h0.75M223.4 262.8h0.75M227.1 266.7h0.75M230.6 252.8h0.75M229.8 259.8h0.75M229.8 275.1h0.75M220.8 259.8h0.75M235.5 274.8h0.75M222.7 265.4h0.75M230.4 259.5h0.75M221.1 262.6h0.75M235.4 267.3h0.75M227.3 261.0h0.75M232.5 254.5h0.75M223.3 265.1h0.75M237.5 272.2h0.75M235.3 260.0h0.75M233.0 248.6h0.75M228.5 244.8h0.75M227.9 247.9h0.75M235.8 279.0h0.75M229.9 253.6h0.75M232.8 254.6h0.75M235.6 248.2h0.75M239.9 272.0h0.75M230.4 252.2h0.75M233.6 251.4h0.75" stroke="#888" stroke-width="0.75" opacity="1" fill="none"/>
<path d="M236.2 253.1h0.75M225.9 250.2h0.75M231.3 261.6h0.75M239.8 247.1h0.75M224.0 256.1h0.75M236.4 249.1h0.75M233.0 258.2h0.75M224.4 265.4h0.75M239.3 252.2h0.75M233.9 256.3h0.75M229.0 258.7h0.75M232.9 250.2h0.75M232.0 252.8h0.75M230.2 258.2h0.75M236.2 257.4h0.75M230.3 257.9h0.75M231.2 262.6h0.75M227.3 260.6h0.75M229.9 246.5h0.75M236.0 246.5h0.75M228.3 255.0h0.75M234.5 252.8h0.75M234.4 254.8h0.75M224.6 262.5h0.75M239.3 249.1h0.75M235.8 251.6h0.75M228.5 253.9h0.75M223.1 253.8h0.75M235.7 257.9h0.75M234.7 254.5h0.75M229.4 259.7h0.75M241.5 252.9h0.75M240.8 252.0h0.75M231.3 258.7h0.75M233.1 252.7h0.75M229.9 255.5h0.75M232.3 246.3h0.75M234.8 261.6h0.75M234.2 255.7h0.75M235.0 257.5h0.75M236.2 251.3h0.75M227.1 257.9h0.75M234.5 250.8h0.75M231.2 256.7h0.75M240.0 248.8h0.75M228.1 255.4h0.75M228.7 252.9h0.75M228.0 261.1h0.75M234.6 254.2h0.75M240.1 267.0h0.75M235.4 257.3h0.75M228.0 258.3h0.75M229.6 247.8h0.75M234.4 250.7h0.75M239.4 250.7h0.75M231.3 250.4h0.75M231.8 253.9h0.75M235.6 249.5h0.75M229.1 250.1h0.75M229.3 253.1h0.75M231.8 251.1h0.75M236.8 249.3h0.75M233.7 253.0h0.75M234.3 253.9h0.75M230.5 254.6h0.75M230.1 254.1h0.75M238.0 256.4h0.75M238.9 248.1h0.75M238.2 254.4h0.75M235.6 251.8h0.75M240.8 247.3h0.75M233.7 247.3h0.75M231.2 256.3h0.75M233.7 255.0h0.75M238.7 247.2h0.75M224.4 261.5h0.75M225.5 254.8h0.75M243.5 254.1h0.75M231.9 258.7h0.75M228.6 258.8h0.75M230.7 251.4h0.75M228.0 252.7h0.75M233.7 262.3h0.75M237.0 257.1h0.75M231.9 262.4h0.75M232.1 261.1h0.75M226.8 258.8h0.75M227.6 254.1h0.75M231.7 245.7h0.75M234.4 253.9h0.75M224.5 256.1h0.75M232.0 246.7h0.75M229.5 259.9h0.75M230.6 253.8h0.75M232.0 253.2h0.75M227.4 255.0h0.75M223.3 257.7h0.75M231.1 248.2h0.75M225.4 257.3h0.75M230.4 251.7h0.75M229.9 255.9h0.75M237.4 250.5h0.75M223.6 252.7h0.75M228.1 257.5h0.75M237.7 254.1h0.75M228.6 259.8h0.75M230.5 249.1h0.75M231.6 264.0h0.75M232.4 250.8h0.75M236.0 249.3h0.75M237.9 255.7h0.75M226.4 254.0h0.75M230.8 250.8h0.75M234.2 252.4h0.75M240.5 252.9h0.75M236.9 257.3h0.75M234.6 257.3h0.75M229.3 259.8h0.75M237.1 257.7h0.75M230.0 252.3h0.75M238.0 252.0h0.75M244.5 252.8h0.75M227.2 258.8h0.75M233.7 244.8h0.75M229.8 244.6h0.75M228.7 253.7h0.75M228.8 261.0h0.75M231.3 247.8h0.75M236.1 254.5h0.75M225.9 260.5h0.75M226.3 251.8h0.75M239.4 249.6h0.75M232.8 250.1h0.75M231.1 244.9h0.75M231.1 250.8h0.75M236.9 250.6h0.75M228.6 253.0h0.75M223.6 258.7h0.75M224.2 250.8h0.75M233.7 252.2h0.75M242.0 244.5h0.75M234.1 261.9h0.75M229.6 248.8h0.75M237.3 261.3h0.75M228.9 259.1h0.75M235.7 253.6h0.75M236.4 251.6h0.75M235.6 251.9h0.75M231.8 249.2h0.75M232.3 253.6h0.75M228.3 251.9h0.75M230.8 261.2h0.75M234.8 256.5h0.75M238.7 255.4h0.75M240.4 258.2h0.75M236.0 252.5h0.75M233.2 253.4h0.75M229.1 247.9h0.75M234.5 247.1h0.75M235.8 261.2h0.75M233.1 249.5h0.75M229.6 257.8h0.75M232.2 252.1h0.75M233.8 248.2h0.75M227.8 257.4h0.75M229.2 258.0h0.75M230.3 255.1h0.75M231.8 260.2h0.75M231.3 254.8h0.75M227.3 256.3h0.75M231.8 255.7h0.75M223.1 259.9h0.75M232.9 255.4h0.75M234.4 258.2h0.75M228.1 253.0h0.75M233.7 246.7h0.75M242.9 241.4h0.75M235.1 251.0h0.75M235.6 260.1h0.75M241.4 248.0h0.75M232.9 250.4h0.75M226.2 256.6h0.75M229.7 249.1h0.75M231.0 251.7h0.75M227.3 256.6h0.75M235.1 255.0h0.75M229.4 250.8h0.75M221.9 260.6h0.75M237.1 248.5h0.75M226.2 250.4h0.75M239.1 251.1h0.75M230.6 255.0h0.75M232.6 252.5h0.75M231.8 257.3h0.75M237.0 247.5h0.75M232.0 253.9h0.75M233.4 264.9h0.75M235.8 256.5h0.75M232.1 256.7h0.75M238.2 257.9h0.75M228.8 256.0h0.75M234.2 248.5h0.75M231.0 252.4h0.75M236.7 252.9h0.75M241.9 253.6h0.75M230.6 255.9h0.75M233.0 250.2h0.75M234.3 247.1h0.75M233.5 251.6h0.75M233.1 250.7h0.75M240.6 248.4h0.75M236.3 253.2h0.75M238.0 249.2h0.75M226.7 259.1h0.75M237.4 255.5h0.75M214.8 267.5h0.75M239.4 252.1h0.75M228.4 257.7h0.75M224.6 255.1h0.75M235.4 259.5h0.75M230.7 253.6h0.75M226.3 255.4h0.75M229.4 255.1h0.75M229.1 257.2h0.75M232.1 251.0h0.75M235.3 255.6h0.75M231.4 253.6h0.75M236.4 255.2h0.75M231.8 263.3h0.75M230.3 248.8h0.75M229.6 255.9h0.75M224.5 265.3h0.75M236.8 248.3h0.75M234.3 247.6h0.75M232.4 253.0h0.75M239.8 243.3h0.75M230.3 246.1h0.75M230.3 253.3h0.75M232.6 258.8h0.75M228.4 252.8h0.75M239.4 252.1h0.75M228.1 255.5h0.75M227.5 251.6h0.75M230.1 247.9h0.75M240.9 249.6h0.75M233.6 252.5h0.75M232.1 250.5h0.75M234.5 251.4h0.75M228.6 259.5h0.75M239.6 253.9h0.75M235.0 251.8h0.75M233.1 257.1h0.75M232.7 260.1h0.75M239.2 253.0h0.75M233.6 249.9h0.75M230.5 251.7h0.75M231.0 250.4h0.75M234.3 255.0h0.75M231.9 261.7h0.75M233.7 253.4h0.75M229.8 261.2h0.75M232.1 266.3h0.75M236.2 267.6h0.75M220.2 265.4h0.75M229.1 271.9h0.75M219.5 268.6h0.75M237.8 270.0h0.75M225.5 268.4h0.75M233.2 271.9h0.75M228.6 267.8h0.75M230.1 264.8h0.75M227.7 271.1h0.75M228.6 266.9h0.75M227.0 266.1h0.75M235.0 269.3h0.75M233.4 269.0h0.75M231.4 270.7h0.75M227.1 267.6h0.75M224.8 273.0h0.75M235.2 268.5h0.75M233.4 270.7h0.75M235.1 270.3h0.75M231.1 268.2h0.75M236.6 270.6h0.75M233.2 272.1h0.75M226.8 268.9h0.75M225.0 272.6h0.75M234.8 268.4h0.75M228.7 268.3h0.75M216.8 272.1h0.75M234.6 270.2h0.75M226.7 267.5h0.75M228.4 268.5h0.75M227.4 265.8h0.75M241.3 265.8h0.75M232.3 269.8h0.75M238.1 272.2h0.75M229.2 270.7h0.75M235.9 269.4h0.75M219.9 263.2h0.75M227.0 274.5h0.75M236.6 267.7h0.75M231.6 269.3h0.75M231.1 271.0h0.75M226.8 267.3h0.75M229.8 264.3h0.75M224.2 266.2h0.75M224.1 271.7h0.75M236.7 269.7h0.75M225.1 270.0h0.75M231.6 263.9h0.75M237.2 269.6h0.75M234.8 261.3h0.75M225.8 275.8h0.75M226.0 274.3h0.75M233.4 266.5h0.75M226.7 265.8h0.75M228.4 260.9h0.75M238.8 276.4h0.75M232.1 268.6h0.75M227.6 268.2h0.75M228.0 272.4h0.75M226.6 268.3h0.75M239.1 272.8h0.75M227.3 262.8h0.75M241.2 265.1h0.75M229.1 268.7h0.75M235.3 266.6h0.75M228.9 267.2h0.75M224.5 272.2h0.75M228.4 269.2h0.75M227.0 271.6h0.75M241.7 265.6h0.75M231.3 268.4h0.75M239.2 266.3h0.75M237.3 269.1h0.75M236.0 266.5h0.75M226.7 267.8h0.75M235.9 267.8h0.75M235.3 273.4h0.75M222.3 265.5h0.75M227.6 266.5h0.75M233.9 264.6h0.75M226.1 268.4h0.75M230.7 268.9h0.75M230.8 263.3h0.75M227.9 270.3h0.75M232.6 269.8h0.75M224.7 266.6h0.75M221.1 268.2h0.75M225.5 271.0h0.75M229.1 272.4h0.75M242.7 268.7h0.75M233.2 264.3h0.75M228.0 260.6h0.75M227.1 276.5h0.75M234.4 272.6h0.75M229.6 267.6h0.75M231.7 266.9h0.75M233.6 270.5h0.75M223.4 262.0h0.75M229.6 267.9h0.75M222.8 271.3h0.75M238.4 269.8h0.75M223.0 269.6h0.75M225.5 272.1h0.75M232.7 269.6h0.75M235.7 270.3h0.75M231.6 271.3h0.75M235.1 259.4h0.75M236.8 266.5h0.75M225.2 274.7h0.75M230.0 271.1h0.75M234.1 270.3h0.75M236.8 269.3h0.75M238.0 268.1h0.75M225.9 273.6h0.75M231.2 271.0h0.75M222.8 260.5h0.75M231.6 269.4h0.75M239.3 263.8h0.75M226.1 269.7h0.75M237.6 269.0h0.75M233.8 271.1h0.75M242.8 272.7h0.75M229.3 263.3h0.75M221.3 268.1h0.75M225.8 269.2h0.75M230.0 260.9h0.75M236.3 270.3h0.75M226.1 264.4h0.75M238.9 268.9h0.75M229.5 265.3h0.75M227.1 274.0h0.75M226.8 268.7h0.75M228.6 268.1h0.75M224.1 273.1h0.75M231.3 271.1h0.75M225.3 268.2h0.75M242.0 267.7h0.75M228.4 264.0h0.75M227.2 270.6h0.75M228.3 266.5h0.75M237.0 273.5h0.75M230.3 277.6h0.75M228.7 267.3h0.75M222.0 265.8h0.75M226.7 276.9h0.75M224.5 268.6h0.75M231.7 270.1h0.75M218.3 268.6h0.75M224.2 268.5h0.75M219.9 267.7h0.75M229.2 264.7h0.75M231.6 269.7h0.75M235.3 264.3h0.75M223.4 269.0h0.75M231.1 266.5h0.75M221.6 269.0h0.75M236.9 265.0h0.75M233.8 264.1h0.75M234.5 263.7h0.75M236.6 267.9h0.75M237.0 266.7h0.75M223.1 265.7h0.75M225.2 269.7h0.75M227.2 270.6h0.75M230.1 266.9h0.75M227.8 267.7h0.75M233.5 272.7h0.75M228.0 268.8h0.75M236.5 272.8h0.75M225.9 264.8h0.75M227.6 272.8h0.75M228.3 271.8h0.75M229.9 270.6h0.75M233.2 268.0h0.75M227.2 269.0h0.75M244.0 264.4h0.75M235.2 267.4h0.75M223.3 268.6h0.75M235.7 264.1h0.75M224.6 271.4h0.75M223.1 272.9h0.75M237.1 265.9h0.75M231.7 272.4h0.75M235.9 261.5h0.75M222.6 269.3h0.75M237.1 273.4h0.75M233.0 268.0h0.75M226.0 271.2h0.75M230.9 275.1h0.75M241.6 270.6h0.75M226.4 268.6h0.75M237.0 269.1h0.75M233.9 266.4h0.75M218.0 271.8h0.75M241.1 266.6h0.75M232.1 262.3h0.75M239.0 276.1h0.75M238.7 264.7h0.75M231.6 269.1h0.75M232.9 266.5h0.75M233.5 269.0h0.75M224.4 265.6h0.75M240.3 268.9h0.75M233.5 275.3h0.75M227.3 272.9h0.75M237.3 265.8h0.75M230.0 269.8h0.75M222.2 263.4h0.75M227.5 273.2h0.75M229.6 274.0h0.75M221.4 268.1h0.75M232.9 272.3h0.75M235.3 271.9h0.75M234.9 268.9h0.75M239.7 270.8h0.75M227.4 271.8h0.75M234.4 269.1h0.75M234.3 267.5h0.75M228.8 263.4h0.75M228.7 273.4h0.75M216.6 268.2h0.75M234.4 270.6h0.75M222.2 269.0h0.75M232.3 272.1h0.75M231.5 266.4h0.75M234.2 268.8h0.75M224.7 269.1h0.75M232.5 268.3h0.75M228.5 268.7h0.75M231.4 271.0h0.75M224.8 267.3h0.75M234.4 267.0h0.75M225.8 264.7h0.75M223.0 265.9h0.75M230.5 270.8h0.75M231.8 269.1h0.75M234.3 268.2h0.75M223.7 269.4h0.75M231.8 275.5h0.75M231.0 275.7h0.75M230.1 264.2h0.75M229.4 267.9h0.75M230.4 267.5h0.75M244.0 268.9h0.75M230.0 268.6h0.75M230.7 272.2h0.75M230.9 271.8h0.75M225.6 269.7h0.75M230.4 269.3h0.75M224.2 266.9h0.75M222.2 270.6h0.75M238.0 268.1h0.75M223.1 267.9h0.75M237.0 262.9h0.75M229.0 269.1h0.75M228.3 269.7h0.75M233.3 269.7h0.75M235.9 271.8h0.75M222.1 265.6h0.75M229.6 269.0h0.75M232.0 264.8h0.75M223.9 274.9h0.75M231.7 269.7h0.75M240.6 261.8h0.75M232.2 267.8h0.75M230.3 273.3h0.75M230.3 263.9h0.75M224.4 264.7h0.75M237.3 266.2h0.75M224.5 268.4h0.75M223.2 270.6h0.75M231.5 269.3h0.75M237.2 266.9h0.75M235.9 262.8h0.75M236.1 274.3h0.75M226.3 271.5h0.75M225.3 269.3h0.75M233.8 266.7h0.75M224.8 268.7h0.75M230.5 269.9h0.75M231.3 262.9h0.75M237.0 269.8h0.75M222.6 268.6h0.75M236.7 275.2h0.75M230.1 266.9h0.75M237.8 268.0h0.75M230.7 263.4h0.75M225.1 270.3h0.75M241.3 269.3h0.75M230.0 267.5h0.75M224.4 265.1h0.75M235.1 274.5h0.75M229.1 265.9h0.75M222.1 267.7h0.75M236.7 262.8h0.75M229.2 272.8h0.75M239.7 265.8h0.75" stroke="#3a3a3a" stroke-width="0.75" opacity="1" fill="none"/>
<path d="M231.7 267.6h0.75M233.9 266.8h0.75M230.8 273.6h0.75M232.1 266.5h0.75M226.6 271.9h0.75M223.7 273.2h0.75M236.1 267.6h0.75M232.0 267.9h0.75M227.3 270.2h0.75M228.3 270.5h0.75M232.2 267.5h0.75M231.3 269.1h0.75M230.3 268.5h0.75M235.7 267.1h0.75M231.6 271.3h0.75M232.5 268.0h0.75M226.6 268.7h0.75M223.4 268.5h0.75M230.9 272.0h0.75M233.4 271.2h0.75M232.8 269.4h0.75M224.8 268.1h0.75M230.1 268.9h0.75M226.2 265.8h0.75M231.7 268.3h0.75M231.0 268.5h0.75M230.1 266.5h0.75M234.3 269.7h0.75M230.9 272.9h0.75M228.2 271.0h0.75M230.7 269.1h0.75M234.3 268.8h0.75M230.9 266.3h0.75M232.1 269.8h0.75M229.3 266.4h0.75M234.7 269.1h0.75M235.5 268.6h0.75M240.9 265.7h0.75M233.8 269.2h0.75M231.9 268.5h0.75M233.1 270.8h0.75M231.3 266.7h0.75M234.7 271.0h0.75M226.5 269.8h0.75M236.8 270.1h0.75M229.0 269.8h0.75M232.3 266.5h0.75M229.9 268.4h0.75M229.7 272.1h0.75M224.1 267.1h0.75M228.2 272.0h0.75M230.6 268.5h0.75M230.1 272.6h0.75M238.5 269.1h0.75M227.2 268.6h0.75M224.3 271.5h0.75M230.2 271.6h0.75M228.7 267.5h0.75M222.7 270.1h0.75M235.1 263.9h0.75M226.9 269.1h0.75M235.0 273.0h0.75M237.3 269.3h0.75M225.4 267.5h0.75M233.0 268.9h0.75M227.9 269.0h0.75M231.6 274.0h0.75M229.7 270.4h0.75M232.1 270.6h0.75M228.3 272.5h0.75M236.2 269.9h0.75M226.8 266.9h0.75M230.2 268.8h0.75M227.6 268.9h0.75M225.0 269.0h0.75M225.8 270.0h0.75M221.5 267.9h0.75M229.3 265.9h0.75M229.3 268.7h0.75M236.0 270.2h0.75M229.4 270.9h0.75M230.7 270.8h0.75M229.3 269.7h0.75M229.7 271.2h0.75M237.7 272.2h0.75M236.4 268.3h0.75M237.1 268.0h0.75M230.9 267.0h0.75M234.6 265.2h0.75M230.6 270.6h0.75M226.6 270.4h0.75M226.8 268.5h0.75M232.3 272.1h0.75M239.0 266.3h0.75M224.5 267.7h0.75M231.8 268.7h0.75M225.9 267.4h0.75M231.8 269.1h0.75M238.7 265.9h0.75M228.8 276.9h0.75M226.2 271.7h0.75M228.9 269.4h0.75M235.7 267.5h0.75M230.0 269.1h0.75M231.1 272.8h0.75M236.5 267.2h0.75M235.9 265.3h0.75M228.3 267.6h0.75M228.5 269.5h0.75M232.0 266.9h0.75M232.4 267.4h0.75M233.0 269.5h0.75M226.6 267.2h0.75M234.7 268.6h0.75M232.0 268.2h0.75M236.9 269.6h0.75M228.2 269.6h0.75M226.7 268.3h0.75M229.6 266.8h0.75M227.6 271.6h0.75M227.5 268.7h0.75M226.2 272.1h0.75M227.3 270.9h0.75M233.4 270.0h0.75M229.0 264.2h0.75M227.5 268.7h0.75M225.3 266.7h0.75M232.2 268.9h0.75M234.9 269.7h0.75M235.9 269.3h0.75M230.4 269.4h0.75M234.3 270.9h0.75M233.4 267.8h0.75M226.9 271.5h0.75M235.0 266.5h0.75M231.1 266.8h0.75M231.3 273.7h0.75M229.6 268.1h0.75M230.7 268.0h0.75M232.4 265.4h0.75M233.8 267.1h0.75M231.1 274.5h0.75M235.7 269.1h0.75M230.4 270.1h0.75M234.5 276.3h0.75M238.6 271.8h0.75M227.8 272.4h0.75M230.3 269.4h0.75M229.6 268.3h0.75M233.2 269.3h0.75M233.8 267.7h0.75M227.6 268.3h0.75M229.9 269.9h0.75M238.0 268.9h0.75M230.0 274.7h0.75M238.0 270.6h0.75M234.8 264.8h0.75M229.6 269.0h0.75M231.0 264.6h0.75M232.1 273.0h0.75M236.3 269.3h0.75M233.0 268.9h0.75M222.7 270.7h0.75M234.6 265.6h0.75M240.0 270.2h0.75M233.0 272.1h0.75M227.3 269.0h0.75M225.3 271.5h0.75M232.8 274.0h0.75M233.9 267.9h0.75M223.1 268.7h0.75M229.7 269.0h0.75M229.0 268.4h0.75M231.5 267.6h0.75M227.8 268.7h0.75M225.1 264.2h0.75M230.8 266.8h0.75M225.2 269.0h0.75M231.0 271.8h0.75M228.8 269.1h0.75M230.2 267.6h0.75M225.8 264.9h0.75M223.8 267.0h0.75M227.4 268.0h0.75M223.7 270.0h0.75M232.3 266.1h0.75M228.1 268.1h0.75M233.3 271.5h0.75M233.2 270.4h0.75M235.8 270.2h0.75M231.8 270.1h0.75M234.7 269.1h0.75M234.9 267.5h0.75M226.7 269.2h0.75M233.1 273.5h0.75M230.2 266.7h0.75M224.0 267.3h0.75M229.6 268.1h0.75M232.2 269.0h0.75M228.6 274.7h0.75M228.7 268.5h0.75M226.1 267.8h0.75M232.0 265.0h0.75M229.7 267.3h0.75M231.2 270.3h0.75M230.5 271.1h0.75M228.8 269.9h0.75M227.3 265.5h0.75M226.9 268.6h0.75M232.9 273.0h0.75M232.5 270.3h0.75M227.6 273.0h0.75M228.4 268.8h0.75M238.4 270.6h0.75M239.4 267.1h0.75M232.5 266.1h0.75M232.4 267.5h0.75M236.1 269.9h0.75M224.3 268.5h0.75M227.9 269.4h0.75M234.9 266.0h0.75M230.0 270.5h0.75M227.4 268.2h0.75M228.3 271.5h0.75M233.9 266.2h0.75M235.1 272.4h0.75M229.7 269.8h0.75M233.2 270.4h0.75M239.5 268.7h0.75M229.8 269.5h0.75M230.6 264.9h0.75M234.3 269.4h0.75M227.7 267.2h0.75M224.8 269.7h0.75M232.1 269.3h0.75M234.7 268.2h0.75M226.5 269.4h0.75M237.0 271.7h0.75M230.9 273.2h0.75M227.3 267.9h0.75M229.5 273.7h0.75M219.6 270.3h0.75M231.2 266.9h0.75M232.6 264.4h0.75M231.9 266.7h0.75M228.1 269.8h0.75M230.5 267.8h0.75M231.0 267.3h0.75M236.0 269.4h0.75M232.1 272.1h0.75M238.2 265.1h0.75M231.5 266.2h0.75M233.4 267.5h0.75M228.3 268.5h0.75M235.4 266.5h0.75M232.4 268.3h0.75M229.7 269.3h0.75M237.8 267.6h0.75M231.8 269.8h0.75M225.0 268.7h0.75M233.1 269.7h0.75M231.3 266.7h0.75M229.6 270.4h0.75M228.2 271.3h0.75M232.5 272.5h0.75M224.8 269.3h0.75M224.9 266.8h0.75M238.6 270.2h0.75M232.4 266.5h0.75M231.1 270.1h0.75M236.1 264.1h0.75M230.6 266.3h0.75M239.4 272.1h0.75M231.1 268.2h0.75M236.6 272.4h0.75M229.4 271.2h0.75M232.2 269.4h0.75M225.3 274.0h0.75M230.6 266.6h0.75M225.7 272.7h0.75M232.1 271.1h0.75M231.4 265.8h0.75M230.2 267.2h0.75M226.8 269.6h0.75M228.2 269.9h0.75M231.5 267.8h0.75M227.5 268.6h0.75M235.0 271.2h0.75M235.6 266.8h0.75M227.5 269.7h0.75M230.8 270.5h0.75M232.6 265.6h0.75M231.9 272.3h0.75M230.6 268.9h0.75M231.2 265.4h0.75M233.7 269.8h0.75M234.3 267.5h0.75M228.2 266.7h0.75M230.4 268.9h0.75M233.2 266.7h0.75M228.1 266.5h0.75M229.0 271.0h0.75M234.4 268.8h0.75M235.3 269.7h0.75M229.2 270.6h0.75M226.1 267.6h0.75M231.8 269.0h0.75M228.4 268.4h0.75M226.8 267.4h0.75M241.5 269.7h0.75M234.7 271.5h0.75M225.0 271.0h0.75M228.1 265.9h0.75M228.8 269.3h0.75M235.1 271.2h0.75M231.5 271.7h0.75M223.2 269.2h0.75M233.3 274.4h0.75M224.8 263.6h0.75M230.2 268.4h0.75M233.0 268.3h0.75M227.3 268.2h0.75M232.0 274.5h0.75M219.8 266.9h0.75M230.2 267.9h0.75M225.1 268.2h0.75M228.7 269.4h0.75M233.1 267.9h0.75M233.3 267.1h0.75M228.7 269.8h0.75M229.4 270.6h0.75M234.1 267.4h0.75M239.2 270.0h0.75M228.6 266.4h0.75M230.3 269.1h0.75M233.4 269.5h0.75M233.4 265.4h0.75M228.7 268.9h0.75M234.0 268.5h0.75M231.9 266.6h0.75M235.4 268.8h0.75M225.8 268.6h0.75M230.0 269.3h0.75M238.5 265.8h0.75M236.1 265.8h0.75M230.6 266.4h0.75M230.7 271.5h0.75M237.6 270.6h0.75M230.4 270.9h0.75M225.1 268.9h0.75M228.2 264.3h0.75M229.8 266.1h0.75M235.5 266.6h0.75M235.5 268.1h0.75M235.1 270.1h0.75M236.2 266.6h0.75M225.9 269.6h0.75M240.2 271.2h0.75M231.2 271.4h0.75M230.9 269.4h0.75M235.8 269.4h0.75M230.5 269.2h0.75M235.5 271.6h0.75M236.9 269.7h0.75M227.2 271.2h0.75M229.8 267.2h0.75M230.6 267.3h0.75M226.0 269.4h0.75M227.4 271.2h0.75M232.3 266.0h0.75M232.7 269.8h0.75M226.5 271.0h0.75M229.4 268.4h0.75M233.8 263.8h0.75M228.9 270.7h0.75M232.5 272.1h0.75M233.2 269.0h0.75M235.5 268.3h0.75M234.1 262.9h0.75M225.3 271.7h0.75M235.2 269.9h0.75M235.0 264.8h0.75M232.7 265.8h0.75M228.9 267.2h0.75M235.2 266.9h0.75M234.7 270.4h0.75M232.4 269.8h0.75M235.7 269.2h0.75M233.8 269.9h0.75M224.6 273.7h0.75M233.1 268.7h0.75M233.5 266.7h0.75M230.4 266.3h0.75M230.5 271.5h0.75M225.9 266.9h0.75M233.1 267.3h0.75M241.2 266.3h0.75M235.5 268.8h0.75M232.8 271.3h0.75M238.7 271.6h0.75M233.7 268.5h0.75M234.2 270.7h0.75M230.8 267.0h0.75M227.5 265.9h0.75M232.5 271.4h0.75M233.2 268.3h0.75M226.8 270.3h0.75M242.0 271.9h0.75M230.8 272.3h0.75M231.1 269.0h0.75M231.5 265.9h0.75M237.3 267.6h0.75M231.6 269.5h0.75M233.4 267.0h0.75M228.4 268.5h0.75M227.4 267.2h0.75M234.0 268.1h0.75M233.5 268.2h0.75M232.5 267.4h0.75M237.0 267.2h0.75M232.9 273.0h0.75M237.1 267.0h0.75M228.4 269.7h0.75M232.2 271.8h0.75M229.4 270.4h0.75M230.4 267.7h0.75M236.8 272.0h0.75M233.5 269.6h0.75M229.7 273.2h0.75M227.6 271.9h0.75M228.7 270.6h0.75M231.7 268.1h0.75M230.3 269.6h0.75M229.4 267.5h0.75M236.5 266.9h0.75M231.5 266.4h0.75M226.3 268.1h0.75M239.6 268.9h0.75M234.0 270.8h0.75M227.1 267.1h0.75M230.8 271.3h0.75M231.8 266.2h0.75M230.8 265.3h0.75M232.2 265.8h0.75M227.5 264.9h0.75M228.0 267.8h0.75M234.4 267.8h0.75M230.1 267.8h0.75M231.4 268.0h0.75M226.4 268.6h0.75M233.4 265.0h0.75M223.5 271.2h0.75M230.5 267.0h0.75M225.1 268.7h0.75M235.2 267.3h0.75M231.7 274.1h0.75M233.8 268.5h0.75M226.5 272.0h0.75M234.9 268.0h0.75M234.2 270.1h0.75M237.4 270.7h0.75M231.5 270.7h0.75M230.3 266.6h0.75M229.8 268.0h0.75M235.8 268.9h0.75M233.2 267.0h0.75M234.0 267.5h0.75M225.2 270.8h0.75M232.0 272.2h0.75M237.7 268.5h0.75M225.9 264.3h0.75M231.2 265.9h0.75M236.3 269.8h0.75M226.5 264.8h0.75M237.0 271.1h0.75M235.1 272.2h0.75M233.1 267.2h0.75M231.9 269.0h0.75M228.7 268.8h0.75M220.1 266.9h0.75" stroke="#000" stroke-width="0.75" opacity="1" fill="none"/>
<rect x="183.3" y="222.5" width="62.4" height="61.8" fill="none" stroke="#444" stroke-width="0.8"/>
<line x1="216.6" y1="222.5" x2="216.6" y2="284.3" stroke="#444" stroke-width="0.7000000000000001"/>
<line x1="183.3" y1="262.3" x2="245.7" y2="262.3" stroke="#444" stroke-width="0.7000000000000001"/>
<rect x="226.4" y="223.1" width="18.4" height="5.2" fill="#fff" opacity="0.85"/>
<rect x="226.4" y="278.5" width="18.4" height="5.2" fill="#fff" opacity="0.85"/>
<text font-size="6.5" transform="translate(184.2 227.6) scale(1.13 1)" fill="#111">0.00</text>
<text font-size="6.5" transform="translate(245.2 227.6) scale(1.13 1)" text-anchor="end" fill="#111">28.67</text>
<text font-size="6.5" transform="translate(184.2 283.5) scale(1.13 1)" fill="#111">0.00</text>
<text font-size="6.5" transform="translate(245.2 283.5) scale(1.13 1)" text-anchor="end" fill="#111">71.33</text>
<text font-size="3.7" x="180.7" y="290.3" font-weight="bold" fill="#333">10<tspan dy="-1.3" font-size="3.0">0</tspan></text>
<text font-size="3.7" x="196.3" y="290.3" font-weight="bold" fill="#333">10<tspan dy="-1.3" font-size="3.0">1</tspan></text>
<text font-size="3.7" x="211.9" y="290.3" font-weight="bold" fill="#333">10<tspan dy="-1.3" font-size="3.0">2</tspan></text>
<text font-size="3.7" x="227.5" y="290.3" font-weight="bold" fill="#333">10<tspan dy="-1.3" font-size="3.0">3</tspan></text>
<path d="M299.5 267.1h0.75M301.7 253.0h0.75M299.1 254.2h0.75M306.2 253.6h0.75M297.3 271.8h0.75M302.3 276.7h0.75M300.0 268.4h0.75M295.0 261.2h0.75M307.7 266.0h0.75M299.0 253.8h0.75M304.5 279.1h0.75M301.4 275.5h0.75M302.0 255.4h0.75M303.2 257.4h0.75M300.7 273.3h0.75M300.1 263.4h0.75M292.2 257.2h0.75M299.3 249.6h0.75M303.7 268.8h0.75M300.4 256.1h0.75M293.1 254.6h0.75M300.0 259.0h0.75M290.7 262.1h0.75M294.1 251.2h0.75M297.6 261.4h0.75M301.9 248.6h0.75M299.1 267.2h0.75M302.2 255.5h0.75M294.5 261.0h0.75M298.6 266.4h0.75M289.5 257.5h0.75M298.9 264.4h0.75M303.4 246.0h0.75M297.6 257.0h0.75M296.8 254.1h0.75M298.0 267.4h0.75M300.1 263.5h0.75M296.1 279.3h0.75M290.9 266.1h0.75M300.8 268.7h0.75M296.2 266.2h0.75M293.8 260.2h0.75M305.6 262.0h0.75M307.5 267.8h0.75M294.5 263.7h0.75M294.2 263.4h0.75M305.7 251.8h0.75M303.8 244.9h0.75M293.9 267.1h0.75M296.9 276.6h0.75M294.2 250.6h0.75M300.5 248.1h0.75M295.4 256.6h0.75M292.0 260.0h0.75M298.1 258.8h0.75M301.3 254.1h0.75M298.3 246.5h0.75M291.8 265.2h0.75M293.4 267.0h0.75M307.9 265.3h0.75M296.8 258.2h0.75M306.3 250.8h0.75M293.8 274.1h0.75M303.2 266.4h0.75M297.5 256.5h0.75M296.2 256.3h0.75M295.5 263.4h0.75M290.5 279.0h0.75M290.9 255.9h0.75M299.3 261.3h0.75M297.8 258.1h0.75M302.8 255.2h0.75M302.0 257.8h0.75M305.3 270.7h0.75M304.4 280.8h0.75M298.6 258.2h0.75M299.4 251.0h0.75M300.4 258.8h0.75M307.3 242.1h0.75M301.5 257.3h0.75M300.0 281.3h0.75M290.8 262.2h0.75M293.0 263.8h0.75M289.0 263.6h0.75M302.3 255.8h0.75M304.2 269.2h0.75M297.9 275.0h0.75M299.1 263.7h0.75M300.9 260.8h0.75M289.4 266.4h0.75M299.4 251.8h0.75M314.3 257.1h0.75M300.5 274.9h0.75M310.5 261.8h0.75M302.0 264.2h0.75M294.7 263.8h0.75M293.8 270.6h0.75M308.7 254.8h0.75M300.4 256.7h0.75M308.0 258.0h0.75M297.9 265.9h0.75M306.1 258.3h0.75M298.5 251.4h0.75M297.5 277.9h0.75M304.8 250.6h0.75M302.7 250.7h0.75M309.4 261.9h0.75M297.7 271.7h0.75M297.1 260.3h0.75M301.9 270.7h0.75M303.1 272.5h0.75M288.3 250.7h0.75M291.4 258.0h0.75M299.8 252.6h0.75M302.8 245.5h0.75M297.8 255.8h0.75M296.3 264.9h0.75M300.7 281.5h0.75M302.5 256.8h0.75M299.1 262.8h0.75M299.6 252.9h0.75M294.8 274.0h0.75M292.0 253.9h0.75M306.1 259.1h0.75M292.6 267.6h0.75M305.3 252.4h0.75M294.0 254.0h0.75M306.9 247.2h0.75M291.9 263.3h0.75M294.5 264.4h0.75M301.6 252.6h0.75M305.6 257.2h0.75M307.5 268.7h0.75M309.7 257.3h0.75M306.0 262.6h0.75M304.8 248.7h0.75M308.8 270.0h0.75M292.5 265.4h0.75M304.6 252.9h0.75M305.9 249.2h0.75M294.9 260.2h0.75M296.3 244.2h0.75M299.4 266.6h0.75M299.6 264.2h0.75M300.1 258.1h0.75M299.5 270.7h0.75M306.2 266.8h0.75M302.4 278.8h0.75M295.8 257.5h0.75M303.4 260.5h0.75M302.6 258.5h0.75M304.1 269.9h0.75M303.3 256.7h0.75M304.4 266.4h0.75M302.3 257.9h0.75M306.6 255.5h0.75M303.1 267.9h0.75M302.3 272.4h0.75M305.7 264.3h0.75M312.4 263.8h0.75M304.0 252.6h0.75M298.6 267.5h0.75M296.1 256.5h0.75M302.3 257.8h0.75M295.3 267.7h0.75M298.9 252.0h0.75M306.8 265.9h0.75M295.8 265.3h0.75M304.9 261.5h0.75M292.8 239.4h0.75M300.4 261.1h0.75M299.9 262.9h0.75M295.8 258.4h0.75M306.2 251.1h0.75M295.6 254.0h0.75M303.4 277.0h0.75M296.1 266.7h0.75M293.0 250.6h0.75M308.0 254.8h0.75M308.5 252.0h0.75M298.4 260.2h0.75M303.1 254.3h0.75M293.7 254.0h0.75M308.8 245.7h0.75M291.7 259.3h0.75M292.9 260.3h0.75M300.3 262.6h0.75M302.4 251.2h0.75M302.5 261.0h0.75M299.5 254.2h0.75M295.5 256.4h0.75M309.5 268.5h0.75M296.5 250.5h0.75M296.8 265.0h0.75M301.7 274.9h0.75M299.4 273.4h0.75M297.4 261.4h0.75M306.1 255.4h0.75M313.3 258.6h0.75M309.0 255.5h0.75M298.5 256.7h0.75M300.6 268.8h0.75M306.5 268.5h0.75M300.7 253.3h0.75M292.4 269.8h0.75M295.8 259.5h0.75M304.6 253.4h0.75M295.4 258.1h0.75M291.2 260.0h0.75M303.2 264.7h0.75M304.9 264.4h0.75M296.9 259.9h0.75M296.1 255.6h0.75M296.7 274.7h0.75M301.9 263.0h0.75M288.7 262.4h0.75M294.5 261.1h0.75M291.3 283.4h0.75M297.7 259.7h0.75M291.6 245.8h0.75M302.6 267.7h0.75M300.6 262.9h0.75M290.1 262.0h0.75M292.2 266.3h0.75M299.3 256.6h0.75M302.2 244.3h0.75M298.3 276.0h0.75M295.4 263.0h0.75M300.5 252.1h0.75M303.3 272.4h0.75M300.1 252.8h0.75M295.0 264.5h0.75M307.5 269.1h0.75M303.0 272.1h0.75M303.9 280.2h0.75M301.2 268.5h0.75M304.0 264.7h0.75M289.4 268.9h0.75M310.1 267.0h0.75M294.5 275.3h0.75M290.7 270.9h0.75M289.7 274.2h0.75M304.5 267.2h0.75M304.7 256.0h0.75M293.0 275.6h0.75M297.1 268.0h0.75M294.9 278.7h0.75M297.8 278.0h0.75M304.7 255.0h0.75M295.3 258.3h0.75M290.3 254.7h0.75M295.9 268.6h0.75M300.9 262.5h0.75M304.2 260.9h0.75M299.8 262.2h0.75M291.6 269.1h0.75M306.2 275.0h0.75M296.9 280.3h0.75M300.3 270.8h0.75M298.3 263.9h0.75M301.4 270.7h0.75M297.4 266.2h0.75M302.9 271.2h0.75M302.9 249.9h0.75M308.9 255.3h0.75M303.7 255.6h0.75M297.7 258.0h0.75M288.8 257.5h0.75M297.7 277.2h0.75M298.4 258.0h0.75M302.6 268.2h0.75M299.2 267.1h0.75M290.8 255.7h0.75M310.5 252.7h0.75M291.0 248.7h0.75M295.3 277.8h0.75M309.6 275.7h0.75M314.6 276.3h0.75M304.4 246.0h0.75M306.9 258.4h0.75M300.6 251.7h0.75M299.8 248.1h0.75M309.1 275.2h0.75M299.3 249.3h0.75M300.2 258.0h0.75M297.4 269.1h0.75M303.6 263.0h0.75M306.4 269.0h0.75M302.0 264.8h0.75M299.9 243.4h0.75M291.4 266.7h0.75M301.9 268.1h0.75M298.6 250.7h0.75M305.8 258.1h0.75M299.2 255.3h0.75M299.1 256.0h0.75M294.5 264.6h0.75M297.1 263.3h0.75M300.0 261.3h0.75M297.6 254.9h0.75M301.7 270.2h0.75M297.8 275.2h0.75M300.4 272.0h0.75M292.2 262.5h0.75M297.2 248.3h0.75M291.2 268.0h0.75M310.5 239.1h0.75M297.7 274.6h0.75M302.4 257.4h0.75M285.9 262.8h0.75M307.6 273.9h0.75M291.1 265.0h0.75M301.7 251.8h0.75M291.2 255.4h0.75M304.3 252.6h0.75M298.3 260.3h0.75M304.1 279.8h0.75M301.2 270.7h0.75M312.9 241.8h0.75M308.7 264.6h0.75M308.5 272.5h0.75M303.8 259.7h0.75M297.4 261.5h0.75M297.5 268.6h0.75M302.1 272.4h0.75M300.9 262.1h0.75M305.4 267.4h0.75M291.6 272.7h0.75M298.1 254.2h0.75M296.8 254.6h0.75M298.6 254.0h0.75M293.2 257.7h0.75M303.9 262.5h0.75M299.8 265.8h0.75M301.3 259.1h0.75M303.1 268.0h0.75M287.3 256.8h0.75M299.2 274.5h0.75M301.4 243.9h0.75M300.7 264.5h0.75M299.7 262.9h0.75M304.1 269.5h0.75M290.3 252.5h0.75M300.6 248.2h0.75M309.9 256.1h0.75M299.9 271.1h0.75M295.6 254.0h0.75M302.0 253.6h0.75M303.4 265.7h0.75M303.0 261.9h0.75M295.8 253.4h0.75M289.6 247.3h0.75M296.5 269.0h0.75M304.5 248.4h0.75M300.6 258.9h0.75M300.6 256.7h0.75M297.9 275.5h0.75M296.0 254.1h0.75M305.7 267.1h0.75M300.3 279.9h0.75M303.4 258.9h0.75M303.9 259.4h0.75M297.2 270.5h0.75M292.3 266.2h0.75M296.9 256.6h0.75M299.7 252.8h0.75M302.7 254.1h0.75M297.9 260.1h0.75M299.6 276.9h0.75M292.3 260.5h0.75M299.6 270.9h0.75M302.8 255.5h0.75M301.5 272.2h0.75M302.3 260.2h0.75M299.7 251.9h0.75M293.2 254.4h0.75M308.1 256.3h0.75M305.4 256.4h0.75M306.5 254.4h0.75M292.0 264.5h0.75" stroke="#888" stroke-width="0.75" opacity="1" fill="none"/>
<path d="M298.8 254.9h0.75M302.4 258.5h0.75M294.1 255.7h0.75M296.0 261.1h0.75M301.7 255.3h0.75M298.6 251.6h0.75M294.1 256.6h0.75M299.5 252.5h0.75M303.5 257.5h0.75M303.6 249.1h0.75M296.7 257.5h0.75M300.2 257.0h0.75M295.3 254.4h0.75M293.4 258.2h0.75M294.9 256.3h0.75M301.2 262.2h0.75M301.9 256.4h0.75M290.7 255.0h0.75M294.5 259.6h0.75M292.1 255.0h0.75M290.0 254.2h0.75M296.4 254.9h0.75M299.3 254.9h0.75M301.0 256.7h0.75M295.4 251.0h0.75M301.9 258.5h0.75M296.5 249.7h0.75M295.5 253.7h0.75M299.5 256.4h0.75M300.5 259.0h0.75M295.5 251.7h0.75M296.6 252.3h0.75M299.7 260.5h0.75M299.5 252.2h0.75M302.0 263.0h0.75M301.7 259.3h0.75M295.2 258.2h0.75M299.8 253.9h0.75M300.9 247.4h0.75M303.0 245.5h0.75M298.3 254.0h0.75M297.4 257.2h0.75M297.2 260.0h0.75M292.0 260.3h0.75M303.0 253.8h0.75M291.4 254.5h0.75M298.9 256.1h0.75M301.1 252.4h0.75M301.1 250.9h0.75M294.9 254.5h0.75M297.7 246.0h0.75M295.6 255.1h0.75M295.7 257.5h0.75M299.5 252.5h0.75M294.8 254.4h0.75M304.6 259.6h0.75M295.3 250.0h0.75M294.5 264.5h0.75M294.7 256.4h0.75M302.8 257.5h0.75M295.2 250.9h0.75M300.5 258.8h0.75M297.2 255.9h0.75M302.0 256.5h0.75M301.9 259.4h0.75M299.0 262.7h0.75M296.6 259.0h0.75M294.7 260.7h0.75M292.5 250.9h0.75M295.2 263.6h0.75M299.2 263.2h0.75M300.4 250.1h0.75M298.1 257.3h0.75M296.3 259.5h0.75M300.4 255.1h0.75M296.5 251.7h0.75M306.3 261.7h0.75M298.2 257.5h0.75M298.6 256.5h0.75M297.6 255.2h0.75M297.8 252.9h0.75M296.1 263.0h0.75M301.6 261.0h0.75M304.1 254.6h0.75M297.5 258.0h0.75M298.7 254.3h0.75M294.9 259.6h0.75M299.9 250.8h0.75M295.1 255.7h0.75M296.5 249.4h0.75M299.4 251.6h0.75M298.3 251.6h0.75M300.5 260.1h0.75M299.8 256.3h0.75M301.1 255.5h0.75M306.0 252.2h0.75M294.6 262.8h0.75M303.4 252.4h0.75M297.0 259.9h0.75M295.7 249.9h0.75M301.1 253.4h0.75M297.8 254.2h0.75M299.7 252.9h0.75M297.9 254.9h0.75M294.9 258.2h0.75M294.0 256.0h0.75M304.4 255.0h0.75M297.2 256.6h0.75M299.7 262.6h0.75M297.1 250.8h0.75M297.8 252.9h0.75M294.3 256.3h0.75M296.1 259.5h0.75M301.1 259.2h0.75M295.5 251.6h0.75M299.4 248.0h0.75M295.7 252.2h0.75M296.0 258.3h0.75M299.1 254.9h0.75M300.0 258.7h0.75M299.9 261.0h0.75M302.9 254.3h0.75M294.2 254.2h0.75M295.1 258.7h0.75M297.3 252.1h0.75M298.6 258.1h0.75M302.2 256.5h0.75M297.1 253.3h0.75M294.7 253.5h0.75M299.2 257.2h0.75M298.9 246.7h0.75M296.8 260.7h0.75M294.3 257.6h0.75M296.2 260.0h0.75M299.4 258.1h0.75M300.0 259.8h0.75M294.8 252.1h0.75M296.2 260.9h0.75M291.1 259.5h0.75M296.9 257.3h0.75M295.4 257.0h0.75M300.5 249.8h0.75M301.6 254.2h0.75M298.4 249.8h0.75M299.2 256.5h0.75M304.3 249.8h0.75M297.1 256.6h0.75M299.6 262.8h0.75M294.4 260.4h0.75M297.2 252.4h0.75M299.8 256.9h0.75M297.8 258.6h0.75M293.0 255.9h0.75M295.4 255.3h0.75M298.6 255.1h0.75M299.1 251.6h0.75M298.0 255.3h0.75M306.1 257.5h0.75M294.2 256.3h0.75M304.5 258.0h0.75M293.4 263.0h0.75M300.5 257.9h0.75M302.5 248.7h0.75M298.9 254.6h0.75M299.0 248.0h0.75M301.7 251.0h0.75M299.7 259.9h0.75M298.5 256.3h0.75M293.9 253.0h0.75M298.9 254.5h0.75M300.1 251.7h0.75M297.9 252.3h0.75M292.7 256.2h0.75M297.5 256.5h0.75M296.4 261.3h0.75M307.3 261.3h0.75M293.9 255.1h0.75M302.7 259.2h0.75M294.9 253.9h0.75M298.2 253.5h0.75M298.7 263.8h0.75M301.6 264.3h0.75M302.3 244.6h0.75M299.7 250.5h0.75M299.5 262.6h0.75M299.5 246.1h0.75M298.0 254.2h0.75M300.9 250.3h0.75M297.0 255.1h0.75M298.2 257.0h0.75M301.6 256.3h0.75M303.1 256.7h0.75M305.5 259.1h0.75M298.5 251.5h0.75M296.8 253.7h0.75M302.3 254.5h0.75M297.8 257.4h0.75M297.8 258.6h0.75M296.1 252.7h0.75M297.1 259.6h0.75M294.7 247.3h0.75M298.2 253.4h0.75M299.2 254.7h0.75M303.1 256.9h0.75M296.4 254.6h0.75M303.3 253.1h0.75M299.1 262.3h0.75M300.4 259.5h0.75M294.6 256.4h0.75M302.7 258.5h0.75M292.0 260.4h0.75M300.7 256.3h0.75M300.4 251.8h0.75M303.0 261.1h0.75M300.6 259.5h0.75M294.0 255.0h0.75M298.0 258.5h0.75M293.8 256.1h0.75M302.0 252.1h0.75M303.4 257.8h0.75M296.3 252.2h0.75M303.2 253.7h0.75M295.5 255.2h0.75M301.6 260.6h0.75M296.9 247.7h0.75M302.8 256.0h0.75M297.0 256.0h0.75M292.6 261.9h0.75M299.5 263.9h0.75M293.4 252.1h0.75M292.9 260.9h0.75M295.9 256.4h0.75M295.4 250.9h0.75M295.7 256.8h0.75M296.4 253.8h0.75M298.3 253.4h0.75M297.8 251.1h0.75M292.9 250.3h0.75M294.4 258.6h0.75M292.9 250.4h0.75M306.4 253.9h0.75M301.6 251.9h0.75M296.7 254.6h0.75M296.4 257.5h0.75M298.3 260.0h0.75M297.0 256.7h0.75M295.1 260.2h0.75M293.7 250.0h0.75M295.5 253.0h0.75M292.5 248.5h0.75M294.6 256.1h0.75M303.1 252.7h0.75M294.8 255.9h0.75M300.7 260.9h0.75M300.4 252.9h0.75M300.6 246.6h0.75M298.9 262.2h0.75M300.8 264.8h0.75M296.4 256.1h0.75M297.5 258.9h0.75M301.7 255.4h0.75M300.1 257.2h0.75M298.6 250.2h0.75M298.7 259.1h0.75M296.1 249.2h0.75M301.2 262.1h0.75M297.2 259.8h0.75M293.5 260.7h0.75M297.0 260.3h0.75M294.1 256.8h0.75M295.8 248.1h0.75M292.7 257.8h0.75M296.1 258.7h0.75M299.3 258.7h0.75M296.8 253.1h0.75M297.2 257.3h0.75M295.3 257.8h0.75M298.0 255.7h0.75M302.4 259.4h0.75M292.0 251.1h0.75M305.1 261.8h0.75M298.7 252.0h0.75M295.1 256.8h0.75M302.0 253.6h0.75M300.1 257.7h0.75M295.7 259.3h0.75M291.7 254.8h0.75M296.2 262.3h0.75M296.4 250.4h0.75M295.7 248.1h0.75M299.4 250.4h0.75M299.4 256.3h0.75M298.7 256.1h0.75M299.4 259.2h0.75M294.3 257.7h0.75M293.1 254.4h0.75M294.1 260.6h0.75M299.2 253.8h0.75M297.0 251.5h0.75M300.1 252.1h0.75M299.9 260.7h0.75M291.3 262.7h0.75M300.9 260.9h0.75M295.0 249.0h0.75M296.8 254.3h0.75M298.3 250.8h0.75M305.9 258.2h0.75M299.4 256.5h0.75M291.6 258.6h0.75M295.9 248.9h0.75M294.7 254.4h0.75M302.5 261.9h0.75M294.8 259.2h0.75M298.0 258.6h0.75M298.0 253.3h0.75M293.5 257.6h0.75M295.1 252.4h0.75M300.3 264.3h0.75M303.4 253.3h0.75M304.0 248.5h0.75M300.2 256.6h0.75M297.1 256.9h0.75M294.0 252.0h0.75M292.6 251.0h0.75M293.9 253.0h0.75M298.2 248.7h0.75M298.9 255.3h0.75M296.2 254.1h0.75M300.4 248.9h0.75M298.1 254.4h0.75M299.2 257.6h0.75M304.5 254.8h0.75M300.7 250.2h0.75M293.3 252.0h0.75M291.0 258.2h0.75M296.9 251.8h0.75M298.1 261.0h0.75M295.4 256.0h0.75M302.4 262.2h0.75M300.7 254.4h0.75M298.1 273.1h0.75M301.1 268.5h0.75M293.3 275.6h0.75M295.1 267.6h0.75M295.1 269.6h0.75M302.2 270.6h0.75M291.6 275.6h0.75M307.1 271.1h0.75M290.9 272.2h0.75M301.5 270.6h0.75M304.4 275.8h0.75M298.4 270.6h0.75M300.5 271.6h0.75M298.5 275.5h0.75M304.8 274.5h0.75M292.8 272.6h0.75M297.6 266.2h0.75M306.9 266.8h0.75M293.3 264.7h0.75M293.5 272.0h0.75M306.8 273.8h0.75M301.0 273.6h0.75M297.5 270.8h0.75M298.7 268.5h0.75M306.2 266.7h0.75M300.4 271.4h0.75M291.4 267.3h0.75M301.4 268.6h0.75M300.1 269.8h0.75M299.4 269.6h0.75M298.3 273.5h0.75M291.4 268.2h0.75M301.5 272.2h0.75M303.0 271.7h0.75M287.5 274.0h0.75M295.7 270.7h0.75M292.7 273.1h0.75M300.2 267.7h0.75M302.2 273.9h0.75M302.7 265.5h0.75M303.1 272.7h0.75M311.3 273.1h0.75M308.6 271.7h0.75M290.3 265.6h0.75M305.5 272.7h0.75M300.4 275.0h0.75M299.0 271.4h0.75M301.0 271.2h0.75M296.9 270.9h0.75M301.8 274.7h0.75M299.5 272.2h0.75M302.3 268.5h0.75M294.4 271.3h0.75M297.7 268.2h0.75M296.6 266.2h0.75M305.1 272.4h0.75M305.6 264.5h0.75M299.2 271.8h0.75M295.7 273.5h0.75M299.3 272.2h0.75M299.2 270.2h0.75M297.1 271.1h0.75M306.2 270.7h0.75M295.6 269.2h0.75M303.8 275.1h0.75M302.6 272.2h0.75M303.2 268.0h0.75M297.2 272.4h0.75M301.3 276.6h0.75M296.9 273.5h0.75M307.5 268.4h0.75M298.8 272.9h0.75M301.5 272.0h0.75M307.2 274.5h0.75M294.6 269.0h0.75M294.9 270.4h0.75M303.2 271.6h0.75M304.2 272.8h0.75M296.5 265.4h0.75M296.8 267.6h0.75M292.8 270.0h0.75M309.2 269.6h0.75M303.3 272.9h0.75M299.7 268.5h0.75M309.0 271.0h0.75M309.6 271.8h0.75M299.0 271.0h0.75M297.1 269.1h0.75M302.5 268.8h0.75M303.0 267.9h0.75M290.5 270.2h0.75M305.0 268.9h0.75M309.3 274.5h0.75M298.8 274.5h0.75M298.1 270.9h0.75M301.7 270.8h0.75M305.7 267.8h0.75M294.2 266.5h0.75M297.9 270.3h0.75M293.8 272.7h0.75M292.3 268.2h0.75M307.2 269.2h0.75M300.6 263.0h0.75M299.6 271.2h0.75M298.6 272.9h0.75M298.2 271.1h0.75M295.7 270.5h0.75M299.3 273.7h0.75M296.0 268.0h0.75M297.5 269.3h0.75M298.1 274.6h0.75M297.2 276.2h0.75M305.5 271.1h0.75M298.9 271.3h0.75M295.2 272.6h0.75M302.0 270.1h0.75M297.0 272.5h0.75M292.8 269.4h0.75M294.5 266.1h0.75M294.4 272.6h0.75M305.8 268.4h0.75M296.6 272.6h0.75M300.2 269.1h0.75M296.1 274.0h0.75M290.4 267.0h0.75M299.4 271.9h0.75M295.1 268.3h0.75M305.1 271.5h0.75M293.3 272.0h0.75M298.1 274.3h0.75M304.0 268.4h0.75M295.7 270.9h0.75M297.0 272.5h0.75M298.1 276.0h0.75M294.2 266.9h0.75M296.7 269.5h0.75M296.8 269.2h0.75M294.9 272.2h0.75M299.1 270.0h0.75M292.1 272.5h0.75M306.3 270.5h0.75M299.4 274.3h0.75M299.1 273.4h0.75M297.3 268.8h0.75M306.6 267.1h0.75M303.0 274.5h0.75M300.3 271.1h0.75M304.5 268.1h0.75M298.9 271.9h0.75M300.2 266.4h0.75M300.6 269.7h0.75M306.2 276.7h0.75M292.1 271.8h0.75M297.6 264.2h0.75M302.5 277.7h0.75M297.2 275.8h0.75M306.9 272.4h0.75M300.3 276.0h0.75M290.5 270.4h0.75M294.6 272.4h0.75M299.8 272.0h0.75M302.0 277.0h0.75M306.9 271.3h0.75M298.2 274.8h0.75M301.5 273.9h0.75M286.2 274.3h0.75M304.9 263.8h0.75M299.9 272.1h0.75M290.8 274.3h0.75M301.3 268.2h0.75M295.1 270.8h0.75M299.8 269.6h0.75M301.0 274.7h0.75M300.2 270.8h0.75M309.1 274.2h0.75M297.6 271.0h0.75M296.5 270.6h0.75M297.5 268.6h0.75M302.9 269.9h0.75M295.2 269.5h0.75M294.3 270.7h0.75M298.4 268.6h0.75M304.2 271.7h0.75M303.6 271.4h0.75M302.5 266.8h0.75M297.9 273.8h0.75M296.8 272.0h0.75M292.0 266.1h0.75M292.1 276.6h0.75M302.4 268.6h0.75M301.4 270.7h0.75M301.3 269.8h0.75M299.2 274.0h0.75M303.4 271.5h0.75M302.5 271.4h0.75M301.1 268.3h0.75M298.5 275.0h0.75M300.1 272.3h0.75M307.4 274.3h0.75M308.7 274.0h0.75M308.0 268.1h0.75M302.1 271.3h0.75M291.4 271.9h0.75M300.8 271.5h0.75M301.8 271.2h0.75M308.1 270.0h0.75M299.9 266.4h0.75M298.6 272.6h0.75M301.9 272.9h0.75M300.3 271.7h0.75M297.1 275.6h0.75M294.5 270.5h0.75M292.9 273.8h0.75M298.0 270.9h0.75M292.8 275.5h0.75M296.5 274.2h0.75M299.7 271.0h0.75M298.8 269.1h0.75M302.1 273.0h0.75M311.6 266.7h0.75M298.5 268.6h0.75M297.2 267.4h0.75M294.6 273.2h0.75M296.8 270.3h0.75M303.9 271.8h0.75M301.2 270.7h0.75M300.1 269.8h0.75M306.3 270.7h0.75M296.5 270.1h0.75M300.9 269.4h0.75M307.6 272.2h0.75M302.8 271.5h0.75M294.4 269.8h0.75M302.4 271.5h0.75M297.0 267.3h0.75M295.4 272.6h0.75M288.6 276.1h0.75M286.8 268.8h0.75M306.7 270.4h0.75M297.8 265.9h0.75M297.4 272.1h0.75M295.7 271.5h0.75M296.5 269.6h0.75M297.2 275.0h0.75M305.9 274.7h0.75M293.9 267.8h0.75M294.6 270.3h0.75M303.7 275.2h0.75M292.2 273.6h0.75M297.1 269.8h0.75M304.0 266.4h0.75M304.2 276.8h0.75M305.5 268.7h0.75M301.2 272.5h0.75M294.5 275.5h0.75M299.1 274.1h0.75M298.8 269.7h0.75M297.4 272.9h0.75M302.1 274.6h0.75M291.5 266.3h0.75M303.5 270.5h0.75M305.9 272.7h0.75M298.5 271.7h0.75M297.7 268.5h0.75M300.7 269.7h0.75M299.1 270.5h0.75M292.9 270.7h0.75M301.1 268.4h0.75M303.0 269.4h0.75M310.5 264.4h0.75M305.5 275.7h0.75M300.8 268.4h0.75M299.1 276.5h0.75M298.5 272.3h0.75M299.8 270.0h0.75M301.3 275.0h0.75M308.4 267.4h0.75M297.9 270.2h0.75M305.0 269.5h0.75M296.0 269.6h0.75" stroke="#3a3a3a" stroke-width="0.75" opacity="1" fill="none"/>
<path d="M298.9 256.0h0.75M296.2 253.1h0.75M298.4 251.8h0.75M295.6 253.4h0.75M299.9 253.6h0.75M296.9 253.5h0.75M298.1 258.1h0.75M303.1 259.0h0.75M298.5 253.1h0.75M300.7 249.6h0.75M301.5 256.0h0.75M296.0 257.8h0.75M299.2 257.3h0.75M297.2 251.5h0.75M300.3 257.0h0.75M296.4 256.3h0.75M301.4 256.2h0.75M293.8 254.5h0.75M300.3 258.7h0.75M296.6 256.6h0.75M296.6 257.2h0.75M298.3 257.9h0.75M298.2 255.6h0.75M298.0 257.2h0.75M299.8 250.7h0.75M297.1 258.4h0.75M296.2 257.2h0.75M298.9 257.5h0.75M299.1 254.9h0.75M300.8 252.8h0.75M300.2 253.9h0.75M297.5 258.4h0.75M297.2 256.1h0.75M298.4 253.6h0.75M298.1 250.4h0.75M296.5 255.2h0.75M299.4 255.2h0.75M295.0 255.4h0.75M301.6 256.2h0.75M298.9 255.9h0.75M297.7 253.8h0.75M297.9 256.2h0.75M295.8 258.4h0.75M298.3 259.8h0.75M298.1 258.2h0.75M295.2 257.3h0.75M297.6 255.2h0.75M295.5 258.7h0.75M298.4 258.6h0.75M300.4 253.6h0.75M293.9 256.0h0.75M297.3 252.9h0.75M297.5 254.8h0.75M296.1 256.0h0.75M296.7 256.0h0.75M300.6 257.9h0.75M298.8 259.4h0.75M298.2 256.3h0.75M298.0 251.7h0.75M298.0 252.7h0.75M301.4 256.7h0.75M296.3 258.4h0.75M298.1 253.7h0.75M300.4 257.8h0.75M299.4 259.3h0.75M294.9 253.3h0.75M297.3 256.3h0.75M295.9 254.5h0.75M299.2 262.1h0.75M299.4 252.3h0.75M300.3 257.0h0.75M298.7 254.5h0.75M295.8 253.5h0.75M302.1 258.4h0.75M295.7 255.9h0.75M295.3 254.3h0.75M298.5 260.8h0.75M294.6 260.0h0.75M300.0 252.6h0.75M296.0 259.3h0.75M302.5 258.1h0.75M298.6 257.5h0.75M296.5 254.4h0.75M295.9 255.4h0.75M297.0 256.3h0.75M296.9 259.0h0.75M295.3 258.3h0.75M298.5 259.1h0.75M297.8 260.5h0.75M297.1 260.6h0.75M295.9 257.6h0.75M298.7 255.4h0.75M298.6 255.7h0.75M298.8 256.9h0.75M295.0 256.0h0.75M299.5 253.4h0.75M299.0 257.4h0.75M300.1 256.1h0.75M296.0 254.5h0.75M296.8 258.7h0.75M300.5 257.2h0.75M296.8 258.8h0.75M295.3 259.2h0.75M297.2 256.4h0.75M295.7 258.5h0.75M299.2 259.4h0.75M297.1 261.7h0.75M292.6 256.3h0.75M298.9 257.9h0.75M296.5 256.6h0.75M296.8 257.6h0.75M298.4 253.9h0.75M300.0 251.8h0.75M297.2 257.6h0.75M293.5 253.0h0.75M301.8 258.7h0.75M295.6 255.9h0.75M298.6 263.4h0.75M298.3 257.8h0.75M298.6 254.7h0.75M297.8 255.7h0.75M297.4 256.0h0.75M296.4 253.6h0.75M298.4 257.7h0.75M301.6 261.7h0.75M297.4 256.0h0.75M298.7 257.5h0.75M296.9 254.8h0.75M304.3 256.0h0.75M294.4 254.4h0.75M299.1 256.1h0.75M295.8 254.2h0.75M303.1 252.7h0.75M300.5 256.4h0.75M300.9 256.7h0.75M300.0 255.5h0.75M297.3 258.9h0.75M295.7 251.7h0.75M299.3 256.7h0.75M296.8 257.1h0.75M298.8 269.6h0.75M297.9 272.8h0.75M295.8 275.7h0.75M298.2 269.3h0.75M302.6 271.6h0.75M299.8 274.5h0.75M298.9 271.2h0.75M304.6 271.5h0.75M297.0 271.1h0.75M300.7 273.7h0.75M297.0 270.1h0.75M299.8 272.3h0.75M298.1 270.5h0.75M294.4 272.7h0.75M298.3 268.5h0.75M301.5 271.4h0.75M295.3 272.7h0.75M302.3 272.5h0.75M306.5 270.6h0.75M295.9 272.0h0.75M299.8 273.2h0.75M298.5 269.5h0.75M296.1 273.6h0.75M298.8 271.2h0.75M301.8 269.9h0.75M300.8 268.6h0.75M298.9 270.4h0.75M301.3 272.8h0.75M298.8 271.5h0.75M293.7 270.4h0.75M300.4 275.6h0.75M304.0 274.4h0.75M298.6 269.8h0.75M295.2 270.8h0.75M295.2 273.5h0.75M297.6 268.3h0.75M295.6 274.4h0.75M301.2 272.0h0.75M296.2 269.9h0.75M303.1 273.0h0.75M300.3 269.0h0.75M300.8 274.4h0.75M296.9 268.0h0.75M295.3 271.0h0.75M294.4 271.9h0.75M298.0 272.3h0.75M297.4 271.5h0.75M300.7 274.3h0.75M304.4 271.8h0.75M296.2 267.8h0.75M297.3 269.1h0.75M299.5 272.2h0.75M302.3 268.7h0.75M300.8 275.8h0.75M296.1 268.6h0.75M299.0 269.7h0.75M296.9 272.1h0.75M300.9 273.3h0.75M294.9 273.7h0.75M298.2 272.1h0.75M302.2 271.8h0.75M305.0 270.8h0.75M296.0 268.7h0.75M303.9 271.8h0.75M297.0 270.6h0.75M303.3 271.9h0.75M302.0 272.2h0.75M303.0 271.8h0.75M306.1 272.3h0.75M298.9 270.7h0.75M306.3 271.6h0.75M301.2 268.5h0.75M293.4 271.7h0.75M298.4 268.0h0.75M298.6 272.0h0.75M294.8 271.7h0.75M301.9 270.1h0.75M298.9 271.7h0.75M302.2 275.1h0.75M303.2 271.4h0.75M302.0 270.5h0.75M301.6 269.4h0.75M296.4 272.3h0.75M300.7 271.7h0.75M303.0 272.4h0.75M298.8 271.3h0.75M298.0 271.5h0.75M296.7 270.3h0.75M297.4 270.7h0.75M302.6 270.0h0.75M298.7 267.9h0.75M297.9 271.5h0.75M295.2 270.2h0.75M298.9 269.0h0.75M296.8 271.1h0.75M299.4 272.1h0.75M296.1 273.7h0.75M301.8 272.1h0.75M297.7 270.8h0.75M305.6 274.5h0.75M299.0 270.3h0.75M302.0 271.1h0.75M300.7 274.8h0.75M297.1 272.1h0.75M290.9 270.7h0.75M298.9 273.7h0.75M298.2 271.2h0.75M300.9 272.2h0.75M299.0 268.5h0.75M302.2 272.7h0.75M299.4 270.3h0.75M294.9 271.2h0.75M297.1 270.6h0.75M297.4 269.1h0.75M300.8 271.0h0.75M299.2 272.2h0.75M297.2 269.7h0.75M294.4 270.6h0.75M301.1 273.5h0.75M302.3 273.1h0.75M300.0 270.5h0.75M297.4 270.8h0.75M298.3 269.4h0.75M299.9 272.8h0.75M297.3 268.1h0.75M297.7 273.9h0.75M295.6 273.0h0.75M296.8 271.2h0.75M299.1 271.5h0.75M300.9 270.8h0.75M296.0 268.1h0.75M294.8 273.3h0.75M299.3 273.9h0.75M295.8 270.0h0.75M299.3 270.6h0.75M295.1 273.1h0.75M298.2 270.5h0.75M298.3 271.6h0.75M298.0 271.3h0.75M302.4 270.0h0.75M299.5 270.7h0.75M297.3 271.8h0.75M295.7 272.7h0.75M302.7 267.0h0.75M295.8 274.0h0.75M302.1 267.8h0.75M298.8 274.4h0.75M302.5 272.2h0.75M300.8 270.6h0.75M296.4 273.3h0.75M296.3 273.5h0.75M299.8 271.8h0.75M300.6 271.8h0.75M296.7 271.0h0.75M295.1 274.4h0.75M297.7 267.3h0.75M301.0 270.6h0.75M300.7 273.4h0.75M299.4 270.2h0.75M297.9 271.8h0.75M299.9 269.9h0.75M294.3 272.2h0.75M301.8 271.9h0.75M295.6 274.5h0.75M302.8 272.4h0.75M296.7 270.9h0.75M302.7 267.8h0.75M294.3 275.3h0.75M294.6 270.1h0.75M297.0 272.0h0.75M303.1 271.9h0.75M295.6 271.9h0.75M293.2 272.1h0.75M301.1 274.5h0.75M295.9 271.3h0.75M294.7 273.3h0.75M295.9 270.8h0.75M298.9 273.3h0.75M296.2 270.4h0.75M295.9 272.6h0.75M294.1 271.6h0.75M298.2 273.0h0.75M298.7 272.0h0.75M299.4 269.6h0.75M303.8 273.7h0.75M298.8 272.3h0.75M294.4 268.3h0.75M297.4 271.5h0.75M298.6 269.6h0.75M299.3 268.1h0.75M301.6 271.3h0.75M300.8 268.3h0.75M298.5 274.8h0.75M297.0 273.3h0.75M296.6 271.2h0.75M296.7 271.2h0.75M295.9 277.1h0.75M295.1 273.2h0.75M297.5 273.3h0.75M297.7 271.0h0.75M296.9 269.6h0.75M298.6 270.5h0.75M298.7 272.4h0.75M296.7 274.7h0.75M299.5 270.0h0.75M297.9 272.6h0.75M299.3 271.0h0.75M295.2 267.3h0.75M296.3 274.1h0.75M297.3 272.6h0.75M297.9 272.3h0.75M298.3 271.4h0.75M302.1 268.8h0.75M300.9 270.3h0.75M297.9 271.2h0.75M305.2 276.1h0.75M298.6 274.2h0.75M300.2 270.1h0.75M300.9 268.7h0.75M300.0 270.4h0.75M291.5 270.1h0.75M300.9 270.4h0.75M299.5 271.4h0.75M299.1 273.1h0.75M298.0 267.4h0.75M297.6 273.7h0.75M292.5 272.1h0.75M299.1 273.8h0.75M295.5 268.7h0.75M299.8 268.2h0.75M301.6 272.9h0.75M299.2 273.3h0.75M303.5 273.2h0.75M297.5 273.6h0.75M297.0 268.4h0.75M297.4 270.9h0.75M297.1 274.9h0.75M293.1 268.3h0.75M295.0 272.4h0.75M303.7 272.8h0.75M302.8 269.8h0.75M300.4 271.7h0.75M290.5 270.4h0.75M299.7 272.8h0.75M299.3 269.2h0.75M301.2 271.1h0.75M297.2 267.8h0.75M293.6 272.6h0.75M298.6 272.2h0.75M294.1 272.2h0.75M301.1 267.7h0.75M301.1 268.4h0.75M301.5 270.2h0.75M299.8 268.5h0.75M301.0 272.5h0.75M302.1 274.1h0.75M300.8 271.1h0.75M298.5 271.1h0.75M296.1 271.2h0.75M296.8 269.8h0.75M300.0 272.6h0.75M300.6 270.2h0.75M300.7 270.5h0.75M299.8 271.0h0.75M293.8 274.0h0.75M299.7 274.7h0.75M302.9 271.4h0.75M298.6 270.7h0.75M303.4 268.6h0.75M297.0 269.6h0.75M297.9 269.5h0.75M298.4 271.6h0.75M295.7 272.9h0.75M297.9 271.1h0.75M296.2 273.1h0.75M303.9 271.2h0.75M299.3 268.2h0.75M304.5 271.1h0.75M300.4 271.2h0.75M292.7 269.6h0.75M296.2 270.5h0.75M305.4 272.5h0.75M298.4 269.5h0.75M301.1 270.0h0.75M294.2 271.7h0.75M300.1 271.3h0.75M296.1 271.4h0.75M299.8 267.5h0.75M303.2 271.9h0.75M300.5 270.2h0.75M294.7 271.7h0.75M303.0 271.0h0.75M294.3 272.0h0.75M300.6 271.6h0.75M298.5 272.9h0.75M298.4 274.4h0.75M297.4 267.7h0.75M299.3 272.2h0.75M304.9 268.8h0.75M298.2 272.2h0.75M295.1 270.6h0.75M295.1 275.3h0.75M295.4 269.4h0.75M298.3 269.5h0.75M299.6 271.8h0.75M301.8 272.1h0.75M299.1 271.2h0.75M295.1 270.6h0.75M295.0 271.4h0.75M301.5 272.7h0.75M303.4 271.4h0.75M297.9 273.4h0.75M294.4 272.4h0.75M297.1 270.7h0.75M300.9 273.3h0.75M295.0 270.3h0.75M300.5 268.0h0.75M296.7 271.5h0.75M296.2 275.3h0.75M304.5 272.8h0.75M295.6 271.3h0.75M295.7 271.2h0.75M296.6 270.2h0.75M298.8 272.5h0.75M296.2 274.0h0.75M297.4 271.4h0.75M296.7 268.3h0.75M301.1 272.8h0.75M298.6 271.0h0.75M299.8 270.1h0.75M294.2 274.3h0.75M300.6 272.5h0.75M300.7 271.0h0.75M294.1 270.9h0.75M299.7 270.0h0.75M301.8 272.5h0.75M300.6 272.2h0.75M297.1 271.1h0.75M299.9 267.4h0.75M300.9 274.1h0.75M299.7 269.8h0.75M298.5 273.8h0.75M300.8 271.4h0.75M305.2 273.1h0.75M297.6 274.0h0.75M297.9 272.1h0.75M296.3 269.8h0.75M301.6 271.5h0.75M299.1 269.3h0.75M297.3 270.7h0.75M300.7 268.7h0.75M297.8 272.8h0.75M300.0 270.2h0.75M300.4 271.3h0.75M297.9 273.8h0.75M294.0 269.7h0.75M302.3 273.2h0.75M300.1 270.1h0.75M299.5 272.3h0.75M300.7 274.0h0.75M293.8 271.4h0.75M302.8 271.5h0.75M301.8 272.5h0.75M303.6 273.0h0.75M302.1 268.7h0.75M294.7 271.8h0.75M297.4 272.6h0.75M299.1 270.0h0.75M299.3 270.2h0.75M296.6 271.9h0.75M300.2 273.5h0.75M300.1 271.8h0.75M299.4 270.6h0.75M300.4 267.5h0.75M301.0 275.2h0.75M302.5 269.4h0.75M301.2 271.9h0.75M303.7 271.1h0.75M295.9 268.8h0.75M301.4 274.3h0.75M295.8 271.4h0.75M307.5 270.8h0.75M299.5 273.4h0.75M295.0 271.3h0.75M295.5 270.7h0.75M300.2 268.9h0.75M299.8 273.4h0.75M299.2 271.3h0.75M296.2 270.9h0.75M302.2 272.1h0.75M304.2 269.3h0.75M296.8 271.7h0.75M300.1 270.2h0.75M297.5 270.3h0.75M300.6 270.3h0.75M296.5 273.5h0.75M300.6 270.0h0.75M291.7 270.7h0.75M296.3 269.7h0.75M300.9 269.7h0.75M300.3 269.8h0.75M300.9 270.2h0.75M304.4 270.5h0.75M298.3 272.4h0.75M299.2 270.4h0.75M297.1 270.8h0.75M294.2 270.9h0.75M301.5 271.7h0.75M298.6 274.6h0.75M298.2 269.9h0.75M298.1 270.8h0.75M303.1 272.3h0.75M296.0 271.4h0.75M298.8 273.7h0.75M300.8 270.6h0.75M302.1 272.9h0.75M300.7 271.9h0.75M299.9 271.6h0.75M298.8 270.1h0.75M301.0 270.6h0.75M296.1 273.7h0.75M298.7 270.4h0.75M297.1 271.3h0.75M298.9 270.2h0.75M303.3 270.3h0.75M296.4 274.2h0.75M301.3 272.1h0.75M299.7 271.2h0.75M298.1 269.8h0.75M294.3 273.1h0.75M296.6 268.5h0.75M298.5 266.6h0.75M296.7 272.9h0.75M297.5 270.2h0.75M305.1 272.6h0.75M301.2 271.1h0.75M298.8 274.6h0.75M300.2 271.9h0.75M299.2 272.9h0.75M300.5 271.5h0.75M296.9 270.3h0.75M300.4 271.9h0.75M300.9 269.7h0.75M291.5 268.8h0.75M297.3 270.6h0.75M295.0 272.3h0.75M298.6 269.7h0.75M301.6 271.4h0.75M298.0 270.9h0.75M298.1 272.5h0.75M292.5 272.7h0.75M301.1 271.8h0.75M306.5 271.7h0.75M300.4 272.4h0.75M301.3 268.8h0.75M294.4 269.5h0.75M302.9 272.1h0.75M291.5 273.2h0.75M303.1 272.8h0.75M294.5 271.6h0.75M301.3 273.4h0.75M296.5 274.1h0.75M301.8 270.9h0.75M297.1 270.8h0.75M299.2 269.0h0.75M300.5 272.8h0.75M301.0 272.0h0.75M307.7 271.9h0.75M298.1 273.3h0.75M299.3 271.6h0.75M304.9 275.1h0.75M296.2 273.8h0.75M297.5 274.3h0.75M297.0 276.0h0.75M296.8 270.4h0.75M298.6 272.2h0.75M298.9 274.0h0.75M302.3 270.1h0.75M300.8 270.7h0.75M295.8 269.7h0.75M298.5 272.6h0.75M298.6 271.6h0.75M296.5 267.4h0.75M301.6 275.1h0.75M295.5 269.5h0.75M301.7 272.6h0.75M301.9 273.3h0.75M295.2 270.8h0.75M298.4 273.4h0.75M297.2 267.7h0.75M303.0 270.2h0.75M297.4 270.1h0.75M295.9 272.7h0.75M299.4 271.5h0.75M300.3 269.9h0.75M295.7 273.8h0.75M298.2 270.1h0.75M295.2 270.3h0.75M292.2 272.8h0.75M297.7 273.8h0.75M300.2 271.0h0.75M295.8 271.0h0.75M290.2 273.0h0.75M298.0 270.3h0.75M304.6 270.1h0.75M303.5 272.9h0.75M298.0 271.3h0.75M304.0 266.7h0.75M301.7 270.0h0.75M302.2 271.8h0.75M294.8 270.9h0.75M294.8 266.9h0.75M294.1 270.4h0.75M292.7 269.5h0.75M301.0 274.5h0.75M302.4 274.8h0.75M297.8 272.8h0.75M294.5 271.0h0.75M289.6 269.6h0.75M298.7 272.9h0.75M295.0 273.9h0.75M301.3 272.2h0.75M297.6 271.7h0.75M299.3 273.9h0.75M296.0 270.8h0.75M294.8 272.3h0.75M299.5 269.9h0.75M303.3 273.6h0.75M301.2 272.6h0.75M303.4 274.4h0.75M300.4 270.1h0.75M296.8 269.9h0.75M300.2 271.9h0.75M298.3 270.1h0.75M298.1 273.3h0.75M295.5 271.3h0.75M300.4 270.2h0.75M297.7 272.1h0.75M300.5 273.6h0.75M297.8 272.9h0.75M300.7 271.7h0.75M293.0 268.3h0.75M296.8 269.9h0.75M300.9 270.3h0.75M299.5 270.9h0.75M291.6 270.8h0.75M296.3 272.8h0.75M297.7 271.8h0.75M295.7 271.3h0.75M299.4 270.2h0.75M305.1 272.6h0.75M303.4 274.2h0.75M295.4 270.4h0.75M300.4 273.1h0.75M298.5 271.1h0.75M298.9 268.8h0.75M300.5 269.6h0.75M303.0 269.5h0.75M295.8 274.3h0.75M297.8 273.0h0.75M299.4 273.2h0.75M302.6 271.6h0.75M299.2 271.9h0.75M297.5 269.1h0.75M296.9 271.1h0.75M299.2 271.0h0.75M301.3 272.3h0.75M298.9 273.1h0.75M305.1 269.1h0.75M299.2 272.5h0.75M297.4 272.6h0.75M302.6 272.9h0.75M301.3 272.4h0.75M303.2 273.5h0.75M298.0 272.1h0.75M298.4 270.1h0.75M298.2 273.0h0.75M298.2 273.3h0.75M300.3 272.5h0.75M296.1 270.2h0.75M302.1 272.8h0.75M296.6 269.1h0.75M295.5 272.4h0.75M295.8 274.7h0.75M294.2 272.0h0.75M297.6 269.5h0.75M300.4 272.8h0.75M298.2 269.6h0.75M300.8 272.8h0.75M297.4 267.0h0.75M299.0 270.2h0.75M299.0 274.0h0.75M298.3 272.9h0.75M304.0 267.4h0.75M302.0 268.9h0.75M296.7 271.0h0.75M297.2 272.4h0.75M297.0 270.8h0.75M301.1 270.2h0.75M291.5 271.4h0.75M296.8 268.8h0.75M305.4 272.4h0.75M298.1 271.4h0.75M290.6 273.1h0.75M295.8 272.8h0.75M291.6 273.4h0.75M299.3 269.1h0.75M299.1 272.5h0.75M297.6 275.2h0.75M296.7 274.2h0.75M302.1 269.6h0.75M293.4 271.6h0.75M302.8 270.2h0.75M297.3 268.1h0.75M301.5 271.7h0.75M299.1 269.3h0.75M296.4 271.3h0.75M300.6 268.5h0.75M301.1 271.9h0.75M296.0 272.3h0.75M299.9 268.2h0.75M299.4 270.4h0.75M299.6 272.8h0.75M299.1 270.5h0.75M300.0 270.9h0.75M299.6 272.9h0.75M301.2 271.0h0.75M299.2 272.4h0.75M298.4 271.0h0.75M303.5 274.5h0.75M296.9 269.8h0.75M297.9 267.5h0.75M304.0 272.6h0.75M304.8 272.9h0.75M292.2 269.4h0.75M301.7 271.2h0.75M300.5 272.1h0.75M296.1 268.5h0.75M300.5 271.3h0.75M302.0 272.1h0.75M293.7 270.2h0.75M297.4 271.7h0.75M294.5 267.1h0.75M300.7 268.8h0.75M300.1 273.2h0.75M301.6 272.8h0.75M302.1 268.6h0.75M297.0 272.3h0.75M303.3 270.5h0.75M294.5 270.7h0.75M303.6 272.1h0.75M294.0 270.1h0.75M300.5 273.1h0.75M300.9 274.2h0.75M299.4 272.3h0.75M299.8 273.2h0.75M298.8 273.0h0.75M301.0 270.4h0.75M300.4 271.4h0.75M299.2 271.2h0.75M299.5 271.8h0.75M294.8 269.6h0.75M299.0 269.9h0.75M293.9 275.1h0.75M298.3 268.9h0.75M301.4 271.7h0.75M300.1 271.4h0.75M297.8 272.1h0.75M294.4 272.0h0.75M301.7 272.9h0.75M300.9 271.5h0.75M302.4 272.8h0.75M292.7 270.3h0.75M294.6 270.4h0.75M304.4 270.1h0.75M301.4 269.4h0.75M293.9 269.4h0.75M298.1 270.1h0.75M291.7 269.9h0.75M298.8 270.5h0.75M294.9 268.4h0.75M296.5 272.7h0.75M302.1 275.4h0.75M298.4 270.1h0.75M295.5 272.7h0.75M297.1 270.6h0.75M294.7 271.2h0.75M300.6 269.7h0.75M300.0 270.7h0.75M300.3 269.5h0.75M296.7 269.7h0.75M298.7 270.3h0.75M294.8 271.0h0.75M301.5 272.7h0.75M298.8 270.8h0.75M302.6 269.5h0.75M306.1 273.0h0.75M299.9 272.0h0.75M304.1 268.7h0.75M296.2 271.5h0.75" stroke="#000" stroke-width="0.75" opacity="1" fill="none"/>
<rect x="253.8" y="222.5" width="62.8" height="61.8" fill="none" stroke="#444" stroke-width="0.8"/>
<line x1="287.3" y1="222.5" x2="287.3" y2="284.3" stroke="#444" stroke-width="0.7000000000000001"/>
<line x1="253.8" y1="262.3" x2="316.6" y2="262.3" stroke="#444" stroke-width="0.7000000000000001"/>
<rect x="297.3" y="223.1" width="18.4" height="5.2" fill="#fff" opacity="0.85"/>
<rect x="297.3" y="278.5" width="18.4" height="5.2" fill="#fff" opacity="0.85"/>
<text font-size="6.5" transform="translate(254.7 227.6) scale(1.13 1)" fill="#111">0.00</text>
<text font-size="6.5" transform="translate(316.1 227.6) scale(1.13 1)" text-anchor="end" fill="#111">31.06</text>
<text font-size="6.5" transform="translate(254.7 283.5) scale(1.13 1)" fill="#111">0.00</text>
<text font-size="6.5" transform="translate(316.1 283.5) scale(1.13 1)" text-anchor="end" fill="#111">68.94</text>
<text font-size="3.7" x="251.2" y="290.3" font-weight="bold" fill="#333">10<tspan dy="-1.3" font-size="3.0">0</tspan></text>
<text font-size="3.7" x="266.9" y="290.3" font-weight="bold" fill="#333">10<tspan dy="-1.3" font-size="3.0">1</tspan></text>
<text font-size="3.7" x="282.6" y="290.3" font-weight="bold" fill="#333">10<tspan dy="-1.3" font-size="3.0">2</tspan></text>
<text font-size="3.7" x="298.3" y="290.3" font-weight="bold" fill="#333">10<tspan dy="-1.3" font-size="3.0">3</tspan></text>
<text font-size="3.7" x="36.0" y="285.9" font-weight="bold" fill="#333">10<tspan dy="-1.3" font-size="3.0">0</tspan></text>
<text font-size="3.7" x="36.0" y="270.5" font-weight="bold" fill="#333">10<tspan dy="-1.3" font-size="3.0">1</tspan></text>
<text font-size="3.7" x="36.0" y="255.0" font-weight="bold" fill="#333">10<tspan dy="-1.3" font-size="3.0">2</tspan></text>
<text font-size="3.7" x="36.0" y="239.5" font-weight="bold" fill="#333">10<tspan dy="-1.3" font-size="3.0">3</tspan></text>
<text font-size="10" transform="translate(30.3 240.3) rotate(-90)">CD107a</text>
<line x1="27.0" y1="294.7" x2="27.0" y2="256.0" stroke="#000" stroke-width="1.6"/>
<path d="M27.0 251.0L30.2 258.0H23.8Z" fill="#000"/>
<line x1="35.0" y1="300.0" x2="66.2" y2="300.0" stroke="#000" stroke-width="1.6"/>
<path d="M71.2 300.0L64.2 296.8V303.2Z" fill="#000"/>
<text font-size="9.5" x="76.2" y="303.1">CD8</text>
<rect x="393.2" y="196.9" width="66.0" height="110.2" fill="none" stroke="#555" stroke-width="0.9"/>
<line x1="390.7" y1="289.8" x2="393.2" y2="289.8" stroke="#555" stroke-width="0.9"/>
<text font-size="12.6" transform="translate(385.3 294.6) scale(1.12 1)" text-anchor="end">0</text>
<line x1="390.7" y1="271.2" x2="393.2" y2="271.2" stroke="#555" stroke-width="0.9"/>
<text font-size="12.6" transform="translate(385.3 276.0) scale(1.12 1)" text-anchor="end">10</text>
<line x1="390.7" y1="252.6" x2="393.2" y2="252.6" stroke="#555" stroke-width="0.9"/>
<text font-size="12.6" transform="translate(385.3 257.4) scale(1.12 1)" text-anchor="end">20</text>
<line x1="390.7" y1="234.1" x2="393.2" y2="234.1" stroke="#555" stroke-width="0.9"/>
<text font-size="12.6" transform="translate(385.3 238.9) scale(1.12 1)" text-anchor="end">30</text>
<line x1="390.7" y1="215.5" x2="393.2" y2="215.5" stroke="#555" stroke-width="0.9"/>
<text font-size="12.6" transform="translate(385.3 220.3) scale(1.12 1)" text-anchor="end">40</text>
<line x1="390.7" y1="196.9" x2="393.2" y2="196.9" stroke="#555" stroke-width="0.9"/>
<text font-size="12.6" transform="translate(385.3 201.7) scale(1.12 1)" text-anchor="end">50</text>
<line x1="404.6" y1="307.1" x2="404.6" y2="309.6" stroke="#555" stroke-width="0.9"/>
<text font-size="10.8" transform="translate(409.6 316.2) rotate(-47)" text-anchor="end">Stx+/-</text>
<line x1="415.5" y1="307.1" x2="415.5" y2="309.6" stroke="#555" stroke-width="0.9"/>
<text font-size="10.8" transform="translate(420.9 316.2) rotate(-47)" text-anchor="end">Stx-/-</text>
<line x1="426.5" y1="307.1" x2="426.5" y2="309.6" stroke="#555" stroke-width="0.9"/>
<text font-size="10.8" transform="translate(433.7 316.2) rotate(-47)" text-anchor="end">PKO</text>
<line x1="437.4" y1="307.1" x2="437.4" y2="309.6" stroke="#555" stroke-width="0.9"/>
<text font-size="10.8" transform="translate(445.4 316.2) rotate(-47)" text-anchor="end">B6</text>
<line x1="448.2" y1="307.1" x2="448.2" y2="309.6" stroke="#555" stroke-width="0.9"/>
<text font-size="10.8" transform="translate(457.6 316.2) rotate(-47)" text-anchor="end">n.i.</text>
<text font-size="11" transform="translate(363.6 324.2) rotate(-90) scale(1.03 1)">% CD107a<tspan dy="-5" font-size="9" font-weight="bold">+</tspan><tspan dy="5"> of CD8</tspan><tspan dy="-5" font-size="9" font-weight="bold">+</tspan><tspan dy="5"> T cells</tspan></text>
<line x1="399.6" y1="205.5" x2="419.2" y2="205.5" stroke="#222" stroke-width="1.1"/>
<text font-size="9" x="409.9" y="206.4" text-anchor="middle" font-weight="bold" letter-spacing="0.9">***</text>
<circle cx="404.9" cy="223.2" r="2.4" fill="#fff" stroke="#555" stroke-width="0.9"/>
<circle cx="404.1" cy="228.0" r="2.4" fill="#fff" stroke="#555" stroke-width="0.9"/>
<circle cx="405.2" cy="231.8" r="2.4" fill="#fff" stroke="#555" stroke-width="0.9"/>
<circle cx="404.0" cy="233.5" r="2.4" fill="#fff" stroke="#555" stroke-width="0.9"/>
<circle cx="404.6" cy="238.5" r="2.4" fill="#fff" stroke="#555" stroke-width="0.9"/>
<line x1="398.8" y1="231.6" x2="410.4" y2="231.6" stroke="#111" stroke-width="1.4" stroke-dasharray="3.4 1.3"/>
<circle cx="415.7" cy="257.3" r="2.4" fill="#000" stroke="#000" stroke-width="0.9"/>
<circle cx="415.5" cy="262.5" r="2.4" fill="#000" stroke="#000" stroke-width="0.9"/>
<circle cx="415.1" cy="266.3" r="2.4" fill="#000" stroke="#000" stroke-width="0.9"/>
<circle cx="416.0" cy="268.6" r="2.4" fill="#000" stroke="#000" stroke-width="0.9"/>
<circle cx="415.5" cy="270.6" r="2.4" fill="#000" stroke="#000" stroke-width="0.9"/>
<circle cx="415.1" cy="273.0" r="2.4" fill="#000" stroke="#000" stroke-width="0.9"/>
<circle cx="415.7" cy="275.5" r="2.4" fill="#000" stroke="#000" stroke-width="0.9"/>
<circle cx="415.5" cy="279.8" r="2.4" fill="#000" stroke="#000" stroke-width="0.9"/>
<line x1="409.6" y1="270.8" x2="421.4" y2="270.8" stroke="#111" stroke-width="1.4" stroke-dasharray="3.4 1.3"/>
<path d="M426.5 226.2L429.0 230.8H424.0Z" fill="#f4f4f4" stroke="#555" stroke-width="0.9"/>
<path d="M427.0 229.9L429.5 234.5H424.5Z" fill="#f4f4f4" stroke="#555" stroke-width="0.9"/>
<path d="M426.0 233.4L428.5 238.0H423.5Z" fill="#f4f4f4" stroke="#555" stroke-width="0.9"/>
<path d="M426.8 235.9L429.3 240.5H424.3Z" fill="#f4f4f4" stroke="#555" stroke-width="0.9"/>
<path d="M426.5 238.9L429.0 243.5H424.0Z" fill="#f4f4f4" stroke="#555" stroke-width="0.9"/>
<line x1="420.7" y1="235.5" x2="432.3" y2="235.5" stroke="#111" stroke-width="1.4" stroke-dasharray="3.4 1.3"/>
<circle cx="437.4" cy="225.8" r="2.4" fill="#e0e0e0" stroke="#555" stroke-width="0.9"/>
<circle cx="438.0" cy="229.5" r="2.4" fill="#e0e0e0" stroke="#555" stroke-width="0.9"/>
<circle cx="437.0" cy="233.0" r="2.4" fill="#e0e0e0" stroke="#555" stroke-width="0.9"/>
<circle cx="437.8" cy="236.5" r="2.4" fill="#e0e0e0" stroke="#555" stroke-width="0.9"/>
<circle cx="437.4" cy="242.0" r="2.4" fill="#e0e0e0" stroke="#555" stroke-width="0.9"/>
<line x1="431.6" y1="235.5" x2="443.2" y2="235.5" stroke="#111" stroke-width="1.4" stroke-dasharray="3.4 1.3"/>
<rect x="446.1" y="262.2" width="4.14" height="4.14" fill="#000"/>
<rect x="446.9" y="279.7" width="4.14" height="4.14" fill="#000"/>
<rect x="445.6" y="282.7" width="4.14" height="4.14" fill="#000"/>
<rect x="446.1" y="285.4" width="4.14" height="4.14" fill="#000"/>
<line x1="442.8" y1="280.8" x2="453.6" y2="280.8" stroke="#111" stroke-width="1.4" stroke-dasharray="3.4 1.3"/>
<text font-size="13" x="3.0" y="337.6" font-weight="bold">C</text>
<polyline points="72.2,452.7 80.0,452.7 87.8,452.7 95.5,452.7 103.3,452.7 111.1,452.7" fill="none" stroke="#111" stroke-width="0.9"/>
<path d="M72.2 450.4L74.4 454.4H70.0Z" fill="#f4f4f4" stroke="#222" stroke-width="1.0"/>
<path d="M80.0 450.4L82.2 454.4H77.8Z" fill="#f4f4f4" stroke="#222" stroke-width="1.0"/>
<path d="M87.8 450.4L90.0 454.4H85.6Z" fill="#f4f4f4" stroke="#222" stroke-width="1.0"/>
<path d="M95.5 450.4L97.7 454.4H93.3Z" fill="#f4f4f4" stroke="#222" stroke-width="1.0"/>
<path d="M103.3 450.4L105.5 454.4H101.1Z" fill="#f4f4f4" stroke="#222" stroke-width="1.0"/>
<path d="M111.1 450.4L113.3 454.4H108.9Z" fill="#f4f4f4" stroke="#222" stroke-width="1.0"/>
<polyline points="72.2,444.9 80.0,447.7 87.8,450.9 95.5,451.8 103.3,452.2 111.1,452.7" fill="none" stroke="#111" stroke-width="0.9"/>
<circle cx="72.2" cy="444.9" r="2.0" fill="#000" stroke="#000" stroke-width="1.0"/>
<circle cx="80.0" cy="447.7" r="2.0" fill="#000" stroke="#000" stroke-width="1.0"/>
<circle cx="87.8" cy="450.9" r="2.0" fill="#000" stroke="#000" stroke-width="1.0"/>
<circle cx="95.5" cy="451.8" r="2.0" fill="#000" stroke="#000" stroke-width="1.0"/>
<circle cx="103.3" cy="452.2" r="2.0" fill="#000" stroke="#000" stroke-width="1.0"/>
<circle cx="111.1" cy="452.7" r="2.0" fill="#000" stroke="#000" stroke-width="1.0"/>
<polyline points="72.2,381.8 80.0,393.6 87.8,415.4 95.5,439.0 103.3,449.0 111.1,452.7" fill="none" stroke="#111" stroke-width="0.9"/>
<line x1="72.2" y1="377.3" x2="72.2" y2="386.4" stroke="#222" stroke-width="0.9"/>
<line x1="70.6" y1="377.3" x2="73.8" y2="377.3" stroke="#222" stroke-width="0.9"/>
<line x1="70.6" y1="386.4" x2="73.8" y2="386.4" stroke="#222" stroke-width="0.9"/>
<line x1="80.0" y1="390.0" x2="80.0" y2="397.3" stroke="#222" stroke-width="0.9"/>
<line x1="78.4" y1="390.0" x2="81.6" y2="390.0" stroke="#222" stroke-width="0.9"/>
<line x1="78.4" y1="397.3" x2="81.6" y2="397.3" stroke="#222" stroke-width="0.9"/>
<line x1="87.8" y1="410.9" x2="87.8" y2="420.0" stroke="#222" stroke-width="0.9"/>
<line x1="86.2" y1="410.9" x2="89.4" y2="410.9" stroke="#222" stroke-width="0.9"/>
<line x1="86.2" y1="420.0" x2="89.4" y2="420.0" stroke="#222" stroke-width="0.9"/>
<line x1="95.5" y1="435.4" x2="95.5" y2="442.7" stroke="#222" stroke-width="0.9"/>
<line x1="93.9" y1="435.4" x2="97.1" y2="435.4" stroke="#222" stroke-width="0.9"/>
<line x1="93.9" y1="442.7" x2="97.1" y2="442.7" stroke="#222" stroke-width="0.9"/>
<line x1="103.3" y1="447.2" x2="103.3" y2="450.9" stroke="#222" stroke-width="0.9"/>
<line x1="101.7" y1="447.2" x2="104.9" y2="447.2" stroke="#222" stroke-width="0.9"/>
<line x1="101.7" y1="450.9" x2="104.9" y2="450.9" stroke="#222" stroke-width="0.9"/>
<line x1="111.1" y1="450.9" x2="111.1" y2="454.5" stroke="#222" stroke-width="0.9"/>
<line x1="109.5" y1="450.9" x2="112.7" y2="450.9" stroke="#222" stroke-width="0.9"/>
<line x1="109.5" y1="454.5" x2="112.7" y2="454.5" stroke="#222" stroke-width="0.9"/>
<circle cx="72.2" cy="381.8" r="2.0" fill="#fff" stroke="#222" stroke-width="1.0"/>
<circle cx="80.0" cy="393.6" r="2.0" fill="#fff" stroke="#222" stroke-width="1.0"/>
<circle cx="87.8" cy="415.4" r="2.0" fill="#fff" stroke="#222" stroke-width="1.0"/>
<circle cx="95.5" cy="439.0" r="2.0" fill="#fff" stroke="#222" stroke-width="1.0"/>
<circle cx="103.3" cy="449.0" r="2.0" fill="#fff" stroke="#222" stroke-width="1.0"/>
<circle cx="111.1" cy="452.7" r="2.0" fill="#fff" stroke="#222" stroke-width="1.0"/>
<polyline points="72.2,387.3 80.0,403.6 87.8,427.2 95.5,441.8 103.3,450.9 111.1,454.5" fill="none" stroke="#111" stroke-width="0.9"/>
<line x1="72.2" y1="384.6" x2="72.2" y2="390.0" stroke="#222" stroke-width="0.9"/>
<line x1="70.6" y1="384.6" x2="73.8" y2="384.6" stroke="#222" stroke-width="0.9"/>
<line x1="70.6" y1="390.0" x2="73.8" y2="390.0" stroke="#222" stroke-width="0.9"/>
<line x1="80.0" y1="397.3" x2="80.0" y2="410.0" stroke="#222" stroke-width="0.9"/>
<line x1="78.4" y1="397.3" x2="81.6" y2="397.3" stroke="#222" stroke-width="0.9"/>
<line x1="78.4" y1="410.0" x2="81.6" y2="410.0" stroke="#222" stroke-width="0.9"/>
<line x1="87.8" y1="423.6" x2="87.8" y2="430.9" stroke="#222" stroke-width="0.9"/>
<line x1="86.2" y1="423.6" x2="89.4" y2="423.6" stroke="#222" stroke-width="0.9"/>
<line x1="86.2" y1="430.9" x2="89.4" y2="430.9" stroke="#222" stroke-width="0.9"/>
<line x1="95.5" y1="440.0" x2="95.5" y2="443.6" stroke="#222" stroke-width="0.9"/>
<line x1="93.9" y1="440.0" x2="97.1" y2="440.0" stroke="#222" stroke-width="0.9"/>
<line x1="93.9" y1="443.6" x2="97.1" y2="443.6" stroke="#222" stroke-width="0.9"/>
<line x1="103.3" y1="449.9" x2="103.3" y2="451.8" stroke="#222" stroke-width="0.9"/>
<line x1="101.7" y1="449.9" x2="104.9" y2="449.9" stroke="#222" stroke-width="0.9"/>
<line x1="101.7" y1="451.8" x2="104.9" y2="451.8" stroke="#222" stroke-width="0.9"/>
<line x1="111.1" y1="452.2" x2="111.1" y2="456.8" stroke="#222" stroke-width="0.9"/>
<line x1="109.5" y1="452.2" x2="112.7" y2="452.2" stroke="#222" stroke-width="0.9"/>
<line x1="109.5" y1="456.8" x2="112.7" y2="456.8" stroke="#222" stroke-width="0.9"/>
<circle cx="72.2" cy="387.3" r="2.0" fill="#e0e0e0" stroke="#222" stroke-width="1.0"/>
<circle cx="80.0" cy="403.6" r="2.0" fill="#e0e0e0" stroke="#222" stroke-width="1.0"/>
<circle cx="87.8" cy="427.2" r="2.0" fill="#e0e0e0" stroke="#222" stroke-width="1.0"/>
<circle cx="95.5" cy="441.8" r="2.0" fill="#e0e0e0" stroke="#222" stroke-width="1.0"/>
<circle cx="103.3" cy="450.9" r="2.0" fill="#e0e0e0" stroke="#222" stroke-width="1.0"/>
<circle cx="111.1" cy="454.5" r="2.0" fill="#e0e0e0" stroke="#222" stroke-width="1.0"/>
<rect x="64.2" y="365.4" width="55.0" height="91.2" fill="none" stroke="#333" stroke-width="1.0"/>
<text font-size="10.3" x="91.2" y="362.7" text-anchor="middle">GP33</text>
<line x1="62.0" y1="456.3" x2="64.2" y2="456.3" stroke="#555" stroke-width="0.8"/>
<text font-size="9.4" transform="translate(57.8 459.6) scale(1.04 1)" text-anchor="end">0</text>
<line x1="62.0" y1="438.1" x2="64.2" y2="438.1" stroke="#555" stroke-width="0.8"/>
<text font-size="9.4" transform="translate(57.8 441.4) scale(1.04 1)" text-anchor="end">20</text>
<line x1="62.0" y1="420.0" x2="64.2" y2="420.0" stroke="#555" stroke-width="0.8"/>
<text font-size="9.4" transform="translate(57.8 423.3) scale(1.04 1)" text-anchor="end">40</text>
<line x1="62.0" y1="401.8" x2="64.2" y2="401.8" stroke="#555" stroke-width="0.8"/>
<text font-size="9.4" transform="translate(57.8 405.1) scale(1.04 1)" text-anchor="end">60</text>
<line x1="62.0" y1="383.7" x2="64.2" y2="383.7" stroke="#555" stroke-width="0.8"/>
<text font-size="9.4" transform="translate(57.8 387.0) scale(1.04 1)" text-anchor="end">80</text>
<line x1="62.0" y1="365.5" x2="64.2" y2="365.5" stroke="#555" stroke-width="0.8"/>
<text font-size="9.4" transform="translate(57.8 368.8) scale(1.04 1)" text-anchor="end">100</text>
<line x1="72.2" y1="456.6" x2="72.2" y2="458.6" stroke="#555" stroke-width="0.8"/>
<text font-size="7.8" transform="translate(69.0 465.2) rotate(47)">100/1</text>
<line x1="80.0" y1="456.6" x2="80.0" y2="458.6" stroke="#555" stroke-width="0.8"/>
<text font-size="7.8" transform="translate(76.8 465.2) rotate(47)">33/1</text>
<line x1="87.8" y1="456.6" x2="87.8" y2="458.6" stroke="#555" stroke-width="0.8"/>
<text font-size="7.8" transform="translate(84.6 465.2) rotate(47)">11/1</text>
<line x1="95.5" y1="456.6" x2="95.5" y2="458.6" stroke="#555" stroke-width="0.8"/>
<text font-size="7.8" transform="translate(92.3 465.2) rotate(47)">3.7/1</text>
<line x1="103.3" y1="456.6" x2="103.3" y2="458.6" stroke="#555" stroke-width="0.8"/>
<text font-size="7.8" transform="translate(100.1 465.2) rotate(47)">1.2/1</text>
<line x1="111.1" y1="456.6" x2="111.1" y2="458.6" stroke="#555" stroke-width="0.8"/>
<text font-size="7.8" transform="translate(107.9 465.2) rotate(47)">0.4/1</text>
<polyline points="138.3,454.0 146.1,454.0 153.9,454.0 161.6,454.0 169.4,454.0 177.2,454.0" fill="none" stroke="#111" stroke-width="0.9"/>
<circle cx="138.3" cy="454.0" r="2.0" fill="#000" stroke="#000" stroke-width="1.0"/>
<circle cx="146.1" cy="454.0" r="2.0" fill="#000" stroke="#000" stroke-width="1.0"/>
<circle cx="153.9" cy="454.0" r="2.0" fill="#000" stroke="#000" stroke-width="1.0"/>
<circle cx="161.6" cy="454.0" r="2.0" fill="#000" stroke="#000" stroke-width="1.0"/>
<circle cx="169.4" cy="454.0" r="2.0" fill="#000" stroke="#000" stroke-width="1.0"/>
<circle cx="177.2" cy="454.0" r="2.0" fill="#000" stroke="#000" stroke-width="1.0"/>
<polyline points="138.3,454.0 146.1,454.0 153.9,454.0 161.6,454.0 169.4,454.0 177.2,454.0" fill="none" stroke="#111" stroke-width="0.9"/>
<path d="M138.3 452.5L139.7 455.2H136.9Z" fill="#f4f4f4" stroke="#222" stroke-width="1.0"/>
<path d="M146.1 452.5L147.5 455.2H144.7Z" fill="#f4f4f4" stroke="#222" stroke-width="1.0"/>
<path d="M153.9 452.5L155.3 455.2H152.4Z" fill="#f4f4f4" stroke="#222" stroke-width="1.0"/>
<path d="M161.6 452.5L163.1 455.2H160.2Z" fill="#f4f4f4" stroke="#222" stroke-width="1.0"/>
<path d="M169.4 452.5L170.9 455.2H168.0Z" fill="#f4f4f4" stroke="#222" stroke-width="1.0"/>
<path d="M177.2 452.5L178.6 455.2H175.8Z" fill="#f4f4f4" stroke="#222" stroke-width="1.0"/>
<polyline points="138.3,414.5 146.1,426.3 153.9,438.1 161.6,450.9 169.4,453.6 177.2,454.5" fill="none" stroke="#111" stroke-width="0.9"/>
<line x1="138.3" y1="406.4" x2="138.3" y2="422.7" stroke="#222" stroke-width="0.9"/>
<line x1="136.7" y1="406.4" x2="139.9" y2="406.4" stroke="#222" stroke-width="0.9"/>
<line x1="136.7" y1="422.7" x2="139.9" y2="422.7" stroke="#222" stroke-width="0.9"/>
<line x1="146.1" y1="419.1" x2="146.1" y2="433.6" stroke="#222" stroke-width="0.9"/>
<line x1="144.5" y1="419.1" x2="147.7" y2="419.1" stroke="#222" stroke-width="0.9"/>
<line x1="144.5" y1="433.6" x2="147.7" y2="433.6" stroke="#222" stroke-width="0.9"/>
<line x1="153.9" y1="433.6" x2="153.9" y2="442.7" stroke="#222" stroke-width="0.9"/>
<line x1="152.3" y1="433.6" x2="155.5" y2="433.6" stroke="#222" stroke-width="0.9"/>
<line x1="152.3" y1="442.7" x2="155.5" y2="442.7" stroke="#222" stroke-width="0.9"/>
<line x1="161.6" y1="448.1" x2="161.6" y2="453.6" stroke="#222" stroke-width="0.9"/>
<line x1="160.0" y1="448.1" x2="163.2" y2="448.1" stroke="#222" stroke-width="0.9"/>
<line x1="160.0" y1="453.6" x2="163.2" y2="453.6" stroke="#222" stroke-width="0.9"/>
<circle cx="138.3" cy="414.5" r="2.0" fill="#fff" stroke="#222" stroke-width="1.0"/>
<circle cx="146.1" cy="426.3" r="2.0" fill="#fff" stroke="#222" stroke-width="1.0"/>
<circle cx="153.9" cy="438.1" r="2.0" fill="#fff" stroke="#222" stroke-width="1.0"/>
<circle cx="161.6" cy="450.9" r="2.0" fill="#fff" stroke="#222" stroke-width="1.0"/>
<circle cx="169.4" cy="453.6" r="2.0" fill="#fff" stroke="#222" stroke-width="1.0"/>
<circle cx="177.2" cy="454.5" r="2.0" fill="#fff" stroke="#222" stroke-width="1.0"/>
<polyline points="138.3,419.1 146.1,431.8 153.9,445.4 161.6,453.1 169.4,454.0 177.2,454.9" fill="none" stroke="#111" stroke-width="0.9"/>
<line x1="138.3" y1="416.3" x2="138.3" y2="421.8" stroke="#222" stroke-width="0.9"/>
<line x1="136.7" y1="416.3" x2="139.9" y2="416.3" stroke="#222" stroke-width="0.9"/>
<line x1="136.7" y1="421.8" x2="139.9" y2="421.8" stroke="#222" stroke-width="0.9"/>
<line x1="146.1" y1="428.2" x2="146.1" y2="435.4" stroke="#222" stroke-width="0.9"/>
<line x1="144.5" y1="428.2" x2="147.7" y2="428.2" stroke="#222" stroke-width="0.9"/>
<line x1="144.5" y1="435.4" x2="147.7" y2="435.4" stroke="#222" stroke-width="0.9"/>
<line x1="153.9" y1="442.7" x2="153.9" y2="448.1" stroke="#222" stroke-width="0.9"/>
<line x1="152.3" y1="442.7" x2="155.5" y2="442.7" stroke="#222" stroke-width="0.9"/>
<line x1="152.3" y1="448.1" x2="155.5" y2="448.1" stroke="#222" stroke-width="0.9"/>
<circle cx="138.3" cy="419.1" r="2.0" fill="#e0e0e0" stroke="#222" stroke-width="1.0"/>
<circle cx="146.1" cy="431.8" r="2.0" fill="#e0e0e0" stroke="#222" stroke-width="1.0"/>
<circle cx="153.9" cy="445.4" r="2.0" fill="#e0e0e0" stroke="#222" stroke-width="1.0"/>
<circle cx="161.6" cy="453.1" r="2.0" fill="#e0e0e0" stroke="#222" stroke-width="1.0"/>
<circle cx="169.4" cy="454.0" r="2.0" fill="#e0e0e0" stroke="#222" stroke-width="1.0"/>
<circle cx="177.2" cy="454.9" r="2.0" fill="#e0e0e0" stroke="#222" stroke-width="1.0"/>
<rect x="130.3" y="365.4" width="55.7" height="91.2" fill="none" stroke="#333" stroke-width="1.0"/>
<text font-size="10.3" x="157.8" y="362.7" text-anchor="middle">NP396</text>
<line x1="128.1" y1="456.3" x2="130.3" y2="456.3" stroke="#555" stroke-width="0.8"/>
<line x1="128.1" y1="438.1" x2="130.3" y2="438.1" stroke="#555" stroke-width="0.8"/>
<line x1="128.1" y1="420.0" x2="130.3" y2="420.0" stroke="#555" stroke-width="0.8"/>
<line x1="128.1" y1="401.8" x2="130.3" y2="401.8" stroke="#555" stroke-width="0.8"/>
<line x1="128.1" y1="383.7" x2="130.3" y2="383.7" stroke="#555" stroke-width="0.8"/>
<line x1="128.1" y1="365.5" x2="130.3" y2="365.5" stroke="#555" stroke-width="0.8"/>
<line x1="138.3" y1="456.6" x2="138.3" y2="458.6" stroke="#555" stroke-width="0.8"/>
<text font-size="7.8" transform="translate(135.1 465.2) rotate(47)">100/1</text>
<line x1="146.1" y1="456.6" x2="146.1" y2="458.6" stroke="#555" stroke-width="0.8"/>
<text font-size="7.8" transform="translate(142.9 465.2) rotate(47)">33/1</text>
<line x1="153.9" y1="456.6" x2="153.9" y2="458.6" stroke="#555" stroke-width="0.8"/>
<text font-size="7.8" transform="translate(150.7 465.2) rotate(47)">11/1</text>
<line x1="161.6" y1="456.6" x2="161.6" y2="458.6" stroke="#555" stroke-width="0.8"/>
<text font-size="7.8" transform="translate(158.4 465.2) rotate(47)">3.7/1</text>
<line x1="169.4" y1="456.6" x2="169.4" y2="458.6" stroke="#555" stroke-width="0.8"/>
<text font-size="7.8" transform="translate(166.2 465.2) rotate(47)">1.2/1</text>
<line x1="177.2" y1="456.6" x2="177.2" y2="458.6" stroke="#555" stroke-width="0.8"/>
<text font-size="7.8" transform="translate(174.0 465.2) rotate(47)">0.4/1</text>
<polyline points="204.2,452.7 212.0,451.8 219.8,450.9 227.5,451.8 235.3,452.7 243.1,453.6" fill="none" stroke="#111" stroke-width="0.9"/>
<line x1="204.2" y1="450.9" x2="204.2" y2="454.5" stroke="#222" stroke-width="0.9"/>
<line x1="202.6" y1="450.9" x2="205.8" y2="450.9" stroke="#222" stroke-width="0.9"/>
<line x1="202.6" y1="454.5" x2="205.8" y2="454.5" stroke="#222" stroke-width="0.9"/>
<line x1="212.0" y1="449.0" x2="212.0" y2="454.5" stroke="#222" stroke-width="0.9"/>
<line x1="210.4" y1="449.0" x2="213.6" y2="449.0" stroke="#222" stroke-width="0.9"/>
<line x1="210.4" y1="454.5" x2="213.6" y2="454.5" stroke="#222" stroke-width="0.9"/>
<line x1="219.8" y1="447.2" x2="219.8" y2="454.5" stroke="#222" stroke-width="0.9"/>
<line x1="218.2" y1="447.2" x2="221.4" y2="447.2" stroke="#222" stroke-width="0.9"/>
<line x1="218.2" y1="454.5" x2="221.4" y2="454.5" stroke="#222" stroke-width="0.9"/>
<line x1="227.5" y1="449.9" x2="227.5" y2="453.6" stroke="#222" stroke-width="0.9"/>
<line x1="225.9" y1="449.9" x2="229.1" y2="449.9" stroke="#222" stroke-width="0.9"/>
<line x1="225.9" y1="453.6" x2="229.1" y2="453.6" stroke="#222" stroke-width="0.9"/>
<line x1="235.3" y1="449.9" x2="235.3" y2="455.4" stroke="#222" stroke-width="0.9"/>
<line x1="233.7" y1="449.9" x2="236.9" y2="449.9" stroke="#222" stroke-width="0.9"/>
<line x1="233.7" y1="455.4" x2="236.9" y2="455.4" stroke="#222" stroke-width="0.9"/>
<line x1="243.1" y1="451.8" x2="243.1" y2="455.4" stroke="#222" stroke-width="0.9"/>
<line x1="241.5" y1="451.8" x2="244.7" y2="451.8" stroke="#222" stroke-width="0.9"/>
<line x1="241.5" y1="455.4" x2="244.7" y2="455.4" stroke="#222" stroke-width="0.9"/>
<circle cx="204.2" cy="452.7" r="2.0" fill="#000" stroke="#000" stroke-width="1.0"/>
<circle cx="212.0" cy="451.8" r="2.0" fill="#000" stroke="#000" stroke-width="1.0"/>
<circle cx="219.8" cy="450.9" r="2.0" fill="#000" stroke="#000" stroke-width="1.0"/>
<circle cx="227.5" cy="451.8" r="2.0" fill="#000" stroke="#000" stroke-width="1.0"/>
<circle cx="235.3" cy="452.7" r="2.0" fill="#000" stroke="#000" stroke-width="1.0"/>
<circle cx="243.1" cy="453.6" r="2.0" fill="#000" stroke="#000" stroke-width="1.0"/>
<polyline points="204.2,451.8 212.0,452.7 219.8,451.8 227.5,450.9 235.3,452.7 243.1,451.8" fill="none" stroke="#111" stroke-width="0.9"/>
<line x1="204.2" y1="449.0" x2="204.2" y2="454.5" stroke="#222" stroke-width="0.9"/>
<line x1="202.6" y1="449.0" x2="205.8" y2="449.0" stroke="#222" stroke-width="0.9"/>
<line x1="202.6" y1="454.5" x2="205.8" y2="454.5" stroke="#222" stroke-width="0.9"/>
<line x1="212.0" y1="449.9" x2="212.0" y2="455.4" stroke="#222" stroke-width="0.9"/>
<line x1="210.4" y1="449.9" x2="213.6" y2="449.9" stroke="#222" stroke-width="0.9"/>
<line x1="210.4" y1="455.4" x2="213.6" y2="455.4" stroke="#222" stroke-width="0.9"/>
<line x1="219.8" y1="448.1" x2="219.8" y2="455.4" stroke="#222" stroke-width="0.9"/>
<line x1="218.2" y1="448.1" x2="221.4" y2="448.1" stroke="#222" stroke-width="0.9"/>
<line x1="218.2" y1="455.4" x2="221.4" y2="455.4" stroke="#222" stroke-width="0.9"/>
<line x1="227.5" y1="448.1" x2="227.5" y2="453.6" stroke="#222" stroke-width="0.9"/>
<line x1="225.9" y1="448.1" x2="229.1" y2="448.1" stroke="#222" stroke-width="0.9"/>
<line x1="225.9" y1="453.6" x2="229.1" y2="453.6" stroke="#222" stroke-width="0.9"/>
<line x1="235.3" y1="449.9" x2="235.3" y2="455.4" stroke="#222" stroke-width="0.9"/>
<line x1="233.7" y1="449.9" x2="236.9" y2="449.9" stroke="#222" stroke-width="0.9"/>
<line x1="233.7" y1="455.4" x2="236.9" y2="455.4" stroke="#222" stroke-width="0.9"/>
<line x1="243.1" y1="448.1" x2="243.1" y2="455.4" stroke="#222" stroke-width="0.9"/>
<line x1="241.5" y1="448.1" x2="244.7" y2="448.1" stroke="#222" stroke-width="0.9"/>
<line x1="241.5" y1="455.4" x2="244.7" y2="455.4" stroke="#222" stroke-width="0.9"/>
<path d="M204.2 449.5L206.4 453.5H202.0Z" fill="#f4f4f4" stroke="#222" stroke-width="1.0"/>
<path d="M212.0 450.4L214.2 454.4H209.8Z" fill="#f4f4f4" stroke="#222" stroke-width="1.0"/>
<path d="M219.8 449.5L222.0 453.5H217.6Z" fill="#f4f4f4" stroke="#222" stroke-width="1.0"/>
<path d="M227.5 448.6L229.7 452.6H225.3Z" fill="#f4f4f4" stroke="#222" stroke-width="1.0"/>
<path d="M235.3 450.4L237.5 454.4H233.1Z" fill="#f4f4f4" stroke="#222" stroke-width="1.0"/>
<path d="M243.1 449.5L245.3 453.5H240.9Z" fill="#f4f4f4" stroke="#222" stroke-width="1.0"/>
<polyline points="204.2,451.8 212.0,450.9 219.8,451.8 227.5,451.8 235.3,451.8 243.1,454.5" fill="none" stroke="#111" stroke-width="0.9"/>
<line x1="204.2" y1="449.0" x2="204.2" y2="454.5" stroke="#222" stroke-width="0.9"/>
<line x1="202.6" y1="449.0" x2="205.8" y2="449.0" stroke="#222" stroke-width="0.9"/>
<line x1="202.6" y1="454.5" x2="205.8" y2="454.5" stroke="#222" stroke-width="0.9"/>
<line x1="212.0" y1="448.1" x2="212.0" y2="453.6" stroke="#222" stroke-width="0.9"/>
<line x1="210.4" y1="448.1" x2="213.6" y2="448.1" stroke="#222" stroke-width="0.9"/>
<line x1="210.4" y1="453.6" x2="213.6" y2="453.6" stroke="#222" stroke-width="0.9"/>
<line x1="219.8" y1="448.1" x2="219.8" y2="455.4" stroke="#222" stroke-width="0.9"/>
<line x1="218.2" y1="448.1" x2="221.4" y2="448.1" stroke="#222" stroke-width="0.9"/>
<line x1="218.2" y1="455.4" x2="221.4" y2="455.4" stroke="#222" stroke-width="0.9"/>
<line x1="227.5" y1="448.1" x2="227.5" y2="455.4" stroke="#222" stroke-width="0.9"/>
<line x1="225.9" y1="448.1" x2="229.1" y2="448.1" stroke="#222" stroke-width="0.9"/>
<line x1="225.9" y1="455.4" x2="229.1" y2="455.4" stroke="#222" stroke-width="0.9"/>
<line x1="235.3" y1="449.0" x2="235.3" y2="454.5" stroke="#222" stroke-width="0.9"/>
<line x1="233.7" y1="449.0" x2="236.9" y2="449.0" stroke="#222" stroke-width="0.9"/>
<line x1="233.7" y1="454.5" x2="236.9" y2="454.5" stroke="#222" stroke-width="0.9"/>
<line x1="243.1" y1="451.8" x2="243.1" y2="457.2" stroke="#222" stroke-width="0.9"/>
<line x1="241.5" y1="451.8" x2="244.7" y2="451.8" stroke="#222" stroke-width="0.9"/>
<line x1="241.5" y1="457.2" x2="244.7" y2="457.2" stroke="#222" stroke-width="0.9"/>
<circle cx="204.2" cy="451.8" r="2.0" fill="#fff" stroke="#222" stroke-width="1.0"/>
<circle cx="212.0" cy="450.9" r="2.0" fill="#fff" stroke="#222" stroke-width="1.0"/>
<circle cx="219.8" cy="451.8" r="2.0" fill="#fff" stroke="#222" stroke-width="1.0"/>
<circle cx="227.5" cy="451.8" r="2.0" fill="#fff" stroke="#222" stroke-width="1.0"/>
<circle cx="235.3" cy="451.8" r="2.0" fill="#fff" stroke="#222" stroke-width="1.0"/>
<circle cx="243.1" cy="454.5" r="2.0" fill="#fff" stroke="#222" stroke-width="1.0"/>
<polyline points="204.2,453.6 212.0,451.8 219.8,452.7 227.5,450.9 235.3,453.6 243.1,455.4" fill="none" stroke="#111" stroke-width="0.9"/>
<line x1="204.2" y1="451.8" x2="204.2" y2="455.4" stroke="#222" stroke-width="0.9"/>
<line x1="202.6" y1="451.8" x2="205.8" y2="451.8" stroke="#222" stroke-width="0.9"/>
<line x1="202.6" y1="455.4" x2="205.8" y2="455.4" stroke="#222" stroke-width="0.9"/>
<line x1="212.0" y1="449.0" x2="212.0" y2="454.5" stroke="#222" stroke-width="0.9"/>
<line x1="210.4" y1="449.0" x2="213.6" y2="449.0" stroke="#222" stroke-width="0.9"/>
<line x1="210.4" y1="454.5" x2="213.6" y2="454.5" stroke="#222" stroke-width="0.9"/>
<line x1="219.8" y1="449.9" x2="219.8" y2="455.4" stroke="#222" stroke-width="0.9"/>
<line x1="218.2" y1="449.9" x2="221.4" y2="449.9" stroke="#222" stroke-width="0.9"/>
<line x1="218.2" y1="455.4" x2="221.4" y2="455.4" stroke="#222" stroke-width="0.9"/>
<line x1="227.5" y1="448.1" x2="227.5" y2="453.6" stroke="#222" stroke-width="0.9"/>
<line x1="225.9" y1="448.1" x2="229.1" y2="448.1" stroke="#222" stroke-width="0.9"/>
<line x1="225.9" y1="453.6" x2="229.1" y2="453.6" stroke="#222" stroke-width="0.9"/>
<line x1="235.3" y1="451.8" x2="235.3" y2="455.4" stroke="#222" stroke-width="0.9"/>
<line x1="233.7" y1="451.8" x2="236.9" y2="451.8" stroke="#222" stroke-width="0.9"/>
<line x1="233.7" y1="455.4" x2="236.9" y2="455.4" stroke="#222" stroke-width="0.9"/>
<line x1="243.1" y1="453.6" x2="243.1" y2="457.2" stroke="#222" stroke-width="0.9"/>
<line x1="241.5" y1="453.6" x2="244.7" y2="453.6" stroke="#222" stroke-width="0.9"/>
<line x1="241.5" y1="457.2" x2="244.7" y2="457.2" stroke="#222" stroke-width="0.9"/>
<circle cx="204.2" cy="453.6" r="2.0" fill="#e0e0e0" stroke="#222" stroke-width="1.0"/>
<circle cx="212.0" cy="451.8" r="2.0" fill="#e0e0e0" stroke="#222" stroke-width="1.0"/>
<circle cx="219.8" cy="452.7" r="2.0" fill="#e0e0e0" stroke="#222" stroke-width="1.0"/>
<circle cx="227.5" cy="450.9" r="2.0" fill="#e0e0e0" stroke="#222" stroke-width="1.0"/>
<circle cx="235.3" cy="453.6" r="2.0" fill="#e0e0e0" stroke="#222" stroke-width="1.0"/>
<circle cx="243.1" cy="455.4" r="2.0" fill="#e0e0e0" stroke="#222" stroke-width="1.0"/>
<rect x="196.2" y="365.4" width="56.6" height="91.2" fill="none" stroke="#333" stroke-width="1.0"/>
<text font-size="10.3" x="223.8" y="362.7" text-anchor="middle">adeno</text>
<line x1="194.0" y1="456.3" x2="196.2" y2="456.3" stroke="#555" stroke-width="0.8"/>
<line x1="194.0" y1="438.1" x2="196.2" y2="438.1" stroke="#555" stroke-width="0.8"/>
<line x1="194.0" y1="420.0" x2="196.2" y2="420.0" stroke="#555" stroke-width="0.8"/>
<line x1="194.0" y1="401.8" x2="196.2" y2="401.8" stroke="#555" stroke-width="0.8"/>
<line x1="194.0" y1="383.7" x2="196.2" y2="383.7" stroke="#555" stroke-width="0.8"/>
<line x1="194.0" y1="365.5" x2="196.2" y2="365.5" stroke="#555" stroke-width="0.8"/>
<line x1="204.2" y1="456.6" x2="204.2" y2="458.6" stroke="#555" stroke-width="0.8"/>
<text font-size="7.8" transform="translate(201.0 465.2) rotate(47)">100/1</text>
<line x1="212.0" y1="456.6" x2="212.0" y2="458.6" stroke="#555" stroke-width="0.8"/>
<text font-size="7.8" transform="translate(208.8 465.2) rotate(47)">33/1</text>
<line x1="219.8" y1="456.6" x2="219.8" y2="458.6" stroke="#555" stroke-width="0.8"/>
<text font-size="7.8" transform="translate(216.6 465.2) rotate(47)">11/1</text>
<line x1="227.5" y1="456.6" x2="227.5" y2="458.6" stroke="#555" stroke-width="0.8"/>
<text font-size="7.8" transform="translate(224.3 465.2) rotate(47)">3.7/1</text>
<line x1="235.3" y1="456.6" x2="235.3" y2="458.6" stroke="#555" stroke-width="0.8"/>
<text font-size="7.8" transform="translate(232.1 465.2) rotate(47)">1.2/1</text>
<line x1="243.1" y1="456.6" x2="243.1" y2="458.6" stroke="#555" stroke-width="0.8"/>
<text font-size="7.8" transform="translate(239.9 465.2) rotate(47)">0.4/1</text>
<text font-size="9.5" transform="translate(33.2 451.6) rotate(-90) scale(1.08 1)">% specific lysis</text>
<text font-size="9.8" transform="translate(138.6 493.7) scale(1.06 1)">E:T-Ratio</text>
<circle cx="92.6" cy="372.1" r="2.0" fill="#fff" stroke="#222" stroke-width="0.9"/>
<text font-size="5.3" transform="translate(102.2 373.9) scale(1.12 1)" fill="#333">Stx+/-</text>
<circle cx="92.6" cy="379.0" r="2.0" fill="#000" stroke="#000" stroke-width="0.9"/>
<text font-size="5.3" transform="translate(102.2 380.8) scale(1.12 1)" fill="#333">Stx-/-</text>
<path d="M92.6 383.5L94.8 387.5H90.4Z" fill="#f4f4f4" stroke="#222" stroke-width="0.9"/>
<text font-size="5.3" transform="translate(102.2 387.6) scale(1.12 1)" fill="#333">PKO</text>
<circle cx="92.6" cy="392.7" r="2.0" fill="#e0e0e0" stroke="#222" stroke-width="0.9"/>
<text font-size="5.3" transform="translate(102.2 394.5) scale(1.12 1)" fill="#333">B6</text>
<text font-size="13" x="273.9" y="337.8" font-weight="bold">D</text>
<text font-size="10.2" x="336.8" y="369.5" text-anchor="middle" font-weight="bold" font-style="italic">ex vivo</text>
<text font-size="10.2" x="448.2" y="369.5" text-anchor="middle" font-weight="bold" font-style="italic">serum</text>
<line x1="313.2" y1="384.5" x2="313.2" y2="455.6" stroke="#aaa" stroke-width="0.9"/>
<line x1="313.2" y1="455.6" x2="377.2" y2="455.6" stroke="#aaa" stroke-width="0.9"/>
<line x1="310.8" y1="455.6" x2="313.2" y2="455.6" stroke="#aaa" stroke-width="0.9"/>
<text font-size="9.2" x="308.5" y="458.9" text-anchor="end">0</text>
<line x1="310.8" y1="431.9" x2="313.2" y2="431.9" stroke="#aaa" stroke-width="0.9"/>
<text font-size="9.2" x="308.5" y="435.2" text-anchor="end">5</text>
<line x1="310.8" y1="408.2" x2="313.2" y2="408.2" stroke="#aaa" stroke-width="0.9"/>
<text font-size="9.2" x="308.5" y="411.5" text-anchor="end">10</text>
<line x1="310.8" y1="384.5" x2="313.2" y2="384.5" stroke="#aaa" stroke-width="0.9"/>
<text font-size="9.2" x="308.5" y="387.8" text-anchor="end">15</text>
<line x1="327.0" y1="450.1" x2="327.0" y2="451.1" stroke="#666" stroke-width="0.8"/>
<line x1="325.6" y1="450.1" x2="328.4" y2="450.1" stroke="#666" stroke-width="0.8"/>
<rect x="322.4" y="451.1" width="9.3" height="4.5" fill="#fff" stroke="#555" stroke-width="0.8"/>
<line x1="341.8" y1="405.4" x2="341.8" y2="414.1" stroke="#666" stroke-width="0.8"/>
<line x1="340.4" y1="405.4" x2="343.2" y2="405.4" stroke="#666" stroke-width="0.8"/>
<rect x="337.4" y="414.1" width="8.8" height="41.5" fill="#000" stroke="#000" stroke-width="0.8"/>
<line x1="356.4" y1="386.4" x2="356.4" y2="394.5" stroke="#666" stroke-width="0.8"/>
<line x1="355.0" y1="386.4" x2="357.8" y2="386.4" stroke="#666" stroke-width="0.8"/>
<rect x="351.8" y="394.5" width="9.2" height="61.1" fill="#c9c9c9" stroke="#888" stroke-width="0.8"/>
<line x1="371.1" y1="452.3" x2="371.1" y2="454.2" stroke="#666" stroke-width="0.8"/>
<line x1="369.8" y1="452.3" x2="372.5" y2="452.3" stroke="#666" stroke-width="0.8"/>
<rect x="366.5" y="454.2" width="9.3" height="1.4" fill="#bbb" stroke="#777" stroke-width="0.8"/>
<line x1="321.5" y1="386.3" x2="341.2" y2="386.3" stroke="#222" stroke-width="1.2"/>
<text font-size="9" x="332.6" y="387.0" text-anchor="middle" font-weight="bold" letter-spacing="0.9">***</text>
<text font-size="10.5" transform="translate(327.6 462.1) rotate(-47)" text-anchor="end">Stx+/-</text>
<text font-size="10.5" transform="translate(343.4 462.4) rotate(-47)" text-anchor="end">Stx-/-</text>
<text font-size="10.5" transform="translate(361.4 464.6) rotate(-47)" text-anchor="end">PKO</text>
<text font-size="10.5" transform="translate(375.6 465.6) rotate(-47)" text-anchor="end">B6</text>
<text font-size="8.2" transform="translate(295.8 467.3) rotate(-90) scale(1.04 1)">% IFNγ<tspan dy="-3" font-size="7" font-weight="bold">+</tspan><tspan dy="3"> of CD8</tspan><tspan dy="-3" font-size="7" font-weight="bold">+</tspan><tspan dy="3"> T cells</tspan></text>
<line x1="419.6" y1="384.5" x2="419.6" y2="456.5" stroke="#aaa" stroke-width="0.9"/>
<line x1="419.6" y1="456.5" x2="488.0" y2="456.5" stroke="#aaa" stroke-width="0.9"/>
<line x1="417.2" y1="456.5" x2="419.6" y2="456.5" stroke="#aaa" stroke-width="0.9"/>
<text font-size="8.6" x="415.2" y="459.6" text-anchor="end">0</text>
<line x1="417.2" y1="438.5" x2="419.6" y2="438.5" stroke="#aaa" stroke-width="0.9"/>
<text font-size="8.6" x="415.2" y="441.6" text-anchor="end">10</text>
<line x1="417.2" y1="420.5" x2="419.6" y2="420.5" stroke="#aaa" stroke-width="0.9"/>
<text font-size="8.6" x="415.2" y="423.6" text-anchor="end">20</text>
<line x1="417.2" y1="402.5" x2="419.6" y2="402.5" stroke="#aaa" stroke-width="0.9"/>
<text font-size="8.6" x="415.2" y="405.6" text-anchor="end">30</text>
<line x1="417.2" y1="384.5" x2="419.6" y2="384.5" stroke="#aaa" stroke-width="0.9"/>
<text font-size="8.6" x="415.2" y="387.6" text-anchor="end">40</text>
<line x1="449.7" y1="386.3" x2="449.7" y2="394.4" stroke="#666" stroke-width="0.8"/>
<line x1="448.3" y1="386.3" x2="451.1" y2="386.3" stroke="#666" stroke-width="0.8"/>
<rect x="445.4" y="394.4" width="8.6" height="62.1" fill="#000" stroke="#000" stroke-width="0.8"/>
<line x1="464.3" y1="389.5" x2="464.3" y2="404.3" stroke="#666" stroke-width="0.8"/>
<line x1="462.9" y1="389.5" x2="465.7" y2="389.5" stroke="#666" stroke-width="0.8"/>
<rect x="460.2" y="404.3" width="8.2" height="52.2" fill="#c9c9c9" stroke="#888" stroke-width="0.8"/>
<text font-size="10.2" x="424.4" y="454.3">n.d.</text>
<text font-size="10.2" x="471.4" y="454.3">n.d.</text>
<line x1="428.2" y1="386.3" x2="447.0" y2="386.3" stroke="#222" stroke-width="1.2"/>
<text font-size="9" x="438.4" y="387.0" text-anchor="middle" font-weight="bold" letter-spacing="0.9">***</text>
<text font-size="10.5" transform="translate(434.6 462.9) rotate(-47)" text-anchor="end">Stx+/-</text>
<text font-size="10.5" transform="translate(451.3 462.9) rotate(-47)" text-anchor="end">Stx-/-</text>
<text font-size="10.5" transform="translate(469.6 464.4) rotate(-47)" text-anchor="end">PKO</text>
<text font-size="10.5" transform="translate(484.6 465.5) rotate(-47)" text-anchor="end">B6</text>
<text font-size="7.6" transform="translate(401.4 444.3) rotate(-90) scale(1.15 1)">IFNγ [ng/mL]</text>
<text font-size="13" x="3.1" y="513.2" font-weight="bold">E</text>
<line x1="79.5" y1="616.9" x2="81.5" y2="616.9" stroke="#999" stroke-width="0.8"/>
<text font-size="9.5" transform="translate(59.8 620.8) scale(1.03 1)">10<tspan dy="-4.3" font-size="6.6">1</tspan></text>
<line x1="79.5" y1="602.8" x2="81.5" y2="602.8" stroke="#999" stroke-width="0.8"/>
<text font-size="9.5" transform="translate(59.8 606.7) scale(1.03 1)">10<tspan dy="-4.3" font-size="6.6">2</tspan></text>
<line x1="79.5" y1="588.7" x2="81.5" y2="588.7" stroke="#999" stroke-width="0.8"/>
<text font-size="9.5" transform="translate(59.8 592.6) scale(1.03 1)">10<tspan dy="-4.3" font-size="6.6">3</tspan></text>
<line x1="79.5" y1="574.7" x2="81.5" y2="574.7" stroke="#999" stroke-width="0.8"/>
<text font-size="9.5" transform="translate(59.8 578.6) scale(1.03 1)">10<tspan dy="-4.3" font-size="6.6">4</tspan></text>
<line x1="79.5" y1="560.6" x2="81.5" y2="560.6" stroke="#999" stroke-width="0.8"/>
<text font-size="9.5" transform="translate(59.8 564.5) scale(1.03 1)">10<tspan dy="-4.3" font-size="6.6">5</tspan></text>
<line x1="79.5" y1="546.5" x2="81.5" y2="546.5" stroke="#999" stroke-width="0.8"/>
<text font-size="9.5" transform="translate(59.8 550.4) scale(1.03 1)">10<tspan dy="-4.3" font-size="6.6">6</tspan></text>
<line x1="79.5" y1="532.4" x2="81.5" y2="532.4" stroke="#999" stroke-width="0.8"/>
<text font-size="9.5" transform="translate(59.8 536.3) scale(1.03 1)">10<tspan dy="-4.3" font-size="6.6">7</tspan></text>
<line x1="79.5" y1="518.3" x2="81.5" y2="518.3" stroke="#999" stroke-width="0.8"/>
<text font-size="9.5" transform="translate(59.8 522.2) scale(1.03 1)">10<tspan dy="-4.3" font-size="6.6">8</tspan></text>
<line x1="81.5" y1="518.3" x2="246.4" y2="518.3" stroke="#999" stroke-width="0.8"/>
<line x1="81.5" y1="616.9" x2="246.4" y2="616.9" stroke="#999" stroke-width="0.8"/>
<line x1="81.5" y1="518.3" x2="81.5" y2="616.9" stroke="#999" stroke-width="0.8"/>
<line x1="122.5" y1="518.3" x2="122.5" y2="616.9" stroke="#999" stroke-width="0.8"/>
<line x1="164.3" y1="518.3" x2="164.3" y2="616.9" stroke="#999" stroke-width="0.8"/>
<line x1="205.5" y1="518.3" x2="205.5" y2="616.9" stroke="#999" stroke-width="0.8"/>
<line x1="246.4" y1="518.3" x2="246.4" y2="616.9" stroke="#999" stroke-width="0.8"/>
<line x1="89.7" y1="616.9" x2="89.7" y2="618.9" stroke="#999" stroke-width="0.7"/>
<line x1="97.9" y1="616.9" x2="97.9" y2="618.9" stroke="#999" stroke-width="0.7"/>
<line x1="106.1" y1="616.9" x2="106.1" y2="618.9" stroke="#999" stroke-width="0.7"/>
<line x1="114.3" y1="616.9" x2="114.3" y2="618.9" stroke="#999" stroke-width="0.7"/>
<line x1="130.9" y1="616.9" x2="130.9" y2="618.9" stroke="#999" stroke-width="0.7"/>
<line x1="139.2" y1="616.9" x2="139.2" y2="618.9" stroke="#999" stroke-width="0.7"/>
<line x1="147.6" y1="616.9" x2="147.6" y2="618.9" stroke="#999" stroke-width="0.7"/>
<line x1="155.9" y1="616.9" x2="155.9" y2="618.9" stroke="#999" stroke-width="0.7"/>
<line x1="172.5" y1="616.9" x2="172.5" y2="618.9" stroke="#999" stroke-width="0.7"/>
<line x1="180.8" y1="616.9" x2="180.8" y2="618.9" stroke="#999" stroke-width="0.7"/>
<line x1="189.0" y1="616.9" x2="189.0" y2="618.9" stroke="#999" stroke-width="0.7"/>
<line x1="197.3" y1="616.9" x2="197.3" y2="618.9" stroke="#999" stroke-width="0.7"/>
<line x1="213.7" y1="616.9" x2="213.7" y2="618.9" stroke="#999" stroke-width="0.7"/>
<line x1="221.9" y1="616.9" x2="221.9" y2="618.9" stroke="#999" stroke-width="0.7"/>
<line x1="230.0" y1="616.9" x2="230.0" y2="618.9" stroke="#999" stroke-width="0.7"/>
<line x1="238.2" y1="616.9" x2="238.2" y2="618.9" stroke="#999" stroke-width="0.7"/>
<text font-size="10.2" x="90.6" y="515.3">spleen</text>
<text font-size="10.2" x="138.8" y="515.3">liver</text>
<text font-size="10.2" x="175.6" y="516.0">lungs</text>
<text font-size="10.2" x="212.2" y="516.8">kidney</text>
<line x1="82.0" y1="602.8" x2="122.0" y2="602.8" stroke="#333" stroke-width="1.2"/>
<line x1="123.0" y1="588.7" x2="163.8" y2="588.7" stroke="#333" stroke-width="1.2"/>
<line x1="164.8" y1="602.8" x2="205.0" y2="602.8" stroke="#333" stroke-width="1.2"/>
<line x1="206.0" y1="602.8" x2="245.9" y2="602.8" stroke="#333" stroke-width="1.2"/>
<text font-size="10.3" transform="translate(55.0 591.5) rotate(-90)">pfu/ organ</text>
<circle cx="96.6" cy="526.0" r="2.3" fill="#000" stroke="#000" stroke-width="0.9"/>
<circle cx="97.7" cy="527.5" r="2.3" fill="#000" stroke="#000" stroke-width="0.9"/>
<circle cx="98.5" cy="529.3" r="2.3" fill="#000" stroke="#000" stroke-width="0.9"/>
<circle cx="98.9" cy="530.4" r="2.3" fill="#000" stroke="#000" stroke-width="0.9"/>
<circle cx="97.7" cy="532.1" r="2.3" fill="#000" stroke="#000" stroke-width="0.9"/>
<circle cx="96.5" cy="533.7" r="2.3" fill="#000" stroke="#000" stroke-width="0.9"/>
<circle cx="98.0" cy="534.9" r="2.3" fill="#000" stroke="#000" stroke-width="0.9"/>
<circle cx="98.5" cy="536.9" r="2.3" fill="#000" stroke="#000" stroke-width="0.9"/>
<circle cx="97.9" cy="538.7" r="2.3" fill="#000" stroke="#000" stroke-width="0.9"/>
<circle cx="98.5" cy="539.7" r="2.3" fill="#000" stroke="#000" stroke-width="0.9"/>
<circle cx="98.1" cy="541.6" r="2.3" fill="#000" stroke="#000" stroke-width="0.9"/>
<circle cx="98.4" cy="542.8" r="2.3" fill="#000" stroke="#000" stroke-width="0.9"/>
<circle cx="99.0" cy="544.1" r="2.3" fill="#000" stroke="#000" stroke-width="0.9"/>
<circle cx="96.7" cy="546.0" r="2.3" fill="#000" stroke="#000" stroke-width="0.9"/>
<path d="M107.9 523.0L110.3 527.4H105.5Z" fill="#f4f4f4" stroke="#555" stroke-width="0.9"/>
<path d="M106.4 524.6L108.8 529.0H104.0Z" fill="#f4f4f4" stroke="#555" stroke-width="0.9"/>
<path d="M107.5 527.3L109.9 531.7H105.0Z" fill="#f4f4f4" stroke="#555" stroke-width="0.9"/>
<path d="M107.3 529.6L109.7 534.0H104.9Z" fill="#f4f4f4" stroke="#555" stroke-width="0.9"/>
<path d="M108.6 531.5L111.0 536.0H106.1Z" fill="#f4f4f4" stroke="#555" stroke-width="0.9"/>
<path d="M107.7 533.0L110.2 537.4H105.3Z" fill="#f4f4f4" stroke="#555" stroke-width="0.9"/>
<path d="M108.4 535.5L110.8 540.0H106.0Z" fill="#f4f4f4" stroke="#555" stroke-width="0.9"/>
<path d="M107.1 538.0L109.5 542.4H104.6Z" fill="#f4f4f4" stroke="#555" stroke-width="0.9"/>
<path d="M106.7 540.2L109.2 544.6H104.3Z" fill="#f4f4f4" stroke="#555" stroke-width="0.9"/>
<path d="M106.5 542.0L108.9 546.4H104.1Z" fill="#f4f4f4" stroke="#555" stroke-width="0.9"/>
<line x1="93.3" y1="536.0" x2="112.0" y2="536.0" stroke="#111" stroke-width="1.1"/>
<circle cx="138.7" cy="529.0" r="2.3" fill="#000" stroke="#000" stroke-width="0.9"/>
<circle cx="140.3" cy="530.1" r="2.3" fill="#000" stroke="#000" stroke-width="0.9"/>
<circle cx="141.1" cy="530.7" r="2.3" fill="#000" stroke="#000" stroke-width="0.9"/>
<circle cx="140.3" cy="531.5" r="2.3" fill="#000" stroke="#000" stroke-width="0.9"/>
<circle cx="138.5" cy="532.6" r="2.3" fill="#000" stroke="#000" stroke-width="0.9"/>
<circle cx="140.1" cy="533.5" r="2.3" fill="#000" stroke="#000" stroke-width="0.9"/>
<circle cx="139.3" cy="534.1" r="2.3" fill="#000" stroke="#000" stroke-width="0.9"/>
<circle cx="137.5" cy="535.2" r="2.3" fill="#000" stroke="#000" stroke-width="0.9"/>
<circle cx="137.8" cy="536.1" r="2.3" fill="#000" stroke="#000" stroke-width="0.9"/>
<circle cx="138.9" cy="537.0" r="2.3" fill="#000" stroke="#000" stroke-width="0.9"/>
<circle cx="139.5" cy="537.7" r="2.3" fill="#000" stroke="#000" stroke-width="0.9"/>
<circle cx="137.8" cy="538.9" r="2.3" fill="#000" stroke="#000" stroke-width="0.9"/>
<circle cx="140.5" cy="539.6" r="2.3" fill="#000" stroke="#000" stroke-width="0.9"/>
<circle cx="137.7" cy="540.5" r="2.3" fill="#000" stroke="#000" stroke-width="0.9"/>
<circle cx="137.7" cy="541.4" r="2.3" fill="#000" stroke="#000" stroke-width="0.9"/>
<circle cx="137.7" cy="542.2" r="2.3" fill="#000" stroke="#000" stroke-width="0.9"/>
<circle cx="137.4" cy="543.2" r="2.3" fill="#000" stroke="#000" stroke-width="0.9"/>
<circle cx="137.1" cy="543.9" r="2.3" fill="#000" stroke="#000" stroke-width="0.9"/>
<circle cx="137.5" cy="544.9" r="2.3" fill="#000" stroke="#000" stroke-width="0.9"/>
<circle cx="139.8" cy="545.5" r="2.3" fill="#000" stroke="#000" stroke-width="0.9"/>
<circle cx="137.2" cy="546.6" r="2.3" fill="#000" stroke="#000" stroke-width="0.9"/>
<circle cx="136.6" cy="547.5" r="2.3" fill="#000" stroke="#000" stroke-width="0.9"/>
<path d="M148.2 527.5L150.6 531.9H145.7Z" fill="#f4f4f4" stroke="#555" stroke-width="0.9"/>
<path d="M148.4 530.0L150.8 534.4H146.0Z" fill="#f4f4f4" stroke="#555" stroke-width="0.9"/>
<path d="M148.1 533.2L150.5 537.7H145.7Z" fill="#f4f4f4" stroke="#555" stroke-width="0.9"/>
<path d="M149.8 536.5L152.2 540.9H147.3Z" fill="#f4f4f4" stroke="#555" stroke-width="0.9"/>
<path d="M148.4 539.4L150.8 543.8H145.9Z" fill="#f4f4f4" stroke="#555" stroke-width="0.9"/>
<path d="M148.5 541.8L150.9 546.3H146.0Z" fill="#f4f4f4" stroke="#555" stroke-width="0.9"/>
<path d="M148.0 543.9L150.4 548.3H145.6Z" fill="#f4f4f4" stroke="#555" stroke-width="0.9"/>
<path d="M147.1 547.5L149.5 551.9H144.6Z" fill="#f4f4f4" stroke="#555" stroke-width="0.9"/>
<path d="M148.2 550.0L150.6 554.4H145.8Z" fill="#f4f4f4" stroke="#555" stroke-width="0.9"/>
<line x1="133.0" y1="538.8" x2="153.5" y2="538.8" stroke="#111" stroke-width="1.1"/>
<circle cx="179.3" cy="542.5" r="2.3" fill="#000" stroke="#000" stroke-width="0.9"/>
<circle cx="180.3" cy="544.4" r="2.3" fill="#000" stroke="#000" stroke-width="0.9"/>
<circle cx="181.8" cy="545.5" r="2.3" fill="#000" stroke="#000" stroke-width="0.9"/>
<circle cx="180.4" cy="547.2" r="2.3" fill="#000" stroke="#000" stroke-width="0.9"/>
<circle cx="179.6" cy="548.8" r="2.3" fill="#000" stroke="#000" stroke-width="0.9"/>
<circle cx="181.9" cy="550.1" r="2.3" fill="#000" stroke="#000" stroke-width="0.9"/>
<circle cx="179.4" cy="551.6" r="2.3" fill="#000" stroke="#000" stroke-width="0.9"/>
<circle cx="180.6" cy="553.4" r="2.3" fill="#000" stroke="#000" stroke-width="0.9"/>
<circle cx="181.1" cy="554.4" r="2.3" fill="#000" stroke="#000" stroke-width="0.9"/>
<circle cx="179.2" cy="556.3" r="2.3" fill="#000" stroke="#000" stroke-width="0.9"/>
<circle cx="182.2" cy="557.9" r="2.3" fill="#000" stroke="#000" stroke-width="0.9"/>
<circle cx="181.9" cy="559.1" r="2.3" fill="#000" stroke="#000" stroke-width="0.9"/>
<circle cx="181.3" cy="560.6" r="2.3" fill="#000" stroke="#000" stroke-width="0.9"/>
<circle cx="179.6" cy="562.0" r="2.3" fill="#000" stroke="#000" stroke-width="0.9"/>
<path d="M189.0 544.4L191.6 549.0H186.5Z" fill="#f4f4f4" stroke="#555" stroke-width="0.9"/>
<path d="M188.7 548.3L191.3 553.0H186.2Z" fill="#f4f4f4" stroke="#555" stroke-width="0.9"/>
<path d="M188.8 551.7L191.3 556.3H186.3Z" fill="#f4f4f4" stroke="#555" stroke-width="0.9"/>
<path d="M188.6 555.6L191.1 560.2H186.1Z" fill="#f4f4f4" stroke="#555" stroke-width="0.9"/>
<path d="M188.3 558.2L190.8 562.8H185.8Z" fill="#f4f4f4" stroke="#555" stroke-width="0.9"/>
<path d="M188.5 561.3L191.0 565.9H185.9Z" fill="#f4f4f4" stroke="#555" stroke-width="0.9"/>
<path d="M188.4 565.5L190.9 570.1H185.8Z" fill="#f4f4f4" stroke="#555" stroke-width="0.9"/>
<path d="M188.7 568.4L191.3 573.0H186.2Z" fill="#f4f4f4" stroke="#555" stroke-width="0.9"/>
<path d="M188.7 572.4L191.2 577.0H186.2Z" fill="#f4f4f4" stroke="#555" stroke-width="0.9"/>
<line x1="176.0" y1="553.8" x2="185.0" y2="553.8" stroke="#111" stroke-width="1.1"/>
<line x1="184.5" y1="557.2" x2="194.0" y2="557.2" stroke="#111" stroke-width="1.1"/>
<circle cx="221.8" cy="547.5" r="2.3" fill="#000" stroke="#000" stroke-width="0.9"/>
<circle cx="220.6" cy="556.0" r="2.3" fill="#000" stroke="#000" stroke-width="0.9"/>
<circle cx="221.4" cy="557.9" r="2.3" fill="#000" stroke="#000" stroke-width="0.9"/>
<circle cx="222.0" cy="559.4" r="2.3" fill="#000" stroke="#000" stroke-width="0.9"/>
<circle cx="222.7" cy="560.9" r="2.3" fill="#000" stroke="#000" stroke-width="0.9"/>
<circle cx="222.7" cy="562.4" r="2.3" fill="#000" stroke="#000" stroke-width="0.9"/>
<circle cx="222.1" cy="564.3" r="2.3" fill="#000" stroke="#000" stroke-width="0.9"/>
<circle cx="223.3" cy="565.8" r="2.3" fill="#000" stroke="#000" stroke-width="0.9"/>
<circle cx="221.6" cy="567.7" r="2.3" fill="#000" stroke="#000" stroke-width="0.9"/>
<circle cx="222.2" cy="569.3" r="2.3" fill="#000" stroke="#000" stroke-width="0.9"/>
<circle cx="221.6" cy="570.5" r="2.3" fill="#000" stroke="#000" stroke-width="0.9"/>
<circle cx="220.4" cy="572.6" r="2.3" fill="#000" stroke="#000" stroke-width="0.9"/>
<circle cx="222.0" cy="574.3" r="2.3" fill="#000" stroke="#000" stroke-width="0.9"/>
<circle cx="222.9" cy="575.5" r="2.3" fill="#000" stroke="#000" stroke-width="0.9"/>
<circle cx="223.1" cy="577.5" r="2.3" fill="#000" stroke="#000" stroke-width="0.9"/>
<path d="M229.9 559.9L232.4 564.5H227.4Z" fill="#f4f4f4" stroke="#555" stroke-width="0.9"/>
<path d="M229.8 564.0L232.3 568.6H227.2Z" fill="#f4f4f4" stroke="#555" stroke-width="0.9"/>
<path d="M228.9 567.3L231.5 571.9H226.4Z" fill="#f4f4f4" stroke="#555" stroke-width="0.9"/>
<path d="M229.0 572.2L231.5 576.8H226.5Z" fill="#f4f4f4" stroke="#555" stroke-width="0.9"/>
<path d="M229.9 575.9L232.4 580.6H227.4Z" fill="#f4f4f4" stroke="#555" stroke-width="0.9"/>
<path d="M229.8 579.9L232.3 584.5H227.2Z" fill="#f4f4f4" stroke="#555" stroke-width="0.9"/>
<path d="M229.5 583.0L232.1 587.7H227.0Z" fill="#f4f4f4" stroke="#555" stroke-width="0.9"/>
<path d="M229.0 587.9L231.5 592.5H226.4Z" fill="#f4f4f4" stroke="#555" stroke-width="0.9"/>
<line x1="216.5" y1="560.0" x2="226.0" y2="560.0" stroke="#111" stroke-width="1.1"/>
<line x1="225.0" y1="576.3" x2="235.0" y2="576.3" stroke="#111" stroke-width="1.1"/>
<line x1="220.8" y1="531.3" x2="232.5" y2="531.3" stroke="#222" stroke-width="1.1"/>
<text font-size="9" x="226.6" y="532.0" text-anchor="middle" font-weight="bold">*</text>
<ellipse cx="90.0" cy="606.8" rx="4.0" ry="2.3" fill="#f2f2f2" stroke="#333" stroke-width="0.9"/>
<path d="M90.0 604.2L92.1 608.0H87.9Z" fill="#fff" stroke="#333" stroke-width="0.8"/>
<line x1="84.5" y1="608.3" x2="95.5" y2="608.3" stroke="#111" stroke-width="1.1"/>
<ellipse cx="113.8" cy="606.8" rx="4.0" ry="2.3" fill="#f2f2f2" stroke="#333" stroke-width="0.9"/>
<path d="M113.8 604.2L115.9 608.0H111.7Z" fill="#fff" stroke="#333" stroke-width="0.8"/>
<line x1="108.3" y1="608.3" x2="119.3" y2="608.3" stroke="#111" stroke-width="1.1"/>
<ellipse cx="131.3" cy="606.8" rx="4.0" ry="2.3" fill="#f2f2f2" stroke="#333" stroke-width="0.9"/>
<path d="M131.3 604.2L133.4 608.0H129.2Z" fill="#fff" stroke="#333" stroke-width="0.8"/>
<line x1="125.8" y1="608.3" x2="136.8" y2="608.3" stroke="#111" stroke-width="1.1"/>
<ellipse cx="156.3" cy="606.8" rx="4.0" ry="2.3" fill="#f2f2f2" stroke="#333" stroke-width="0.9"/>
<path d="M156.3 604.2L158.4 608.0H154.2Z" fill="#fff" stroke="#333" stroke-width="0.8"/>
<line x1="150.8" y1="608.3" x2="161.8" y2="608.3" stroke="#111" stroke-width="1.1"/>
<ellipse cx="172.5" cy="606.8" rx="4.0" ry="2.3" fill="#f2f2f2" stroke="#333" stroke-width="0.9"/>
<path d="M172.5 604.2L174.6 608.0H170.4Z" fill="#fff" stroke="#333" stroke-width="0.8"/>
<line x1="167.0" y1="608.3" x2="178.0" y2="608.3" stroke="#111" stroke-width="1.1"/>
<ellipse cx="197.5" cy="606.8" rx="4.0" ry="2.3" fill="#f2f2f2" stroke="#333" stroke-width="0.9"/>
<path d="M197.5 604.2L199.6 608.0H195.4Z" fill="#fff" stroke="#333" stroke-width="0.8"/>
<line x1="192.0" y1="608.3" x2="203.0" y2="608.3" stroke="#111" stroke-width="1.1"/>
<ellipse cx="213.0" cy="606.8" rx="4.0" ry="2.3" fill="#f2f2f2" stroke="#333" stroke-width="0.9"/>
<path d="M213.0 604.2L215.1 608.0H210.9Z" fill="#fff" stroke="#333" stroke-width="0.8"/>
<line x1="207.5" y1="608.3" x2="218.5" y2="608.3" stroke="#111" stroke-width="1.1"/>
<ellipse cx="238.8" cy="606.8" rx="4.0" ry="2.3" fill="#f2f2f2" stroke="#333" stroke-width="0.9"/>
<path d="M238.8 604.2L240.9 608.0H236.7Z" fill="#fff" stroke="#333" stroke-width="0.8"/>
<line x1="233.3" y1="608.3" x2="244.3" y2="608.3" stroke="#111" stroke-width="1.1"/>
<defs><pattern id="h" width="3.6" height="3.6" patternUnits="userSpaceOnUse" patternTransform="rotate(-45)"><rect width="3.6" height="3.6" fill="#fff"/><rect width="3.6" height="1.9" fill="#222"/></pattern></defs>
<rect x="278.0" y="541.0" width="11.6" height="5.6" fill="#fff" stroke="#111" stroke-width="1.1"/>
<text font-size="10.7" x="295.2" y="547.0">Stx+/-</text>
<rect x="278.0" y="551.8" width="11.6" height="5.6" fill="#000" stroke="#111" stroke-width="1.1"/>
<text font-size="10.7" x="295.2" y="557.8">Stx-/-</text>
<rect x="278.0" y="562.6" width="11.6" height="5.6" fill="#c9c9c9" stroke="#111" stroke-width="1.1"/>
<text font-size="10.7" x="295.2" y="568.6">PKO</text>
<rect x="278.0" y="573.4" width="11.6" height="5.6" fill="url(#h)" stroke="#111" stroke-width="1.1"/>
<text font-size="10.7" x="295.2" y="579.4">B6</text>
</svg>
</body></html>
